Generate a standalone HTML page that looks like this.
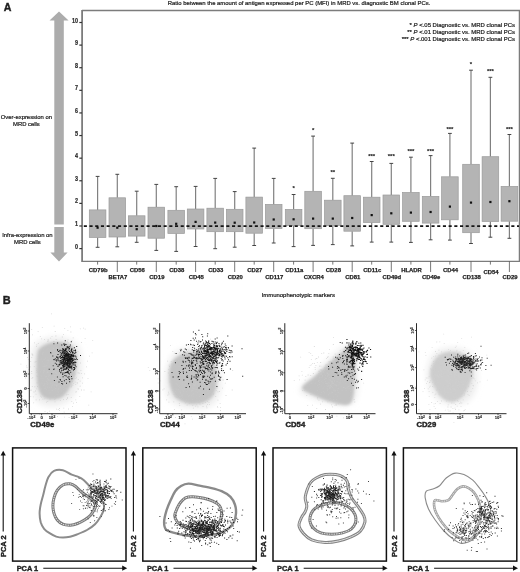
<!DOCTYPE html>
<html><head><meta charset="utf-8"><style>
html,body{margin:0;padding:0;background:#fff;}
body{width:520px;height:572px;overflow:hidden;}
svg{display:block;font-family:"Liberation Sans", sans-serif;filter:grayscale(1);}
text{stroke:#1e1e1e;stroke-width:0.22px;}
text.b{stroke-width:0.1px;}
text.h{stroke-width:0.4px;}
text.x{stroke-width:0.25px;}
</style></head><body>
<svg width="520" height="572" viewBox="0 0 520 572">
<defs>
<filter id="blur2" x="-50%" y="-50%" width="200%" height="200%"><feGaussianBlur stdDeviation="3"/></filter>
<filter id="blurc" x="-50%" y="-50%" width="200%" height="200%"><feGaussianBlur stdDeviation="1.6"/></filter>
<filter id="blur1" x="-50%" y="-50%" width="200%" height="200%"><feGaussianBlur stdDeviation="0.35"/></filter>
</defs>
<rect width="520" height="572" fill="#fff"/>
<text x="3.7" y="10.8" font-size="10.6" font-weight="bold" fill="#1e1e1e" class="h">A</text>
<polygon points="59,11.5 68.6,20.6 63.8,20.6 63.8,224.6 54.3,224.6 54.3,20.6 49.5,20.6" fill="#acacac"/>
<polygon points="54.3,227 63.8,227 63.8,252.6 67.6,252.6 59,261.4 50.4,252.6 54.3,252.6" fill="#acacac"/>
<text x="26.4" y="118.9" font-size="5.9" text-anchor="middle" fill="#1e1e1e">Over-expression on</text>
<text x="26.4" y="126.4" font-size="5.9" text-anchor="middle" fill="#1e1e1e">MRD cells</text>
<text x="27.4" y="236.7" font-size="5.9" text-anchor="middle" fill="#1e1e1e">Infra-expression on</text>
<text x="27.4" y="243.9" font-size="5.9" text-anchor="middle" fill="#1e1e1e">MRD cells</text>
<text x="167.7" y="5.2" font-size="5.93" fill="#1e1e1e">Ratio between the amount of antigen expressed per PC (MFI) in MRD vs. diagnostic BM clonal PCs.</text>
<text x="515" y="27.0" font-size="5.96" text-anchor="end" fill="#1e1e1e">* <tspan font-style="italic">P</tspan> &lt;.05 Diagnostic vs. MRD clonal PCs</text>
<text x="515" y="34.4" font-size="5.96" text-anchor="end" fill="#1e1e1e">** <tspan font-style="italic">P</tspan> &lt;.01 Diagnostic vs. MRD clonal PCs</text>
<text x="515" y="41.4" font-size="5.96" text-anchor="end" fill="#1e1e1e">*** <tspan font-style="italic">P</tspan> &lt;.001 Diagnostic vs. MRD clonal PCs</text>
<path d="M82,10.5 H519.4 V261.3 H82" fill="none" stroke="#7c7c7c" stroke-width="1.3"/>
<line x1="82.1" y1="9.9" x2="82.1" y2="262" stroke="#7c7c7c" stroke-width="1.8"/>
<line x1="79.3" y1="248.60" x2="82" y2="248.60" stroke="#333" stroke-width="1.2"/>
<text x="78" y="248.70" font-size="6.4" text-anchor="end" font-weight="bold" fill="#333" transform="translate(78 0) scale(0.85 1) translate(-78 0)">0</text>
<line x1="79.3" y1="225.99" x2="82" y2="225.99" stroke="#333" stroke-width="1.2"/>
<text x="78" y="226.09" font-size="6.4" text-anchor="end" font-weight="bold" fill="#333" transform="translate(78 0) scale(0.85 1) translate(-78 0)">1</text>
<line x1="79.3" y1="203.38" x2="82" y2="203.38" stroke="#333" stroke-width="1.2"/>
<text x="78" y="203.48" font-size="6.4" text-anchor="end" font-weight="bold" fill="#333" transform="translate(78 0) scale(0.85 1) translate(-78 0)">2</text>
<line x1="79.3" y1="180.77" x2="82" y2="180.77" stroke="#333" stroke-width="1.2"/>
<text x="78" y="180.87" font-size="6.4" text-anchor="end" font-weight="bold" fill="#333" transform="translate(78 0) scale(0.85 1) translate(-78 0)">3</text>
<line x1="79.3" y1="158.16" x2="82" y2="158.16" stroke="#333" stroke-width="1.2"/>
<text x="78" y="158.26" font-size="6.4" text-anchor="end" font-weight="bold" fill="#333" transform="translate(78 0) scale(0.85 1) translate(-78 0)">4</text>
<line x1="79.3" y1="135.55" x2="82" y2="135.55" stroke="#333" stroke-width="1.2"/>
<text x="78" y="135.65" font-size="6.4" text-anchor="end" font-weight="bold" fill="#333" transform="translate(78 0) scale(0.85 1) translate(-78 0)">5</text>
<line x1="79.3" y1="112.94" x2="82" y2="112.94" stroke="#333" stroke-width="1.2"/>
<text x="78" y="113.04" font-size="6.4" text-anchor="end" font-weight="bold" fill="#333" transform="translate(78 0) scale(0.85 1) translate(-78 0)">6</text>
<line x1="79.3" y1="90.33" x2="82" y2="90.33" stroke="#333" stroke-width="1.2"/>
<text x="78" y="90.43" font-size="6.4" text-anchor="end" font-weight="bold" fill="#333" transform="translate(78 0) scale(0.85 1) translate(-78 0)">7</text>
<line x1="79.3" y1="67.72" x2="82" y2="67.72" stroke="#333" stroke-width="1.2"/>
<text x="78" y="67.82" font-size="6.4" text-anchor="end" font-weight="bold" fill="#333" transform="translate(78 0) scale(0.85 1) translate(-78 0)">8</text>
<line x1="79.3" y1="45.11" x2="82" y2="45.11" stroke="#333" stroke-width="1.2"/>
<text x="78" y="45.21" font-size="6.4" text-anchor="end" font-weight="bold" fill="#333" transform="translate(78 0) scale(0.85 1) translate(-78 0)">9</text>
<line x1="79.3" y1="22.50" x2="82" y2="22.50" stroke="#333" stroke-width="1.2"/>
<text x="78" y="22.60" font-size="6.4" text-anchor="end" font-weight="bold" fill="#333" transform="translate(78 0) scale(0.85 1) translate(-78 0)">10</text>
<line x1="97.60" y1="176.4" x2="97.60" y2="209.9" stroke="#808080" stroke-width="1.2"/>
<line x1="97.60" y1="237.5" x2="97.60" y2="247.3" stroke="#808080" stroke-width="1.2"/>
<line x1="95.70" y1="176.4" x2="99.50" y2="176.4" stroke="#444" stroke-width="1"/>
<line x1="95.70" y1="247.3" x2="99.50" y2="247.3" stroke="#444" stroke-width="1"/>
<rect x="89.30" y="209.9" width="16.6" height="27.60" fill="#b4b4b4" stroke="#9a9a9a" stroke-width="0.7"/>
<line x1="117.30" y1="174.3" x2="117.30" y2="197.8" stroke="#808080" stroke-width="1.2"/>
<line x1="117.30" y1="237.0" x2="117.30" y2="246.8" stroke="#808080" stroke-width="1.2"/>
<line x1="115.40" y1="174.3" x2="119.20" y2="174.3" stroke="#444" stroke-width="1"/>
<line x1="115.40" y1="246.8" x2="119.20" y2="246.8" stroke="#444" stroke-width="1"/>
<rect x="109.00" y="197.8" width="16.6" height="39.20" fill="#b4b4b4" stroke="#9a9a9a" stroke-width="0.7"/>
<line x1="136.70" y1="191.2" x2="136.70" y2="215.8" stroke="#808080" stroke-width="1.2"/>
<line x1="136.70" y1="236.1" x2="136.70" y2="242.3" stroke="#808080" stroke-width="1.2"/>
<line x1="134.80" y1="191.2" x2="138.60" y2="191.2" stroke="#444" stroke-width="1"/>
<line x1="134.80" y1="242.3" x2="138.60" y2="242.3" stroke="#444" stroke-width="1"/>
<rect x="128.40" y="215.8" width="16.6" height="20.30" fill="#b4b4b4" stroke="#9a9a9a" stroke-width="0.7"/>
<line x1="156.30" y1="184.4" x2="156.30" y2="207.2" stroke="#808080" stroke-width="1.2"/>
<line x1="156.30" y1="238.2" x2="156.30" y2="250.4" stroke="#808080" stroke-width="1.2"/>
<line x1="154.40" y1="184.4" x2="158.20" y2="184.4" stroke="#444" stroke-width="1"/>
<line x1="154.40" y1="250.4" x2="158.20" y2="250.4" stroke="#444" stroke-width="1"/>
<rect x="148.00" y="207.2" width="16.6" height="31.00" fill="#b4b4b4" stroke="#9a9a9a" stroke-width="0.7"/>
<line x1="176.20" y1="186.7" x2="176.20" y2="210.3" stroke="#808080" stroke-width="1.2"/>
<line x1="176.20" y1="233.4" x2="176.20" y2="251.4" stroke="#808080" stroke-width="1.2"/>
<line x1="174.30" y1="186.7" x2="178.10" y2="186.7" stroke="#444" stroke-width="1"/>
<line x1="174.30" y1="251.4" x2="178.10" y2="251.4" stroke="#444" stroke-width="1"/>
<rect x="167.90" y="210.3" width="16.6" height="23.10" fill="#b4b4b4" stroke="#9a9a9a" stroke-width="0.7"/>
<line x1="195.60" y1="186.4" x2="195.60" y2="209.0" stroke="#808080" stroke-width="1.2"/>
<line x1="195.60" y1="229.0" x2="195.60" y2="246.5" stroke="#808080" stroke-width="1.2"/>
<line x1="193.70" y1="186.4" x2="197.50" y2="186.4" stroke="#444" stroke-width="1"/>
<line x1="193.70" y1="246.5" x2="197.50" y2="246.5" stroke="#444" stroke-width="1"/>
<rect x="187.30" y="209.0" width="16.6" height="20.00" fill="#b4b4b4" stroke="#9a9a9a" stroke-width="0.7"/>
<line x1="215.20" y1="178.4" x2="215.20" y2="208.2" stroke="#808080" stroke-width="1.2"/>
<line x1="215.20" y1="231.7" x2="215.20" y2="248.7" stroke="#808080" stroke-width="1.2"/>
<line x1="213.30" y1="178.4" x2="217.10" y2="178.4" stroke="#444" stroke-width="1"/>
<line x1="213.30" y1="248.7" x2="217.10" y2="248.7" stroke="#444" stroke-width="1"/>
<rect x="206.90" y="208.2" width="16.6" height="23.50" fill="#b4b4b4" stroke="#9a9a9a" stroke-width="0.7"/>
<line x1="234.70" y1="191.6" x2="234.70" y2="209.3" stroke="#808080" stroke-width="1.2"/>
<line x1="234.70" y1="231.7" x2="234.70" y2="247.2" stroke="#808080" stroke-width="1.2"/>
<line x1="232.80" y1="191.6" x2="236.60" y2="191.6" stroke="#444" stroke-width="1"/>
<line x1="232.80" y1="247.2" x2="236.60" y2="247.2" stroke="#444" stroke-width="1"/>
<rect x="226.40" y="209.3" width="16.6" height="22.40" fill="#b4b4b4" stroke="#9a9a9a" stroke-width="0.7"/>
<line x1="254.20" y1="148.1" x2="254.20" y2="197.1" stroke="#808080" stroke-width="1.2"/>
<line x1="254.20" y1="233.2" x2="254.20" y2="245.5" stroke="#808080" stroke-width="1.2"/>
<line x1="252.30" y1="148.1" x2="256.10" y2="148.1" stroke="#444" stroke-width="1"/>
<line x1="252.30" y1="245.5" x2="256.10" y2="245.5" stroke="#444" stroke-width="1"/>
<rect x="245.90" y="197.1" width="16.6" height="36.10" fill="#b4b4b4" stroke="#9a9a9a" stroke-width="0.7"/>
<line x1="273.70" y1="178.4" x2="273.70" y2="204.4" stroke="#808080" stroke-width="1.2"/>
<line x1="273.70" y1="228.5" x2="273.70" y2="243.0" stroke="#808080" stroke-width="1.2"/>
<line x1="271.80" y1="178.4" x2="275.60" y2="178.4" stroke="#444" stroke-width="1"/>
<line x1="271.80" y1="243.0" x2="275.60" y2="243.0" stroke="#444" stroke-width="1"/>
<rect x="265.40" y="204.4" width="16.6" height="24.10" fill="#b4b4b4" stroke="#9a9a9a" stroke-width="0.7"/>
<line x1="293.60" y1="194.5" x2="293.60" y2="209.4" stroke="#808080" stroke-width="1.2"/>
<line x1="293.60" y1="225.5" x2="293.60" y2="246.6" stroke="#808080" stroke-width="1.2"/>
<line x1="291.70" y1="194.5" x2="295.50" y2="194.5" stroke="#444" stroke-width="1"/>
<line x1="291.70" y1="246.6" x2="295.50" y2="246.6" stroke="#444" stroke-width="1"/>
<rect x="285.30" y="209.4" width="16.6" height="16.10" fill="#b4b4b4" stroke="#9a9a9a" stroke-width="0.7"/>
<text x="293.60" y="190.00" font-size="6" font-weight="bold" text-anchor="middle" fill="#222" class="b">*</text>
<line x1="313.10" y1="136.1" x2="313.10" y2="191.3" stroke="#808080" stroke-width="1.2"/>
<line x1="313.10" y1="228.7" x2="313.10" y2="245.4" stroke="#808080" stroke-width="1.2"/>
<line x1="311.20" y1="136.1" x2="315.00" y2="136.1" stroke="#444" stroke-width="1"/>
<line x1="311.20" y1="245.4" x2="315.00" y2="245.4" stroke="#444" stroke-width="1"/>
<rect x="304.80" y="191.3" width="16.6" height="37.40" fill="#b4b4b4" stroke="#9a9a9a" stroke-width="0.7"/>
<text x="313.10" y="131.80" font-size="6" font-weight="bold" text-anchor="middle" fill="#222" class="b">*</text>
<line x1="332.80" y1="178.3" x2="332.80" y2="200.2" stroke="#808080" stroke-width="1.2"/>
<line x1="332.80" y1="225.5" x2="332.80" y2="244.6" stroke="#808080" stroke-width="1.2"/>
<line x1="330.90" y1="178.3" x2="334.70" y2="178.3" stroke="#444" stroke-width="1"/>
<line x1="330.90" y1="244.6" x2="334.70" y2="244.6" stroke="#444" stroke-width="1"/>
<rect x="324.50" y="200.2" width="16.6" height="25.30" fill="#b4b4b4" stroke="#9a9a9a" stroke-width="0.7"/>
<text x="332.80" y="174.40" font-size="6" font-weight="bold" text-anchor="middle" fill="#222" class="b">**</text>
<line x1="352.20" y1="143.1" x2="352.20" y2="195.7" stroke="#808080" stroke-width="1.2"/>
<line x1="352.20" y1="231.2" x2="352.20" y2="245.9" stroke="#808080" stroke-width="1.2"/>
<line x1="350.30" y1="143.1" x2="354.10" y2="143.1" stroke="#444" stroke-width="1"/>
<line x1="350.30" y1="245.9" x2="354.10" y2="245.9" stroke="#444" stroke-width="1"/>
<rect x="343.90" y="195.7" width="16.6" height="35.50" fill="#b4b4b4" stroke="#9a9a9a" stroke-width="0.7"/>
<line x1="371.70" y1="161.5" x2="371.70" y2="197.2" stroke="#808080" stroke-width="1.2"/>
<line x1="371.70" y1="222.5" x2="371.70" y2="242.1" stroke="#808080" stroke-width="1.2"/>
<line x1="369.80" y1="161.5" x2="373.60" y2="161.5" stroke="#444" stroke-width="1"/>
<line x1="369.80" y1="242.1" x2="373.60" y2="242.1" stroke="#444" stroke-width="1"/>
<rect x="363.40" y="197.2" width="16.6" height="25.30" fill="#b4b4b4" stroke="#9a9a9a" stroke-width="0.7"/>
<text x="371.70" y="158.30" font-size="6" font-weight="bold" text-anchor="middle" fill="#222" class="b">***</text>
<line x1="391.30" y1="163.4" x2="391.30" y2="195.0" stroke="#808080" stroke-width="1.2"/>
<line x1="391.30" y1="224.3" x2="391.30" y2="242.1" stroke="#808080" stroke-width="1.2"/>
<line x1="389.40" y1="163.4" x2="393.20" y2="163.4" stroke="#444" stroke-width="1"/>
<line x1="389.40" y1="242.1" x2="393.20" y2="242.1" stroke="#444" stroke-width="1"/>
<rect x="383.00" y="195.0" width="16.6" height="29.30" fill="#b4b4b4" stroke="#9a9a9a" stroke-width="0.7"/>
<text x="391.30" y="157.50" font-size="6" font-weight="bold" text-anchor="middle" fill="#222" class="b">***</text>
<line x1="410.90" y1="157.2" x2="410.90" y2="192.5" stroke="#808080" stroke-width="1.2"/>
<line x1="410.90" y1="221.3" x2="410.90" y2="242.4" stroke="#808080" stroke-width="1.2"/>
<line x1="409.00" y1="157.2" x2="412.80" y2="157.2" stroke="#444" stroke-width="1"/>
<line x1="409.00" y1="242.4" x2="412.80" y2="242.4" stroke="#444" stroke-width="1"/>
<rect x="402.60" y="192.5" width="16.6" height="28.80" fill="#b4b4b4" stroke="#9a9a9a" stroke-width="0.7"/>
<text x="410.90" y="153.30" font-size="6" font-weight="bold" text-anchor="middle" fill="#222" class="b">***</text>
<line x1="430.60" y1="155.6" x2="430.60" y2="196.4" stroke="#808080" stroke-width="1.2"/>
<line x1="430.60" y1="223.1" x2="430.60" y2="239.8" stroke="#808080" stroke-width="1.2"/>
<line x1="428.70" y1="155.6" x2="432.50" y2="155.6" stroke="#444" stroke-width="1"/>
<line x1="428.70" y1="239.8" x2="432.50" y2="239.8" stroke="#444" stroke-width="1"/>
<rect x="422.30" y="196.4" width="16.6" height="26.70" fill="#b4b4b4" stroke="#9a9a9a" stroke-width="0.7"/>
<text x="430.60" y="152.80" font-size="6" font-weight="bold" text-anchor="middle" fill="#222" class="b">***</text>
<line x1="449.90" y1="133.4" x2="449.90" y2="176.8" stroke="#808080" stroke-width="1.2"/>
<line x1="449.90" y1="219.8" x2="449.90" y2="240.1" stroke="#808080" stroke-width="1.2"/>
<line x1="448.00" y1="133.4" x2="451.80" y2="133.4" stroke="#444" stroke-width="1"/>
<line x1="448.00" y1="240.1" x2="451.80" y2="240.1" stroke="#444" stroke-width="1"/>
<rect x="441.60" y="176.8" width="16.6" height="43.00" fill="#b4b4b4" stroke="#9a9a9a" stroke-width="0.7"/>
<text x="449.90" y="130.60" font-size="6" font-weight="bold" text-anchor="middle" fill="#222" class="b">***</text>
<line x1="471.00" y1="70.2" x2="471.00" y2="164.3" stroke="#808080" stroke-width="1.2"/>
<line x1="471.00" y1="232.7" x2="471.00" y2="243.5" stroke="#808080" stroke-width="1.2"/>
<line x1="469.10" y1="70.2" x2="472.90" y2="70.2" stroke="#444" stroke-width="1"/>
<line x1="469.10" y1="243.5" x2="472.90" y2="243.5" stroke="#444" stroke-width="1"/>
<rect x="462.70" y="164.3" width="16.6" height="68.40" fill="#b4b4b4" stroke="#9a9a9a" stroke-width="0.7"/>
<text x="471.00" y="65.60" font-size="6" font-weight="bold" text-anchor="middle" fill="#222" class="b">*</text>
<line x1="490.40" y1="77.3" x2="490.40" y2="156.7" stroke="#808080" stroke-width="1.2"/>
<line x1="490.40" y1="221.5" x2="490.40" y2="237.2" stroke="#808080" stroke-width="1.2"/>
<line x1="488.50" y1="77.3" x2="492.30" y2="77.3" stroke="#444" stroke-width="1"/>
<line x1="488.50" y1="237.2" x2="492.30" y2="237.2" stroke="#444" stroke-width="1"/>
<rect x="482.10" y="156.7" width="16.6" height="64.80" fill="#b4b4b4" stroke="#9a9a9a" stroke-width="0.7"/>
<text x="490.40" y="72.80" font-size="6" font-weight="bold" text-anchor="middle" fill="#222" class="b">***</text>
<line x1="509.40" y1="134.5" x2="509.40" y2="186.4" stroke="#808080" stroke-width="1.2"/>
<line x1="509.40" y1="221.2" x2="509.40" y2="238.3" stroke="#808080" stroke-width="1.2"/>
<line x1="507.50" y1="134.5" x2="511.30" y2="134.5" stroke="#444" stroke-width="1"/>
<line x1="507.50" y1="238.3" x2="511.30" y2="238.3" stroke="#444" stroke-width="1"/>
<rect x="501.10" y="186.4" width="16.6" height="34.80" fill="#b4b4b4" stroke="#9a9a9a" stroke-width="0.7"/>
<text x="509.40" y="131.30" font-size="6" font-weight="bold" text-anchor="middle" fill="#222" class="b">***</text>
<line x1="83.8" y1="226.1" x2="519" y2="226.1" stroke="#151515" stroke-width="1.6" stroke-dasharray="3.1 2.6"/>
<rect x="96.50" y="226.60" width="2.2" height="2.2" fill="#111"/>
<rect x="116.20" y="226.60" width="2.2" height="2.2" fill="#111"/>
<rect x="135.60" y="228.10" width="2.2" height="2.2" fill="#111"/>
<rect x="155.20" y="224.90" width="2.2" height="2.2" fill="#111"/>
<rect x="175.10" y="222.70" width="2.2" height="2.2" fill="#111"/>
<rect x="194.50" y="220.80" width="2.2" height="2.2" fill="#111"/>
<rect x="214.10" y="221.50" width="2.2" height="2.2" fill="#111"/>
<rect x="233.60" y="221.60" width="2.2" height="2.2" fill="#111"/>
<rect x="253.10" y="221.40" width="2.2" height="2.2" fill="#111"/>
<rect x="272.60" y="218.40" width="2.2" height="2.2" fill="#111"/>
<rect x="292.50" y="218.20" width="2.2" height="2.2" fill="#111"/>
<rect x="312.00" y="217.50" width="2.2" height="2.2" fill="#111"/>
<rect x="331.70" y="217.50" width="2.2" height="2.2" fill="#111"/>
<rect x="351.10" y="216.90" width="2.2" height="2.2" fill="#111"/>
<rect x="370.60" y="214.00" width="2.2" height="2.2" fill="#111"/>
<rect x="390.20" y="212.20" width="2.2" height="2.2" fill="#111"/>
<rect x="409.80" y="211.50" width="2.2" height="2.2" fill="#111"/>
<rect x="429.50" y="210.90" width="2.2" height="2.2" fill="#111"/>
<rect x="448.80" y="205.50" width="2.2" height="2.2" fill="#111"/>
<rect x="469.90" y="201.50" width="2.2" height="2.2" fill="#111"/>
<rect x="489.30" y="200.90" width="2.2" height="2.2" fill="#111"/>
<rect x="508.30" y="200.10" width="2.2" height="2.2" fill="#111"/>
<line x1="97.60" y1="261.3" x2="97.60" y2="264.6" stroke="#555" stroke-width="0.8"/>
<text x="98.20" y="271.9" font-size="5.9" font-weight="bold" text-anchor="middle" fill="#1e1e1e" class="x">CD79b</text>
<line x1="117.30" y1="261.3" x2="117.30" y2="272" stroke="#555" stroke-width="0.8"/>
<text x="117.90" y="278.6" font-size="5.9" font-weight="bold" text-anchor="middle" fill="#1e1e1e" class="x">BETA7</text>
<line x1="136.70" y1="261.3" x2="136.70" y2="264.6" stroke="#555" stroke-width="0.8"/>
<text x="137.30" y="271.9" font-size="5.9" font-weight="bold" text-anchor="middle" fill="#1e1e1e" class="x">CD56</text>
<line x1="156.30" y1="261.3" x2="156.30" y2="272" stroke="#555" stroke-width="0.8"/>
<text x="156.90" y="278.6" font-size="5.9" font-weight="bold" text-anchor="middle" fill="#1e1e1e" class="x">CD19</text>
<line x1="176.20" y1="261.3" x2="176.20" y2="264.6" stroke="#555" stroke-width="0.8"/>
<text x="176.80" y="271.9" font-size="5.9" font-weight="bold" text-anchor="middle" fill="#1e1e1e" class="x">CD38</text>
<line x1="195.60" y1="261.3" x2="195.60" y2="272" stroke="#555" stroke-width="0.8"/>
<text x="196.20" y="278.6" font-size="5.9" font-weight="bold" text-anchor="middle" fill="#1e1e1e" class="x">CD45</text>
<line x1="215.20" y1="261.3" x2="215.20" y2="264.6" stroke="#555" stroke-width="0.8"/>
<text x="215.80" y="271.9" font-size="5.9" font-weight="bold" text-anchor="middle" fill="#1e1e1e" class="x">CD33</text>
<line x1="234.70" y1="261.3" x2="234.70" y2="272" stroke="#555" stroke-width="0.8"/>
<text x="235.30" y="278.6" font-size="5.9" font-weight="bold" text-anchor="middle" fill="#1e1e1e" class="x">CD20</text>
<line x1="254.20" y1="261.3" x2="254.20" y2="264.6" stroke="#555" stroke-width="0.8"/>
<text x="254.80" y="271.9" font-size="5.9" font-weight="bold" text-anchor="middle" fill="#1e1e1e" class="x">CD27</text>
<line x1="273.70" y1="261.3" x2="273.70" y2="272" stroke="#555" stroke-width="0.8"/>
<text x="274.30" y="278.6" font-size="5.9" font-weight="bold" text-anchor="middle" fill="#1e1e1e" class="x">CD117</text>
<line x1="293.60" y1="261.3" x2="293.60" y2="264.6" stroke="#555" stroke-width="0.8"/>
<text x="294.20" y="271.9" font-size="5.9" font-weight="bold" text-anchor="middle" fill="#1e1e1e" class="x">CD11a</text>
<line x1="313.10" y1="261.3" x2="313.10" y2="272" stroke="#555" stroke-width="0.8"/>
<text x="313.70" y="278.6" font-size="5.9" font-weight="bold" text-anchor="middle" fill="#1e1e1e" class="x">CXCR4</text>
<line x1="332.80" y1="261.3" x2="332.80" y2="264.6" stroke="#555" stroke-width="0.8"/>
<text x="333.40" y="271.9" font-size="5.9" font-weight="bold" text-anchor="middle" fill="#1e1e1e" class="x">CD28</text>
<line x1="352.20" y1="261.3" x2="352.20" y2="272" stroke="#555" stroke-width="0.8"/>
<text x="352.80" y="278.6" font-size="5.9" font-weight="bold" text-anchor="middle" fill="#1e1e1e" class="x">CD81</text>
<line x1="371.70" y1="261.3" x2="371.70" y2="264.6" stroke="#555" stroke-width="0.8"/>
<text x="372.30" y="271.9" font-size="5.9" font-weight="bold" text-anchor="middle" fill="#1e1e1e" class="x">CD11c</text>
<line x1="391.30" y1="261.3" x2="391.30" y2="272" stroke="#555" stroke-width="0.8"/>
<text x="391.90" y="278.6" font-size="5.9" font-weight="bold" text-anchor="middle" fill="#1e1e1e" class="x">CD49d</text>
<line x1="410.90" y1="261.3" x2="410.90" y2="264.6" stroke="#555" stroke-width="0.8"/>
<text x="411.50" y="271.9" font-size="5.9" font-weight="bold" text-anchor="middle" fill="#1e1e1e" class="x">HLADR</text>
<line x1="430.60" y1="261.3" x2="430.60" y2="272" stroke="#555" stroke-width="0.8"/>
<text x="431.20" y="278.6" font-size="5.9" font-weight="bold" text-anchor="middle" fill="#1e1e1e" class="x">CD49e</text>
<line x1="449.90" y1="261.3" x2="449.90" y2="264.6" stroke="#555" stroke-width="0.8"/>
<text x="450.50" y="271.9" font-size="5.9" font-weight="bold" text-anchor="middle" fill="#1e1e1e" class="x">CD44</text>
<line x1="471.00" y1="261.3" x2="471.00" y2="272" stroke="#555" stroke-width="0.8"/>
<text x="471.60" y="278.6" font-size="5.9" font-weight="bold" text-anchor="middle" fill="#1e1e1e" class="x">CD138</text>
<line x1="490.40" y1="261.3" x2="490.40" y2="264.6" stroke="#555" stroke-width="0.8"/>
<text x="491.00" y="273.6" font-size="5.9" font-weight="bold" text-anchor="middle" fill="#1e1e1e" class="x">CD54</text>
<line x1="509.40" y1="261.3" x2="509.40" y2="272" stroke="#555" stroke-width="0.8"/>
<text x="510.00" y="278.6" font-size="5.9" font-weight="bold" text-anchor="middle" fill="#1e1e1e" class="x">CD29</text>
<text x="298.3" y="297" font-size="5.95" text-anchor="middle" fill="#1e1e1e">Immunophenotypic markers</text>
<text x="2.7" y="304.4" font-size="11" font-weight="bold" fill="#1e1e1e" class="h">B</text>
<path d="M35.0,345.0 C37.8,341.0 43.2,339.2 48.0,338.0 C52.8,336.8 59.0,336.7 64.0,338.0 C69.0,339.3 75.0,341.3 78.0,346.0 C81.0,350.7 82.0,359.3 82.0,366.0 C82.0,372.7 80.0,380.3 78.0,386.0 C76.0,391.7 74.0,396.7 70.0,400.0 C66.0,403.3 59.3,405.7 54.0,406.0 C48.7,406.3 41.7,405.0 38.0,402.0 C34.3,399.0 33.2,394.7 32.0,388.0 C30.8,381.3 30.5,369.2 31.0,362.0 C31.5,354.8 32.2,349.0 35.0,345.0Z" fill="#ececec" filter="url(#blur2)"/>
<path d="M167.0,368.0 C168.8,362.7 171.5,355.3 176.0,352.0 C180.5,348.7 188.0,348.0 194.0,348.0 C200.0,348.0 207.7,348.7 212.0,352.0 C216.3,355.3 218.7,361.3 220.0,368.0 C221.3,374.7 221.7,385.7 220.0,392.0 C218.3,398.3 215.3,403.3 210.0,406.0 C204.7,408.7 194.7,409.0 188.0,408.0 C181.3,407.0 173.8,404.0 170.0,400.0 C166.2,396.0 165.5,389.3 165.0,384.0 C164.5,378.7 165.2,373.3 167.0,368.0Z" fill="#ececec" filter="url(#blur2)"/>
<path d="M300.0,390.0 C301.0,385.8 310.7,377.7 316.0,372.0 C321.3,366.3 327.0,360.3 332.0,356.0 C337.0,351.7 342.0,346.7 346.0,346.0 C350.0,345.3 354.0,347.3 356.0,352.0 C358.0,356.7 358.0,366.3 358.0,374.0 C358.0,381.7 358.0,392.8 356.0,398.0 C354.0,403.2 350.7,404.2 346.0,405.0 C341.3,405.8 334.0,404.3 328.0,403.0 C322.0,401.7 314.7,399.2 310.0,397.0 C305.3,394.8 299.0,394.2 300.0,390.0Z" fill="#ececec" filter="url(#blur2)"/>
<path d="M428.0,366.0 C429.3,361.0 432.0,355.0 436.0,352.0 C440.0,349.0 446.7,348.0 452.0,348.0 C457.3,348.0 464.0,349.0 468.0,352.0 C472.0,355.0 474.7,360.0 476.0,366.0 C477.3,372.0 477.7,382.0 476.0,388.0 C474.3,394.0 470.7,399.3 466.0,402.0 C461.3,404.7 453.3,405.0 448.0,404.0 C442.7,403.0 437.3,399.7 434.0,396.0 C430.7,392.3 429.0,387.0 428.0,382.0 C427.0,377.0 426.7,371.0 428.0,366.0Z" fill="#ececec" filter="url(#blur2)"/>
<path d="M40.0,348.0 C41.9,346.3 45.9,344.0 49.0,343.0 C52.1,342.0 55.2,341.8 58.5,342.0 C61.8,342.2 66.2,342.5 69.0,344.0 C71.8,345.5 74.2,347.3 75.5,351.0 C76.8,354.7 76.8,361.3 76.5,366.0 C76.2,370.7 75.3,375.0 74.0,379.0 C72.7,383.0 70.6,386.9 68.5,390.0 C66.4,393.1 64.4,395.9 61.5,397.5 C58.6,399.1 54.2,399.8 51.0,399.5 C47.8,399.2 44.2,398.4 42.0,396.0 C39.8,393.6 38.4,390.0 37.5,385.0 C36.6,380.0 36.5,371.3 36.5,366.0 C36.5,360.7 36.9,356.0 37.5,353.0 C38.1,350.0 38.1,349.7 40.0,348.0Z" fill="#c3c3c3" filter="url(#blurc)"/>
<path d="M172.0,362.0 C173.8,359.2 176.7,356.7 180.0,355.0 C183.3,353.3 187.7,352.2 192.0,352.0 C196.3,351.8 202.3,352.3 206.0,354.0 C209.7,355.7 212.2,358.0 214.0,362.0 C215.8,366.0 217.0,372.7 217.0,378.0 C217.0,383.3 216.0,390.0 214.0,394.0 C212.0,398.0 209.0,400.3 205.0,402.0 C201.0,403.7 194.8,404.7 190.0,404.0 C185.2,403.3 179.3,401.0 176.0,398.0 C172.7,395.0 171.2,390.3 170.0,386.0 C168.8,381.7 168.7,376.0 169.0,372.0 C169.3,368.0 170.2,364.8 172.0,362.0Z" fill="#c4c4c4" filter="url(#blurc)"/>
<path d="M302.0,388.0 C302.0,384.7 310.3,380.3 315.0,376.0 C319.7,371.7 325.5,366.0 330.0,362.0 C334.5,358.0 338.7,354.8 342.0,352.0 C345.3,349.2 347.8,345.0 350.0,345.0 C352.2,345.0 354.2,347.0 355.0,352.0 C355.8,357.0 355.3,367.3 355.0,375.0 C354.7,382.7 354.3,393.0 353.0,398.0 C351.7,403.0 350.8,404.3 347.0,405.0 C343.2,405.7 335.3,403.5 330.0,402.0 C324.7,400.5 319.7,398.3 315.0,396.0 C310.3,393.7 302.0,391.3 302.0,388.0Z" fill="#c2c2c2" filter="url(#blurc)"/>
<path d="M432.0,365.0 C433.3,361.7 435.3,358.2 438.0,356.0 C440.7,353.8 444.3,352.5 448.0,352.0 C451.7,351.5 456.3,351.7 460.0,353.0 C463.7,354.3 467.8,356.8 470.0,360.0 C472.2,363.2 473.2,367.7 473.0,372.0 C472.8,376.3 470.8,381.8 469.0,386.0 C467.2,390.2 464.8,394.3 462.0,397.0 C459.2,399.7 455.3,401.8 452.0,402.0 C448.7,402.2 444.8,400.3 442.0,398.0 C439.2,395.7 437.0,391.7 435.0,388.0 C433.0,384.3 430.5,379.8 430.0,376.0 C429.5,372.2 430.7,368.3 432.0,365.0Z" fill="#cdcdcd" filter="url(#blurc)"/>
<path d="M52.7,380.7h0.8v0.8h-0.8zM53.1,366.6h0.8v0.8h-0.8zM43.9,368.4h0.8v0.8h-0.8zM70.5,379.2h0.8v0.8h-0.8zM69.5,376.2h0.8v0.8h-0.8zM61.1,375.2h0.8v0.8h-0.8zM34.3,386.5h0.8v0.8h-0.8zM62.6,380.5h0.8v0.8h-0.8zM34.0,342.4h0.8v0.8h-0.8zM44.4,364.0h0.8v0.8h-0.8zM60.0,371.2h0.8v0.8h-0.8zM62.8,361.1h0.8v0.8h-0.8zM60.0,378.7h0.8v0.8h-0.8zM47.4,401.2h0.8v0.8h-0.8zM63.2,392.3h0.8v0.8h-0.8zM47.9,359.4h0.8v0.8h-0.8zM51.5,370.2h0.8v0.8h-0.8zM64.2,376.2h0.8v0.8h-0.8zM50.2,355.7h0.8v0.8h-0.8zM49.2,392.8h0.8v0.8h-0.8zM45.5,376.2h0.8v0.8h-0.8zM61.5,346.7h0.8v0.8h-0.8zM56.6,394.2h0.8v0.8h-0.8zM29.8,366.5h0.8v0.8h-0.8zM54.6,358.1h0.8v0.8h-0.8zM62.5,370.9h0.8v0.8h-0.8zM37.0,386.1h0.8v0.8h-0.8zM64.7,388.1h0.8v0.8h-0.8zM74.7,378.2h0.8v0.8h-0.8zM57.6,349.9h0.8v0.8h-0.8zM64.0,361.6h0.8v0.8h-0.8zM50.1,350.5h0.8v0.8h-0.8zM43.4,363.0h0.8v0.8h-0.8zM72.8,337.5h0.8v0.8h-0.8zM37.0,376.1h0.8v0.8h-0.8zM74.8,381.8h0.8v0.8h-0.8zM31.3,329.2h0.8v0.8h-0.8zM60.6,359.5h0.8v0.8h-0.8zM41.4,388.6h0.8v0.8h-0.8zM70.3,374.7h0.8v0.8h-0.8zM59.2,379.4h0.8v0.8h-0.8zM76.7,382.5h0.8v0.8h-0.8zM62.7,381.3h0.8v0.8h-0.8zM35.6,393.8h0.8v0.8h-0.8zM68.4,381.0h0.8v0.8h-0.8zM30.3,361.2h0.8v0.8h-0.8zM66.9,341.2h0.8v0.8h-0.8zM53.6,389.3h0.8v0.8h-0.8zM39.0,399.4h0.8v0.8h-0.8zM63.2,369.4h0.8v0.8h-0.8zM60.2,383.0h0.8v0.8h-0.8zM57.6,391.5h0.8v0.8h-0.8zM47.4,364.9h0.8v0.8h-0.8zM69.5,372.5h0.8v0.8h-0.8zM44.6,388.1h0.8v0.8h-0.8zM75.1,364.4h0.8v0.8h-0.8zM38.1,369.7h0.8v0.8h-0.8zM54.1,366.9h0.8v0.8h-0.8zM74.3,354.5h0.8v0.8h-0.8zM72.4,350.4h0.8v0.8h-0.8zM45.8,382.7h0.8v0.8h-0.8zM70.7,386.6h0.8v0.8h-0.8zM60.5,374.4h0.8v0.8h-0.8zM58.0,381.8h0.8v0.8h-0.8zM53.7,376.7h0.8v0.8h-0.8zM63.4,372.0h0.8v0.8h-0.8zM65.9,381.6h0.8v0.8h-0.8zM82.1,377.5h0.8v0.8h-0.8zM50.4,365.7h0.8v0.8h-0.8zM55.8,387.7h0.8v0.8h-0.8zM51.6,378.6h0.8v0.8h-0.8zM79.9,328.4h0.8v0.8h-0.8zM41.4,376.1h0.8v0.8h-0.8zM61.2,376.1h0.8v0.8h-0.8zM50.4,383.1h0.8v0.8h-0.8zM59.7,363.1h0.8v0.8h-0.8zM87.6,378.0h0.8v0.8h-0.8zM48.8,370.3h0.8v0.8h-0.8zM53.1,370.9h0.8v0.8h-0.8zM20.5,363.7h0.8v0.8h-0.8zM69.1,352.1h0.8v0.8h-0.8zM55.1,388.2h0.8v0.8h-0.8zM67.1,397.3h0.8v0.8h-0.8zM33.9,366.0h0.8v0.8h-0.8zM51.6,382.6h0.8v0.8h-0.8zM70.2,326.4h0.8v0.8h-0.8zM70.2,347.4h0.8v0.8h-0.8zM64.9,346.6h0.8v0.8h-0.8zM58.3,392.3h0.8v0.8h-0.8zM54.1,375.2h0.8v0.8h-0.8zM66.4,374.4h0.8v0.8h-0.8zM54.8,398.1h0.8v0.8h-0.8zM69.6,367.0h0.8v0.8h-0.8zM91.7,352.5h0.8v0.8h-0.8zM67.9,367.5h0.8v0.8h-0.8zM57.7,384.0h0.8v0.8h-0.8zM58.9,382.9h0.8v0.8h-0.8zM36.1,346.3h0.8v0.8h-0.8zM64.0,355.6h0.8v0.8h-0.8zM42.7,347.0h0.8v0.8h-0.8zM72.5,384.7h0.8v0.8h-0.8zM75.1,356.1h0.8v0.8h-0.8zM56.0,352.6h0.8v0.8h-0.8zM66.0,399.0h0.8v0.8h-0.8zM44.4,398.5h0.8v0.8h-0.8zM68.8,369.0h0.8v0.8h-0.8zM30.4,395.9h0.8v0.8h-0.8zM54.7,361.8h0.8v0.8h-0.8zM61.2,379.0h0.8v0.8h-0.8zM75.5,354.7h0.8v0.8h-0.8zM70.8,397.3h0.8v0.8h-0.8zM74.9,368.9h0.8v0.8h-0.8zM46.3,389.3h0.8v0.8h-0.8zM57.5,374.1h0.8v0.8h-0.8zM74.5,367.5h0.8v0.8h-0.8zM26.1,365.4h0.8v0.8h-0.8zM31.9,385.9h0.8v0.8h-0.8zM60.1,361.6h0.8v0.8h-0.8zM55.9,386.2h0.8v0.8h-0.8zM57.0,394.6h0.8v0.8h-0.8zM55.2,389.7h0.8v0.8h-0.8zM75.4,399.4h0.8v0.8h-0.8zM47.3,387.0h0.8v0.8h-0.8zM31.6,353.6h0.8v0.8h-0.8zM30.5,390.2h0.8v0.8h-0.8zM40.0,371.8h0.8v0.8h-0.8zM53.5,371.5h0.8v0.8h-0.8zM48.3,376.0h0.8v0.8h-0.8zM79.3,372.8h0.8v0.8h-0.8zM62.9,389.0h0.8v0.8h-0.8zM53.4,350.6h0.8v0.8h-0.8zM48.8,390.3h0.8v0.8h-0.8zM34.6,361.8h0.8v0.8h-0.8zM69.1,385.5h0.8v0.8h-0.8zM56.1,385.7h0.8v0.8h-0.8zM58.2,352.0h0.8v0.8h-0.8zM35.7,361.1h0.8v0.8h-0.8zM68.0,362.4h0.8v0.8h-0.8zM44.3,358.9h0.8v0.8h-0.8zM36.1,370.0h0.8v0.8h-0.8zM40.7,378.2h0.8v0.8h-0.8zM25.3,377.6h0.8v0.8h-0.8zM47.7,339.0h0.8v0.8h-0.8zM65.4,367.3h0.8v0.8h-0.8zM27.0,357.1h0.8v0.8h-0.8zM59.8,364.2h0.8v0.8h-0.8zM66.1,384.7h0.8v0.8h-0.8zM64.7,377.6h0.8v0.8h-0.8zM73.3,383.2h0.8v0.8h-0.8zM61.9,336.6h0.8v0.8h-0.8zM67.7,394.3h0.8v0.8h-0.8zM52.1,364.0h0.8v0.8h-0.8zM81.2,342.1h0.8v0.8h-0.8zM62.1,413.2h0.8v0.8h-0.8zM43.9,383.7h0.8v0.8h-0.8zM80.5,370.0h0.8v0.8h-0.8zM63.3,387.3h0.8v0.8h-0.8zM44.2,370.5h0.8v0.8h-0.8zM59.8,386.0h0.8v0.8h-0.8zM55.6,368.7h0.8v0.8h-0.8zM42.8,365.9h0.8v0.8h-0.8zM67.6,373.7h0.8v0.8h-0.8zM44.9,357.7h0.8v0.8h-0.8zM90.7,391.4h0.8v0.8h-0.8zM64.3,327.9h0.8v0.8h-0.8zM64.1,380.2h0.8v0.8h-0.8zM77.9,379.3h0.8v0.8h-0.8zM55.1,380.9h0.8v0.8h-0.8zM30.7,389.6h0.8v0.8h-0.8zM60.2,360.1h0.8v0.8h-0.8zM73.2,402.8h0.8v0.8h-0.8zM37.8,360.7h0.8v0.8h-0.8zM59.8,375.1h0.8v0.8h-0.8zM50.8,355.4h0.8v0.8h-0.8zM83.6,389.6h0.8v0.8h-0.8zM40.5,349.1h0.8v0.8h-0.8zM78.1,388.8h0.8v0.8h-0.8zM79.7,385.8h0.8v0.8h-0.8zM44.7,376.4h0.8v0.8h-0.8zM27.9,359.3h0.8v0.8h-0.8zM55.2,380.9h0.8v0.8h-0.8zM46.5,369.9h0.8v0.8h-0.8zM62.0,378.4h0.8v0.8h-0.8zM64.3,375.6h0.8v0.8h-0.8zM51.8,385.4h0.8v0.8h-0.8zM56.6,358.0h0.8v0.8h-0.8zM47.9,372.0h0.8v0.8h-0.8zM54.6,374.7h0.8v0.8h-0.8zM56.0,375.0h0.8v0.8h-0.8zM54.3,350.6h0.8v0.8h-0.8zM61.5,389.9h0.8v0.8h-0.8zM61.7,368.8h0.8v0.8h-0.8zM61.8,355.6h0.8v0.8h-0.8zM31.4,373.0h0.8v0.8h-0.8zM43.9,384.6h0.8v0.8h-0.8zM41.9,327.3h0.8v0.8h-0.8zM42.5,398.8h0.8v0.8h-0.8zM51.0,348.7h0.8v0.8h-0.8zM46.1,380.9h0.8v0.8h-0.8zM62.5,375.0h0.8v0.8h-0.8zM75.3,384.0h0.8v0.8h-0.8zM55.7,382.1h0.8v0.8h-0.8zM77.5,388.5h0.8v0.8h-0.8zM69.3,353.6h0.8v0.8h-0.8zM54.1,384.4h0.8v0.8h-0.8zM52.1,390.2h0.8v0.8h-0.8zM63.8,387.4h0.8v0.8h-0.8zM53.2,415.3h0.8v0.8h-0.8zM72.1,368.3h0.8v0.8h-0.8zM57.2,416.1h0.8v0.8h-0.8zM51.5,386.9h0.8v0.8h-0.8zM68.7,372.1h0.8v0.8h-0.8zM40.8,375.2h0.8v0.8h-0.8zM60.7,391.2h0.8v0.8h-0.8zM66.2,372.4h0.8v0.8h-0.8zM67.1,381.2h0.8v0.8h-0.8zM58.7,372.9h0.8v0.8h-0.8zM52.8,383.7h0.8v0.8h-0.8zM42.3,361.3h0.8v0.8h-0.8zM56.1,347.1h0.8v0.8h-0.8zM50.3,337.8h0.8v0.8h-0.8zM47.1,381.7h0.8v0.8h-0.8zM63.4,371.1h0.8v0.8h-0.8zM53.0,347.9h0.8v0.8h-0.8zM79.8,380.8h0.8v0.8h-0.8zM70.2,357.0h0.8v0.8h-0.8zM53.6,341.1h0.8v0.8h-0.8zM66.1,387.9h0.8v0.8h-0.8zM31.3,371.1h0.8v0.8h-0.8zM64.2,342.0h0.8v0.8h-0.8zM32.3,353.9h0.8v0.8h-0.8zM47.8,348.2h0.8v0.8h-0.8zM56.4,376.2h0.8v0.8h-0.8zM64.2,383.9h0.8v0.8h-0.8zM75.5,391.8h0.8v0.8h-0.8zM38.9,363.4h0.8v0.8h-0.8zM42.2,353.7h0.8v0.8h-0.8zM54.9,372.1h0.8v0.8h-0.8zM62.4,345.0h0.8v0.8h-0.8zM39.9,371.6h0.8v0.8h-0.8zM53.4,366.7h0.8v0.8h-0.8zM55.2,359.1h0.8v0.8h-0.8zM65.1,378.0h0.8v0.8h-0.8zM54.9,360.6h0.8v0.8h-0.8zM53.7,325.7h0.8v0.8h-0.8zM43.2,372.6h0.8v0.8h-0.8zM36.4,375.4h0.8v0.8h-0.8zM57.9,348.6h0.8v0.8h-0.8zM52.7,366.7h0.8v0.8h-0.8zM62.0,382.4h0.8v0.8h-0.8zM55.5,357.5h0.8v0.8h-0.8zM54.1,370.9h0.8v0.8h-0.8zM65.5,377.0h0.8v0.8h-0.8zM46.6,349.0h0.8v0.8h-0.8zM51.1,359.4h0.8v0.8h-0.8zM41.5,370.0h0.8v0.8h-0.8zM49.6,373.8h0.8v0.8h-0.8zM62.8,365.0h0.8v0.8h-0.8zM86.2,366.5h0.8v0.8h-0.8zM70.3,374.1h0.8v0.8h-0.8zM70.5,331.6h0.8v0.8h-0.8zM46.2,376.2h0.8v0.8h-0.8zM63.8,411.7h0.8v0.8h-0.8zM60.2,393.8h0.8v0.8h-0.8zM66.0,388.1h0.8v0.8h-0.8zM62.6,369.3h0.8v0.8h-0.8zM62.6,353.7h0.8v0.8h-0.8zM71.4,354.7h0.8v0.8h-0.8zM59.2,408.1h0.8v0.8h-0.8zM53.1,372.3h0.8v0.8h-0.8zM71.1,372.4h0.8v0.8h-0.8zM45.5,376.4h0.8v0.8h-0.8zM63.6,384.1h0.8v0.8h-0.8zM46.0,401.8h0.8v0.8h-0.8zM77.7,372.3h0.8v0.8h-0.8zM59.5,364.7h0.8v0.8h-0.8zM74.4,360.0h0.8v0.8h-0.8zM64.8,363.8h0.8v0.8h-0.8zM47.0,384.2h0.8v0.8h-0.8zM73.3,371.8h0.8v0.8h-0.8zM47.2,385.8h0.8v0.8h-0.8zM55.4,377.3h0.8v0.8h-0.8zM75.8,391.2h0.8v0.8h-0.8zM49.2,410.8h0.8v0.8h-0.8zM56.0,385.4h0.8v0.8h-0.8zM47.6,371.2h0.8v0.8h-0.8zM33.3,402.4h0.8v0.8h-0.8zM73.8,351.3h0.8v0.8h-0.8zM36.4,344.4h0.8v0.8h-0.8zM71.3,364.2h0.8v0.8h-0.8zM55.2,366.7h0.8v0.8h-0.8zM54.4,353.5h0.8v0.8h-0.8zM56.3,347.6h0.8v0.8h-0.8zM55.1,377.2h0.8v0.8h-0.8zM62.1,368.1h0.8v0.8h-0.8zM44.3,374.7h0.8v0.8h-0.8zM49.7,398.6h0.8v0.8h-0.8zM66.0,370.0h0.8v0.8h-0.8zM49.9,360.1h0.8v0.8h-0.8zM43.8,366.0h0.8v0.8h-0.8zM59.8,380.8h0.8v0.8h-0.8zM63.4,407.7h0.8v0.8h-0.8zM46.8,372.2h0.8v0.8h-0.8zM92.3,340.3h0.8v0.8h-0.8zM49.2,374.9h0.8v0.8h-0.8zM58.0,378.9h0.8v0.8h-0.8zM52.9,378.2h0.8v0.8h-0.8zM56.7,385.1h0.8v0.8h-0.8zM31.4,357.0h0.8v0.8h-0.8zM56.0,354.5h0.8v0.8h-0.8zM42.4,382.7h0.8v0.8h-0.8zM47.6,382.8h0.8v0.8h-0.8zM65.7,377.2h0.8v0.8h-0.8zM62.6,370.2h0.8v0.8h-0.8zM37.7,371.5h0.8v0.8h-0.8zM61.9,363.0h0.8v0.8h-0.8zM54.7,384.7h0.8v0.8h-0.8zM44.6,382.9h0.8v0.8h-0.8zM80.2,362.6h0.8v0.8h-0.8zM57.9,369.4h0.8v0.8h-0.8zM76.0,377.4h0.8v0.8h-0.8zM67.7,360.3h0.8v0.8h-0.8zM55.8,371.8h0.8v0.8h-0.8zM32.9,396.5h0.8v0.8h-0.8zM67.7,342.3h0.8v0.8h-0.8zM65.7,369.8h0.8v0.8h-0.8zM61.8,378.2h0.8v0.8h-0.8zM36.5,368.4h0.8v0.8h-0.8zM75.4,362.2h0.8v0.8h-0.8zM42.7,348.9h0.8v0.8h-0.8zM40.1,377.7h0.8v0.8h-0.8zM78.0,379.3h0.8v0.8h-0.8zM59.2,410.0h0.8v0.8h-0.8zM49.2,360.5h0.8v0.8h-0.8zM62.9,381.3h0.8v0.8h-0.8zM42.8,352.1h0.8v0.8h-0.8zM59.8,376.2h0.8v0.8h-0.8zM39.0,368.6h0.8v0.8h-0.8zM48.9,379.8h0.8v0.8h-0.8zM54.5,370.5h0.8v0.8h-0.8zM51.4,389.9h0.8v0.8h-0.8zM74.1,365.8h0.8v0.8h-0.8zM67.0,359.1h0.8v0.8h-0.8zM56.9,384.7h0.8v0.8h-0.8zM75.7,365.5h0.8v0.8h-0.8zM55.0,375.3h0.8v0.8h-0.8zM36.5,372.3h0.8v0.8h-0.8zM47.2,378.3h0.8v0.8h-0.8zM41.3,338.4h0.8v0.8h-0.8zM56.5,376.4h0.8v0.8h-0.8zM48.9,387.1h0.8v0.8h-0.8zM52.4,361.7h0.8v0.8h-0.8zM62.2,345.3h0.8v0.8h-0.8zM47.2,371.6h0.8v0.8h-0.8zM67.0,369.2h0.8v0.8h-0.8zM60.0,360.9h0.8v0.8h-0.8zM59.9,400.3h0.8v0.8h-0.8zM47.1,412.2h0.8v0.8h-0.8zM47.6,372.3h0.8v0.8h-0.8zM58.3,389.4h0.8v0.8h-0.8zM39.9,336.3h0.8v0.8h-0.8zM63.9,385.5h0.8v0.8h-0.8zM64.1,416.7h0.8v0.8h-0.8zM58.7,376.3h0.8v0.8h-0.8zM68.1,378.3h0.8v0.8h-0.8zM77.6,350.9h0.8v0.8h-0.8zM51.1,313.4h0.8v0.8h-0.8zM66.6,365.7h0.8v0.8h-0.8zM68.0,408.6h0.8v0.8h-0.8zM55.9,367.7h0.8v0.8h-0.8zM49.5,357.8h0.8v0.8h-0.8zM47.8,382.9h0.8v0.8h-0.8zM56.5,373.1h0.8v0.8h-0.8zM53.7,387.5h0.8v0.8h-0.8zM62.4,369.6h0.8v0.8h-0.8zM64.6,369.4h0.8v0.8h-0.8zM41.0,396.7h0.8v0.8h-0.8zM62.0,355.7h0.8v0.8h-0.8zM70.0,377.9h0.8v0.8h-0.8zM35.7,399.4h0.8v0.8h-0.8zM60.3,387.2h0.8v0.8h-0.8zM58.6,369.5h0.8v0.8h-0.8zM35.9,388.5h0.8v0.8h-0.8zM56.4,367.1h0.8v0.8h-0.8zM60.6,373.3h0.8v0.8h-0.8zM64.8,365.7h0.8v0.8h-0.8zM55.5,335.6h0.8v0.8h-0.8zM50.5,383.5h0.8v0.8h-0.8zM73.4,365.8h0.8v0.8h-0.8zM54.4,398.9h0.8v0.8h-0.8zM51.8,384.5h0.8v0.8h-0.8zM77.8,372.7h0.8v0.8h-0.8zM71.9,359.9h0.8v0.8h-0.8zM58.7,370.7h0.8v0.8h-0.8zM57.5,391.2h0.8v0.8h-0.8zM87.1,360.7h0.8v0.8h-0.8zM48.5,380.5h0.8v0.8h-0.8zM42.3,380.4h0.8v0.8h-0.8zM63.4,367.3h0.8v0.8h-0.8zM62.9,345.7h0.8v0.8h-0.8zM65.9,345.7h0.8v0.8h-0.8zM46.9,362.5h0.8v0.8h-0.8zM50.8,386.6h0.8v0.8h-0.8zM57.1,365.2h0.8v0.8h-0.8zM63.1,398.9h0.8v0.8h-0.8zM56.1,378.2h0.8v0.8h-0.8zM72.1,376.6h0.8v0.8h-0.8zM39.3,414.3h0.8v0.8h-0.8zM84.7,338.3h0.8v0.8h-0.8zM55.5,379.1h0.8v0.8h-0.8zM68.6,383.4h0.8v0.8h-0.8zM52.5,354.1h0.8v0.8h-0.8zM57.3,389.6h0.8v0.8h-0.8zM41.8,354.5h0.8v0.8h-0.8zM55.7,339.1h0.8v0.8h-0.8zM52.6,364.6h0.8v0.8h-0.8zM61.9,360.1h0.8v0.8h-0.8zM44.5,365.3h0.8v0.8h-0.8zM55.4,360.7h0.8v0.8h-0.8zM56.2,384.8h0.8v0.8h-0.8zM71.4,401.0h0.8v0.8h-0.8zM45.8,364.9h0.8v0.8h-0.8zM23.7,404.3h0.8v0.8h-0.8zM46.6,371.4h0.8v0.8h-0.8zM62.8,348.9h0.8v0.8h-0.8zM62.0,371.6h0.8v0.8h-0.8zM32.3,377.0h0.8v0.8h-0.8zM71.5,340.2h0.8v0.8h-0.8zM66.5,375.6h0.8v0.8h-0.8zM62.2,379.5h0.8v0.8h-0.8zM73.0,368.2h0.8v0.8h-0.8zM67.4,365.0h0.8v0.8h-0.8zM65.5,358.2h0.8v0.8h-0.8zM54.6,401.4h0.8v0.8h-0.8zM61.8,369.3h0.8v0.8h-0.8zM41.1,358.6h0.8v0.8h-0.8zM58.5,388.0h0.8v0.8h-0.8zM61.5,380.9h0.8v0.8h-0.8zM55.5,395.0h0.8v0.8h-0.8zM50.9,362.7h0.8v0.8h-0.8zM67.5,373.1h0.8v0.8h-0.8zM52.4,362.2h0.8v0.8h-0.8zM52.7,382.6h0.8v0.8h-0.8zM60.6,351.4h0.8v0.8h-0.8zM61.5,375.0h0.8v0.8h-0.8zM43.0,385.1h0.8v0.8h-0.8zM52.4,366.3h0.8v0.8h-0.8zM66.3,394.5h0.8v0.8h-0.8zM47.0,379.5h0.8v0.8h-0.8zM44.6,411.3h0.8v0.8h-0.8zM49.6,392.3h0.8v0.8h-0.8zM47.6,385.8h0.8v0.8h-0.8zM84.8,328.8h0.8v0.8h-0.8zM50.4,380.5h0.8v0.8h-0.8zM54.8,360.6h0.8v0.8h-0.8zM84.0,373.4h0.8v0.8h-0.8zM34.6,386.5h0.8v0.8h-0.8zM33.6,391.6h0.8v0.8h-0.8zM48.5,374.5h0.8v0.8h-0.8zM72.4,374.0h0.8v0.8h-0.8zM37.9,343.2h0.8v0.8h-0.8zM71.4,384.6h0.8v0.8h-0.8zM45.4,386.6h0.8v0.8h-0.8zM62.5,383.0h0.8v0.8h-0.8zM26.6,366.9h0.8v0.8h-0.8zM67.7,384.5h0.8v0.8h-0.8zM67.5,330.2h0.8v0.8h-0.8zM58.2,380.4h0.8v0.8h-0.8zM89.2,355.8h0.8v0.8h-0.8zM51.7,372.6h0.8v0.8h-0.8zM67.5,364.5h0.8v0.8h-0.8zM70.9,358.6h0.8v0.8h-0.8zM59.5,363.0h0.8v0.8h-0.8zM58.1,360.3h0.8v0.8h-0.8zM35.2,390.6h0.8v0.8h-0.8zM59.9,362.5h0.8v0.8h-0.8zM58.6,388.8h0.8v0.8h-0.8zM43.3,370.1h0.8v0.8h-0.8zM63.0,380.9h0.8v0.8h-0.8zM51.6,336.2h0.8v0.8h-0.8zM72.2,377.6h0.8v0.8h-0.8zM56.2,367.3h0.8v0.8h-0.8zM59.4,364.8h0.8v0.8h-0.8zM42.7,359.4h0.8v0.8h-0.8zM48.2,361.6h0.8v0.8h-0.8zM40.9,382.8h0.8v0.8h-0.8zM39.0,383.2h0.8v0.8h-0.8zM42.8,378.0h0.8v0.8h-0.8zM73.9,375.5h0.8v0.8h-0.8zM46.5,372.8h0.8v0.8h-0.8zM57.9,342.5h0.8v0.8h-0.8zM48.1,374.8h0.8v0.8h-0.8zM49.9,373.4h0.8v0.8h-0.8zM65.5,385.0h0.8v0.8h-0.8zM67.8,382.0h0.8v0.8h-0.8zM52.3,371.7h0.8v0.8h-0.8zM52.5,366.7h0.8v0.8h-0.8zM53.7,342.7h0.8v0.8h-0.8zM51.7,371.6h0.8v0.8h-0.8zM43.3,371.6h0.8v0.8h-0.8zM62.7,369.2h0.8v0.8h-0.8zM83.0,327.7h0.8v0.8h-0.8zM53.3,341.0h0.8v0.8h-0.8zM68.7,417.1h0.8v0.8h-0.8zM23.5,374.2h0.8v0.8h-0.8zM62.7,366.9h0.8v0.8h-0.8zM63.2,333.9h0.8v0.8h-0.8zM67.1,378.3h0.8v0.8h-0.8zM56.3,362.0h0.8v0.8h-0.8zM64.3,363.7h0.8v0.8h-0.8zM58.9,363.3h0.8v0.8h-0.8zM26.8,371.5h0.8v0.8h-0.8zM58.6,384.8h0.8v0.8h-0.8zM44.6,371.4h0.8v0.8h-0.8zM64.0,374.5h0.8v0.8h-0.8zM72.2,405.9h0.8v0.8h-0.8zM44.2,339.3h0.8v0.8h-0.8zM67.1,398.0h0.8v0.8h-0.8zM68.0,385.8h0.8v0.8h-0.8zM48.0,359.9h0.8v0.8h-0.8zM67.5,356.5h0.8v0.8h-0.8zM32.4,355.0h0.8v0.8h-0.8zM88.4,404.7h0.8v0.8h-0.8zM47.1,359.6h0.8v0.8h-0.8zM59.0,359.3h0.8v0.8h-0.8zM73.0,370.7h0.8v0.8h-0.8zM41.9,394.3h0.8v0.8h-0.8zM48.4,375.8h0.8v0.8h-0.8zM55.8,366.7h0.8v0.8h-0.8zM60.2,360.2h0.8v0.8h-0.8zM32.0,334.5h0.8v0.8h-0.8zM39.5,359.1h0.8v0.8h-0.8zM55.7,372.9h0.8v0.8h-0.8zM63.2,374.0h0.8v0.8h-0.8zM45.7,359.9h0.8v0.8h-0.8zM28.5,369.1h0.8v0.8h-0.8zM62.3,381.0h0.8v0.8h-0.8zM54.4,369.0h0.8v0.8h-0.8zM68.2,372.3h0.8v0.8h-0.8zM65.6,381.9h0.8v0.8h-0.8zM58.8,394.2h0.8v0.8h-0.8zM48.6,365.9h0.8v0.8h-0.8zM45.5,358.4h0.8v0.8h-0.8zM76.2,401.9h0.8v0.8h-0.8zM56.3,381.7h0.8v0.8h-0.8zM71.3,385.7h0.8v0.8h-0.8zM71.7,350.5h0.8v0.8h-0.8zM47.7,379.7h0.8v0.8h-0.8zM74.7,373.8h0.8v0.8h-0.8zM44.8,366.0h0.8v0.8h-0.8zM47.4,357.4h0.8v0.8h-0.8zM75.5,361.4h0.8v0.8h-0.8zM56.3,408.8h0.8v0.8h-0.8zM71.4,377.7h0.8v0.8h-0.8zM48.0,379.0h0.8v0.8h-0.8zM77.1,382.6h0.8v0.8h-0.8zM72.4,373.7h0.8v0.8h-0.8zM62.7,368.6h0.8v0.8h-0.8zM61.5,394.1h0.8v0.8h-0.8zM37.4,370.9h0.8v0.8h-0.8zM59.1,362.3h0.8v0.8h-0.8zM52.0,385.4h0.8v0.8h-0.8zM82.0,382.7h0.8v0.8h-0.8zM60.2,345.6h0.8v0.8h-0.8zM81.1,373.3h0.8v0.8h-0.8zM55.6,353.0h0.8v0.8h-0.8zM55.3,353.4h0.8v0.8h-0.8zM56.9,379.9h0.8v0.8h-0.8zM56.4,376.8h0.8v0.8h-0.8zM44.9,396.3h0.8v0.8h-0.8zM47.5,341.1h0.8v0.8h-0.8zM53.6,359.0h0.8v0.8h-0.8zM42.9,366.0h0.8v0.8h-0.8zM59.8,351.9h0.8v0.8h-0.8zM54.2,396.3h0.8v0.8h-0.8zM64.9,369.4h0.8v0.8h-0.8zM57.7,370.0h0.8v0.8h-0.8zM55.4,384.5h0.8v0.8h-0.8zM54.8,331.1h0.8v0.8h-0.8zM55.7,356.9h0.8v0.8h-0.8zM64.5,361.6h0.8v0.8h-0.8zM57.9,409.0h0.8v0.8h-0.8zM42.4,352.9h0.8v0.8h-0.8zM37.7,331.3h0.8v0.8h-0.8zM31.6,378.2h0.8v0.8h-0.8zM47.7,340.2h0.8v0.8h-0.8zM36.7,382.5h0.8v0.8h-0.8zM45.9,365.8h0.8v0.8h-0.8zM60.3,395.1h0.8v0.8h-0.8zM81.2,389.6h0.8v0.8h-0.8zM57.9,375.1h0.8v0.8h-0.8zM79.4,396.3h0.8v0.8h-0.8zM52.0,379.8h0.8v0.8h-0.8zM59.7,372.9h0.8v0.8h-0.8zM49.5,349.4h0.8v0.8h-0.8zM49.1,345.7h0.8v0.8h-0.8zM71.9,381.1h0.8v0.8h-0.8zM40.3,395.7h0.8v0.8h-0.8zM67.6,339.6h0.8v0.8h-0.8zM79.9,385.8h0.8v0.8h-0.8z" fill="#c8c8c8" opacity="0.8"/>
<path d="M219.8,361.5h0.8v0.8h-0.8zM199.9,386.3h0.8v0.8h-0.8zM195.6,382.6h0.8v0.8h-0.8zM206.7,357.6h0.8v0.8h-0.8zM176.9,359.1h0.8v0.8h-0.8zM185.8,370.9h0.8v0.8h-0.8zM197.8,384.0h0.8v0.8h-0.8zM193.4,369.9h0.8v0.8h-0.8zM187.3,394.3h0.8v0.8h-0.8zM202.9,381.5h0.8v0.8h-0.8zM188.8,403.3h0.8v0.8h-0.8zM185.3,389.7h0.8v0.8h-0.8zM208.0,376.0h0.8v0.8h-0.8zM203.7,363.3h0.8v0.8h-0.8zM206.2,383.0h0.8v0.8h-0.8zM172.4,390.0h0.8v0.8h-0.8zM181.4,399.2h0.8v0.8h-0.8zM184.2,377.5h0.8v0.8h-0.8zM196.7,375.0h0.8v0.8h-0.8zM196.4,371.7h0.8v0.8h-0.8zM201.7,380.1h0.8v0.8h-0.8zM195.7,338.7h0.8v0.8h-0.8zM208.1,380.5h0.8v0.8h-0.8zM169.8,381.4h0.8v0.8h-0.8zM199.1,396.1h0.8v0.8h-0.8zM178.9,403.2h0.8v0.8h-0.8zM190.9,415.9h0.8v0.8h-0.8zM191.1,390.2h0.8v0.8h-0.8zM188.2,363.3h0.8v0.8h-0.8zM207.3,393.6h0.8v0.8h-0.8zM213.0,392.9h0.8v0.8h-0.8zM185.5,355.1h0.8v0.8h-0.8zM184.5,369.9h0.8v0.8h-0.8zM182.4,388.7h0.8v0.8h-0.8zM197.3,376.0h0.8v0.8h-0.8zM195.2,377.8h0.8v0.8h-0.8zM195.8,391.3h0.8v0.8h-0.8zM205.5,369.7h0.8v0.8h-0.8zM173.4,401.4h0.8v0.8h-0.8zM194.5,396.6h0.8v0.8h-0.8zM171.6,375.1h0.8v0.8h-0.8zM193.4,358.4h0.8v0.8h-0.8zM186.3,390.9h0.8v0.8h-0.8zM207.0,403.9h0.8v0.8h-0.8zM181.8,359.0h0.8v0.8h-0.8zM199.8,394.1h0.8v0.8h-0.8zM195.5,360.5h0.8v0.8h-0.8zM203.2,391.9h0.8v0.8h-0.8zM200.2,372.7h0.8v0.8h-0.8zM197.0,391.9h0.8v0.8h-0.8zM185.7,352.3h0.8v0.8h-0.8zM197.3,387.2h0.8v0.8h-0.8zM193.2,393.3h0.8v0.8h-0.8zM185.4,378.8h0.8v0.8h-0.8zM189.0,388.6h0.8v0.8h-0.8zM213.7,376.2h0.8v0.8h-0.8zM219.7,402.9h0.8v0.8h-0.8zM203.3,388.8h0.8v0.8h-0.8zM216.0,377.3h0.8v0.8h-0.8zM191.5,364.1h0.8v0.8h-0.8zM199.1,400.2h0.8v0.8h-0.8zM199.9,386.3h0.8v0.8h-0.8zM190.4,382.5h0.8v0.8h-0.8zM174.5,395.7h0.8v0.8h-0.8zM187.7,363.4h0.8v0.8h-0.8zM183.2,367.6h0.8v0.8h-0.8zM204.1,395.9h0.8v0.8h-0.8zM175.3,393.9h0.8v0.8h-0.8zM204.5,371.3h0.8v0.8h-0.8zM173.7,368.8h0.8v0.8h-0.8zM184.8,385.1h0.8v0.8h-0.8zM188.4,349.6h0.8v0.8h-0.8zM196.0,357.0h0.8v0.8h-0.8zM204.8,361.9h0.8v0.8h-0.8zM184.0,367.2h0.8v0.8h-0.8zM185.9,399.5h0.8v0.8h-0.8zM204.1,389.0h0.8v0.8h-0.8zM197.2,356.8h0.8v0.8h-0.8zM186.2,371.7h0.8v0.8h-0.8zM180.3,387.6h0.8v0.8h-0.8zM183.4,369.4h0.8v0.8h-0.8zM179.4,349.1h0.8v0.8h-0.8zM200.7,400.0h0.8v0.8h-0.8zM195.3,365.4h0.8v0.8h-0.8zM157.8,382.6h0.8v0.8h-0.8zM208.8,384.5h0.8v0.8h-0.8zM205.1,402.2h0.8v0.8h-0.8zM207.6,373.4h0.8v0.8h-0.8zM206.7,391.6h0.8v0.8h-0.8zM173.0,373.9h0.8v0.8h-0.8zM174.5,378.4h0.8v0.8h-0.8zM200.5,364.0h0.8v0.8h-0.8zM166.3,399.5h0.8v0.8h-0.8zM197.9,402.1h0.8v0.8h-0.8zM175.8,395.9h0.8v0.8h-0.8zM220.0,410.1h0.8v0.8h-0.8zM190.3,384.0h0.8v0.8h-0.8zM191.0,395.0h0.8v0.8h-0.8zM206.5,381.3h0.8v0.8h-0.8zM175.3,391.1h0.8v0.8h-0.8zM186.9,389.4h0.8v0.8h-0.8zM196.4,404.4h0.8v0.8h-0.8zM207.8,373.2h0.8v0.8h-0.8zM197.5,406.5h0.8v0.8h-0.8zM186.0,386.5h0.8v0.8h-0.8zM208.5,398.9h0.8v0.8h-0.8zM199.7,360.2h0.8v0.8h-0.8zM176.6,383.7h0.8v0.8h-0.8zM198.0,418.2h0.8v0.8h-0.8zM181.8,397.1h0.8v0.8h-0.8zM203.0,354.9h0.8v0.8h-0.8zM182.4,382.5h0.8v0.8h-0.8zM186.6,377.7h0.8v0.8h-0.8zM199.1,367.9h0.8v0.8h-0.8zM199.1,370.5h0.8v0.8h-0.8zM185.9,388.1h0.8v0.8h-0.8zM185.5,384.3h0.8v0.8h-0.8zM213.8,380.4h0.8v0.8h-0.8zM191.1,391.0h0.8v0.8h-0.8zM188.2,396.2h0.8v0.8h-0.8zM176.3,389.3h0.8v0.8h-0.8zM186.3,368.0h0.8v0.8h-0.8zM216.0,367.2h0.8v0.8h-0.8zM215.8,389.9h0.8v0.8h-0.8zM211.9,365.3h0.8v0.8h-0.8zM208.6,401.9h0.8v0.8h-0.8zM191.5,378.1h0.8v0.8h-0.8zM224.9,382.7h0.8v0.8h-0.8zM187.5,370.6h0.8v0.8h-0.8zM198.8,385.0h0.8v0.8h-0.8zM195.3,405.8h0.8v0.8h-0.8zM188.7,387.1h0.8v0.8h-0.8zM212.0,364.9h0.8v0.8h-0.8zM206.5,407.5h0.8v0.8h-0.8zM175.4,363.5h0.8v0.8h-0.8zM179.5,352.3h0.8v0.8h-0.8zM198.9,352.2h0.8v0.8h-0.8zM199.5,401.8h0.8v0.8h-0.8zM172.0,375.3h0.8v0.8h-0.8zM168.1,391.7h0.8v0.8h-0.8zM183.4,376.0h0.8v0.8h-0.8zM193.7,388.2h0.8v0.8h-0.8zM188.5,380.2h0.8v0.8h-0.8zM185.9,381.7h0.8v0.8h-0.8zM177.8,381.0h0.8v0.8h-0.8zM167.9,372.6h0.8v0.8h-0.8zM217.9,381.2h0.8v0.8h-0.8zM176.6,383.9h0.8v0.8h-0.8zM180.4,355.2h0.8v0.8h-0.8zM183.4,391.1h0.8v0.8h-0.8zM198.0,378.5h0.8v0.8h-0.8zM181.0,363.8h0.8v0.8h-0.8zM210.5,383.7h0.8v0.8h-0.8zM180.6,348.3h0.8v0.8h-0.8zM175.2,417.1h0.8v0.8h-0.8zM178.1,378.8h0.8v0.8h-0.8zM195.7,377.6h0.8v0.8h-0.8zM189.4,359.4h0.8v0.8h-0.8zM179.3,405.3h0.8v0.8h-0.8zM183.2,392.7h0.8v0.8h-0.8zM171.0,375.9h0.8v0.8h-0.8zM196.4,395.5h0.8v0.8h-0.8zM178.4,388.9h0.8v0.8h-0.8zM198.0,368.9h0.8v0.8h-0.8zM199.2,366.5h0.8v0.8h-0.8zM182.7,379.7h0.8v0.8h-0.8zM157.7,378.4h0.8v0.8h-0.8zM180.0,358.1h0.8v0.8h-0.8zM187.5,391.4h0.8v0.8h-0.8zM187.7,399.0h0.8v0.8h-0.8zM177.9,360.3h0.8v0.8h-0.8zM213.2,386.0h0.8v0.8h-0.8zM205.3,367.6h0.8v0.8h-0.8zM203.5,383.9h0.8v0.8h-0.8zM201.4,380.4h0.8v0.8h-0.8zM208.7,370.3h0.8v0.8h-0.8zM180.5,357.8h0.8v0.8h-0.8zM208.1,368.9h0.8v0.8h-0.8zM179.4,365.9h0.8v0.8h-0.8zM187.2,360.9h0.8v0.8h-0.8zM189.2,370.6h0.8v0.8h-0.8zM185.8,365.6h0.8v0.8h-0.8zM193.5,373.1h0.8v0.8h-0.8zM194.5,383.7h0.8v0.8h-0.8zM197.4,347.2h0.8v0.8h-0.8zM186.0,368.1h0.8v0.8h-0.8zM203.1,356.3h0.8v0.8h-0.8zM183.7,375.6h0.8v0.8h-0.8zM188.6,394.9h0.8v0.8h-0.8zM187.2,394.5h0.8v0.8h-0.8zM173.9,352.8h0.8v0.8h-0.8zM208.9,386.5h0.8v0.8h-0.8zM199.3,381.8h0.8v0.8h-0.8zM199.3,361.8h0.8v0.8h-0.8zM205.3,372.0h0.8v0.8h-0.8zM205.8,381.3h0.8v0.8h-0.8zM167.3,360.7h0.8v0.8h-0.8zM207.7,377.9h0.8v0.8h-0.8zM187.9,383.6h0.8v0.8h-0.8zM187.5,371.8h0.8v0.8h-0.8zM194.3,382.2h0.8v0.8h-0.8zM212.7,380.7h0.8v0.8h-0.8zM217.4,407.0h0.8v0.8h-0.8zM215.3,395.9h0.8v0.8h-0.8zM194.7,382.1h0.8v0.8h-0.8zM191.1,369.0h0.8v0.8h-0.8zM192.1,370.4h0.8v0.8h-0.8zM214.3,388.0h0.8v0.8h-0.8zM187.2,351.3h0.8v0.8h-0.8zM192.3,373.8h0.8v0.8h-0.8zM178.9,363.0h0.8v0.8h-0.8zM163.7,388.5h0.8v0.8h-0.8zM192.1,418.7h0.8v0.8h-0.8zM192.6,377.8h0.8v0.8h-0.8zM211.8,382.0h0.8v0.8h-0.8zM195.2,374.4h0.8v0.8h-0.8zM185.1,402.5h0.8v0.8h-0.8zM206.0,405.7h0.8v0.8h-0.8zM188.5,380.5h0.8v0.8h-0.8zM181.5,394.5h0.8v0.8h-0.8zM174.9,388.5h0.8v0.8h-0.8zM207.2,401.2h0.8v0.8h-0.8zM180.8,396.3h0.8v0.8h-0.8zM183.7,368.6h0.8v0.8h-0.8zM175.8,397.3h0.8v0.8h-0.8zM214.4,371.1h0.8v0.8h-0.8zM183.1,374.9h0.8v0.8h-0.8zM225.6,395.1h0.8v0.8h-0.8zM185.9,353.1h0.8v0.8h-0.8zM184.3,397.8h0.8v0.8h-0.8zM217.3,376.0h0.8v0.8h-0.8zM184.0,372.4h0.8v0.8h-0.8zM168.5,393.6h0.8v0.8h-0.8zM178.9,395.9h0.8v0.8h-0.8zM170.8,360.9h0.8v0.8h-0.8zM196.7,368.5h0.8v0.8h-0.8zM203.2,380.1h0.8v0.8h-0.8zM177.7,389.3h0.8v0.8h-0.8zM203.9,351.3h0.8v0.8h-0.8zM216.7,387.5h0.8v0.8h-0.8zM202.9,352.1h0.8v0.8h-0.8zM183.6,374.8h0.8v0.8h-0.8zM207.0,358.1h0.8v0.8h-0.8zM181.5,349.6h0.8v0.8h-0.8zM189.9,385.2h0.8v0.8h-0.8zM171.1,371.1h0.8v0.8h-0.8zM199.6,403.8h0.8v0.8h-0.8zM201.6,375.4h0.8v0.8h-0.8zM177.7,366.0h0.8v0.8h-0.8zM184.4,382.2h0.8v0.8h-0.8zM192.4,405.0h0.8v0.8h-0.8zM196.7,363.9h0.8v0.8h-0.8zM213.1,394.2h0.8v0.8h-0.8zM194.3,369.2h0.8v0.8h-0.8zM168.7,364.7h0.8v0.8h-0.8zM204.9,368.0h0.8v0.8h-0.8zM175.8,382.9h0.8v0.8h-0.8zM196.2,389.1h0.8v0.8h-0.8zM201.5,401.1h0.8v0.8h-0.8zM182.1,394.7h0.8v0.8h-0.8zM180.2,390.4h0.8v0.8h-0.8zM195.3,383.6h0.8v0.8h-0.8zM205.6,379.7h0.8v0.8h-0.8zM207.5,393.1h0.8v0.8h-0.8zM194.8,371.5h0.8v0.8h-0.8zM183.2,372.1h0.8v0.8h-0.8zM190.4,379.6h0.8v0.8h-0.8zM231.8,389.6h0.8v0.8h-0.8zM203.0,367.1h0.8v0.8h-0.8zM183.8,375.2h0.8v0.8h-0.8zM195.5,364.5h0.8v0.8h-0.8zM214.0,371.6h0.8v0.8h-0.8zM207.0,345.0h0.8v0.8h-0.8zM192.9,384.2h0.8v0.8h-0.8zM195.5,389.0h0.8v0.8h-0.8zM196.6,382.4h0.8v0.8h-0.8zM168.4,369.3h0.8v0.8h-0.8zM162.5,389.4h0.8v0.8h-0.8zM197.0,377.1h0.8v0.8h-0.8zM182.3,371.3h0.8v0.8h-0.8zM217.0,406.0h0.8v0.8h-0.8zM192.2,399.3h0.8v0.8h-0.8zM172.4,351.0h0.8v0.8h-0.8zM186.7,366.9h0.8v0.8h-0.8zM185.7,382.8h0.8v0.8h-0.8zM232.3,370.1h0.8v0.8h-0.8zM193.6,384.1h0.8v0.8h-0.8zM192.6,394.0h0.8v0.8h-0.8zM216.1,361.3h0.8v0.8h-0.8zM195.1,376.0h0.8v0.8h-0.8zM197.6,357.0h0.8v0.8h-0.8zM170.1,345.3h0.8v0.8h-0.8zM199.8,382.9h0.8v0.8h-0.8zM194.0,344.5h0.8v0.8h-0.8zM188.1,368.7h0.8v0.8h-0.8zM174.6,366.3h0.8v0.8h-0.8zM202.1,388.2h0.8v0.8h-0.8zM192.7,387.7h0.8v0.8h-0.8zM185.2,381.1h0.8v0.8h-0.8zM193.5,388.3h0.8v0.8h-0.8zM192.1,377.9h0.8v0.8h-0.8zM191.2,370.3h0.8v0.8h-0.8zM222.0,387.7h0.8v0.8h-0.8zM198.6,414.4h0.8v0.8h-0.8zM211.2,356.7h0.8v0.8h-0.8zM202.0,392.6h0.8v0.8h-0.8zM217.5,399.7h0.8v0.8h-0.8zM203.0,362.3h0.8v0.8h-0.8zM181.7,384.0h0.8v0.8h-0.8zM199.6,364.7h0.8v0.8h-0.8zM188.0,374.0h0.8v0.8h-0.8zM193.8,385.0h0.8v0.8h-0.8zM189.3,361.4h0.8v0.8h-0.8zM209.2,403.9h0.8v0.8h-0.8zM191.6,395.4h0.8v0.8h-0.8zM198.8,389.9h0.8v0.8h-0.8zM199.3,368.6h0.8v0.8h-0.8zM200.5,395.2h0.8v0.8h-0.8zM181.3,409.5h0.8v0.8h-0.8zM220.2,407.3h0.8v0.8h-0.8zM218.9,391.1h0.8v0.8h-0.8zM188.6,371.0h0.8v0.8h-0.8zM182.4,381.7h0.8v0.8h-0.8zM192.6,390.1h0.8v0.8h-0.8zM166.7,414.7h0.8v0.8h-0.8zM222.6,379.6h0.8v0.8h-0.8zM201.8,387.1h0.8v0.8h-0.8zM196.6,376.9h0.8v0.8h-0.8zM191.4,367.6h0.8v0.8h-0.8zM195.3,379.6h0.8v0.8h-0.8zM197.2,367.2h0.8v0.8h-0.8zM193.5,380.7h0.8v0.8h-0.8zM200.9,364.1h0.8v0.8h-0.8zM198.5,394.7h0.8v0.8h-0.8zM200.8,374.5h0.8v0.8h-0.8zM186.6,376.5h0.8v0.8h-0.8zM202.5,403.3h0.8v0.8h-0.8zM190.9,370.4h0.8v0.8h-0.8zM197.9,383.1h0.8v0.8h-0.8zM181.2,368.9h0.8v0.8h-0.8zM191.7,390.1h0.8v0.8h-0.8zM177.5,364.7h0.8v0.8h-0.8zM199.5,361.6h0.8v0.8h-0.8zM194.4,385.3h0.8v0.8h-0.8zM191.6,364.7h0.8v0.8h-0.8zM192.2,375.0h0.8v0.8h-0.8zM197.4,367.4h0.8v0.8h-0.8zM207.2,354.9h0.8v0.8h-0.8zM190.7,380.1h0.8v0.8h-0.8zM205.5,370.9h0.8v0.8h-0.8zM200.1,371.5h0.8v0.8h-0.8zM202.6,406.1h0.8v0.8h-0.8zM187.8,386.6h0.8v0.8h-0.8zM180.9,394.6h0.8v0.8h-0.8zM208.7,380.5h0.8v0.8h-0.8zM178.2,386.0h0.8v0.8h-0.8zM207.9,396.3h0.8v0.8h-0.8zM203.6,352.5h0.8v0.8h-0.8zM184.2,401.3h0.8v0.8h-0.8zM177.1,397.0h0.8v0.8h-0.8zM217.5,391.4h0.8v0.8h-0.8zM207.6,375.0h0.8v0.8h-0.8zM177.1,378.5h0.8v0.8h-0.8zM190.4,379.3h0.8v0.8h-0.8zM202.1,377.8h0.8v0.8h-0.8zM195.5,386.4h0.8v0.8h-0.8zM192.9,407.7h0.8v0.8h-0.8zM198.8,381.3h0.8v0.8h-0.8zM190.3,370.6h0.8v0.8h-0.8zM210.5,382.3h0.8v0.8h-0.8zM179.0,371.6h0.8v0.8h-0.8zM191.2,373.3h0.8v0.8h-0.8zM207.1,362.6h0.8v0.8h-0.8zM199.4,382.2h0.8v0.8h-0.8zM177.7,380.7h0.8v0.8h-0.8zM191.8,387.5h0.8v0.8h-0.8zM187.1,384.5h0.8v0.8h-0.8zM171.4,363.7h0.8v0.8h-0.8zM203.2,395.6h0.8v0.8h-0.8zM192.8,371.0h0.8v0.8h-0.8zM207.1,348.6h0.8v0.8h-0.8zM182.6,390.1h0.8v0.8h-0.8zM201.5,364.5h0.8v0.8h-0.8zM168.5,401.8h0.8v0.8h-0.8zM195.0,366.6h0.8v0.8h-0.8zM193.7,393.5h0.8v0.8h-0.8zM159.3,396.7h0.8v0.8h-0.8zM202.6,348.8h0.8v0.8h-0.8zM203.0,353.3h0.8v0.8h-0.8zM207.8,386.0h0.8v0.8h-0.8zM222.3,370.8h0.8v0.8h-0.8zM193.1,395.7h0.8v0.8h-0.8zM184.7,369.4h0.8v0.8h-0.8zM188.2,378.9h0.8v0.8h-0.8zM178.9,387.3h0.8v0.8h-0.8zM200.1,381.1h0.8v0.8h-0.8zM215.1,375.1h0.8v0.8h-0.8zM210.0,371.8h0.8v0.8h-0.8zM202.8,351.0h0.8v0.8h-0.8zM195.6,377.4h0.8v0.8h-0.8zM186.6,370.8h0.8v0.8h-0.8zM188.5,369.2h0.8v0.8h-0.8zM164.5,371.1h0.8v0.8h-0.8zM185.9,372.1h0.8v0.8h-0.8zM179.2,378.0h0.8v0.8h-0.8zM203.2,376.2h0.8v0.8h-0.8zM186.6,400.4h0.8v0.8h-0.8zM205.7,393.8h0.8v0.8h-0.8zM208.0,375.1h0.8v0.8h-0.8zM191.3,396.7h0.8v0.8h-0.8zM185.8,378.2h0.8v0.8h-0.8zM197.9,385.6h0.8v0.8h-0.8zM189.4,394.8h0.8v0.8h-0.8zM190.7,390.9h0.8v0.8h-0.8zM206.9,389.9h0.8v0.8h-0.8zM202.5,362.6h0.8v0.8h-0.8zM176.0,370.7h0.8v0.8h-0.8zM199.2,402.5h0.8v0.8h-0.8zM177.1,384.6h0.8v0.8h-0.8zM181.9,369.0h0.8v0.8h-0.8zM189.4,390.4h0.8v0.8h-0.8zM195.8,397.7h0.8v0.8h-0.8zM180.2,393.3h0.8v0.8h-0.8zM205.1,381.0h0.8v0.8h-0.8zM199.2,371.6h0.8v0.8h-0.8zM178.8,373.9h0.8v0.8h-0.8zM184.6,423.4h0.8v0.8h-0.8zM186.7,404.8h0.8v0.8h-0.8zM195.6,384.7h0.8v0.8h-0.8zM202.7,368.3h0.8v0.8h-0.8zM204.9,385.6h0.8v0.8h-0.8zM173.3,389.0h0.8v0.8h-0.8zM200.2,386.8h0.8v0.8h-0.8zM213.6,373.8h0.8v0.8h-0.8zM199.7,391.2h0.8v0.8h-0.8zM181.3,398.0h0.8v0.8h-0.8zM174.1,360.5h0.8v0.8h-0.8zM199.8,363.7h0.8v0.8h-0.8zM191.5,355.3h0.8v0.8h-0.8zM193.9,363.0h0.8v0.8h-0.8zM197.4,357.0h0.8v0.8h-0.8zM198.8,376.0h0.8v0.8h-0.8zM193.8,379.0h0.8v0.8h-0.8zM194.7,360.2h0.8v0.8h-0.8zM159.7,380.5h0.8v0.8h-0.8zM180.8,373.2h0.8v0.8h-0.8zM198.5,350.2h0.8v0.8h-0.8zM183.1,370.8h0.8v0.8h-0.8zM179.3,384.9h0.8v0.8h-0.8zM191.2,367.7h0.8v0.8h-0.8zM180.2,392.1h0.8v0.8h-0.8zM184.4,388.8h0.8v0.8h-0.8zM198.8,351.6h0.8v0.8h-0.8zM178.9,380.0h0.8v0.8h-0.8zM197.4,391.7h0.8v0.8h-0.8zM203.4,395.5h0.8v0.8h-0.8zM188.1,376.8h0.8v0.8h-0.8zM203.1,373.6h0.8v0.8h-0.8zM206.7,356.2h0.8v0.8h-0.8zM201.5,377.4h0.8v0.8h-0.8zM167.4,394.7h0.8v0.8h-0.8zM197.0,380.3h0.8v0.8h-0.8zM179.0,373.0h0.8v0.8h-0.8zM212.7,367.6h0.8v0.8h-0.8zM147.9,367.2h0.8v0.8h-0.8zM177.4,378.0h0.8v0.8h-0.8zM187.9,366.3h0.8v0.8h-0.8zM182.1,395.7h0.8v0.8h-0.8zM174.2,409.3h0.8v0.8h-0.8zM185.9,363.6h0.8v0.8h-0.8zM203.2,388.5h0.8v0.8h-0.8zM179.4,391.2h0.8v0.8h-0.8zM169.1,366.1h0.8v0.8h-0.8zM207.6,376.2h0.8v0.8h-0.8zM176.1,387.7h0.8v0.8h-0.8zM204.9,379.7h0.8v0.8h-0.8zM169.5,374.8h0.8v0.8h-0.8zM198.4,391.5h0.8v0.8h-0.8zM217.1,376.2h0.8v0.8h-0.8zM186.7,379.4h0.8v0.8h-0.8zM208.7,365.9h0.8v0.8h-0.8zM210.0,338.8h0.8v0.8h-0.8zM203.4,369.9h0.8v0.8h-0.8zM199.0,390.3h0.8v0.8h-0.8zM177.6,378.7h0.8v0.8h-0.8zM196.1,388.8h0.8v0.8h-0.8zM180.9,365.1h0.8v0.8h-0.8zM168.0,418.1h0.8v0.8h-0.8zM190.5,376.7h0.8v0.8h-0.8zM173.6,393.9h0.8v0.8h-0.8zM186.0,401.5h0.8v0.8h-0.8zM204.1,380.3h0.8v0.8h-0.8zM202.5,363.3h0.8v0.8h-0.8zM188.8,371.4h0.8v0.8h-0.8zM176.5,380.3h0.8v0.8h-0.8zM191.1,401.5h0.8v0.8h-0.8zM149.4,369.9h0.8v0.8h-0.8zM181.1,373.0h0.8v0.8h-0.8zM198.5,386.1h0.8v0.8h-0.8zM193.4,372.9h0.8v0.8h-0.8z" fill="#c8c8c8" opacity="0.8"/>
<path d="M337.5,378.5h0.8v0.8h-0.8zM309.8,387.7h0.8v0.8h-0.8zM307.7,374.6h0.8v0.8h-0.8zM331.9,377.7h0.8v0.8h-0.8zM324.7,367.8h0.8v0.8h-0.8zM321.3,369.6h0.8v0.8h-0.8zM338.8,382.8h0.8v0.8h-0.8zM356.7,379.7h0.8v0.8h-0.8zM318.7,378.5h0.8v0.8h-0.8zM323.0,387.6h0.8v0.8h-0.8zM354.8,372.2h0.8v0.8h-0.8zM299.0,379.4h0.8v0.8h-0.8zM321.0,392.3h0.8v0.8h-0.8zM332.2,381.2h0.8v0.8h-0.8zM341.6,357.1h0.8v0.8h-0.8zM336.0,404.8h0.8v0.8h-0.8zM327.7,367.3h0.8v0.8h-0.8zM298.7,375.4h0.8v0.8h-0.8zM306.3,395.3h0.8v0.8h-0.8zM337.7,388.4h0.8v0.8h-0.8zM323.5,371.5h0.8v0.8h-0.8zM336.6,403.4h0.8v0.8h-0.8zM313.8,391.8h0.8v0.8h-0.8zM334.8,384.4h0.8v0.8h-0.8zM329.7,386.1h0.8v0.8h-0.8zM337.0,370.9h0.8v0.8h-0.8zM324.1,379.1h0.8v0.8h-0.8zM318.9,382.3h0.8v0.8h-0.8zM328.6,382.3h0.8v0.8h-0.8zM352.8,383.0h0.8v0.8h-0.8zM330.0,387.5h0.8v0.8h-0.8zM338.5,384.2h0.8v0.8h-0.8zM332.2,380.7h0.8v0.8h-0.8zM319.6,372.8h0.8v0.8h-0.8zM348.2,386.0h0.8v0.8h-0.8zM339.8,378.2h0.8v0.8h-0.8zM329.3,371.4h0.8v0.8h-0.8zM317.2,397.2h0.8v0.8h-0.8zM327.9,370.7h0.8v0.8h-0.8zM329.8,398.2h0.8v0.8h-0.8zM325.1,409.1h0.8v0.8h-0.8zM353.7,399.1h0.8v0.8h-0.8zM322.7,382.6h0.8v0.8h-0.8zM326.1,383.1h0.8v0.8h-0.8zM322.4,371.4h0.8v0.8h-0.8zM334.9,362.3h0.8v0.8h-0.8zM329.0,387.4h0.8v0.8h-0.8zM321.5,377.0h0.8v0.8h-0.8zM330.8,371.6h0.8v0.8h-0.8zM316.9,385.3h0.8v0.8h-0.8zM340.3,397.8h0.8v0.8h-0.8zM326.3,395.8h0.8v0.8h-0.8zM319.6,379.5h0.8v0.8h-0.8zM328.7,383.1h0.8v0.8h-0.8zM351.4,390.9h0.8v0.8h-0.8zM333.5,396.6h0.8v0.8h-0.8zM345.8,380.0h0.8v0.8h-0.8zM329.1,392.8h0.8v0.8h-0.8zM331.5,382.5h0.8v0.8h-0.8zM332.2,386.9h0.8v0.8h-0.8zM349.3,382.6h0.8v0.8h-0.8zM335.3,390.1h0.8v0.8h-0.8zM337.5,358.1h0.8v0.8h-0.8zM334.8,353.7h0.8v0.8h-0.8zM339.7,380.7h0.8v0.8h-0.8zM346.7,370.9h0.8v0.8h-0.8zM319.4,372.7h0.8v0.8h-0.8zM323.2,394.7h0.8v0.8h-0.8zM322.4,371.9h0.8v0.8h-0.8zM329.7,366.2h0.8v0.8h-0.8zM322.3,376.0h0.8v0.8h-0.8zM357.1,382.5h0.8v0.8h-0.8zM316.9,362.2h0.8v0.8h-0.8zM333.3,376.9h0.8v0.8h-0.8zM337.6,381.7h0.8v0.8h-0.8zM333.6,390.1h0.8v0.8h-0.8zM339.8,374.6h0.8v0.8h-0.8zM322.4,375.6h0.8v0.8h-0.8zM328.8,361.5h0.8v0.8h-0.8zM322.9,371.0h0.8v0.8h-0.8zM320.6,393.9h0.8v0.8h-0.8zM330.0,378.6h0.8v0.8h-0.8zM327.7,356.0h0.8v0.8h-0.8zM331.5,381.6h0.8v0.8h-0.8zM330.3,360.7h0.8v0.8h-0.8zM338.7,375.5h0.8v0.8h-0.8zM351.8,381.0h0.8v0.8h-0.8zM351.2,397.3h0.8v0.8h-0.8zM326.9,373.5h0.8v0.8h-0.8zM319.7,370.2h0.8v0.8h-0.8zM315.9,358.0h0.8v0.8h-0.8zM332.3,383.1h0.8v0.8h-0.8zM337.3,367.6h0.8v0.8h-0.8zM339.0,361.6h0.8v0.8h-0.8zM314.9,358.8h0.8v0.8h-0.8zM316.7,374.7h0.8v0.8h-0.8zM348.2,373.7h0.8v0.8h-0.8zM323.1,390.9h0.8v0.8h-0.8zM333.0,372.4h0.8v0.8h-0.8zM328.0,374.7h0.8v0.8h-0.8zM312.0,363.0h0.8v0.8h-0.8zM338.3,392.1h0.8v0.8h-0.8zM341.9,365.6h0.8v0.8h-0.8zM321.3,380.7h0.8v0.8h-0.8zM341.2,375.7h0.8v0.8h-0.8zM327.0,385.7h0.8v0.8h-0.8zM331.7,384.8h0.8v0.8h-0.8zM315.5,365.3h0.8v0.8h-0.8zM336.0,385.6h0.8v0.8h-0.8zM318.5,384.2h0.8v0.8h-0.8zM335.8,368.3h0.8v0.8h-0.8zM338.2,403.5h0.8v0.8h-0.8zM345.4,383.3h0.8v0.8h-0.8zM332.5,401.3h0.8v0.8h-0.8zM310.3,383.5h0.8v0.8h-0.8zM346.6,387.0h0.8v0.8h-0.8zM316.3,377.2h0.8v0.8h-0.8zM318.1,356.6h0.8v0.8h-0.8zM340.2,379.6h0.8v0.8h-0.8zM329.5,386.6h0.8v0.8h-0.8zM339.7,376.1h0.8v0.8h-0.8zM345.8,390.3h0.8v0.8h-0.8zM326.6,382.8h0.8v0.8h-0.8zM332.3,392.2h0.8v0.8h-0.8zM329.5,385.6h0.8v0.8h-0.8zM331.8,377.8h0.8v0.8h-0.8zM345.9,365.8h0.8v0.8h-0.8zM349.5,377.3h0.8v0.8h-0.8zM341.5,367.6h0.8v0.8h-0.8zM344.3,379.8h0.8v0.8h-0.8zM326.0,384.8h0.8v0.8h-0.8zM328.5,378.5h0.8v0.8h-0.8zM337.4,362.0h0.8v0.8h-0.8zM301.5,371.0h0.8v0.8h-0.8zM321.1,374.3h0.8v0.8h-0.8zM334.1,383.8h0.8v0.8h-0.8zM349.0,369.7h0.8v0.8h-0.8zM329.2,367.4h0.8v0.8h-0.8zM345.2,388.3h0.8v0.8h-0.8zM329.0,349.0h0.8v0.8h-0.8zM349.7,388.6h0.8v0.8h-0.8zM327.3,357.1h0.8v0.8h-0.8zM331.2,386.1h0.8v0.8h-0.8zM328.2,366.9h0.8v0.8h-0.8zM328.3,393.8h0.8v0.8h-0.8zM327.4,401.5h0.8v0.8h-0.8zM332.3,381.0h0.8v0.8h-0.8zM313.1,380.5h0.8v0.8h-0.8zM326.2,358.3h0.8v0.8h-0.8zM339.8,350.0h0.8v0.8h-0.8zM318.7,386.4h0.8v0.8h-0.8zM339.8,382.4h0.8v0.8h-0.8zM325.0,378.3h0.8v0.8h-0.8zM323.7,373.6h0.8v0.8h-0.8zM312.2,404.7h0.8v0.8h-0.8zM333.5,378.0h0.8v0.8h-0.8zM325.8,384.7h0.8v0.8h-0.8zM329.3,377.3h0.8v0.8h-0.8zM328.4,353.0h0.8v0.8h-0.8zM324.9,365.4h0.8v0.8h-0.8zM337.5,395.5h0.8v0.8h-0.8zM319.0,384.0h0.8v0.8h-0.8zM331.1,391.6h0.8v0.8h-0.8zM308.8,367.0h0.8v0.8h-0.8zM332.4,371.0h0.8v0.8h-0.8zM334.6,391.2h0.8v0.8h-0.8zM318.9,379.9h0.8v0.8h-0.8zM334.3,381.3h0.8v0.8h-0.8zM332.4,392.0h0.8v0.8h-0.8zM348.4,359.2h0.8v0.8h-0.8zM332.9,344.1h0.8v0.8h-0.8zM341.0,365.3h0.8v0.8h-0.8zM328.9,373.6h0.8v0.8h-0.8zM314.9,369.0h0.8v0.8h-0.8zM335.4,393.9h0.8v0.8h-0.8zM338.4,367.0h0.8v0.8h-0.8zM320.0,374.2h0.8v0.8h-0.8zM331.3,404.4h0.8v0.8h-0.8zM337.1,374.9h0.8v0.8h-0.8zM318.1,370.7h0.8v0.8h-0.8zM348.0,377.5h0.8v0.8h-0.8zM327.9,394.4h0.8v0.8h-0.8zM324.0,391.8h0.8v0.8h-0.8zM317.9,380.0h0.8v0.8h-0.8zM337.8,379.2h0.8v0.8h-0.8zM333.7,362.8h0.8v0.8h-0.8zM354.5,381.6h0.8v0.8h-0.8zM333.2,382.9h0.8v0.8h-0.8zM321.5,381.5h0.8v0.8h-0.8zM318.1,387.5h0.8v0.8h-0.8zM341.4,390.5h0.8v0.8h-0.8zM344.8,380.2h0.8v0.8h-0.8zM325.0,378.0h0.8v0.8h-0.8zM328.3,382.5h0.8v0.8h-0.8zM317.1,398.5h0.8v0.8h-0.8zM311.5,382.9h0.8v0.8h-0.8zM326.6,372.6h0.8v0.8h-0.8zM345.1,366.2h0.8v0.8h-0.8zM353.2,379.9h0.8v0.8h-0.8zM328.1,385.4h0.8v0.8h-0.8zM340.0,366.1h0.8v0.8h-0.8zM326.9,371.7h0.8v0.8h-0.8zM328.1,374.0h0.8v0.8h-0.8zM337.8,387.8h0.8v0.8h-0.8zM344.2,370.3h0.8v0.8h-0.8zM338.0,385.5h0.8v0.8h-0.8zM319.8,369.0h0.8v0.8h-0.8zM334.0,361.1h0.8v0.8h-0.8zM332.0,362.0h0.8v0.8h-0.8zM340.0,355.3h0.8v0.8h-0.8zM348.6,387.9h0.8v0.8h-0.8zM331.3,399.6h0.8v0.8h-0.8zM309.7,365.2h0.8v0.8h-0.8zM341.8,380.5h0.8v0.8h-0.8zM310.3,353.3h0.8v0.8h-0.8zM327.3,375.2h0.8v0.8h-0.8zM324.4,377.5h0.8v0.8h-0.8zM309.0,383.8h0.8v0.8h-0.8zM358.0,382.2h0.8v0.8h-0.8zM321.5,373.0h0.8v0.8h-0.8zM341.3,386.4h0.8v0.8h-0.8zM328.6,361.3h0.8v0.8h-0.8zM332.5,378.4h0.8v0.8h-0.8zM352.1,381.0h0.8v0.8h-0.8zM343.6,387.1h0.8v0.8h-0.8zM337.1,396.4h0.8v0.8h-0.8zM328.7,384.8h0.8v0.8h-0.8zM332.3,362.6h0.8v0.8h-0.8zM310.9,364.5h0.8v0.8h-0.8zM331.2,376.4h0.8v0.8h-0.8zM330.4,385.3h0.8v0.8h-0.8zM309.7,391.5h0.8v0.8h-0.8zM329.0,374.7h0.8v0.8h-0.8zM349.9,390.9h0.8v0.8h-0.8zM319.1,371.2h0.8v0.8h-0.8zM324.9,382.9h0.8v0.8h-0.8zM329.5,365.3h0.8v0.8h-0.8zM332.3,360.9h0.8v0.8h-0.8zM340.9,377.0h0.8v0.8h-0.8zM349.6,397.2h0.8v0.8h-0.8zM326.3,378.0h0.8v0.8h-0.8zM340.6,383.8h0.8v0.8h-0.8zM319.2,389.5h0.8v0.8h-0.8zM327.4,389.3h0.8v0.8h-0.8zM343.4,369.6h0.8v0.8h-0.8zM330.3,380.6h0.8v0.8h-0.8zM307.3,405.2h0.8v0.8h-0.8zM336.5,376.0h0.8v0.8h-0.8zM321.1,373.0h0.8v0.8h-0.8zM336.8,391.7h0.8v0.8h-0.8zM338.5,392.5h0.8v0.8h-0.8zM302.3,390.0h0.8v0.8h-0.8zM332.5,376.1h0.8v0.8h-0.8zM309.5,382.0h0.8v0.8h-0.8zM332.8,356.6h0.8v0.8h-0.8zM312.9,373.1h0.8v0.8h-0.8zM329.3,388.2h0.8v0.8h-0.8zM321.3,353.2h0.8v0.8h-0.8zM339.7,362.4h0.8v0.8h-0.8zM336.2,399.0h0.8v0.8h-0.8zM320.5,365.8h0.8v0.8h-0.8zM318.8,374.7h0.8v0.8h-0.8zM318.1,381.1h0.8v0.8h-0.8zM340.8,375.9h0.8v0.8h-0.8zM336.5,415.7h0.8v0.8h-0.8zM321.4,385.6h0.8v0.8h-0.8zM335.7,385.6h0.8v0.8h-0.8zM330.1,384.8h0.8v0.8h-0.8zM350.7,365.3h0.8v0.8h-0.8zM322.0,388.4h0.8v0.8h-0.8zM319.8,379.4h0.8v0.8h-0.8zM334.2,380.2h0.8v0.8h-0.8zM333.3,388.6h0.8v0.8h-0.8zM319.0,365.8h0.8v0.8h-0.8zM335.8,368.5h0.8v0.8h-0.8zM336.9,363.4h0.8v0.8h-0.8zM337.7,377.5h0.8v0.8h-0.8zM293.8,380.2h0.8v0.8h-0.8zM329.3,399.8h0.8v0.8h-0.8zM318.5,399.7h0.8v0.8h-0.8zM343.9,376.0h0.8v0.8h-0.8zM332.9,368.5h0.8v0.8h-0.8zM331.5,380.4h0.8v0.8h-0.8zM339.0,382.5h0.8v0.8h-0.8zM323.1,372.1h0.8v0.8h-0.8zM327.5,385.9h0.8v0.8h-0.8zM305.4,375.9h0.8v0.8h-0.8zM322.2,375.0h0.8v0.8h-0.8zM308.7,352.3h0.8v0.8h-0.8zM325.0,377.6h0.8v0.8h-0.8zM323.4,352.6h0.8v0.8h-0.8zM330.4,384.9h0.8v0.8h-0.8zM343.1,387.1h0.8v0.8h-0.8zM332.6,360.3h0.8v0.8h-0.8zM333.7,370.4h0.8v0.8h-0.8zM333.2,399.0h0.8v0.8h-0.8zM318.0,373.3h0.8v0.8h-0.8zM320.1,371.9h0.8v0.8h-0.8zM342.3,375.4h0.8v0.8h-0.8zM346.2,373.1h0.8v0.8h-0.8zM331.5,392.8h0.8v0.8h-0.8zM320.5,377.5h0.8v0.8h-0.8zM328.7,379.5h0.8v0.8h-0.8zM337.1,364.0h0.8v0.8h-0.8zM333.2,375.4h0.8v0.8h-0.8zM310.3,374.9h0.8v0.8h-0.8zM330.8,383.6h0.8v0.8h-0.8zM336.4,380.9h0.8v0.8h-0.8zM327.3,373.1h0.8v0.8h-0.8zM327.0,364.9h0.8v0.8h-0.8zM314.8,383.3h0.8v0.8h-0.8zM312.7,382.0h0.8v0.8h-0.8zM318.9,377.1h0.8v0.8h-0.8zM323.9,370.0h0.8v0.8h-0.8zM313.9,363.1h0.8v0.8h-0.8zM325.2,367.9h0.8v0.8h-0.8zM313.9,346.1h0.8v0.8h-0.8zM324.1,385.8h0.8v0.8h-0.8zM304.1,390.2h0.8v0.8h-0.8zM331.6,378.4h0.8v0.8h-0.8zM317.3,390.2h0.8v0.8h-0.8zM324.5,367.0h0.8v0.8h-0.8zM336.8,372.6h0.8v0.8h-0.8zM327.0,373.2h0.8v0.8h-0.8zM335.9,375.4h0.8v0.8h-0.8zM344.1,375.2h0.8v0.8h-0.8zM322.5,379.7h0.8v0.8h-0.8zM336.2,368.2h0.8v0.8h-0.8zM337.4,380.9h0.8v0.8h-0.8zM311.8,355.0h0.8v0.8h-0.8zM332.8,379.4h0.8v0.8h-0.8zM325.9,369.2h0.8v0.8h-0.8zM340.6,368.7h0.8v0.8h-0.8zM318.9,374.6h0.8v0.8h-0.8zM325.7,364.3h0.8v0.8h-0.8zM334.6,405.3h0.8v0.8h-0.8zM350.0,380.3h0.8v0.8h-0.8zM347.3,375.2h0.8v0.8h-0.8zM322.3,401.4h0.8v0.8h-0.8zM345.4,375.0h0.8v0.8h-0.8zM320.1,403.7h0.8v0.8h-0.8zM339.6,363.9h0.8v0.8h-0.8zM336.7,385.2h0.8v0.8h-0.8zM337.0,390.0h0.8v0.8h-0.8zM335.7,384.6h0.8v0.8h-0.8zM320.3,362.1h0.8v0.8h-0.8zM343.0,417.4h0.8v0.8h-0.8zM342.0,389.8h0.8v0.8h-0.8zM353.1,388.4h0.8v0.8h-0.8zM331.1,368.2h0.8v0.8h-0.8zM316.5,357.9h0.8v0.8h-0.8zM334.6,388.7h0.8v0.8h-0.8zM310.6,394.3h0.8v0.8h-0.8zM347.4,386.4h0.8v0.8h-0.8zM316.5,377.3h0.8v0.8h-0.8zM304.7,379.7h0.8v0.8h-0.8zM349.9,396.0h0.8v0.8h-0.8zM328.8,399.9h0.8v0.8h-0.8zM330.6,370.0h0.8v0.8h-0.8zM333.1,337.3h0.8v0.8h-0.8zM330.9,380.7h0.8v0.8h-0.8zM363.3,382.7h0.8v0.8h-0.8zM352.7,364.5h0.8v0.8h-0.8zM349.2,385.8h0.8v0.8h-0.8zM337.5,378.4h0.8v0.8h-0.8zM325.3,375.0h0.8v0.8h-0.8zM332.1,406.4h0.8v0.8h-0.8zM310.9,359.3h0.8v0.8h-0.8zM332.3,375.9h0.8v0.8h-0.8zM344.6,395.8h0.8v0.8h-0.8zM327.1,375.9h0.8v0.8h-0.8zM322.7,382.7h0.8v0.8h-0.8zM327.2,383.0h0.8v0.8h-0.8zM362.9,361.5h0.8v0.8h-0.8zM335.5,403.8h0.8v0.8h-0.8zM344.1,380.8h0.8v0.8h-0.8zM342.7,381.8h0.8v0.8h-0.8zM346.6,388.3h0.8v0.8h-0.8zM349.3,385.4h0.8v0.8h-0.8zM325.1,381.3h0.8v0.8h-0.8zM329.8,392.8h0.8v0.8h-0.8zM334.7,367.7h0.8v0.8h-0.8zM354.4,401.6h0.8v0.8h-0.8zM333.9,358.2h0.8v0.8h-0.8zM333.6,385.2h0.8v0.8h-0.8zM332.4,382.3h0.8v0.8h-0.8zM343.7,373.6h0.8v0.8h-0.8zM324.5,392.7h0.8v0.8h-0.8zM329.9,379.8h0.8v0.8h-0.8zM314.7,367.3h0.8v0.8h-0.8zM315.5,382.5h0.8v0.8h-0.8zM300.3,356.7h0.8v0.8h-0.8zM332.8,358.3h0.8v0.8h-0.8zM326.8,388.3h0.8v0.8h-0.8zM316.3,407.9h0.8v0.8h-0.8zM327.3,390.0h0.8v0.8h-0.8zM327.5,384.4h0.8v0.8h-0.8zM331.0,377.3h0.8v0.8h-0.8zM301.9,374.7h0.8v0.8h-0.8zM339.7,393.0h0.8v0.8h-0.8z" fill="#c8c8c8" opacity="0.8"/>
<path d="M444.6,385.8h0.8v0.8h-0.8zM452.9,385.1h0.8v0.8h-0.8zM462.6,356.1h0.8v0.8h-0.8zM454.2,375.4h0.8v0.8h-0.8zM447.3,365.5h0.8v0.8h-0.8zM441.8,363.0h0.8v0.8h-0.8zM438.2,414.7h0.8v0.8h-0.8zM470.9,378.1h0.8v0.8h-0.8zM459.7,363.7h0.8v0.8h-0.8zM418.5,351.4h0.8v0.8h-0.8zM452.7,399.0h0.8v0.8h-0.8zM450.5,363.4h0.8v0.8h-0.8zM448.2,363.4h0.8v0.8h-0.8zM434.7,374.6h0.8v0.8h-0.8zM446.3,366.1h0.8v0.8h-0.8zM440.6,364.4h0.8v0.8h-0.8zM453.8,398.4h0.8v0.8h-0.8zM448.5,410.7h0.8v0.8h-0.8zM432.1,382.0h0.8v0.8h-0.8zM437.5,375.6h0.8v0.8h-0.8zM452.2,386.2h0.8v0.8h-0.8zM464.2,369.9h0.8v0.8h-0.8zM436.5,375.2h0.8v0.8h-0.8zM454.4,367.8h0.8v0.8h-0.8zM461.4,402.6h0.8v0.8h-0.8zM434.4,383.3h0.8v0.8h-0.8zM462.9,349.9h0.8v0.8h-0.8zM453.4,374.7h0.8v0.8h-0.8zM434.4,397.2h0.8v0.8h-0.8zM453.5,371.0h0.8v0.8h-0.8zM456.2,387.4h0.8v0.8h-0.8zM460.0,386.5h0.8v0.8h-0.8zM455.8,360.8h0.8v0.8h-0.8zM446.1,379.9h0.8v0.8h-0.8zM418.6,409.2h0.8v0.8h-0.8zM446.6,362.6h0.8v0.8h-0.8zM429.7,381.6h0.8v0.8h-0.8zM451.4,369.5h0.8v0.8h-0.8zM446.1,365.0h0.8v0.8h-0.8zM442.2,376.6h0.8v0.8h-0.8zM443.5,387.9h0.8v0.8h-0.8zM449.3,379.9h0.8v0.8h-0.8zM455.7,396.6h0.8v0.8h-0.8zM458.0,381.3h0.8v0.8h-0.8zM449.1,366.2h0.8v0.8h-0.8zM447.0,388.0h0.8v0.8h-0.8zM453.6,372.3h0.8v0.8h-0.8zM435.4,355.6h0.8v0.8h-0.8zM454.8,393.0h0.8v0.8h-0.8zM455.4,357.9h0.8v0.8h-0.8zM448.5,381.2h0.8v0.8h-0.8zM440.3,383.1h0.8v0.8h-0.8zM448.7,365.8h0.8v0.8h-0.8zM436.5,389.9h0.8v0.8h-0.8zM455.2,365.0h0.8v0.8h-0.8zM439.1,391.0h0.8v0.8h-0.8zM458.0,373.5h0.8v0.8h-0.8zM469.6,373.8h0.8v0.8h-0.8zM438.7,394.0h0.8v0.8h-0.8zM448.8,383.0h0.8v0.8h-0.8zM451.4,363.4h0.8v0.8h-0.8zM437.1,375.2h0.8v0.8h-0.8zM467.4,363.3h0.8v0.8h-0.8zM466.9,381.2h0.8v0.8h-0.8zM438.0,381.9h0.8v0.8h-0.8zM457.6,364.9h0.8v0.8h-0.8zM426.1,383.2h0.8v0.8h-0.8zM438.0,384.4h0.8v0.8h-0.8zM428.7,375.9h0.8v0.8h-0.8zM441.5,356.4h0.8v0.8h-0.8zM448.2,380.5h0.8v0.8h-0.8zM444.5,360.8h0.8v0.8h-0.8zM453.5,352.5h0.8v0.8h-0.8zM457.2,385.2h0.8v0.8h-0.8zM470.6,390.9h0.8v0.8h-0.8zM455.1,381.8h0.8v0.8h-0.8zM451.3,358.7h0.8v0.8h-0.8zM468.1,385.7h0.8v0.8h-0.8zM447.7,361.3h0.8v0.8h-0.8zM468.3,385.8h0.8v0.8h-0.8zM437.2,387.8h0.8v0.8h-0.8zM473.1,377.7h0.8v0.8h-0.8zM455.7,371.9h0.8v0.8h-0.8zM443.7,393.6h0.8v0.8h-0.8zM486.9,379.7h0.8v0.8h-0.8zM449.6,389.6h0.8v0.8h-0.8zM447.4,388.6h0.8v0.8h-0.8zM460.7,363.2h0.8v0.8h-0.8zM438.5,376.9h0.8v0.8h-0.8zM460.7,382.0h0.8v0.8h-0.8zM465.5,358.0h0.8v0.8h-0.8zM456.7,368.9h0.8v0.8h-0.8zM452.2,382.7h0.8v0.8h-0.8zM439.7,374.7h0.8v0.8h-0.8zM437.4,381.9h0.8v0.8h-0.8zM441.1,370.8h0.8v0.8h-0.8zM453.5,368.5h0.8v0.8h-0.8zM464.4,368.7h0.8v0.8h-0.8zM460.9,382.1h0.8v0.8h-0.8zM439.0,374.8h0.8v0.8h-0.8zM441.3,372.7h0.8v0.8h-0.8zM447.8,404.5h0.8v0.8h-0.8zM446.1,400.8h0.8v0.8h-0.8zM456.2,359.0h0.8v0.8h-0.8zM424.1,387.9h0.8v0.8h-0.8zM427.8,388.4h0.8v0.8h-0.8zM463.0,383.7h0.8v0.8h-0.8zM448.6,374.4h0.8v0.8h-0.8zM454.0,373.6h0.8v0.8h-0.8zM444.8,372.6h0.8v0.8h-0.8zM464.6,369.0h0.8v0.8h-0.8zM455.4,361.3h0.8v0.8h-0.8zM442.7,358.0h0.8v0.8h-0.8zM448.7,387.9h0.8v0.8h-0.8zM454.5,370.8h0.8v0.8h-0.8zM458.1,373.0h0.8v0.8h-0.8zM455.3,382.0h0.8v0.8h-0.8zM457.3,342.0h0.8v0.8h-0.8zM435.9,389.2h0.8v0.8h-0.8zM449.8,410.6h0.8v0.8h-0.8zM448.3,370.0h0.8v0.8h-0.8zM468.3,386.1h0.8v0.8h-0.8zM473.0,385.4h0.8v0.8h-0.8zM448.6,388.5h0.8v0.8h-0.8zM441.9,371.5h0.8v0.8h-0.8zM444.6,374.8h0.8v0.8h-0.8zM460.0,371.0h0.8v0.8h-0.8zM454.7,370.8h0.8v0.8h-0.8zM461.3,338.0h0.8v0.8h-0.8zM448.6,380.4h0.8v0.8h-0.8zM438.5,392.7h0.8v0.8h-0.8zM453.5,396.6h0.8v0.8h-0.8zM462.2,387.3h0.8v0.8h-0.8zM449.3,362.2h0.8v0.8h-0.8zM448.4,371.3h0.8v0.8h-0.8zM453.9,371.3h0.8v0.8h-0.8zM486.4,354.8h0.8v0.8h-0.8zM464.6,371.2h0.8v0.8h-0.8zM448.2,391.4h0.8v0.8h-0.8zM451.0,360.4h0.8v0.8h-0.8zM455.8,375.2h0.8v0.8h-0.8zM427.1,380.9h0.8v0.8h-0.8zM438.8,367.2h0.8v0.8h-0.8zM456.6,382.3h0.8v0.8h-0.8zM447.6,409.4h0.8v0.8h-0.8zM455.9,369.1h0.8v0.8h-0.8zM453.7,376.2h0.8v0.8h-0.8zM425.5,355.2h0.8v0.8h-0.8zM434.9,407.9h0.8v0.8h-0.8zM448.9,374.0h0.8v0.8h-0.8zM444.5,392.2h0.8v0.8h-0.8zM451.3,402.7h0.8v0.8h-0.8zM460.1,401.8h0.8v0.8h-0.8zM449.6,383.4h0.8v0.8h-0.8zM446.0,375.6h0.8v0.8h-0.8zM431.0,369.6h0.8v0.8h-0.8zM440.0,368.6h0.8v0.8h-0.8zM465.1,381.8h0.8v0.8h-0.8zM465.2,390.4h0.8v0.8h-0.8zM461.6,392.5h0.8v0.8h-0.8zM444.0,389.6h0.8v0.8h-0.8zM447.3,370.3h0.8v0.8h-0.8zM464.8,409.3h0.8v0.8h-0.8zM439.7,403.1h0.8v0.8h-0.8zM460.6,365.7h0.8v0.8h-0.8zM454.2,383.4h0.8v0.8h-0.8zM455.3,372.8h0.8v0.8h-0.8zM436.1,378.5h0.8v0.8h-0.8zM461.0,389.3h0.8v0.8h-0.8zM458.6,393.9h0.8v0.8h-0.8zM439.5,377.4h0.8v0.8h-0.8zM454.9,392.4h0.8v0.8h-0.8zM452.8,385.5h0.8v0.8h-0.8zM452.5,408.3h0.8v0.8h-0.8zM425.8,377.6h0.8v0.8h-0.8zM479.6,381.4h0.8v0.8h-0.8zM429.8,379.9h0.8v0.8h-0.8zM434.4,368.2h0.8v0.8h-0.8zM453.6,402.8h0.8v0.8h-0.8zM456.3,387.7h0.8v0.8h-0.8zM462.8,380.9h0.8v0.8h-0.8zM441.1,376.6h0.8v0.8h-0.8zM454.9,374.0h0.8v0.8h-0.8zM443.3,372.8h0.8v0.8h-0.8zM433.6,363.2h0.8v0.8h-0.8zM450.0,372.8h0.8v0.8h-0.8zM451.4,398.3h0.8v0.8h-0.8zM454.5,377.5h0.8v0.8h-0.8zM437.4,362.4h0.8v0.8h-0.8zM455.3,365.4h0.8v0.8h-0.8zM456.0,362.5h0.8v0.8h-0.8zM452.6,376.9h0.8v0.8h-0.8zM462.5,372.3h0.8v0.8h-0.8zM446.7,381.5h0.8v0.8h-0.8zM451.6,402.4h0.8v0.8h-0.8zM448.0,370.3h0.8v0.8h-0.8zM447.3,384.8h0.8v0.8h-0.8zM453.7,388.0h0.8v0.8h-0.8zM435.0,413.8h0.8v0.8h-0.8zM472.2,377.5h0.8v0.8h-0.8zM437.0,380.2h0.8v0.8h-0.8zM455.8,345.8h0.8v0.8h-0.8zM451.2,356.7h0.8v0.8h-0.8zM456.3,397.9h0.8v0.8h-0.8zM462.9,356.3h0.8v0.8h-0.8zM467.0,391.1h0.8v0.8h-0.8zM446.8,385.2h0.8v0.8h-0.8zM468.5,373.2h0.8v0.8h-0.8zM450.8,369.9h0.8v0.8h-0.8zM464.4,346.9h0.8v0.8h-0.8zM467.4,364.0h0.8v0.8h-0.8zM461.7,354.5h0.8v0.8h-0.8zM440.2,369.4h0.8v0.8h-0.8zM460.6,354.6h0.8v0.8h-0.8zM458.0,368.8h0.8v0.8h-0.8zM465.3,373.5h0.8v0.8h-0.8zM456.6,375.5h0.8v0.8h-0.8zM471.7,372.8h0.8v0.8h-0.8zM450.7,406.6h0.8v0.8h-0.8zM451.9,387.9h0.8v0.8h-0.8zM442.5,380.9h0.8v0.8h-0.8zM424.8,379.5h0.8v0.8h-0.8zM443.5,356.3h0.8v0.8h-0.8zM434.6,394.5h0.8v0.8h-0.8zM455.9,356.1h0.8v0.8h-0.8zM471.9,368.0h0.8v0.8h-0.8zM446.7,381.6h0.8v0.8h-0.8zM437.9,354.7h0.8v0.8h-0.8zM442.4,395.1h0.8v0.8h-0.8zM462.0,355.2h0.8v0.8h-0.8zM464.9,378.5h0.8v0.8h-0.8zM456.8,378.7h0.8v0.8h-0.8zM455.8,363.6h0.8v0.8h-0.8zM440.5,367.9h0.8v0.8h-0.8zM446.7,386.9h0.8v0.8h-0.8zM437.0,401.0h0.8v0.8h-0.8zM443.7,369.5h0.8v0.8h-0.8zM459.1,384.3h0.8v0.8h-0.8zM447.1,362.6h0.8v0.8h-0.8zM439.5,354.9h0.8v0.8h-0.8zM464.2,393.6h0.8v0.8h-0.8zM472.6,385.2h0.8v0.8h-0.8zM454.8,388.9h0.8v0.8h-0.8zM462.0,374.3h0.8v0.8h-0.8zM455.1,409.1h0.8v0.8h-0.8zM431.4,357.7h0.8v0.8h-0.8zM439.9,388.9h0.8v0.8h-0.8zM464.7,373.1h0.8v0.8h-0.8zM458.8,377.3h0.8v0.8h-0.8zM454.5,370.2h0.8v0.8h-0.8zM450.7,377.9h0.8v0.8h-0.8zM464.1,410.2h0.8v0.8h-0.8zM430.0,385.7h0.8v0.8h-0.8zM450.9,392.0h0.8v0.8h-0.8zM463.3,389.3h0.8v0.8h-0.8zM460.3,364.3h0.8v0.8h-0.8zM431.3,402.1h0.8v0.8h-0.8zM465.0,364.2h0.8v0.8h-0.8zM465.9,387.6h0.8v0.8h-0.8zM422.6,391.0h0.8v0.8h-0.8zM439.6,394.8h0.8v0.8h-0.8zM443.1,367.3h0.8v0.8h-0.8zM433.1,374.9h0.8v0.8h-0.8zM462.8,368.3h0.8v0.8h-0.8zM429.5,409.0h0.8v0.8h-0.8zM472.3,388.0h0.8v0.8h-0.8zM444.8,360.5h0.8v0.8h-0.8zM432.1,386.1h0.8v0.8h-0.8zM466.0,362.7h0.8v0.8h-0.8zM451.0,374.0h0.8v0.8h-0.8zM448.0,385.3h0.8v0.8h-0.8zM475.2,368.8h0.8v0.8h-0.8zM460.8,393.7h0.8v0.8h-0.8zM447.7,375.8h0.8v0.8h-0.8zM435.5,393.6h0.8v0.8h-0.8zM444.9,368.5h0.8v0.8h-0.8zM451.8,365.6h0.8v0.8h-0.8zM438.9,373.7h0.8v0.8h-0.8zM468.2,375.0h0.8v0.8h-0.8zM457.1,356.8h0.8v0.8h-0.8zM428.5,404.3h0.8v0.8h-0.8zM446.4,355.7h0.8v0.8h-0.8zM449.8,386.8h0.8v0.8h-0.8zM431.0,365.2h0.8v0.8h-0.8zM454.0,364.7h0.8v0.8h-0.8zM460.2,391.9h0.8v0.8h-0.8zM456.1,371.8h0.8v0.8h-0.8zM450.5,368.8h0.8v0.8h-0.8zM449.5,382.6h0.8v0.8h-0.8zM447.5,392.1h0.8v0.8h-0.8zM481.0,370.1h0.8v0.8h-0.8zM455.0,389.9h0.8v0.8h-0.8zM458.5,374.6h0.8v0.8h-0.8zM445.4,392.5h0.8v0.8h-0.8zM458.2,385.3h0.8v0.8h-0.8zM441.7,387.1h0.8v0.8h-0.8zM460.2,375.3h0.8v0.8h-0.8zM458.5,409.5h0.8v0.8h-0.8zM429.2,386.8h0.8v0.8h-0.8zM437.4,358.2h0.8v0.8h-0.8zM448.3,385.9h0.8v0.8h-0.8zM451.6,361.1h0.8v0.8h-0.8zM434.3,369.9h0.8v0.8h-0.8zM451.2,366.0h0.8v0.8h-0.8zM433.6,403.4h0.8v0.8h-0.8zM441.3,375.7h0.8v0.8h-0.8zM444.6,369.5h0.8v0.8h-0.8zM451.5,373.7h0.8v0.8h-0.8zM458.2,360.8h0.8v0.8h-0.8zM433.7,406.3h0.8v0.8h-0.8zM450.1,389.1h0.8v0.8h-0.8zM464.7,386.0h0.8v0.8h-0.8zM451.4,355.4h0.8v0.8h-0.8zM432.4,392.2h0.8v0.8h-0.8zM458.9,386.3h0.8v0.8h-0.8zM431.7,347.0h0.8v0.8h-0.8zM438.7,360.8h0.8v0.8h-0.8zM452.9,363.2h0.8v0.8h-0.8zM469.4,369.0h0.8v0.8h-0.8zM444.5,390.6h0.8v0.8h-0.8zM454.8,364.9h0.8v0.8h-0.8zM460.6,405.9h0.8v0.8h-0.8zM436.7,374.4h0.8v0.8h-0.8zM438.5,349.8h0.8v0.8h-0.8zM458.3,388.2h0.8v0.8h-0.8zM462.3,384.2h0.8v0.8h-0.8zM427.5,377.6h0.8v0.8h-0.8zM443.2,360.9h0.8v0.8h-0.8zM438.1,389.1h0.8v0.8h-0.8zM447.5,406.6h0.8v0.8h-0.8zM456.5,350.2h0.8v0.8h-0.8zM461.4,396.2h0.8v0.8h-0.8zM451.4,360.3h0.8v0.8h-0.8zM471.6,358.9h0.8v0.8h-0.8zM450.0,350.2h0.8v0.8h-0.8zM436.4,353.2h0.8v0.8h-0.8zM463.7,395.2h0.8v0.8h-0.8zM446.3,358.2h0.8v0.8h-0.8zM450.3,383.5h0.8v0.8h-0.8zM433.2,361.1h0.8v0.8h-0.8zM449.8,388.3h0.8v0.8h-0.8zM451.9,384.6h0.8v0.8h-0.8zM436.4,341.6h0.8v0.8h-0.8zM454.6,364.6h0.8v0.8h-0.8zM449.5,372.5h0.8v0.8h-0.8zM456.6,366.7h0.8v0.8h-0.8zM467.9,378.5h0.8v0.8h-0.8zM457.2,387.2h0.8v0.8h-0.8zM463.1,383.9h0.8v0.8h-0.8zM430.5,368.8h0.8v0.8h-0.8zM472.8,384.9h0.8v0.8h-0.8zM457.6,384.8h0.8v0.8h-0.8zM443.5,368.1h0.8v0.8h-0.8zM443.4,395.0h0.8v0.8h-0.8zM455.3,404.1h0.8v0.8h-0.8zM456.8,405.7h0.8v0.8h-0.8zM456.4,360.6h0.8v0.8h-0.8zM471.4,383.0h0.8v0.8h-0.8zM465.0,381.2h0.8v0.8h-0.8zM447.2,380.5h0.8v0.8h-0.8zM437.8,360.4h0.8v0.8h-0.8zM440.6,370.3h0.8v0.8h-0.8zM435.0,376.5h0.8v0.8h-0.8zM454.6,407.8h0.8v0.8h-0.8zM472.7,377.3h0.8v0.8h-0.8zM461.4,374.8h0.8v0.8h-0.8zM455.6,377.5h0.8v0.8h-0.8zM444.6,379.1h0.8v0.8h-0.8zM433.6,384.5h0.8v0.8h-0.8zM447.6,362.0h0.8v0.8h-0.8zM446.8,386.2h0.8v0.8h-0.8zM443.0,385.0h0.8v0.8h-0.8zM457.7,401.0h0.8v0.8h-0.8zM438.2,376.4h0.8v0.8h-0.8zM457.0,400.1h0.8v0.8h-0.8zM454.1,389.1h0.8v0.8h-0.8zM433.7,369.4h0.8v0.8h-0.8zM470.6,373.8h0.8v0.8h-0.8zM476.6,367.2h0.8v0.8h-0.8zM447.7,354.4h0.8v0.8h-0.8zM458.5,381.9h0.8v0.8h-0.8zM474.9,380.4h0.8v0.8h-0.8zM448.0,357.2h0.8v0.8h-0.8zM450.0,392.0h0.8v0.8h-0.8zM459.8,396.2h0.8v0.8h-0.8zM461.2,377.3h0.8v0.8h-0.8zM458.2,380.6h0.8v0.8h-0.8zM435.2,403.3h0.8v0.8h-0.8zM455.4,362.4h0.8v0.8h-0.8zM455.6,382.3h0.8v0.8h-0.8zM462.8,399.4h0.8v0.8h-0.8zM414.9,386.2h0.8v0.8h-0.8zM469.2,363.9h0.8v0.8h-0.8zM429.0,382.1h0.8v0.8h-0.8zM455.0,383.2h0.8v0.8h-0.8zM437.8,371.1h0.8v0.8h-0.8zM453.3,389.1h0.8v0.8h-0.8zM477.0,382.4h0.8v0.8h-0.8zM443.8,343.0h0.8v0.8h-0.8zM463.8,376.0h0.8v0.8h-0.8zM449.7,363.3h0.8v0.8h-0.8zM459.7,351.4h0.8v0.8h-0.8zM452.3,379.8h0.8v0.8h-0.8zM454.6,397.4h0.8v0.8h-0.8zM449.8,379.4h0.8v0.8h-0.8zM461.2,354.9h0.8v0.8h-0.8zM447.5,379.0h0.8v0.8h-0.8zM462.4,366.1h0.8v0.8h-0.8zM460.6,383.7h0.8v0.8h-0.8zM433.3,356.0h0.8v0.8h-0.8zM433.9,380.1h0.8v0.8h-0.8zM453.5,388.8h0.8v0.8h-0.8zM460.8,369.8h0.8v0.8h-0.8zM463.7,390.2h0.8v0.8h-0.8zM456.6,385.1h0.8v0.8h-0.8zM435.7,383.4h0.8v0.8h-0.8zM438.7,360.2h0.8v0.8h-0.8zM446.8,380.1h0.8v0.8h-0.8zM450.4,373.1h0.8v0.8h-0.8zM439.1,380.8h0.8v0.8h-0.8zM442.2,357.0h0.8v0.8h-0.8zM452.1,399.7h0.8v0.8h-0.8zM446.2,362.2h0.8v0.8h-0.8zM467.5,403.5h0.8v0.8h-0.8zM447.5,374.9h0.8v0.8h-0.8zM453.5,422.0h0.8v0.8h-0.8zM452.6,392.8h0.8v0.8h-0.8zM456.3,350.8h0.8v0.8h-0.8zM437.8,359.6h0.8v0.8h-0.8zM456.2,379.6h0.8v0.8h-0.8zM472.4,374.0h0.8v0.8h-0.8zM454.7,379.1h0.8v0.8h-0.8zM452.7,412.6h0.8v0.8h-0.8zM454.4,400.0h0.8v0.8h-0.8zM466.5,368.9h0.8v0.8h-0.8zM459.2,372.3h0.8v0.8h-0.8zM452.3,380.4h0.8v0.8h-0.8zM451.3,371.0h0.8v0.8h-0.8zM469.6,374.0h0.8v0.8h-0.8zM459.4,403.1h0.8v0.8h-0.8zM458.5,393.3h0.8v0.8h-0.8zM467.6,394.3h0.8v0.8h-0.8zM471.6,356.6h0.8v0.8h-0.8zM474.4,378.4h0.8v0.8h-0.8zM430.1,368.4h0.8v0.8h-0.8zM434.3,377.7h0.8v0.8h-0.8zM433.2,362.9h0.8v0.8h-0.8zM454.5,380.3h0.8v0.8h-0.8zM441.5,374.5h0.8v0.8h-0.8zM449.8,379.1h0.8v0.8h-0.8zM450.9,374.7h0.8v0.8h-0.8zM461.5,354.0h0.8v0.8h-0.8zM445.1,380.0h0.8v0.8h-0.8zM446.2,369.7h0.8v0.8h-0.8zM445.8,381.1h0.8v0.8h-0.8zM465.9,375.2h0.8v0.8h-0.8zM447.8,383.3h0.8v0.8h-0.8zM448.1,349.0h0.8v0.8h-0.8zM454.2,372.3h0.8v0.8h-0.8zM444.1,387.4h0.8v0.8h-0.8zM451.5,369.5h0.8v0.8h-0.8zM424.9,352.2h0.8v0.8h-0.8zM451.2,376.2h0.8v0.8h-0.8zM456.3,381.3h0.8v0.8h-0.8zM445.3,359.0h0.8v0.8h-0.8zM437.9,375.9h0.8v0.8h-0.8zM437.2,389.3h0.8v0.8h-0.8zM435.1,351.1h0.8v0.8h-0.8zM448.7,351.4h0.8v0.8h-0.8zM470.5,363.1h0.8v0.8h-0.8zM450.4,374.3h0.8v0.8h-0.8zM441.2,351.5h0.8v0.8h-0.8zM428.7,391.0h0.8v0.8h-0.8zM463.3,410.4h0.8v0.8h-0.8zM433.5,386.4h0.8v0.8h-0.8zM450.8,390.7h0.8v0.8h-0.8zM444.8,388.8h0.8v0.8h-0.8zM461.7,387.1h0.8v0.8h-0.8zM468.4,375.4h0.8v0.8h-0.8zM469.5,367.5h0.8v0.8h-0.8zM471.0,336.8h0.8v0.8h-0.8zM451.2,366.0h0.8v0.8h-0.8zM451.0,393.5h0.8v0.8h-0.8zM459.6,379.4h0.8v0.8h-0.8zM471.4,355.9h0.8v0.8h-0.8zM441.2,400.6h0.8v0.8h-0.8zM454.9,346.9h0.8v0.8h-0.8zM455.1,360.2h0.8v0.8h-0.8zM468.7,395.2h0.8v0.8h-0.8zM444.4,397.4h0.8v0.8h-0.8zM441.0,391.8h0.8v0.8h-0.8zM457.9,376.1h0.8v0.8h-0.8zM433.9,373.8h0.8v0.8h-0.8zM423.5,369.5h0.8v0.8h-0.8zM428.8,396.2h0.8v0.8h-0.8zM439.4,341.5h0.8v0.8h-0.8zM458.0,383.5h0.8v0.8h-0.8zM444.9,409.8h0.8v0.8h-0.8zM460.3,379.0h0.8v0.8h-0.8zM443.3,333.7h0.8v0.8h-0.8z" fill="#d0d0d0" opacity="0.8"/>
<path d="M68.5,363.6h1.0v1.0h-1.0zM64.0,349.8h1.0v1.0h-1.0zM66.3,348.3h1.0v1.0h-1.0zM66.5,362.5h1.0v1.0h-1.0zM72.8,359.5h1.0v1.0h-1.0zM67.3,362.3h1.0v1.0h-1.0zM72.4,356.1h1.0v1.0h-1.0zM61.3,353.4h1.0v1.0h-1.0zM61.2,352.8h1.0v1.0h-1.0zM66.0,360.0h1.0v1.0h-1.0zM67.2,358.4h1.0v1.0h-1.0zM65.0,360.5h1.0v1.0h-1.0zM70.2,362.4h1.0v1.0h-1.0zM72.8,356.3h1.0v1.0h-1.0zM65.4,367.8h1.0v1.0h-1.0zM67.3,360.4h1.0v1.0h-1.0zM65.1,363.6h1.0v1.0h-1.0zM64.8,352.2h1.0v1.0h-1.0zM66.2,355.4h1.0v1.0h-1.0zM70.0,355.8h1.0v1.0h-1.0zM67.0,356.7h1.0v1.0h-1.0zM67.9,354.3h1.0v1.0h-1.0zM71.1,349.7h1.0v1.0h-1.0zM64.9,353.9h1.0v1.0h-1.0zM69.2,358.2h1.0v1.0h-1.0zM68.5,356.1h1.0v1.0h-1.0zM63.5,351.5h1.0v1.0h-1.0zM65.1,354.9h1.0v1.0h-1.0zM67.7,360.1h1.0v1.0h-1.0zM70.6,357.4h1.0v1.0h-1.0zM63.4,351.8h1.0v1.0h-1.0zM66.8,360.1h1.0v1.0h-1.0zM74.7,359.1h1.0v1.0h-1.0zM73.9,368.9h1.0v1.0h-1.0zM62.1,365.0h1.0v1.0h-1.0zM71.3,365.8h1.0v1.0h-1.0zM66.5,363.5h1.0v1.0h-1.0zM64.5,357.6h1.0v1.0h-1.0zM66.6,368.3h1.0v1.0h-1.0zM65.6,363.5h1.0v1.0h-1.0zM66.8,353.9h1.0v1.0h-1.0zM67.5,361.8h1.0v1.0h-1.0zM63.5,361.7h1.0v1.0h-1.0zM63.5,352.9h1.0v1.0h-1.0zM67.4,356.6h1.0v1.0h-1.0zM62.4,348.5h1.0v1.0h-1.0zM66.6,359.4h1.0v1.0h-1.0zM64.6,359.1h1.0v1.0h-1.0zM60.1,360.3h1.0v1.0h-1.0zM68.2,359.6h1.0v1.0h-1.0zM63.9,358.5h1.0v1.0h-1.0zM67.0,364.2h1.0v1.0h-1.0zM67.7,359.5h1.0v1.0h-1.0zM63.5,363.0h1.0v1.0h-1.0zM71.4,355.1h1.0v1.0h-1.0zM69.2,359.8h1.0v1.0h-1.0zM66.3,350.5h1.0v1.0h-1.0zM73.9,347.2h1.0v1.0h-1.0zM67.8,355.8h1.0v1.0h-1.0zM71.3,355.5h1.0v1.0h-1.0zM66.7,361.5h1.0v1.0h-1.0zM68.4,355.0h1.0v1.0h-1.0zM69.4,360.3h1.0v1.0h-1.0zM70.6,355.0h1.0v1.0h-1.0zM66.3,355.7h1.0v1.0h-1.0zM63.0,359.5h1.0v1.0h-1.0zM68.2,366.2h1.0v1.0h-1.0zM65.1,360.2h1.0v1.0h-1.0zM71.3,357.3h1.0v1.0h-1.0zM66.8,358.8h1.0v1.0h-1.0zM63.6,352.3h1.0v1.0h-1.0zM71.2,359.0h1.0v1.0h-1.0zM66.2,350.8h1.0v1.0h-1.0zM67.0,364.8h1.0v1.0h-1.0zM61.7,352.8h1.0v1.0h-1.0zM71.1,366.3h1.0v1.0h-1.0zM73.0,354.8h1.0v1.0h-1.0zM69.0,353.7h1.0v1.0h-1.0zM68.7,355.9h1.0v1.0h-1.0zM67.3,365.7h1.0v1.0h-1.0zM67.9,356.6h1.0v1.0h-1.0zM66.7,359.5h1.0v1.0h-1.0zM64.4,359.2h1.0v1.0h-1.0zM69.0,367.0h1.0v1.0h-1.0zM57.9,351.1h1.0v1.0h-1.0zM61.3,363.1h1.0v1.0h-1.0zM76.7,359.1h1.0v1.0h-1.0zM67.0,364.6h1.0v1.0h-1.0zM56.3,357.0h1.0v1.0h-1.0zM53.5,358.9h1.0v1.0h-1.0zM64.4,355.2h1.0v1.0h-1.0zM67.9,354.6h1.0v1.0h-1.0zM71.1,358.0h1.0v1.0h-1.0zM68.1,372.6h1.0v1.0h-1.0zM64.6,363.3h1.0v1.0h-1.0zM63.1,365.2h1.0v1.0h-1.0zM70.5,358.8h1.0v1.0h-1.0zM70.6,367.3h1.0v1.0h-1.0zM72.2,358.0h1.0v1.0h-1.0zM66.3,364.4h1.0v1.0h-1.0zM60.4,354.5h1.0v1.0h-1.0zM68.5,361.3h1.0v1.0h-1.0zM74.3,368.1h1.0v1.0h-1.0zM67.9,360.5h1.0v1.0h-1.0zM61.0,356.9h1.0v1.0h-1.0zM67.6,356.7h1.0v1.0h-1.0zM66.8,361.5h1.0v1.0h-1.0zM62.5,354.7h1.0v1.0h-1.0zM59.1,364.6h1.0v1.0h-1.0zM62.1,348.2h1.0v1.0h-1.0zM69.7,356.8h1.0v1.0h-1.0zM70.5,355.9h1.0v1.0h-1.0zM75.3,362.1h1.0v1.0h-1.0zM67.1,358.7h1.0v1.0h-1.0zM65.6,362.6h1.0v1.0h-1.0zM74.8,355.6h1.0v1.0h-1.0zM62.0,361.4h1.0v1.0h-1.0zM70.9,349.4h1.0v1.0h-1.0zM63.6,352.3h1.0v1.0h-1.0zM68.8,360.9h1.0v1.0h-1.0zM63.5,351.5h1.0v1.0h-1.0zM69.3,346.2h1.0v1.0h-1.0zM69.2,357.1h1.0v1.0h-1.0zM74.5,363.7h1.0v1.0h-1.0zM64.1,356.4h1.0v1.0h-1.0zM65.4,353.8h1.0v1.0h-1.0zM66.8,363.5h1.0v1.0h-1.0zM60.3,356.7h1.0v1.0h-1.0zM72.7,362.2h1.0v1.0h-1.0zM63.1,353.4h1.0v1.0h-1.0zM63.0,348.8h1.0v1.0h-1.0zM71.3,358.4h1.0v1.0h-1.0zM63.6,349.8h1.0v1.0h-1.0zM64.9,355.1h1.0v1.0h-1.0zM73.6,355.4h1.0v1.0h-1.0zM67.0,364.1h1.0v1.0h-1.0zM69.3,357.0h1.0v1.0h-1.0zM57.5,366.0h1.0v1.0h-1.0zM69.0,355.5h1.0v1.0h-1.0zM66.1,352.5h1.0v1.0h-1.0zM62.8,349.5h1.0v1.0h-1.0zM68.6,361.0h1.0v1.0h-1.0zM67.2,362.5h1.0v1.0h-1.0zM68.7,358.7h1.0v1.0h-1.0zM62.9,361.4h1.0v1.0h-1.0zM71.4,361.6h1.0v1.0h-1.0zM71.7,355.3h1.0v1.0h-1.0zM62.5,365.1h1.0v1.0h-1.0zM64.1,359.4h1.0v1.0h-1.0zM65.7,358.1h1.0v1.0h-1.0zM65.4,354.9h1.0v1.0h-1.0zM59.1,368.9h1.0v1.0h-1.0zM67.3,347.0h1.0v1.0h-1.0zM62.8,351.6h1.0v1.0h-1.0zM63.4,343.5h1.0v1.0h-1.0zM68.9,367.3h1.0v1.0h-1.0zM65.5,362.2h1.0v1.0h-1.0zM69.0,350.9h1.0v1.0h-1.0zM71.5,348.4h1.0v1.0h-1.0zM64.1,356.0h1.0v1.0h-1.0zM71.7,358.7h1.0v1.0h-1.0zM66.0,353.4h1.0v1.0h-1.0zM66.9,358.2h1.0v1.0h-1.0zM69.5,365.9h1.0v1.0h-1.0zM69.5,358.1h1.0v1.0h-1.0zM65.9,367.1h1.0v1.0h-1.0zM67.3,357.9h1.0v1.0h-1.0zM73.9,366.9h1.0v1.0h-1.0zM68.8,357.4h1.0v1.0h-1.0zM63.9,364.1h1.0v1.0h-1.0zM64.6,363.5h1.0v1.0h-1.0zM63.3,358.6h1.0v1.0h-1.0zM68.2,358.8h1.0v1.0h-1.0zM67.5,360.2h1.0v1.0h-1.0zM61.9,351.7h1.0v1.0h-1.0zM65.9,368.2h1.0v1.0h-1.0zM66.0,352.7h1.0v1.0h-1.0zM63.8,358.2h1.0v1.0h-1.0zM71.4,354.8h1.0v1.0h-1.0zM68.8,359.1h1.0v1.0h-1.0zM65.0,352.6h1.0v1.0h-1.0zM65.9,353.9h1.0v1.0h-1.0zM68.7,348.0h1.0v1.0h-1.0zM71.1,362.3h1.0v1.0h-1.0zM68.9,366.5h1.0v1.0h-1.0zM69.0,348.3h1.0v1.0h-1.0zM66.7,360.5h1.0v1.0h-1.0zM63.7,351.6h1.0v1.0h-1.0zM68.3,360.9h1.0v1.0h-1.0zM64.8,356.6h1.0v1.0h-1.0zM64.4,354.8h1.0v1.0h-1.0zM66.3,364.1h1.0v1.0h-1.0zM59.9,356.1h1.0v1.0h-1.0zM73.1,359.8h1.0v1.0h-1.0zM67.1,362.7h1.0v1.0h-1.0zM62.4,351.2h1.0v1.0h-1.0zM59.7,349.8h1.0v1.0h-1.0zM67.5,362.8h1.0v1.0h-1.0zM64.8,354.2h1.0v1.0h-1.0zM68.2,361.5h1.0v1.0h-1.0zM67.6,347.2h1.0v1.0h-1.0zM64.3,343.7h1.0v1.0h-1.0zM67.5,353.2h1.0v1.0h-1.0zM63.8,366.5h1.0v1.0h-1.0zM71.9,360.7h1.0v1.0h-1.0zM67.6,359.0h1.0v1.0h-1.0zM64.1,357.7h1.0v1.0h-1.0zM74.3,353.1h1.0v1.0h-1.0zM63.8,358.9h1.0v1.0h-1.0zM70.1,362.7h1.0v1.0h-1.0zM62.5,357.3h1.0v1.0h-1.0zM65.4,351.0h1.0v1.0h-1.0zM66.8,355.3h1.0v1.0h-1.0zM70.3,360.4h1.0v1.0h-1.0zM63.3,358.5h1.0v1.0h-1.0zM65.0,354.4h1.0v1.0h-1.0zM64.5,364.0h1.0v1.0h-1.0zM64.8,348.3h1.0v1.0h-1.0zM63.3,362.6h1.0v1.0h-1.0zM75.3,352.1h1.0v1.0h-1.0zM65.0,356.1h1.0v1.0h-1.0zM60.8,360.3h1.0v1.0h-1.0zM66.3,359.6h1.0v1.0h-1.0zM75.6,356.5h1.0v1.0h-1.0zM69.7,362.7h1.0v1.0h-1.0zM63.9,354.7h1.0v1.0h-1.0zM72.9,362.0h1.0v1.0h-1.0zM67.1,351.8h1.0v1.0h-1.0zM70.1,361.0h1.0v1.0h-1.0zM75.5,366.3h1.0v1.0h-1.0zM69.8,359.5h1.0v1.0h-1.0zM66.8,354.9h1.0v1.0h-1.0zM67.8,359.4h1.0v1.0h-1.0zM69.2,364.1h1.0v1.0h-1.0zM67.8,354.9h1.0v1.0h-1.0zM69.8,366.8h1.0v1.0h-1.0zM63.1,360.4h1.0v1.0h-1.0zM68.7,361.0h1.0v1.0h-1.0zM68.6,357.5h1.0v1.0h-1.0zM66.1,367.5h1.0v1.0h-1.0zM73.6,350.1h1.0v1.0h-1.0zM56.1,360.5h1.0v1.0h-1.0zM63.7,355.1h1.0v1.0h-1.0zM60.0,360.0h1.0v1.0h-1.0zM66.3,355.0h1.0v1.0h-1.0zM70.2,371.7h1.0v1.0h-1.0zM72.5,364.6h1.0v1.0h-1.0zM64.8,361.7h1.0v1.0h-1.0zM66.3,364.5h1.0v1.0h-1.0zM68.9,357.8h1.0v1.0h-1.0zM68.8,354.0h1.0v1.0h-1.0zM69.7,366.5h1.0v1.0h-1.0zM65.0,361.1h1.0v1.0h-1.0zM59.7,363.3h1.0v1.0h-1.0zM70.1,352.2h1.0v1.0h-1.0zM73.6,358.6h1.0v1.0h-1.0zM59.4,350.3h1.0v1.0h-1.0zM70.1,356.5h1.0v1.0h-1.0zM71.0,349.3h1.0v1.0h-1.0zM66.1,363.5h1.0v1.0h-1.0zM63.7,361.8h1.0v1.0h-1.0zM65.0,359.9h1.0v1.0h-1.0zM67.8,370.6h1.0v1.0h-1.0zM61.4,362.4h1.0v1.0h-1.0zM71.9,351.7h1.0v1.0h-1.0zM66.8,371.0h1.0v1.0h-1.0zM70.8,341.3h1.0v1.0h-1.0zM65.5,348.4h1.0v1.0h-1.0zM67.7,353.9h1.0v1.0h-1.0zM64.2,353.3h1.0v1.0h-1.0zM67.7,355.4h1.0v1.0h-1.0zM62.8,356.7h1.0v1.0h-1.0zM68.2,353.2h1.0v1.0h-1.0zM71.0,348.6h1.0v1.0h-1.0zM68.2,355.8h1.0v1.0h-1.0zM72.9,354.4h1.0v1.0h-1.0zM63.8,350.4h1.0v1.0h-1.0zM74.6,361.5h1.0v1.0h-1.0zM62.1,356.1h1.0v1.0h-1.0zM62.6,366.6h1.0v1.0h-1.0zM68.2,346.5h1.0v1.0h-1.0zM67.4,363.2h1.0v1.0h-1.0zM66.5,360.7h1.0v1.0h-1.0zM66.1,359.2h1.0v1.0h-1.0zM67.4,354.0h1.0v1.0h-1.0zM67.9,358.9h1.0v1.0h-1.0zM66.3,354.1h1.0v1.0h-1.0zM62.4,359.4h1.0v1.0h-1.0zM69.9,344.4h1.0v1.0h-1.0zM64.3,365.6h1.0v1.0h-1.0zM70.2,354.0h1.0v1.0h-1.0zM72.0,352.4h1.0v1.0h-1.0zM63.3,368.9h1.0v1.0h-1.0zM64.7,356.8h1.0v1.0h-1.0zM59.8,352.3h1.0v1.0h-1.0zM61.7,357.2h1.0v1.0h-1.0zM59.0,364.0h1.0v1.0h-1.0zM65.0,354.6h1.0v1.0h-1.0zM63.9,362.2h1.0v1.0h-1.0zM72.8,355.7h1.0v1.0h-1.0zM73.1,367.1h1.0v1.0h-1.0zM72.0,359.7h1.0v1.0h-1.0zM60.4,361.8h1.0v1.0h-1.0zM64.8,359.1h1.0v1.0h-1.0zM58.8,356.4h1.0v1.0h-1.0zM67.5,352.7h1.0v1.0h-1.0zM67.7,367.4h1.0v1.0h-1.0zM67.4,354.1h1.0v1.0h-1.0zM76.2,345.9h1.0v1.0h-1.0zM62.7,360.3h1.0v1.0h-1.0zM64.1,345.1h1.0v1.0h-1.0zM67.6,362.7h1.0v1.0h-1.0zM63.3,366.3h1.0v1.0h-1.0zM68.5,364.7h1.0v1.0h-1.0zM60.3,358.0h1.0v1.0h-1.0zM73.0,369.4h1.0v1.0h-1.0zM71.9,358.0h1.0v1.0h-1.0zM67.2,354.5h1.0v1.0h-1.0zM71.0,354.1h1.0v1.0h-1.0zM67.0,346.3h1.0v1.0h-1.0zM60.3,368.1h1.0v1.0h-1.0zM66.7,359.2h1.0v1.0h-1.0zM57.5,357.8h1.0v1.0h-1.0zM75.0,349.5h1.0v1.0h-1.0zM56.8,357.1h1.0v1.0h-1.0zM64.3,356.8h1.0v1.0h-1.0zM61.4,350.3h1.0v1.0h-1.0zM61.4,361.6h1.0v1.0h-1.0zM66.3,362.7h1.0v1.0h-1.0zM62.1,361.3h1.0v1.0h-1.0zM64.7,358.5h1.0v1.0h-1.0zM70.3,358.2h1.0v1.0h-1.0zM65.1,348.6h1.0v1.0h-1.0zM66.8,362.4h1.0v1.0h-1.0zM63.9,357.6h1.0v1.0h-1.0zM59.2,350.4h1.0v1.0h-1.0zM68.2,365.4h1.0v1.0h-1.0zM65.2,348.5h1.0v1.0h-1.0zM64.9,349.1h1.0v1.0h-1.0zM65.4,369.0h1.0v1.0h-1.0zM67.7,357.1h1.0v1.0h-1.0zM70.8,355.8h1.0v1.0h-1.0zM67.9,359.1h1.0v1.0h-1.0zM68.3,349.6h1.0v1.0h-1.0zM69.4,363.0h1.0v1.0h-1.0zM57.1,342.6h1.0v1.0h-1.0zM62.8,366.5h1.0v1.0h-1.0zM66.6,361.9h1.0v1.0h-1.0zM68.8,363.1h1.0v1.0h-1.0zM63.9,354.7h1.0v1.0h-1.0zM68.1,361.5h1.0v1.0h-1.0zM68.9,359.9h1.0v1.0h-1.0zM64.5,364.3h1.0v1.0h-1.0zM68.4,364.1h1.0v1.0h-1.0zM56.0,363.8h1.0v1.0h-1.0zM56.4,359.2h1.0v1.0h-1.0zM63.8,358.7h1.0v1.0h-1.0zM64.5,356.2h1.0v1.0h-1.0zM67.3,360.0h1.0v1.0h-1.0zM63.2,343.6h1.0v1.0h-1.0zM63.3,361.1h1.0v1.0h-1.0zM63.0,360.4h1.0v1.0h-1.0zM65.0,352.6h1.0v1.0h-1.0zM71.3,367.5h1.0v1.0h-1.0zM66.1,357.7h1.0v1.0h-1.0zM70.5,350.4h1.0v1.0h-1.0zM62.9,364.5h1.0v1.0h-1.0zM70.2,355.2h1.0v1.0h-1.0zM63.3,360.0h1.0v1.0h-1.0zM60.7,355.1h1.0v1.0h-1.0zM65.5,343.9h1.0v1.0h-1.0zM69.0,362.4h1.0v1.0h-1.0zM70.9,349.8h1.0v1.0h-1.0zM61.2,353.3h1.0v1.0h-1.0zM61.1,369.8h1.0v1.0h-1.0zM62.4,356.2h1.0v1.0h-1.0zM67.4,360.6h1.0v1.0h-1.0zM72.5,351.7h1.0v1.0h-1.0zM70.2,358.9h1.0v1.0h-1.0zM61.6,358.9h1.0v1.0h-1.0zM60.7,367.3h1.0v1.0h-1.0zM63.5,363.8h1.0v1.0h-1.0zM71.9,354.4h1.0v1.0h-1.0zM62.8,358.8h1.0v1.0h-1.0zM62.1,363.2h1.0v1.0h-1.0zM67.2,353.6h1.0v1.0h-1.0zM63.6,362.2h1.0v1.0h-1.0zM60.5,367.7h1.0v1.0h-1.0zM63.2,356.9h1.0v1.0h-1.0zM62.6,367.4h1.0v1.0h-1.0zM69.9,365.5h1.0v1.0h-1.0zM69.2,358.5h1.0v1.0h-1.0zM73.6,361.8h1.0v1.0h-1.0zM68.3,361.3h1.0v1.0h-1.0zM69.6,359.6h1.0v1.0h-1.0zM65.8,348.8h1.0v1.0h-1.0zM75.1,350.5h1.0v1.0h-1.0zM57.5,353.9h1.0v1.0h-1.0zM74.6,365.0h1.0v1.0h-1.0zM64.0,359.5h1.0v1.0h-1.0zM66.4,346.5h1.0v1.0h-1.0zM65.1,359.7h1.0v1.0h-1.0zM71.4,351.0h1.0v1.0h-1.0zM57.1,348.9h1.0v1.0h-1.0zM67.9,358.5h1.0v1.0h-1.0zM67.1,358.9h1.0v1.0h-1.0zM65.0,350.1h1.0v1.0h-1.0zM68.4,360.2h1.0v1.0h-1.0zM68.9,365.2h1.0v1.0h-1.0zM61.3,344.5h1.0v1.0h-1.0zM59.0,370.4h1.0v1.0h-1.0zM62.7,360.3h1.0v1.0h-1.0zM66.4,362.2h1.0v1.0h-1.0zM80.0,355.0h1.0v1.0h-1.0zM65.8,354.5h1.0v1.0h-1.0zM67.5,361.0h1.0v1.0h-1.0zM62.4,365.6h1.0v1.0h-1.0zM71.3,360.6h1.0v1.0h-1.0zM66.0,356.6h1.0v1.0h-1.0zM59.6,361.8h1.0v1.0h-1.0z" fill="#151515" opacity="1.0"/>
<path d="M63.1,364.0h1.0v1.0h-1.0zM69.0,360.6h1.0v1.0h-1.0zM64.4,374.9h1.0v1.0h-1.0zM71.6,362.5h1.0v1.0h-1.0zM69.3,362.8h1.0v1.0h-1.0zM67.2,371.9h1.0v1.0h-1.0zM62.6,376.2h1.0v1.0h-1.0zM71.4,368.4h1.0v1.0h-1.0zM66.8,358.6h1.0v1.0h-1.0zM71.4,368.5h1.0v1.0h-1.0zM62.2,374.1h1.0v1.0h-1.0zM61.6,362.5h1.0v1.0h-1.0zM59.6,379.0h1.0v1.0h-1.0zM72.6,362.9h1.0v1.0h-1.0zM64.0,363.4h1.0v1.0h-1.0zM64.3,372.4h1.0v1.0h-1.0zM70.4,359.9h1.0v1.0h-1.0zM67.3,353.6h1.0v1.0h-1.0zM70.6,367.3h1.0v1.0h-1.0zM63.9,380.2h1.0v1.0h-1.0zM65.7,379.0h1.0v1.0h-1.0zM69.2,381.3h1.0v1.0h-1.0zM63.6,368.5h1.0v1.0h-1.0zM67.1,366.4h1.0v1.0h-1.0zM70.6,362.3h1.0v1.0h-1.0zM69.0,378.9h1.0v1.0h-1.0zM60.1,360.2h1.0v1.0h-1.0zM63.3,363.6h1.0v1.0h-1.0zM67.2,366.6h1.0v1.0h-1.0zM66.2,364.3h1.0v1.0h-1.0zM65.8,371.9h1.0v1.0h-1.0zM68.2,361.7h1.0v1.0h-1.0zM65.7,361.9h1.0v1.0h-1.0zM65.5,356.5h1.0v1.0h-1.0zM68.9,373.4h1.0v1.0h-1.0zM65.6,362.5h1.0v1.0h-1.0zM64.6,362.7h1.0v1.0h-1.0zM61.4,381.1h1.0v1.0h-1.0zM75.9,358.2h1.0v1.0h-1.0zM62.5,372.6h1.0v1.0h-1.0zM67.8,355.4h1.0v1.0h-1.0zM60.2,372.3h1.0v1.0h-1.0zM60.0,379.4h1.0v1.0h-1.0zM64.5,368.7h1.0v1.0h-1.0zM66.0,363.5h1.0v1.0h-1.0zM65.6,365.6h1.0v1.0h-1.0zM69.7,367.3h1.0v1.0h-1.0zM65.9,363.8h1.0v1.0h-1.0zM64.1,362.1h1.0v1.0h-1.0zM66.0,382.7h1.0v1.0h-1.0zM69.3,369.9h1.0v1.0h-1.0zM71.0,376.1h1.0v1.0h-1.0zM66.6,366.7h1.0v1.0h-1.0zM62.7,370.0h1.0v1.0h-1.0zM65.1,355.3h1.0v1.0h-1.0zM62.1,383.5h1.0v1.0h-1.0zM66.6,372.0h1.0v1.0h-1.0zM66.6,364.3h1.0v1.0h-1.0zM67.4,376.7h1.0v1.0h-1.0zM65.1,372.1h1.0v1.0h-1.0zM69.1,364.1h1.0v1.0h-1.0zM66.5,362.1h1.0v1.0h-1.0zM67.8,365.0h1.0v1.0h-1.0zM69.4,361.9h1.0v1.0h-1.0zM71.1,365.5h1.0v1.0h-1.0zM63.5,360.8h1.0v1.0h-1.0zM68.0,361.2h1.0v1.0h-1.0zM71.4,378.3h1.0v1.0h-1.0zM67.6,356.6h1.0v1.0h-1.0zM65.9,362.2h1.0v1.0h-1.0zM60.6,371.4h1.0v1.0h-1.0zM72.6,363.7h1.0v1.0h-1.0zM68.4,378.3h1.0v1.0h-1.0zM63.1,365.3h1.0v1.0h-1.0zM66.8,371.8h1.0v1.0h-1.0zM62.6,369.7h1.0v1.0h-1.0zM65.7,375.6h1.0v1.0h-1.0zM61.2,363.5h1.0v1.0h-1.0zM64.5,365.5h1.0v1.0h-1.0zM68.2,363.0h1.0v1.0h-1.0zM74.2,362.3h1.0v1.0h-1.0zM68.5,376.2h1.0v1.0h-1.0zM68.9,366.4h1.0v1.0h-1.0zM63.5,366.0h1.0v1.0h-1.0zM68.0,369.0h1.0v1.0h-1.0zM67.7,372.6h1.0v1.0h-1.0zM63.3,360.5h1.0v1.0h-1.0zM70.3,364.1h1.0v1.0h-1.0zM61.2,382.9h1.0v1.0h-1.0zM63.5,360.5h1.0v1.0h-1.0z" fill="#222" opacity="1.0"/>
<path d="M62.8,350.9h1.0v1.0h-1.0zM53.6,368.4h1.0v1.0h-1.0zM53.9,380.1h1.0v1.0h-1.0zM58.5,381.5h1.0v1.0h-1.0zM58.6,360.4h1.0v1.0h-1.0zM54.8,358.2h1.0v1.0h-1.0zM55.5,359.8h1.0v1.0h-1.0zM61.9,349.8h1.0v1.0h-1.0zM53.4,343.3h1.0v1.0h-1.0zM65.5,359.4h1.0v1.0h-1.0zM57.9,359.5h1.0v1.0h-1.0zM63.0,362.6h1.0v1.0h-1.0zM62.3,358.7h1.0v1.0h-1.0zM57.4,359.6h1.0v1.0h-1.0zM48.7,368.7h1.0v1.0h-1.0zM50.1,352.0h1.0v1.0h-1.0zM61.4,360.4h1.0v1.0h-1.0zM62.1,373.6h1.0v1.0h-1.0zM67.3,371.1h1.0v1.0h-1.0zM56.9,376.4h1.0v1.0h-1.0zM53.6,359.3h1.0v1.0h-1.0zM63.0,358.3h1.0v1.0h-1.0zM57.4,357.2h1.0v1.0h-1.0zM64.8,340.3h1.0v1.0h-1.0zM64.4,368.5h1.0v1.0h-1.0zM57.6,364.5h1.0v1.0h-1.0zM53.2,368.9h1.0v1.0h-1.0zM73.3,352.6h1.0v1.0h-1.0zM65.0,359.5h1.0v1.0h-1.0zM56.3,356.1h1.0v1.0h-1.0zM57.1,350.0h1.0v1.0h-1.0zM51.2,373.3h1.0v1.0h-1.0zM57.9,364.4h1.0v1.0h-1.0zM59.6,363.8h1.0v1.0h-1.0zM50.4,352.4h1.0v1.0h-1.0zM61.2,368.0h1.0v1.0h-1.0zM52.3,355.4h1.0v1.0h-1.0zM52.7,365.2h1.0v1.0h-1.0zM59.7,360.3h1.0v1.0h-1.0zM54.8,362.7h1.0v1.0h-1.0z" fill="#333" opacity="1.0"/>
<path d="M212.3,347.3h1.0v1.0h-1.0zM214.7,347.7h1.0v1.0h-1.0zM219.6,354.1h1.0v1.0h-1.0zM206.5,353.9h1.0v1.0h-1.0zM212.5,347.5h1.0v1.0h-1.0zM204.7,342.7h1.0v1.0h-1.0zM203.0,352.7h1.0v1.0h-1.0zM221.7,347.9h1.0v1.0h-1.0zM213.3,352.7h1.0v1.0h-1.0zM218.2,353.2h1.0v1.0h-1.0zM221.8,354.8h1.0v1.0h-1.0zM205.9,353.0h1.0v1.0h-1.0zM193.3,350.1h1.0v1.0h-1.0zM212.2,353.9h1.0v1.0h-1.0zM209.6,355.2h1.0v1.0h-1.0zM222.6,346.8h1.0v1.0h-1.0zM207.7,352.3h1.0v1.0h-1.0zM215.9,351.7h1.0v1.0h-1.0zM218.6,345.1h1.0v1.0h-1.0zM218.2,356.8h1.0v1.0h-1.0zM220.9,353.1h1.0v1.0h-1.0zM210.1,353.0h1.0v1.0h-1.0zM211.4,343.1h1.0v1.0h-1.0zM207.2,350.8h1.0v1.0h-1.0zM207.9,346.3h1.0v1.0h-1.0zM210.1,349.1h1.0v1.0h-1.0zM212.6,350.8h1.0v1.0h-1.0zM213.4,356.0h1.0v1.0h-1.0zM213.1,353.0h1.0v1.0h-1.0zM202.2,336.3h1.0v1.0h-1.0zM208.8,354.4h1.0v1.0h-1.0zM209.3,347.9h1.0v1.0h-1.0zM202.1,355.5h1.0v1.0h-1.0zM207.8,352.2h1.0v1.0h-1.0zM221.0,353.7h1.0v1.0h-1.0zM229.9,350.3h1.0v1.0h-1.0zM219.6,354.5h1.0v1.0h-1.0zM206.8,351.2h1.0v1.0h-1.0zM207.5,345.9h1.0v1.0h-1.0zM214.4,347.1h1.0v1.0h-1.0zM225.4,347.3h1.0v1.0h-1.0zM207.6,351.5h1.0v1.0h-1.0zM207.9,351.3h1.0v1.0h-1.0zM207.1,343.9h1.0v1.0h-1.0zM192.7,344.6h1.0v1.0h-1.0zM224.2,353.2h1.0v1.0h-1.0zM213.2,348.7h1.0v1.0h-1.0zM210.8,352.5h1.0v1.0h-1.0zM200.9,347.0h1.0v1.0h-1.0zM204.9,357.3h1.0v1.0h-1.0zM203.5,356.9h1.0v1.0h-1.0zM208.3,364.6h1.0v1.0h-1.0zM211.4,351.2h1.0v1.0h-1.0zM222.8,355.4h1.0v1.0h-1.0zM219.5,345.7h1.0v1.0h-1.0zM221.1,359.4h1.0v1.0h-1.0zM211.2,348.6h1.0v1.0h-1.0zM203.3,356.1h1.0v1.0h-1.0zM214.4,351.0h1.0v1.0h-1.0zM202.1,359.1h1.0v1.0h-1.0zM219.0,350.9h1.0v1.0h-1.0zM223.8,346.2h1.0v1.0h-1.0zM219.1,346.0h1.0v1.0h-1.0zM223.3,349.6h1.0v1.0h-1.0zM221.8,348.9h1.0v1.0h-1.0zM215.2,356.7h1.0v1.0h-1.0zM204.8,351.5h1.0v1.0h-1.0zM205.3,355.3h1.0v1.0h-1.0zM207.2,349.1h1.0v1.0h-1.0zM210.4,356.8h1.0v1.0h-1.0zM203.7,350.9h1.0v1.0h-1.0zM209.4,348.3h1.0v1.0h-1.0zM205.7,350.2h1.0v1.0h-1.0zM213.6,343.3h1.0v1.0h-1.0zM213.9,345.1h1.0v1.0h-1.0zM212.1,362.4h1.0v1.0h-1.0zM204.3,350.7h1.0v1.0h-1.0zM210.0,355.9h1.0v1.0h-1.0zM208.2,342.1h1.0v1.0h-1.0zM199.1,351.9h1.0v1.0h-1.0zM214.0,356.3h1.0v1.0h-1.0zM207.7,354.3h1.0v1.0h-1.0zM203.5,357.5h1.0v1.0h-1.0zM211.4,347.6h1.0v1.0h-1.0zM213.4,359.7h1.0v1.0h-1.0zM205.2,344.8h1.0v1.0h-1.0zM203.9,345.2h1.0v1.0h-1.0zM211.6,352.8h1.0v1.0h-1.0zM210.7,352.0h1.0v1.0h-1.0zM221.5,349.6h1.0v1.0h-1.0zM202.0,339.6h1.0v1.0h-1.0zM213.9,347.6h1.0v1.0h-1.0zM210.0,353.0h1.0v1.0h-1.0zM215.7,343.2h1.0v1.0h-1.0zM204.3,351.4h1.0v1.0h-1.0zM210.8,356.7h1.0v1.0h-1.0zM208.0,340.7h1.0v1.0h-1.0zM221.4,342.8h1.0v1.0h-1.0zM204.2,352.9h1.0v1.0h-1.0zM203.5,363.4h1.0v1.0h-1.0zM213.9,353.7h1.0v1.0h-1.0zM208.5,362.1h1.0v1.0h-1.0zM216.3,347.4h1.0v1.0h-1.0zM222.0,342.6h1.0v1.0h-1.0zM207.3,352.4h1.0v1.0h-1.0zM213.1,346.2h1.0v1.0h-1.0zM224.6,358.4h1.0v1.0h-1.0zM204.5,352.9h1.0v1.0h-1.0zM206.9,348.8h1.0v1.0h-1.0zM219.9,351.6h1.0v1.0h-1.0zM211.1,351.5h1.0v1.0h-1.0zM202.6,357.1h1.0v1.0h-1.0zM206.0,357.5h1.0v1.0h-1.0zM208.3,348.7h1.0v1.0h-1.0zM223.9,352.0h1.0v1.0h-1.0zM206.9,348.3h1.0v1.0h-1.0zM216.8,360.4h1.0v1.0h-1.0zM216.9,349.0h1.0v1.0h-1.0zM203.0,347.6h1.0v1.0h-1.0zM211.0,352.2h1.0v1.0h-1.0zM206.8,357.4h1.0v1.0h-1.0zM204.3,347.4h1.0v1.0h-1.0zM216.0,353.4h1.0v1.0h-1.0zM208.9,355.8h1.0v1.0h-1.0zM200.7,359.2h1.0v1.0h-1.0zM229.5,360.8h1.0v1.0h-1.0zM213.0,360.8h1.0v1.0h-1.0zM212.4,357.6h1.0v1.0h-1.0zM210.4,352.0h1.0v1.0h-1.0zM216.2,342.3h1.0v1.0h-1.0zM210.3,359.6h1.0v1.0h-1.0zM188.6,352.9h1.0v1.0h-1.0zM219.4,352.6h1.0v1.0h-1.0zM213.6,357.9h1.0v1.0h-1.0zM214.7,341.5h1.0v1.0h-1.0zM204.4,349.5h1.0v1.0h-1.0zM213.2,348.8h1.0v1.0h-1.0zM211.2,359.3h1.0v1.0h-1.0zM188.5,356.8h1.0v1.0h-1.0zM219.5,354.0h1.0v1.0h-1.0zM212.1,351.3h1.0v1.0h-1.0zM214.9,352.2h1.0v1.0h-1.0zM206.2,354.9h1.0v1.0h-1.0zM205.4,350.8h1.0v1.0h-1.0zM209.1,345.2h1.0v1.0h-1.0zM216.8,350.7h1.0v1.0h-1.0zM202.7,350.6h1.0v1.0h-1.0zM201.0,358.2h1.0v1.0h-1.0zM216.1,360.9h1.0v1.0h-1.0zM207.5,354.5h1.0v1.0h-1.0zM204.3,346.7h1.0v1.0h-1.0zM211.3,353.1h1.0v1.0h-1.0zM219.4,349.7h1.0v1.0h-1.0zM220.8,355.8h1.0v1.0h-1.0zM205.0,350.1h1.0v1.0h-1.0zM204.7,359.5h1.0v1.0h-1.0zM207.6,355.4h1.0v1.0h-1.0zM219.3,349.7h1.0v1.0h-1.0zM208.1,352.7h1.0v1.0h-1.0zM205.8,344.7h1.0v1.0h-1.0zM204.3,352.7h1.0v1.0h-1.0zM213.5,359.8h1.0v1.0h-1.0zM197.4,353.5h1.0v1.0h-1.0zM202.8,356.8h1.0v1.0h-1.0zM217.5,351.6h1.0v1.0h-1.0zM223.7,349.1h1.0v1.0h-1.0zM207.8,345.8h1.0v1.0h-1.0zM206.8,351.6h1.0v1.0h-1.0zM217.4,357.4h1.0v1.0h-1.0zM209.9,347.4h1.0v1.0h-1.0zM209.3,348.9h1.0v1.0h-1.0zM208.3,349.0h1.0v1.0h-1.0zM205.1,350.7h1.0v1.0h-1.0zM207.9,350.2h1.0v1.0h-1.0zM201.0,351.7h1.0v1.0h-1.0zM216.6,354.2h1.0v1.0h-1.0zM207.6,345.3h1.0v1.0h-1.0zM201.7,345.2h1.0v1.0h-1.0zM206.9,349.5h1.0v1.0h-1.0zM197.9,354.3h1.0v1.0h-1.0zM199.8,347.6h1.0v1.0h-1.0zM206.3,355.1h1.0v1.0h-1.0zM226.6,349.2h1.0v1.0h-1.0zM209.8,349.1h1.0v1.0h-1.0zM210.4,350.2h1.0v1.0h-1.0zM231.6,345.6h1.0v1.0h-1.0zM211.1,347.1h1.0v1.0h-1.0zM214.8,348.4h1.0v1.0h-1.0zM216.6,345.6h1.0v1.0h-1.0zM228.7,352.0h1.0v1.0h-1.0zM198.0,354.5h1.0v1.0h-1.0zM208.3,345.3h1.0v1.0h-1.0zM215.5,348.4h1.0v1.0h-1.0zM217.8,348.3h1.0v1.0h-1.0zM219.2,351.7h1.0v1.0h-1.0zM214.8,351.8h1.0v1.0h-1.0zM209.1,349.2h1.0v1.0h-1.0zM215.6,354.5h1.0v1.0h-1.0zM208.8,362.1h1.0v1.0h-1.0zM225.4,345.3h1.0v1.0h-1.0zM220.6,350.7h1.0v1.0h-1.0zM213.8,347.1h1.0v1.0h-1.0zM225.1,346.9h1.0v1.0h-1.0zM211.4,347.4h1.0v1.0h-1.0zM227.3,357.2h1.0v1.0h-1.0zM201.6,348.8h1.0v1.0h-1.0zM214.9,348.9h1.0v1.0h-1.0zM209.2,345.7h1.0v1.0h-1.0zM214.0,345.6h1.0v1.0h-1.0zM218.6,362.8h1.0v1.0h-1.0zM209.4,359.1h1.0v1.0h-1.0zM214.9,347.7h1.0v1.0h-1.0zM209.3,346.3h1.0v1.0h-1.0zM212.9,354.5h1.0v1.0h-1.0zM219.3,349.6h1.0v1.0h-1.0zM202.6,350.6h1.0v1.0h-1.0zM225.2,352.4h1.0v1.0h-1.0zM211.5,340.8h1.0v1.0h-1.0zM208.6,353.7h1.0v1.0h-1.0zM204.5,357.6h1.0v1.0h-1.0zM207.5,346.7h1.0v1.0h-1.0zM207.4,350.6h1.0v1.0h-1.0zM219.9,348.2h1.0v1.0h-1.0zM197.9,350.6h1.0v1.0h-1.0zM216.1,358.6h1.0v1.0h-1.0zM203.2,358.3h1.0v1.0h-1.0zM217.3,353.2h1.0v1.0h-1.0zM206.0,346.7h1.0v1.0h-1.0zM204.5,355.6h1.0v1.0h-1.0zM213.7,356.3h1.0v1.0h-1.0zM226.3,351.1h1.0v1.0h-1.0zM211.6,360.4h1.0v1.0h-1.0zM201.7,348.8h1.0v1.0h-1.0zM209.1,349.2h1.0v1.0h-1.0zM213.1,346.9h1.0v1.0h-1.0zM221.1,344.3h1.0v1.0h-1.0zM205.6,342.7h1.0v1.0h-1.0zM201.0,353.9h1.0v1.0h-1.0zM217.0,350.1h1.0v1.0h-1.0zM218.6,354.0h1.0v1.0h-1.0zM207.5,350.8h1.0v1.0h-1.0zM214.9,360.9h1.0v1.0h-1.0zM208.5,352.8h1.0v1.0h-1.0zM216.3,357.0h1.0v1.0h-1.0zM215.3,356.3h1.0v1.0h-1.0zM203.6,349.7h1.0v1.0h-1.0zM196.8,350.8h1.0v1.0h-1.0zM230.3,352.2h1.0v1.0h-1.0zM212.7,352.3h1.0v1.0h-1.0zM213.1,344.5h1.0v1.0h-1.0zM206.6,350.2h1.0v1.0h-1.0zM213.3,346.8h1.0v1.0h-1.0zM211.2,347.4h1.0v1.0h-1.0zM201.6,347.8h1.0v1.0h-1.0zM205.7,355.1h1.0v1.0h-1.0zM222.5,353.9h1.0v1.0h-1.0zM210.3,348.3h1.0v1.0h-1.0zM199.7,348.5h1.0v1.0h-1.0zM224.3,356.7h1.0v1.0h-1.0zM213.8,349.8h1.0v1.0h-1.0zM212.0,353.1h1.0v1.0h-1.0zM211.9,353.1h1.0v1.0h-1.0zM205.9,351.3h1.0v1.0h-1.0zM209.2,356.3h1.0v1.0h-1.0zM202.2,357.4h1.0v1.0h-1.0zM211.3,348.6h1.0v1.0h-1.0zM212.2,351.6h1.0v1.0h-1.0zM210.2,353.1h1.0v1.0h-1.0zM207.5,342.8h1.0v1.0h-1.0zM217.5,350.9h1.0v1.0h-1.0zM225.1,352.9h1.0v1.0h-1.0zM196.3,357.1h1.0v1.0h-1.0zM206.6,353.7h1.0v1.0h-1.0zM229.5,356.4h1.0v1.0h-1.0zM203.4,350.6h1.0v1.0h-1.0zM199.4,354.3h1.0v1.0h-1.0zM216.4,346.0h1.0v1.0h-1.0zM215.6,355.6h1.0v1.0h-1.0zM218.4,347.8h1.0v1.0h-1.0zM206.6,345.6h1.0v1.0h-1.0zM201.8,352.6h1.0v1.0h-1.0zM212.3,357.4h1.0v1.0h-1.0zM214.2,349.5h1.0v1.0h-1.0zM200.8,358.6h1.0v1.0h-1.0zM213.3,350.9h1.0v1.0h-1.0zM204.1,345.9h1.0v1.0h-1.0zM217.0,346.3h1.0v1.0h-1.0zM216.6,354.1h1.0v1.0h-1.0zM209.0,343.1h1.0v1.0h-1.0zM215.2,357.9h1.0v1.0h-1.0zM205.5,344.9h1.0v1.0h-1.0zM220.6,351.7h1.0v1.0h-1.0zM207.1,357.0h1.0v1.0h-1.0zM209.8,353.2h1.0v1.0h-1.0zM208.8,347.4h1.0v1.0h-1.0zM213.7,346.9h1.0v1.0h-1.0zM198.1,348.4h1.0v1.0h-1.0zM221.7,356.4h1.0v1.0h-1.0zM229.1,355.9h1.0v1.0h-1.0zM224.7,352.3h1.0v1.0h-1.0zM208.6,353.3h1.0v1.0h-1.0zM204.5,354.6h1.0v1.0h-1.0zM208.5,352.3h1.0v1.0h-1.0zM205.3,350.4h1.0v1.0h-1.0zM219.7,350.0h1.0v1.0h-1.0zM206.7,352.4h1.0v1.0h-1.0zM218.9,350.1h1.0v1.0h-1.0zM202.8,343.5h1.0v1.0h-1.0zM201.5,356.2h1.0v1.0h-1.0zM211.3,353.4h1.0v1.0h-1.0zM220.4,352.4h1.0v1.0h-1.0zM215.8,348.6h1.0v1.0h-1.0zM199.4,354.1h1.0v1.0h-1.0zM211.2,353.8h1.0v1.0h-1.0zM203.6,350.4h1.0v1.0h-1.0zM227.8,347.0h1.0v1.0h-1.0zM212.8,357.4h1.0v1.0h-1.0zM210.2,351.7h1.0v1.0h-1.0zM195.3,354.8h1.0v1.0h-1.0zM208.5,357.3h1.0v1.0h-1.0zM211.3,349.3h1.0v1.0h-1.0zM215.4,349.9h1.0v1.0h-1.0zM208.0,358.5h1.0v1.0h-1.0zM219.7,351.6h1.0v1.0h-1.0zM218.3,355.0h1.0v1.0h-1.0zM216.6,351.3h1.0v1.0h-1.0zM212.6,353.0h1.0v1.0h-1.0zM216.4,352.8h1.0v1.0h-1.0zM207.7,350.7h1.0v1.0h-1.0zM215.6,346.3h1.0v1.0h-1.0zM211.9,354.7h1.0v1.0h-1.0zM213.3,349.7h1.0v1.0h-1.0zM211.8,348.7h1.0v1.0h-1.0zM219.7,349.3h1.0v1.0h-1.0zM199.0,345.3h1.0v1.0h-1.0zM214.3,352.1h1.0v1.0h-1.0zM208.3,344.8h1.0v1.0h-1.0zM210.8,347.0h1.0v1.0h-1.0zM206.9,351.1h1.0v1.0h-1.0zM206.0,352.6h1.0v1.0h-1.0zM206.2,348.8h1.0v1.0h-1.0zM210.2,358.1h1.0v1.0h-1.0zM224.4,355.6h1.0v1.0h-1.0zM206.2,351.1h1.0v1.0h-1.0zM219.2,354.9h1.0v1.0h-1.0zM199.2,350.8h1.0v1.0h-1.0zM206.2,354.7h1.0v1.0h-1.0zM217.0,348.5h1.0v1.0h-1.0zM228.8,349.7h1.0v1.0h-1.0zM231.1,350.3h1.0v1.0h-1.0zM211.3,360.2h1.0v1.0h-1.0zM207.9,348.8h1.0v1.0h-1.0zM223.6,350.9h1.0v1.0h-1.0zM215.7,345.1h1.0v1.0h-1.0zM226.0,355.8h1.0v1.0h-1.0zM214.8,354.5h1.0v1.0h-1.0zM208.1,348.8h1.0v1.0h-1.0zM199.7,352.8h1.0v1.0h-1.0zM221.7,355.2h1.0v1.0h-1.0zM219.2,354.5h1.0v1.0h-1.0zM204.8,344.8h1.0v1.0h-1.0zM217.0,351.9h1.0v1.0h-1.0zM219.7,349.8h1.0v1.0h-1.0zM205.1,353.2h1.0v1.0h-1.0zM207.6,343.3h1.0v1.0h-1.0zM207.2,346.9h1.0v1.0h-1.0zM203.3,348.5h1.0v1.0h-1.0zM219.4,362.3h1.0v1.0h-1.0zM225.5,349.1h1.0v1.0h-1.0zM220.9,350.7h1.0v1.0h-1.0zM215.2,347.9h1.0v1.0h-1.0zM211.4,343.1h1.0v1.0h-1.0zM226.0,347.4h1.0v1.0h-1.0zM216.6,348.3h1.0v1.0h-1.0zM214.1,345.5h1.0v1.0h-1.0zM209.1,355.4h1.0v1.0h-1.0zM216.7,341.8h1.0v1.0h-1.0zM218.7,344.8h1.0v1.0h-1.0zM214.2,353.6h1.0v1.0h-1.0zM207.0,349.6h1.0v1.0h-1.0z" fill="#151515" opacity="1.0"/>
<path d="M200.1,365.8h1.0v1.0h-1.0zM213.7,376.8h1.0v1.0h-1.0zM206.8,384.0h1.0v1.0h-1.0zM191.9,381.5h1.0v1.0h-1.0zM199.9,370.0h1.0v1.0h-1.0zM201.5,362.1h1.0v1.0h-1.0zM192.2,365.6h1.0v1.0h-1.0zM226.8,362.9h1.0v1.0h-1.0zM202.8,361.2h1.0v1.0h-1.0zM211.4,358.9h1.0v1.0h-1.0zM203.0,363.7h1.0v1.0h-1.0zM218.3,372.1h1.0v1.0h-1.0zM190.6,354.0h1.0v1.0h-1.0zM203.2,370.9h1.0v1.0h-1.0zM214.4,358.8h1.0v1.0h-1.0zM228.0,359.3h1.0v1.0h-1.0zM219.5,377.4h1.0v1.0h-1.0zM221.7,363.5h1.0v1.0h-1.0zM209.8,343.8h1.0v1.0h-1.0zM182.1,354.2h1.0v1.0h-1.0zM211.5,373.3h1.0v1.0h-1.0zM201.8,373.1h1.0v1.0h-1.0zM209.8,378.6h1.0v1.0h-1.0zM184.3,351.8h1.0v1.0h-1.0zM191.8,349.3h1.0v1.0h-1.0zM222.4,350.7h1.0v1.0h-1.0zM193.3,356.7h1.0v1.0h-1.0zM213.4,355.9h1.0v1.0h-1.0zM211.7,367.5h1.0v1.0h-1.0zM195.5,334.3h1.0v1.0h-1.0zM192.2,347.0h1.0v1.0h-1.0zM222.2,353.0h1.0v1.0h-1.0zM190.4,365.5h1.0v1.0h-1.0zM203.6,350.5h1.0v1.0h-1.0zM215.9,371.6h1.0v1.0h-1.0zM206.3,352.6h1.0v1.0h-1.0zM192.7,337.8h1.0v1.0h-1.0zM207.5,365.7h1.0v1.0h-1.0zM192.2,361.5h1.0v1.0h-1.0zM241.5,348.3h1.0v1.0h-1.0zM182.9,368.1h1.0v1.0h-1.0zM198.0,355.5h1.0v1.0h-1.0zM210.3,359.7h1.0v1.0h-1.0zM214.7,367.1h1.0v1.0h-1.0zM216.7,362.5h1.0v1.0h-1.0zM177.6,376.6h1.0v1.0h-1.0zM183.0,373.1h1.0v1.0h-1.0zM206.0,345.3h1.0v1.0h-1.0zM203.8,371.2h1.0v1.0h-1.0zM191.0,361.6h1.0v1.0h-1.0zM194.3,349.7h1.0v1.0h-1.0zM195.7,375.7h1.0v1.0h-1.0zM211.1,360.8h1.0v1.0h-1.0zM202.0,362.6h1.0v1.0h-1.0zM206.4,363.3h1.0v1.0h-1.0zM182.8,371.6h1.0v1.0h-1.0zM192.9,331.4h1.0v1.0h-1.0zM211.3,347.4h1.0v1.0h-1.0zM201.3,360.1h1.0v1.0h-1.0zM196.0,367.2h1.0v1.0h-1.0zM199.8,358.0h1.0v1.0h-1.0zM191.8,357.9h1.0v1.0h-1.0zM190.8,361.6h1.0v1.0h-1.0zM218.6,372.7h1.0v1.0h-1.0zM208.0,345.6h1.0v1.0h-1.0zM215.1,371.8h1.0v1.0h-1.0zM227.3,335.5h1.0v1.0h-1.0zM203.2,357.3h1.0v1.0h-1.0zM215.8,348.7h1.0v1.0h-1.0zM198.5,387.6h1.0v1.0h-1.0zM214.7,338.4h1.0v1.0h-1.0zM203.2,376.7h1.0v1.0h-1.0zM195.7,367.9h1.0v1.0h-1.0zM204.2,344.4h1.0v1.0h-1.0zM195.6,374.1h1.0v1.0h-1.0zM217.0,354.2h1.0v1.0h-1.0zM216.3,353.0h1.0v1.0h-1.0zM205.9,360.9h1.0v1.0h-1.0zM188.3,364.8h1.0v1.0h-1.0zM198.4,329.7h1.0v1.0h-1.0zM193.2,351.4h1.0v1.0h-1.0zM193.1,349.9h1.0v1.0h-1.0zM194.9,333.1h1.0v1.0h-1.0zM213.5,361.9h1.0v1.0h-1.0zM206.0,358.0h1.0v1.0h-1.0zM203.8,358.1h1.0v1.0h-1.0zM190.1,343.7h1.0v1.0h-1.0zM203.9,372.7h1.0v1.0h-1.0zM205.8,379.5h1.0v1.0h-1.0zM186.9,358.1h1.0v1.0h-1.0zM195.7,375.2h1.0v1.0h-1.0zM223.0,355.1h1.0v1.0h-1.0zM211.6,358.3h1.0v1.0h-1.0zM191.2,359.8h1.0v1.0h-1.0zM190.7,378.8h1.0v1.0h-1.0zM210.0,374.7h1.0v1.0h-1.0zM207.2,333.2h1.0v1.0h-1.0zM212.5,362.1h1.0v1.0h-1.0zM174.9,362.2h1.0v1.0h-1.0zM214.9,380.7h1.0v1.0h-1.0zM190.9,370.1h1.0v1.0h-1.0zM206.9,359.1h1.0v1.0h-1.0zM199.7,367.1h1.0v1.0h-1.0zM209.8,368.6h1.0v1.0h-1.0zM198.2,345.9h1.0v1.0h-1.0zM218.6,375.9h1.0v1.0h-1.0zM196.3,360.7h1.0v1.0h-1.0zM212.5,340.9h1.0v1.0h-1.0zM208.9,388.8h1.0v1.0h-1.0zM206.2,353.0h1.0v1.0h-1.0zM227.1,361.2h1.0v1.0h-1.0zM205.5,356.2h1.0v1.0h-1.0zM205.1,340.4h1.0v1.0h-1.0zM187.9,344.1h1.0v1.0h-1.0zM213.6,360.0h1.0v1.0h-1.0zM216.6,337.6h1.0v1.0h-1.0zM195.9,377.8h1.0v1.0h-1.0zM193.7,339.6h1.0v1.0h-1.0zM194.2,357.1h1.0v1.0h-1.0zM202.8,376.0h1.0v1.0h-1.0zM218.7,378.9h1.0v1.0h-1.0zM209.9,355.3h1.0v1.0h-1.0zM197.2,344.0h1.0v1.0h-1.0zM218.0,375.4h1.0v1.0h-1.0zM204.1,350.8h1.0v1.0h-1.0zM211.0,366.6h1.0v1.0h-1.0zM204.8,347.7h1.0v1.0h-1.0zM205.8,354.5h1.0v1.0h-1.0zM211.7,367.9h1.0v1.0h-1.0zM208.2,356.1h1.0v1.0h-1.0zM221.0,369.9h1.0v1.0h-1.0zM218.0,370.7h1.0v1.0h-1.0zM210.8,365.5h1.0v1.0h-1.0zM190.4,340.1h1.0v1.0h-1.0zM192.0,368.1h1.0v1.0h-1.0zM213.7,363.1h1.0v1.0h-1.0zM204.1,382.1h1.0v1.0h-1.0zM198.3,340.5h1.0v1.0h-1.0zM184.8,357.3h1.0v1.0h-1.0zM211.3,369.5h1.0v1.0h-1.0zM200.4,370.4h1.0v1.0h-1.0zM202.4,352.7h1.0v1.0h-1.0zM198.5,369.7h1.0v1.0h-1.0zM214.2,348.1h1.0v1.0h-1.0zM191.4,362.4h1.0v1.0h-1.0zM228.0,347.6h1.0v1.0h-1.0zM188.2,365.8h1.0v1.0h-1.0zM209.0,354.0h1.0v1.0h-1.0zM202.7,366.6h1.0v1.0h-1.0zM182.5,360.7h1.0v1.0h-1.0zM210.1,371.6h1.0v1.0h-1.0zM216.7,360.2h1.0v1.0h-1.0zM186.0,376.5h1.0v1.0h-1.0zM212.1,353.7h1.0v1.0h-1.0zM215.2,373.0h1.0v1.0h-1.0zM201.4,333.9h1.0v1.0h-1.0zM197.5,352.3h1.0v1.0h-1.0zM193.2,360.1h1.0v1.0h-1.0zM190.3,365.5h1.0v1.0h-1.0zM225.2,347.3h1.0v1.0h-1.0zM215.2,354.9h1.0v1.0h-1.0zM209.4,359.5h1.0v1.0h-1.0zM218.1,352.8h1.0v1.0h-1.0zM211.6,352.1h1.0v1.0h-1.0zM205.7,360.8h1.0v1.0h-1.0zM215.8,342.9h1.0v1.0h-1.0zM187.1,377.0h1.0v1.0h-1.0zM207.5,380.5h1.0v1.0h-1.0zM190.9,363.4h1.0v1.0h-1.0zM210.1,381.3h1.0v1.0h-1.0zM202.4,355.9h1.0v1.0h-1.0zM211.4,359.8h1.0v1.0h-1.0zM194.2,369.8h1.0v1.0h-1.0zM180.6,349.3h1.0v1.0h-1.0zM219.0,355.3h1.0v1.0h-1.0zM199.2,365.3h1.0v1.0h-1.0zM216.2,367.1h1.0v1.0h-1.0zM191.7,354.5h1.0v1.0h-1.0zM215.3,359.6h1.0v1.0h-1.0zM195.6,371.1h1.0v1.0h-1.0zM216.4,386.0h1.0v1.0h-1.0zM190.4,352.9h1.0v1.0h-1.0zM194.9,365.1h1.0v1.0h-1.0zM197.4,373.8h1.0v1.0h-1.0zM171.5,372.1h1.0v1.0h-1.0zM195.5,357.8h1.0v1.0h-1.0zM209.7,363.3h1.0v1.0h-1.0zM191.1,378.3h1.0v1.0h-1.0zM209.8,355.3h1.0v1.0h-1.0zM205.5,348.3h1.0v1.0h-1.0zM188.6,357.5h1.0v1.0h-1.0zM207.3,362.2h1.0v1.0h-1.0zM193.9,345.1h1.0v1.0h-1.0zM183.3,379.4h1.0v1.0h-1.0zM207.3,351.8h1.0v1.0h-1.0zM216.9,367.2h1.0v1.0h-1.0zM198.2,353.9h1.0v1.0h-1.0zM216.3,364.8h1.0v1.0h-1.0zM222.2,365.2h1.0v1.0h-1.0zM196.2,354.1h1.0v1.0h-1.0zM194.8,363.9h1.0v1.0h-1.0zM206.0,368.0h1.0v1.0h-1.0zM208.3,348.9h1.0v1.0h-1.0zM200.6,350.2h1.0v1.0h-1.0zM208.6,345.9h1.0v1.0h-1.0zM196.2,351.1h1.0v1.0h-1.0zM195.8,358.0h1.0v1.0h-1.0zM220.7,358.1h1.0v1.0h-1.0zM186.2,357.5h1.0v1.0h-1.0zM211.8,367.4h1.0v1.0h-1.0zM205.8,383.9h1.0v1.0h-1.0zM216.0,362.1h1.0v1.0h-1.0zM217.2,345.6h1.0v1.0h-1.0zM201.0,351.0h1.0v1.0h-1.0zM205.1,379.6h1.0v1.0h-1.0zM197.2,379.3h1.0v1.0h-1.0zM191.1,377.4h1.0v1.0h-1.0zM183.2,351.2h1.0v1.0h-1.0zM214.7,359.9h1.0v1.0h-1.0zM204.7,360.9h1.0v1.0h-1.0zM205.1,358.9h1.0v1.0h-1.0zM191.6,357.7h1.0v1.0h-1.0zM204.3,350.6h1.0v1.0h-1.0zM208.5,381.3h1.0v1.0h-1.0zM183.9,354.7h1.0v1.0h-1.0zM199.7,361.2h1.0v1.0h-1.0zM204.1,352.7h1.0v1.0h-1.0zM202.6,361.1h1.0v1.0h-1.0zM202.0,378.7h1.0v1.0h-1.0zM204.5,344.0h1.0v1.0h-1.0zM184.7,367.8h1.0v1.0h-1.0zM199.0,353.9h1.0v1.0h-1.0zM187.2,357.5h1.0v1.0h-1.0zM201.9,353.1h1.0v1.0h-1.0zM198.9,371.2h1.0v1.0h-1.0zM212.2,367.3h1.0v1.0h-1.0zM201.0,345.4h1.0v1.0h-1.0zM212.1,378.2h1.0v1.0h-1.0zM217.9,374.4h1.0v1.0h-1.0zM206.2,365.3h1.0v1.0h-1.0zM202.8,375.4h1.0v1.0h-1.0zM199.9,385.7h1.0v1.0h-1.0zM212.1,357.3h1.0v1.0h-1.0zM203.0,342.5h1.0v1.0h-1.0zM194.5,357.5h1.0v1.0h-1.0zM231.6,351.6h1.0v1.0h-1.0zM213.7,361.9h1.0v1.0h-1.0zM199.6,368.2h1.0v1.0h-1.0zM179.8,371.9h1.0v1.0h-1.0zM225.6,364.4h1.0v1.0h-1.0zM202.3,362.8h1.0v1.0h-1.0zM210.7,355.4h1.0v1.0h-1.0zM204.4,366.8h1.0v1.0h-1.0zM198.9,365.5h1.0v1.0h-1.0zM206.9,369.2h1.0v1.0h-1.0zM191.5,354.8h1.0v1.0h-1.0zM198.0,374.8h1.0v1.0h-1.0zM205.9,342.0h1.0v1.0h-1.0zM188.1,383.3h1.0v1.0h-1.0zM207.0,346.1h1.0v1.0h-1.0zM192.4,362.6h1.0v1.0h-1.0zM219.6,379.6h1.0v1.0h-1.0zM198.8,357.6h1.0v1.0h-1.0zM225.4,349.7h1.0v1.0h-1.0zM221.2,364.9h1.0v1.0h-1.0zM204.1,375.8h1.0v1.0h-1.0zM208.6,351.4h1.0v1.0h-1.0zM185.2,361.2h1.0v1.0h-1.0zM209.0,376.7h1.0v1.0h-1.0zM172.6,376.5h1.0v1.0h-1.0zM210.2,378.5h1.0v1.0h-1.0zM212.3,363.5h1.0v1.0h-1.0zM208.0,365.6h1.0v1.0h-1.0zM195.7,359.7h1.0v1.0h-1.0zM204.5,355.8h1.0v1.0h-1.0zM185.9,344.4h1.0v1.0h-1.0zM208.9,367.0h1.0v1.0h-1.0zM204.3,347.5h1.0v1.0h-1.0zM212.9,356.5h1.0v1.0h-1.0zM178.8,379.0h1.0v1.0h-1.0zM185.6,387.0h1.0v1.0h-1.0zM209.2,355.9h1.0v1.0h-1.0zM175.6,352.9h1.0v1.0h-1.0zM220.3,376.7h1.0v1.0h-1.0zM206.0,341.3h1.0v1.0h-1.0zM198.6,357.7h1.0v1.0h-1.0zM208.4,359.6h1.0v1.0h-1.0zM207.0,342.2h1.0v1.0h-1.0zM195.5,377.6h1.0v1.0h-1.0zM186.1,371.7h1.0v1.0h-1.0zM229.9,368.5h1.0v1.0h-1.0zM186.8,375.4h1.0v1.0h-1.0zM181.4,364.9h1.0v1.0h-1.0zM198.2,375.3h1.0v1.0h-1.0zM216.7,363.2h1.0v1.0h-1.0zM223.9,372.3h1.0v1.0h-1.0zM197.4,349.7h1.0v1.0h-1.0zM231.7,356.3h1.0v1.0h-1.0zM207.8,359.7h1.0v1.0h-1.0zM197.5,342.4h1.0v1.0h-1.0zM201.3,359.7h1.0v1.0h-1.0zM214.4,355.1h1.0v1.0h-1.0zM184.8,348.6h1.0v1.0h-1.0zM202.5,363.9h1.0v1.0h-1.0zM211.4,356.6h1.0v1.0h-1.0zM209.3,362.7h1.0v1.0h-1.0zM222.7,360.4h1.0v1.0h-1.0zM204.7,367.5h1.0v1.0h-1.0zM217.2,350.4h1.0v1.0h-1.0zM197.5,357.8h1.0v1.0h-1.0zM178.2,376.0h1.0v1.0h-1.0zM215.5,361.3h1.0v1.0h-1.0zM242.2,375.7h1.0v1.0h-1.0zM226.6,379.1h1.0v1.0h-1.0zM213.6,344.6h1.0v1.0h-1.0zM220.9,365.9h1.0v1.0h-1.0zM189.1,361.6h1.0v1.0h-1.0zM211.8,372.4h1.0v1.0h-1.0zM205.0,355.0h1.0v1.0h-1.0zM211.9,352.2h1.0v1.0h-1.0zM202.1,369.8h1.0v1.0h-1.0zM186.2,365.3h1.0v1.0h-1.0zM180.2,350.3h1.0v1.0h-1.0zM188.7,360.0h1.0v1.0h-1.0zM211.3,360.4h1.0v1.0h-1.0zM213.7,362.1h1.0v1.0h-1.0zM200.6,366.7h1.0v1.0h-1.0zM200.2,362.6h1.0v1.0h-1.0zM215.1,354.4h1.0v1.0h-1.0zM216.4,348.2h1.0v1.0h-1.0zM200.4,340.9h1.0v1.0h-1.0zM196.8,379.4h1.0v1.0h-1.0zM207.2,375.7h1.0v1.0h-1.0zM185.9,349.3h1.0v1.0h-1.0zM208.4,370.6h1.0v1.0h-1.0zM212.8,341.6h1.0v1.0h-1.0zM209.0,360.2h1.0v1.0h-1.0zM204.4,366.5h1.0v1.0h-1.0zM199.7,341.4h1.0v1.0h-1.0zM190.5,344.3h1.0v1.0h-1.0zM187.7,359.5h1.0v1.0h-1.0zM218.3,352.7h1.0v1.0h-1.0zM194.1,347.7h1.0v1.0h-1.0zM182.8,361.8h1.0v1.0h-1.0zM197.3,358.2h1.0v1.0h-1.0zM191.8,366.6h1.0v1.0h-1.0zM189.0,367.4h1.0v1.0h-1.0zM195.3,370.1h1.0v1.0h-1.0zM192.6,366.1h1.0v1.0h-1.0zM208.1,360.1h1.0v1.0h-1.0zM222.1,363.0h1.0v1.0h-1.0zM192.6,369.0h1.0v1.0h-1.0zM193.4,354.7h1.0v1.0h-1.0zM203.1,363.1h1.0v1.0h-1.0zM222.9,340.8h1.0v1.0h-1.0zM200.0,374.1h1.0v1.0h-1.0zM201.1,364.7h1.0v1.0h-1.0zM220.8,346.7h1.0v1.0h-1.0zM203.5,370.2h1.0v1.0h-1.0zM196.1,340.7h1.0v1.0h-1.0zM191.3,363.3h1.0v1.0h-1.0zM205.2,382.4h1.0v1.0h-1.0zM218.5,343.1h1.0v1.0h-1.0zM215.1,371.6h1.0v1.0h-1.0zM221.9,359.2h1.0v1.0h-1.0zM196.5,362.7h1.0v1.0h-1.0zM221.1,368.2h1.0v1.0h-1.0zM222.8,370.1h1.0v1.0h-1.0zM196.1,349.3h1.0v1.0h-1.0zM224.7,343.4h1.0v1.0h-1.0zM198.9,357.3h1.0v1.0h-1.0zM192.3,354.4h1.0v1.0h-1.0zM203.1,388.6h1.0v1.0h-1.0zM202.2,354.9h1.0v1.0h-1.0zM204.5,371.9h1.0v1.0h-1.0zM193.5,356.3h1.0v1.0h-1.0zM182.6,369.1h1.0v1.0h-1.0zM211.0,378.4h1.0v1.0h-1.0zM189.0,386.2h1.0v1.0h-1.0zM213.2,357.8h1.0v1.0h-1.0zM198.4,357.4h1.0v1.0h-1.0zM188.8,369.9h1.0v1.0h-1.0zM195.9,352.6h1.0v1.0h-1.0zM209.0,362.3h1.0v1.0h-1.0zM196.2,358.3h1.0v1.0h-1.0zM197.2,376.6h1.0v1.0h-1.0zM214.7,352.6h1.0v1.0h-1.0zM202.5,376.9h1.0v1.0h-1.0zM199.6,381.7h1.0v1.0h-1.0zM208.2,368.8h1.0v1.0h-1.0zM178.7,370.9h1.0v1.0h-1.0zM207.0,367.8h1.0v1.0h-1.0zM208.6,367.1h1.0v1.0h-1.0zM197.1,371.5h1.0v1.0h-1.0zM203.7,348.8h1.0v1.0h-1.0zM191.1,362.9h1.0v1.0h-1.0zM206.9,335.4h1.0v1.0h-1.0zM178.9,373.2h1.0v1.0h-1.0zM202.9,394.1h1.0v1.0h-1.0zM185.1,358.1h1.0v1.0h-1.0zM196.0,367.5h1.0v1.0h-1.0zM219.5,379.7h1.0v1.0h-1.0zM191.2,375.4h1.0v1.0h-1.0zM188.8,364.6h1.0v1.0h-1.0zM205.0,368.2h1.0v1.0h-1.0zM193.6,376.6h1.0v1.0h-1.0zM202.2,360.8h1.0v1.0h-1.0zM199.9,348.6h1.0v1.0h-1.0zM211.4,364.9h1.0v1.0h-1.0zM208.3,382.7h1.0v1.0h-1.0zM192.8,357.7h1.0v1.0h-1.0zM203.1,371.0h1.0v1.0h-1.0zM200.9,371.9h1.0v1.0h-1.0zM208.3,340.5h1.0v1.0h-1.0zM195.0,337.4h1.0v1.0h-1.0zM199.7,356.2h1.0v1.0h-1.0zM209.9,363.0h1.0v1.0h-1.0zM202.3,375.7h1.0v1.0h-1.0zM210.0,346.7h1.0v1.0h-1.0zM194.9,364.8h1.0v1.0h-1.0z" fill="#1a1a1a" opacity="1.0"/>
<path d="M359.7,345.4h1.1v1.1h-1.1zM356.7,353.5h1.1v1.1h-1.1zM357.7,349.0h1.1v1.1h-1.1zM354.9,349.5h1.1v1.1h-1.1zM350.9,351.0h1.1v1.1h-1.1zM355.3,347.7h1.1v1.1h-1.1zM359.4,351.6h1.1v1.1h-1.1zM346.4,338.9h1.1v1.1h-1.1zM347.8,350.9h1.1v1.1h-1.1zM359.2,355.5h1.1v1.1h-1.1zM370.0,348.9h1.1v1.1h-1.1zM361.5,348.7h1.1v1.1h-1.1zM357.4,355.3h1.1v1.1h-1.1zM354.3,362.9h1.1v1.1h-1.1zM358.8,354.2h1.1v1.1h-1.1zM348.2,351.6h1.1v1.1h-1.1zM354.0,354.1h1.1v1.1h-1.1zM355.3,349.5h1.1v1.1h-1.1zM360.1,353.3h1.1v1.1h-1.1zM352.4,355.6h1.1v1.1h-1.1zM349.2,355.4h1.1v1.1h-1.1zM355.2,346.3h1.1v1.1h-1.1zM363.4,347.4h1.1v1.1h-1.1zM358.9,349.3h1.1v1.1h-1.1zM363.4,353.0h1.1v1.1h-1.1zM353.9,349.7h1.1v1.1h-1.1zM363.3,360.9h1.1v1.1h-1.1zM353.4,351.0h1.1v1.1h-1.1zM346.4,348.3h1.1v1.1h-1.1zM356.1,354.9h1.1v1.1h-1.1zM351.2,350.9h1.1v1.1h-1.1zM359.2,352.3h1.1v1.1h-1.1zM356.2,354.6h1.1v1.1h-1.1zM357.3,358.5h1.1v1.1h-1.1zM351.8,354.2h1.1v1.1h-1.1zM354.5,350.0h1.1v1.1h-1.1zM362.5,363.6h1.1v1.1h-1.1zM352.2,340.5h1.1v1.1h-1.1zM350.5,347.0h1.1v1.1h-1.1zM350.9,346.2h1.1v1.1h-1.1zM360.0,351.9h1.1v1.1h-1.1zM366.2,350.5h1.1v1.1h-1.1zM359.1,357.0h1.1v1.1h-1.1zM354.2,353.2h1.1v1.1h-1.1zM346.6,347.3h1.1v1.1h-1.1zM348.4,342.5h1.1v1.1h-1.1zM357.8,354.7h1.1v1.1h-1.1zM349.1,345.9h1.1v1.1h-1.1zM357.3,356.7h1.1v1.1h-1.1zM366.3,354.0h1.1v1.1h-1.1zM353.1,359.9h1.1v1.1h-1.1zM358.2,356.4h1.1v1.1h-1.1zM350.7,357.3h1.1v1.1h-1.1zM355.0,347.2h1.1v1.1h-1.1zM350.5,349.7h1.1v1.1h-1.1zM353.0,343.3h1.1v1.1h-1.1zM352.0,353.9h1.1v1.1h-1.1zM364.8,360.8h1.1v1.1h-1.1zM352.9,348.0h1.1v1.1h-1.1zM359.2,351.2h1.1v1.1h-1.1zM356.5,350.8h1.1v1.1h-1.1zM351.9,346.2h1.1v1.1h-1.1zM350.8,354.6h1.1v1.1h-1.1zM356.2,358.3h1.1v1.1h-1.1zM367.0,349.8h1.1v1.1h-1.1zM358.8,351.7h1.1v1.1h-1.1zM348.2,349.6h1.1v1.1h-1.1zM350.7,344.7h1.1v1.1h-1.1zM356.2,350.4h1.1v1.1h-1.1zM358.3,349.6h1.1v1.1h-1.1zM353.6,349.5h1.1v1.1h-1.1zM349.7,356.7h1.1v1.1h-1.1zM362.7,353.4h1.1v1.1h-1.1zM355.2,343.6h1.1v1.1h-1.1zM356.6,357.8h1.1v1.1h-1.1zM366.5,362.9h1.1v1.1h-1.1zM349.9,345.4h1.1v1.1h-1.1zM361.7,359.6h1.1v1.1h-1.1zM351.7,358.8h1.1v1.1h-1.1zM359.5,362.6h1.1v1.1h-1.1zM350.1,349.8h1.1v1.1h-1.1zM348.1,355.3h1.1v1.1h-1.1zM346.8,359.1h1.1v1.1h-1.1zM362.4,344.8h1.1v1.1h-1.1zM350.0,348.7h1.1v1.1h-1.1zM354.8,349.1h1.1v1.1h-1.1zM360.0,359.9h1.1v1.1h-1.1zM353.1,347.3h1.1v1.1h-1.1zM359.8,346.7h1.1v1.1h-1.1zM358.1,350.8h1.1v1.1h-1.1zM362.0,350.2h1.1v1.1h-1.1zM358.3,355.8h1.1v1.1h-1.1zM355.5,353.8h1.1v1.1h-1.1zM355.6,342.5h1.1v1.1h-1.1zM351.3,354.1h1.1v1.1h-1.1zM360.6,358.4h1.1v1.1h-1.1zM362.2,365.8h1.1v1.1h-1.1zM358.3,344.9h1.1v1.1h-1.1zM354.9,350.0h1.1v1.1h-1.1zM360.9,352.1h1.1v1.1h-1.1zM361.6,352.2h1.1v1.1h-1.1zM360.5,344.7h1.1v1.1h-1.1zM357.1,348.9h1.1v1.1h-1.1zM357.1,352.7h1.1v1.1h-1.1zM357.4,353.4h1.1v1.1h-1.1zM353.0,354.4h1.1v1.1h-1.1zM349.0,349.8h1.1v1.1h-1.1zM351.8,352.6h1.1v1.1h-1.1zM348.4,346.8h1.1v1.1h-1.1zM350.1,348.8h1.1v1.1h-1.1zM354.6,355.5h1.1v1.1h-1.1zM360.3,349.2h1.1v1.1h-1.1zM352.7,352.1h1.1v1.1h-1.1zM352.2,341.5h1.1v1.1h-1.1zM352.2,342.6h1.1v1.1h-1.1zM354.5,354.4h1.1v1.1h-1.1zM363.0,358.8h1.1v1.1h-1.1zM357.1,350.1h1.1v1.1h-1.1zM358.8,348.8h1.1v1.1h-1.1zM358.9,358.9h1.1v1.1h-1.1zM366.0,351.5h1.1v1.1h-1.1zM361.5,363.0h1.1v1.1h-1.1zM358.4,356.2h1.1v1.1h-1.1zM370.2,356.5h1.1v1.1h-1.1zM346.9,353.9h1.1v1.1h-1.1zM361.5,349.7h1.1v1.1h-1.1zM341.7,342.4h1.1v1.1h-1.1zM356.4,349.8h1.1v1.1h-1.1zM361.1,370.8h1.1v1.1h-1.1zM346.6,358.6h1.1v1.1h-1.1zM357.1,352.9h1.1v1.1h-1.1zM356.8,348.4h1.1v1.1h-1.1zM351.9,353.8h1.1v1.1h-1.1zM345.1,355.2h1.1v1.1h-1.1zM358.3,342.7h1.1v1.1h-1.1zM364.5,359.2h1.1v1.1h-1.1zM359.4,348.8h1.1v1.1h-1.1zM356.8,348.5h1.1v1.1h-1.1zM358.1,358.8h1.1v1.1h-1.1zM363.7,357.4h1.1v1.1h-1.1zM353.6,351.5h1.1v1.1h-1.1zM356.1,350.1h1.1v1.1h-1.1zM351.0,349.8h1.1v1.1h-1.1zM358.2,352.3h1.1v1.1h-1.1zM360.9,345.6h1.1v1.1h-1.1zM353.3,359.8h1.1v1.1h-1.1zM360.2,342.5h1.1v1.1h-1.1zM353.0,354.2h1.1v1.1h-1.1zM346.6,360.7h1.1v1.1h-1.1zM348.5,347.1h1.1v1.1h-1.1zM353.6,346.8h1.1v1.1h-1.1zM347.6,355.8h1.1v1.1h-1.1zM366.6,356.8h1.1v1.1h-1.1zM360.3,348.4h1.1v1.1h-1.1zM353.4,352.8h1.1v1.1h-1.1zM356.3,346.8h1.1v1.1h-1.1zM361.6,354.1h1.1v1.1h-1.1zM350.8,353.0h1.1v1.1h-1.1zM357.3,350.5h1.1v1.1h-1.1zM353.2,350.5h1.1v1.1h-1.1zM364.4,359.0h1.1v1.1h-1.1zM352.3,341.4h1.1v1.1h-1.1zM356.6,352.2h1.1v1.1h-1.1zM349.8,346.8h1.1v1.1h-1.1zM356.3,353.0h1.1v1.1h-1.1zM355.6,355.5h1.1v1.1h-1.1zM342.4,354.9h1.1v1.1h-1.1zM358.1,353.1h1.1v1.1h-1.1zM353.4,350.9h1.1v1.1h-1.1zM361.5,355.3h1.1v1.1h-1.1zM358.1,348.6h1.1v1.1h-1.1zM359.6,357.5h1.1v1.1h-1.1zM361.5,353.4h1.1v1.1h-1.1zM351.3,349.8h1.1v1.1h-1.1zM353.6,349.1h1.1v1.1h-1.1zM363.1,351.1h1.1v1.1h-1.1zM353.1,362.0h1.1v1.1h-1.1zM364.4,351.2h1.1v1.1h-1.1zM350.7,350.5h1.1v1.1h-1.1zM363.3,352.3h1.1v1.1h-1.1zM350.9,347.6h1.1v1.1h-1.1zM353.0,358.3h1.1v1.1h-1.1zM350.6,352.4h1.1v1.1h-1.1zM362.0,354.3h1.1v1.1h-1.1zM347.2,356.7h1.1v1.1h-1.1zM359.4,347.4h1.1v1.1h-1.1zM358.0,355.5h1.1v1.1h-1.1zM347.2,351.5h1.1v1.1h-1.1zM363.3,357.6h1.1v1.1h-1.1zM358.8,348.5h1.1v1.1h-1.1zM356.9,347.0h1.1v1.1h-1.1zM345.1,350.0h1.1v1.1h-1.1zM360.9,354.4h1.1v1.1h-1.1zM356.9,350.6h1.1v1.1h-1.1zM359.9,357.4h1.1v1.1h-1.1zM349.2,346.9h1.1v1.1h-1.1zM356.8,344.9h1.1v1.1h-1.1zM357.1,350.7h1.1v1.1h-1.1zM360.0,349.3h1.1v1.1h-1.1zM360.3,348.5h1.1v1.1h-1.1zM352.4,351.7h1.1v1.1h-1.1zM354.0,346.7h1.1v1.1h-1.1zM357.4,347.9h1.1v1.1h-1.1zM349.4,352.0h1.1v1.1h-1.1zM363.8,359.0h1.1v1.1h-1.1zM358.2,349.4h1.1v1.1h-1.1zM362.3,362.1h1.1v1.1h-1.1zM355.2,353.0h1.1v1.1h-1.1zM361.0,358.3h1.1v1.1h-1.1zM354.4,349.7h1.1v1.1h-1.1zM351.9,347.7h1.1v1.1h-1.1zM352.4,355.1h1.1v1.1h-1.1zM353.5,366.3h1.1v1.1h-1.1zM356.3,341.1h1.1v1.1h-1.1zM348.3,346.7h1.1v1.1h-1.1zM357.5,352.2h1.1v1.1h-1.1zM351.9,344.6h1.1v1.1h-1.1zM351.4,351.7h1.1v1.1h-1.1zM365.8,361.2h1.1v1.1h-1.1zM355.3,352.5h1.1v1.1h-1.1zM358.3,356.7h1.1v1.1h-1.1zM368.4,347.4h1.1v1.1h-1.1zM355.3,342.8h1.1v1.1h-1.1zM359.0,348.4h1.1v1.1h-1.1zM364.3,351.5h1.1v1.1h-1.1zM350.1,343.6h1.1v1.1h-1.1zM354.1,349.7h1.1v1.1h-1.1zM357.4,350.6h1.1v1.1h-1.1zM351.5,342.5h1.1v1.1h-1.1zM353.6,354.3h1.1v1.1h-1.1zM355.0,349.4h1.1v1.1h-1.1zM356.2,352.3h1.1v1.1h-1.1zM358.4,348.0h1.1v1.1h-1.1zM348.3,344.5h1.1v1.1h-1.1zM342.1,355.7h1.1v1.1h-1.1zM346.4,342.3h1.1v1.1h-1.1zM356.7,350.2h1.1v1.1h-1.1zM352.6,349.3h1.1v1.1h-1.1zM358.7,356.5h1.1v1.1h-1.1zM356.9,350.7h1.1v1.1h-1.1zM355.6,354.5h1.1v1.1h-1.1zM359.2,347.8h1.1v1.1h-1.1zM349.6,349.0h1.1v1.1h-1.1zM352.0,348.3h1.1v1.1h-1.1zM356.1,360.2h1.1v1.1h-1.1zM344.9,346.7h1.1v1.1h-1.1zM362.5,361.2h1.1v1.1h-1.1zM349.6,347.5h1.1v1.1h-1.1zM356.3,358.5h1.1v1.1h-1.1zM358.1,351.4h1.1v1.1h-1.1zM357.7,354.5h1.1v1.1h-1.1zM362.5,348.4h1.1v1.1h-1.1zM349.1,347.4h1.1v1.1h-1.1zM364.5,356.2h1.1v1.1h-1.1zM352.0,345.1h1.1v1.1h-1.1zM362.5,356.1h1.1v1.1h-1.1zM356.5,356.0h1.1v1.1h-1.1zM366.9,353.8h1.1v1.1h-1.1zM343.6,351.1h1.1v1.1h-1.1zM360.3,353.3h1.1v1.1h-1.1z" fill="#111" opacity="1.0"/>
<path d="M351.7,359.9h1.1v1.1h-1.1zM351.6,364.7h1.1v1.1h-1.1zM349.8,361.0h1.1v1.1h-1.1zM350.7,357.3h1.1v1.1h-1.1zM350.5,356.4h1.1v1.1h-1.1zM352.0,360.1h1.1v1.1h-1.1zM353.8,359.1h1.1v1.1h-1.1zM352.3,361.4h1.1v1.1h-1.1zM352.3,365.8h1.1v1.1h-1.1zM352.1,360.6h1.1v1.1h-1.1zM351.9,360.0h1.1v1.1h-1.1zM351.9,363.9h1.1v1.1h-1.1zM352.0,360.3h1.1v1.1h-1.1zM352.0,363.0h1.1v1.1h-1.1zM351.5,363.7h1.1v1.1h-1.1zM351.4,362.7h1.1v1.1h-1.1zM353.9,360.9h1.1v1.1h-1.1zM351.9,355.4h1.1v1.1h-1.1zM352.7,360.1h1.1v1.1h-1.1zM352.9,357.4h1.1v1.1h-1.1zM352.5,367.1h1.1v1.1h-1.1zM352.4,358.7h1.1v1.1h-1.1zM350.7,360.0h1.1v1.1h-1.1zM352.6,362.4h1.1v1.1h-1.1zM350.9,356.0h1.1v1.1h-1.1zM351.0,356.0h1.1v1.1h-1.1zM351.7,361.0h1.1v1.1h-1.1zM353.9,360.8h1.1v1.1h-1.1zM353.4,353.5h1.1v1.1h-1.1zM353.5,363.1h1.1v1.1h-1.1zM352.4,363.3h1.1v1.1h-1.1zM352.6,367.5h1.1v1.1h-1.1zM352.8,353.1h1.1v1.1h-1.1zM350.3,366.4h1.1v1.1h-1.1zM351.9,365.2h1.1v1.1h-1.1zM351.7,357.4h1.1v1.1h-1.1zM351.7,361.2h1.1v1.1h-1.1zM352.2,357.6h1.1v1.1h-1.1zM352.5,362.4h1.1v1.1h-1.1zM351.1,355.6h1.1v1.1h-1.1z" fill="#111" opacity="1.0"/>
<path d="M334.7,372.1h1.0v1.0h-1.0zM342.2,362.3h1.0v1.0h-1.0zM342.3,368.9h1.0v1.0h-1.0zM349.3,372.5h1.0v1.0h-1.0zM352.5,368.8h1.0v1.0h-1.0zM346.1,356.4h1.0v1.0h-1.0zM351.0,369.0h1.0v1.0h-1.0zM337.1,366.0h1.0v1.0h-1.0zM348.6,367.1h1.0v1.0h-1.0zM336.8,367.7h1.0v1.0h-1.0zM358.2,369.8h1.0v1.0h-1.0zM353.9,378.7h1.0v1.0h-1.0zM340.6,369.6h1.0v1.0h-1.0zM348.8,362.1h1.0v1.0h-1.0zM343.8,376.5h1.0v1.0h-1.0zM339.7,342.0h1.0v1.0h-1.0zM339.8,357.3h1.0v1.0h-1.0zM336.7,357.5h1.0v1.0h-1.0zM354.9,353.7h1.0v1.0h-1.0zM342.3,362.1h1.0v1.0h-1.0zM338.6,367.6h1.0v1.0h-1.0zM356.8,381.6h1.0v1.0h-1.0zM356.1,379.8h1.0v1.0h-1.0zM341.2,372.2h1.0v1.0h-1.0zM335.1,356.7h1.0v1.0h-1.0zM362.9,353.5h1.0v1.0h-1.0zM343.0,361.0h1.0v1.0h-1.0zM337.4,361.5h1.0v1.0h-1.0zM348.8,361.3h1.0v1.0h-1.0zM346.3,370.0h1.0v1.0h-1.0zM341.3,374.0h1.0v1.0h-1.0zM347.7,372.2h1.0v1.0h-1.0zM344.3,369.6h1.0v1.0h-1.0zM353.9,374.1h1.0v1.0h-1.0zM348.1,378.2h1.0v1.0h-1.0zM340.1,369.8h1.0v1.0h-1.0zM347.4,368.7h1.0v1.0h-1.0zM328.3,368.4h1.0v1.0h-1.0zM350.3,376.2h1.0v1.0h-1.0zM351.0,382.7h1.0v1.0h-1.0zM337.6,374.7h1.0v1.0h-1.0zM348.7,366.3h1.0v1.0h-1.0zM352.5,374.7h1.0v1.0h-1.0zM345.3,375.5h1.0v1.0h-1.0zM349.9,362.5h1.0v1.0h-1.0zM328.0,366.0h1.0v1.0h-1.0zM335.9,362.2h1.0v1.0h-1.0zM343.6,360.0h1.0v1.0h-1.0zM361.3,364.3h1.0v1.0h-1.0zM338.0,370.0h1.0v1.0h-1.0zM357.3,368.4h1.0v1.0h-1.0zM346.8,379.9h1.0v1.0h-1.0zM356.0,387.6h1.0v1.0h-1.0zM346.6,374.7h1.0v1.0h-1.0zM346.3,362.5h1.0v1.0h-1.0zM351.7,378.0h1.0v1.0h-1.0zM348.1,365.8h1.0v1.0h-1.0zM357.9,380.8h1.0v1.0h-1.0zM353.2,368.8h1.0v1.0h-1.0zM338.9,354.1h1.0v1.0h-1.0zM343.9,363.6h1.0v1.0h-1.0zM346.2,360.6h1.0v1.0h-1.0zM342.3,357.9h1.0v1.0h-1.0zM346.3,359.1h1.0v1.0h-1.0zM349.1,372.8h1.0v1.0h-1.0zM344.5,369.1h1.0v1.0h-1.0zM361.1,378.9h1.0v1.0h-1.0zM332.1,366.7h1.0v1.0h-1.0zM354.6,373.4h1.0v1.0h-1.0zM344.2,370.4h1.0v1.0h-1.0zM357.8,387.2h1.0v1.0h-1.0zM338.4,359.0h1.0v1.0h-1.0zM331.3,362.8h1.0v1.0h-1.0zM350.2,360.5h1.0v1.0h-1.0zM359.1,366.7h1.0v1.0h-1.0zM351.5,372.0h1.0v1.0h-1.0zM355.0,372.9h1.0v1.0h-1.0zM338.1,366.7h1.0v1.0h-1.0zM343.9,370.7h1.0v1.0h-1.0zM337.9,358.8h1.0v1.0h-1.0zM352.6,384.9h1.0v1.0h-1.0zM351.6,353.9h1.0v1.0h-1.0zM347.7,366.4h1.0v1.0h-1.0zM345.8,376.6h1.0v1.0h-1.0zM355.0,381.8h1.0v1.0h-1.0zM346.5,363.9h1.0v1.0h-1.0zM332.5,376.0h1.0v1.0h-1.0zM346.2,359.3h1.0v1.0h-1.0zM354.1,370.6h1.0v1.0h-1.0zM336.3,372.3h1.0v1.0h-1.0z" fill="#222" opacity="1.0"/>
<path d="M465.2,364.8h1.0v1.0h-1.0zM464.1,361.9h1.0v1.0h-1.0zM460.6,360.9h1.0v1.0h-1.0zM463.0,358.0h1.0v1.0h-1.0zM467.4,360.8h1.0v1.0h-1.0zM466.6,360.1h1.0v1.0h-1.0zM465.8,362.5h1.0v1.0h-1.0zM469.2,363.7h1.0v1.0h-1.0zM469.5,361.4h1.0v1.0h-1.0zM462.6,361.0h1.0v1.0h-1.0zM454.3,361.5h1.0v1.0h-1.0zM470.5,364.9h1.0v1.0h-1.0zM457.1,363.1h1.0v1.0h-1.0zM468.2,356.9h1.0v1.0h-1.0zM465.4,363.2h1.0v1.0h-1.0zM468.2,363.0h1.0v1.0h-1.0zM451.0,354.4h1.0v1.0h-1.0zM476.7,360.5h1.0v1.0h-1.0zM471.8,366.7h1.0v1.0h-1.0zM463.6,357.7h1.0v1.0h-1.0zM472.5,361.9h1.0v1.0h-1.0zM466.6,363.8h1.0v1.0h-1.0zM469.6,365.8h1.0v1.0h-1.0zM453.2,356.7h1.0v1.0h-1.0zM464.0,362.0h1.0v1.0h-1.0zM468.4,361.5h1.0v1.0h-1.0zM461.7,369.6h1.0v1.0h-1.0zM472.5,366.3h1.0v1.0h-1.0zM470.2,359.0h1.0v1.0h-1.0zM462.4,361.7h1.0v1.0h-1.0zM455.4,358.7h1.0v1.0h-1.0zM464.1,357.5h1.0v1.0h-1.0zM466.7,363.8h1.0v1.0h-1.0zM461.4,360.7h1.0v1.0h-1.0zM467.2,363.8h1.0v1.0h-1.0zM465.5,357.4h1.0v1.0h-1.0zM451.8,369.7h1.0v1.0h-1.0zM458.5,360.6h1.0v1.0h-1.0zM450.4,359.0h1.0v1.0h-1.0zM457.9,365.0h1.0v1.0h-1.0zM444.7,356.8h1.0v1.0h-1.0zM460.1,360.2h1.0v1.0h-1.0zM457.6,360.4h1.0v1.0h-1.0zM452.1,363.0h1.0v1.0h-1.0zM471.3,362.6h1.0v1.0h-1.0zM459.3,366.7h1.0v1.0h-1.0zM466.4,358.1h1.0v1.0h-1.0zM459.0,359.7h1.0v1.0h-1.0zM462.7,366.5h1.0v1.0h-1.0zM458.1,361.5h1.0v1.0h-1.0zM463.8,357.5h1.0v1.0h-1.0zM459.7,364.3h1.0v1.0h-1.0zM470.8,355.0h1.0v1.0h-1.0zM467.9,360.9h1.0v1.0h-1.0zM471.9,364.3h1.0v1.0h-1.0zM476.6,363.2h1.0v1.0h-1.0zM460.3,358.9h1.0v1.0h-1.0zM453.1,364.1h1.0v1.0h-1.0zM466.6,365.1h1.0v1.0h-1.0zM465.4,356.4h1.0v1.0h-1.0zM460.2,361.1h1.0v1.0h-1.0zM464.1,364.9h1.0v1.0h-1.0zM472.8,363.1h1.0v1.0h-1.0zM448.7,358.2h1.0v1.0h-1.0zM448.2,359.1h1.0v1.0h-1.0zM454.7,362.9h1.0v1.0h-1.0zM461.5,366.2h1.0v1.0h-1.0zM470.5,360.3h1.0v1.0h-1.0zM469.5,362.0h1.0v1.0h-1.0zM466.2,367.0h1.0v1.0h-1.0zM455.1,361.7h1.0v1.0h-1.0zM473.6,359.2h1.0v1.0h-1.0zM464.5,362.5h1.0v1.0h-1.0zM460.1,357.1h1.0v1.0h-1.0zM458.3,358.3h1.0v1.0h-1.0zM470.5,362.9h1.0v1.0h-1.0zM467.9,357.6h1.0v1.0h-1.0zM466.5,362.5h1.0v1.0h-1.0zM470.3,359.3h1.0v1.0h-1.0zM468.6,367.1h1.0v1.0h-1.0zM475.5,358.5h1.0v1.0h-1.0zM455.2,356.5h1.0v1.0h-1.0zM469.7,364.2h1.0v1.0h-1.0zM465.4,358.8h1.0v1.0h-1.0zM471.7,368.0h1.0v1.0h-1.0zM462.8,361.6h1.0v1.0h-1.0zM471.2,363.9h1.0v1.0h-1.0zM472.3,360.5h1.0v1.0h-1.0zM465.4,360.7h1.0v1.0h-1.0zM459.1,360.9h1.0v1.0h-1.0zM461.0,363.9h1.0v1.0h-1.0zM460.9,362.3h1.0v1.0h-1.0zM457.4,357.4h1.0v1.0h-1.0zM472.9,358.3h1.0v1.0h-1.0zM475.6,365.5h1.0v1.0h-1.0zM447.2,359.6h1.0v1.0h-1.0zM460.1,362.1h1.0v1.0h-1.0zM461.8,359.8h1.0v1.0h-1.0zM471.7,361.5h1.0v1.0h-1.0zM469.7,359.4h1.0v1.0h-1.0zM458.2,367.0h1.0v1.0h-1.0zM461.1,357.9h1.0v1.0h-1.0zM461.8,365.9h1.0v1.0h-1.0zM461.9,359.3h1.0v1.0h-1.0zM467.4,365.7h1.0v1.0h-1.0zM461.6,360.8h1.0v1.0h-1.0zM460.5,372.0h1.0v1.0h-1.0zM461.7,368.5h1.0v1.0h-1.0zM462.0,363.5h1.0v1.0h-1.0zM448.9,362.7h1.0v1.0h-1.0zM463.4,360.8h1.0v1.0h-1.0zM460.2,356.9h1.0v1.0h-1.0zM452.7,362.6h1.0v1.0h-1.0zM458.6,361.7h1.0v1.0h-1.0zM461.8,360.1h1.0v1.0h-1.0zM458.0,368.9h1.0v1.0h-1.0zM455.4,360.1h1.0v1.0h-1.0zM461.0,357.7h1.0v1.0h-1.0zM456.4,365.2h1.0v1.0h-1.0zM469.5,362.5h1.0v1.0h-1.0zM485.4,365.1h1.0v1.0h-1.0zM471.5,359.0h1.0v1.0h-1.0zM470.5,368.3h1.0v1.0h-1.0zM460.4,368.7h1.0v1.0h-1.0zM457.4,357.8h1.0v1.0h-1.0zM462.7,359.0h1.0v1.0h-1.0zM467.4,357.9h1.0v1.0h-1.0zM463.6,354.7h1.0v1.0h-1.0zM462.8,365.9h1.0v1.0h-1.0zM461.2,363.2h1.0v1.0h-1.0zM470.6,357.9h1.0v1.0h-1.0zM454.2,362.3h1.0v1.0h-1.0zM464.9,361.0h1.0v1.0h-1.0zM456.3,366.5h1.0v1.0h-1.0zM455.0,361.0h1.0v1.0h-1.0zM462.7,364.7h1.0v1.0h-1.0zM459.9,359.0h1.0v1.0h-1.0zM476.9,358.9h1.0v1.0h-1.0zM468.5,361.4h1.0v1.0h-1.0zM459.7,361.8h1.0v1.0h-1.0zM461.3,363.2h1.0v1.0h-1.0zM445.4,361.9h1.0v1.0h-1.0zM463.5,358.4h1.0v1.0h-1.0zM460.3,370.7h1.0v1.0h-1.0zM475.8,364.4h1.0v1.0h-1.0zM464.6,360.9h1.0v1.0h-1.0zM472.6,360.3h1.0v1.0h-1.0zM457.4,364.6h1.0v1.0h-1.0zM456.3,359.1h1.0v1.0h-1.0zM473.0,356.0h1.0v1.0h-1.0zM462.6,362.4h1.0v1.0h-1.0zM464.8,356.6h1.0v1.0h-1.0zM461.5,360.8h1.0v1.0h-1.0zM476.3,365.7h1.0v1.0h-1.0zM457.8,365.2h1.0v1.0h-1.0zM467.5,361.6h1.0v1.0h-1.0zM461.4,361.0h1.0v1.0h-1.0zM452.4,359.7h1.0v1.0h-1.0zM469.5,367.4h1.0v1.0h-1.0zM475.8,360.6h1.0v1.0h-1.0zM467.3,353.1h1.0v1.0h-1.0zM461.2,357.3h1.0v1.0h-1.0zM468.7,355.9h1.0v1.0h-1.0zM455.8,357.9h1.0v1.0h-1.0zM465.8,365.1h1.0v1.0h-1.0zM456.7,368.7h1.0v1.0h-1.0zM464.1,358.9h1.0v1.0h-1.0zM465.4,361.9h1.0v1.0h-1.0zM468.8,363.3h1.0v1.0h-1.0zM478.2,366.3h1.0v1.0h-1.0zM458.6,364.9h1.0v1.0h-1.0zM468.3,358.3h1.0v1.0h-1.0zM457.9,359.0h1.0v1.0h-1.0zM446.0,364.4h1.0v1.0h-1.0zM461.5,366.6h1.0v1.0h-1.0zM459.2,362.3h1.0v1.0h-1.0zM468.0,365.6h1.0v1.0h-1.0zM465.2,358.1h1.0v1.0h-1.0zM478.3,365.2h1.0v1.0h-1.0zM472.4,368.0h1.0v1.0h-1.0zM472.7,363.5h1.0v1.0h-1.0zM466.3,364.3h1.0v1.0h-1.0zM452.7,365.0h1.0v1.0h-1.0zM456.3,363.6h1.0v1.0h-1.0zM456.1,364.7h1.0v1.0h-1.0zM459.7,371.2h1.0v1.0h-1.0zM464.4,363.9h1.0v1.0h-1.0zM456.8,360.9h1.0v1.0h-1.0zM462.6,360.9h1.0v1.0h-1.0zM460.0,358.8h1.0v1.0h-1.0zM468.3,360.6h1.0v1.0h-1.0zM457.4,363.4h1.0v1.0h-1.0zM457.4,361.4h1.0v1.0h-1.0zM459.5,358.6h1.0v1.0h-1.0zM461.5,359.0h1.0v1.0h-1.0zM454.4,363.3h1.0v1.0h-1.0zM461.0,356.6h1.0v1.0h-1.0zM460.3,362.7h1.0v1.0h-1.0zM466.0,363.4h1.0v1.0h-1.0zM464.8,364.2h1.0v1.0h-1.0zM459.6,359.0h1.0v1.0h-1.0zM467.3,360.5h1.0v1.0h-1.0zM463.1,364.4h1.0v1.0h-1.0zM469.5,366.5h1.0v1.0h-1.0zM458.3,360.6h1.0v1.0h-1.0zM466.9,356.7h1.0v1.0h-1.0zM454.4,364.3h1.0v1.0h-1.0zM458.8,358.6h1.0v1.0h-1.0zM468.6,364.0h1.0v1.0h-1.0zM469.4,360.8h1.0v1.0h-1.0zM461.1,360.7h1.0v1.0h-1.0zM465.1,354.5h1.0v1.0h-1.0zM458.3,364.6h1.0v1.0h-1.0zM457.7,361.8h1.0v1.0h-1.0zM463.9,363.9h1.0v1.0h-1.0zM459.8,357.8h1.0v1.0h-1.0zM480.3,359.4h1.0v1.0h-1.0zM474.8,355.5h1.0v1.0h-1.0zM463.8,361.3h1.0v1.0h-1.0zM476.1,369.5h1.0v1.0h-1.0zM469.8,358.3h1.0v1.0h-1.0zM457.5,359.2h1.0v1.0h-1.0zM459.5,363.0h1.0v1.0h-1.0zM457.6,361.1h1.0v1.0h-1.0zM473.2,367.3h1.0v1.0h-1.0zM450.2,358.5h1.0v1.0h-1.0zM460.5,366.8h1.0v1.0h-1.0zM460.8,369.1h1.0v1.0h-1.0zM465.6,367.3h1.0v1.0h-1.0zM457.2,360.9h1.0v1.0h-1.0zM470.1,364.1h1.0v1.0h-1.0zM450.2,361.0h1.0v1.0h-1.0zM464.3,364.3h1.0v1.0h-1.0zM458.7,368.4h1.0v1.0h-1.0zM464.1,367.4h1.0v1.0h-1.0zM465.8,362.3h1.0v1.0h-1.0zM460.9,357.7h1.0v1.0h-1.0zM469.0,364.8h1.0v1.0h-1.0zM469.5,360.6h1.0v1.0h-1.0zM456.2,360.6h1.0v1.0h-1.0zM460.9,362.0h1.0v1.0h-1.0zM469.8,358.6h1.0v1.0h-1.0zM459.7,364.5h1.0v1.0h-1.0zM469.3,370.2h1.0v1.0h-1.0zM466.7,358.9h1.0v1.0h-1.0zM455.9,359.1h1.0v1.0h-1.0zM463.6,362.9h1.0v1.0h-1.0zM462.6,359.7h1.0v1.0h-1.0zM461.8,361.7h1.0v1.0h-1.0zM467.2,362.3h1.0v1.0h-1.0zM457.5,357.7h1.0v1.0h-1.0zM473.3,361.7h1.0v1.0h-1.0zM461.9,361.9h1.0v1.0h-1.0zM470.8,360.9h1.0v1.0h-1.0zM464.3,361.1h1.0v1.0h-1.0zM467.1,358.3h1.0v1.0h-1.0zM464.5,365.8h1.0v1.0h-1.0zM471.2,364.3h1.0v1.0h-1.0zM465.1,367.8h1.0v1.0h-1.0zM467.9,367.2h1.0v1.0h-1.0zM454.8,358.0h1.0v1.0h-1.0zM468.6,361.0h1.0v1.0h-1.0zM460.1,358.5h1.0v1.0h-1.0zM473.3,357.6h1.0v1.0h-1.0zM463.8,356.9h1.0v1.0h-1.0zM461.9,370.3h1.0v1.0h-1.0zM479.8,360.2h1.0v1.0h-1.0zM456.2,368.0h1.0v1.0h-1.0zM457.2,355.4h1.0v1.0h-1.0zM465.5,358.0h1.0v1.0h-1.0zM453.1,366.1h1.0v1.0h-1.0zM458.1,358.1h1.0v1.0h-1.0zM464.2,361.3h1.0v1.0h-1.0zM470.8,362.4h1.0v1.0h-1.0zM474.0,366.2h1.0v1.0h-1.0zM475.3,366.1h1.0v1.0h-1.0zM463.6,364.0h1.0v1.0h-1.0zM463.2,356.3h1.0v1.0h-1.0zM455.0,364.7h1.0v1.0h-1.0zM446.9,359.0h1.0v1.0h-1.0zM454.3,361.8h1.0v1.0h-1.0zM456.0,362.9h1.0v1.0h-1.0zM461.7,360.3h1.0v1.0h-1.0zM457.3,353.8h1.0v1.0h-1.0zM463.6,357.3h1.0v1.0h-1.0zM461.1,363.4h1.0v1.0h-1.0zM470.3,364.6h1.0v1.0h-1.0zM473.2,356.8h1.0v1.0h-1.0zM467.7,367.8h1.0v1.0h-1.0zM465.8,357.9h1.0v1.0h-1.0zM465.8,360.1h1.0v1.0h-1.0zM458.7,365.9h1.0v1.0h-1.0zM461.9,357.9h1.0v1.0h-1.0zM458.5,369.2h1.0v1.0h-1.0zM457.3,364.5h1.0v1.0h-1.0zM464.3,366.3h1.0v1.0h-1.0zM461.2,358.5h1.0v1.0h-1.0zM458.7,358.2h1.0v1.0h-1.0zM480.9,362.7h1.0v1.0h-1.0zM460.9,366.6h1.0v1.0h-1.0zM467.6,361.3h1.0v1.0h-1.0zM467.4,363.0h1.0v1.0h-1.0zM470.8,368.1h1.0v1.0h-1.0zM461.0,361.9h1.0v1.0h-1.0zM461.9,366.5h1.0v1.0h-1.0zM465.7,364.9h1.0v1.0h-1.0zM469.3,359.7h1.0v1.0h-1.0zM464.0,367.1h1.0v1.0h-1.0zM469.4,365.0h1.0v1.0h-1.0zM461.2,360.7h1.0v1.0h-1.0zM457.3,361.0h1.0v1.0h-1.0zM462.7,356.7h1.0v1.0h-1.0zM471.1,359.2h1.0v1.0h-1.0zM464.8,364.2h1.0v1.0h-1.0zM459.3,355.4h1.0v1.0h-1.0zM469.7,363.5h1.0v1.0h-1.0zM461.4,366.2h1.0v1.0h-1.0zM469.2,358.5h1.0v1.0h-1.0zM462.6,355.5h1.0v1.0h-1.0zM461.3,367.2h1.0v1.0h-1.0zM457.4,365.0h1.0v1.0h-1.0zM452.8,360.9h1.0v1.0h-1.0zM469.6,368.3h1.0v1.0h-1.0zM466.2,364.8h1.0v1.0h-1.0zM474.9,353.0h1.0v1.0h-1.0zM451.4,369.0h1.0v1.0h-1.0zM480.0,364.2h1.0v1.0h-1.0zM463.6,363.0h1.0v1.0h-1.0zM463.3,359.8h1.0v1.0h-1.0zM463.0,361.5h1.0v1.0h-1.0z" fill="#222" opacity="1.0"/>
<path d="M477.4,368.0h1.0v1.0h-1.0zM479.8,367.4h1.0v1.0h-1.0zM464.6,372.1h1.0v1.0h-1.0zM451.3,364.7h1.0v1.0h-1.0zM474.7,360.9h1.0v1.0h-1.0zM486.7,357.7h1.0v1.0h-1.0zM463.0,361.1h1.0v1.0h-1.0zM475.4,368.6h1.0v1.0h-1.0zM473.0,367.9h1.0v1.0h-1.0zM466.7,360.5h1.0v1.0h-1.0zM473.2,356.2h1.0v1.0h-1.0zM473.6,361.7h1.0v1.0h-1.0zM477.5,358.1h1.0v1.0h-1.0zM468.0,360.7h1.0v1.0h-1.0zM469.3,358.2h1.0v1.0h-1.0zM470.1,356.2h1.0v1.0h-1.0zM476.3,367.9h1.0v1.0h-1.0zM472.0,362.9h1.0v1.0h-1.0zM465.2,358.4h1.0v1.0h-1.0zM470.4,358.8h1.0v1.0h-1.0zM463.0,365.0h1.0v1.0h-1.0zM472.0,361.7h1.0v1.0h-1.0zM465.8,363.7h1.0v1.0h-1.0zM466.7,361.5h1.0v1.0h-1.0zM473.6,368.2h1.0v1.0h-1.0zM478.0,360.5h1.0v1.0h-1.0zM481.5,357.3h1.0v1.0h-1.0zM470.8,371.6h1.0v1.0h-1.0zM490.6,364.8h1.0v1.0h-1.0zM469.3,361.9h1.0v1.0h-1.0zM462.7,363.2h1.0v1.0h-1.0zM468.8,359.6h1.0v1.0h-1.0zM481.4,359.5h1.0v1.0h-1.0zM485.3,368.9h1.0v1.0h-1.0zM477.1,360.6h1.0v1.0h-1.0zM468.2,352.4h1.0v1.0h-1.0zM474.3,362.5h1.0v1.0h-1.0zM475.1,360.1h1.0v1.0h-1.0zM475.9,355.3h1.0v1.0h-1.0zM455.2,366.8h1.0v1.0h-1.0zM480.5,345.8h1.0v1.0h-1.0zM482.1,362.0h1.0v1.0h-1.0zM470.9,355.1h1.0v1.0h-1.0zM464.4,368.1h1.0v1.0h-1.0zM466.4,363.8h1.0v1.0h-1.0zM470.9,375.5h1.0v1.0h-1.0zM479.0,356.4h1.0v1.0h-1.0zM468.4,357.4h1.0v1.0h-1.0zM461.4,360.1h1.0v1.0h-1.0zM480.7,364.3h1.0v1.0h-1.0z" fill="#333" opacity="1.0"/>
<path d="M29.3,323.2 V413.7 H117.5" fill="none" stroke="#2a2a2a" stroke-width="1.0"/>
<line x1="27.7" y1="331.0" x2="29.3" y2="331.0" stroke="#111" stroke-width="0.7"/>
<text class="b" transform="translate(27.1,331.0) rotate(-90)" font-size="4.2" font-weight="bold" text-anchor="middle" fill="#222">10<tspan font-size="3.4" dy="-1.3">5</tspan></text>
<line x1="27.7" y1="351.0" x2="29.3" y2="351.0" stroke="#111" stroke-width="0.7"/>
<text class="b" transform="translate(27.1,351.0) rotate(-90)" font-size="4.2" font-weight="bold" text-anchor="middle" fill="#222">10<tspan font-size="3.4" dy="-1.3">4</tspan></text>
<line x1="27.7" y1="374.0" x2="29.3" y2="374.0" stroke="#111" stroke-width="0.7"/>
<text class="b" transform="translate(27.1,374.0) rotate(-90)" font-size="4.2" font-weight="bold" text-anchor="middle" fill="#222">10<tspan font-size="3.4" dy="-1.3">3</tspan></text>
<line x1="27.7" y1="388.5" x2="29.3" y2="388.5" stroke="#111" stroke-width="0.7"/>
<text class="b" transform="translate(27.1,388.5) rotate(-90)" font-size="4.2" font-weight="bold" text-anchor="middle" fill="#222">0</text>
<line x1="27.7" y1="403.5" x2="29.3" y2="403.5" stroke="#111" stroke-width="0.7"/>
<text class="b" transform="translate(27.1,403.5) rotate(-90)" font-size="4.2" font-weight="bold" text-anchor="middle" fill="#222">-10<tspan font-size="3.4" dy="-1.3">2</tspan></text>
<line x1="31.3" y1="413.7" x2="31.3" y2="415.3" stroke="#111" stroke-width="0.7"/>
<text class="b" x="31.3" y="419.3" font-size="4.2" font-weight="bold" text-anchor="middle" fill="#222">-10<tspan font-size="3.4" dy="-1.3">2</tspan></text>
<line x1="41.6" y1="413.7" x2="41.6" y2="415.3" stroke="#111" stroke-width="0.7"/>
<text class="b" x="41.6" y="419.3" font-size="4.2" font-weight="bold" text-anchor="middle" fill="#222">0</text>
<line x1="52.0" y1="413.7" x2="52.0" y2="415.3" stroke="#111" stroke-width="0.7"/>
<text class="b" x="52.0" y="419.3" font-size="4.2" font-weight="bold" text-anchor="middle" fill="#222">10<tspan font-size="3.4" dy="-1.3">2</tspan></text>
<line x1="74.0" y1="413.7" x2="74.0" y2="415.3" stroke="#111" stroke-width="0.7"/>
<text class="b" x="74.0" y="419.3" font-size="4.2" font-weight="bold" text-anchor="middle" fill="#222">10<tspan font-size="3.4" dy="-1.3">3</tspan></text>
<line x1="92.5" y1="413.7" x2="92.5" y2="415.3" stroke="#111" stroke-width="0.7"/>
<text class="b" x="92.5" y="419.3" font-size="4.2" font-weight="bold" text-anchor="middle" fill="#222">10<tspan font-size="3.4" dy="-1.3">4</tspan></text>
<line x1="113.0" y1="413.7" x2="113.0" y2="415.3" stroke="#111" stroke-width="0.7"/>
<text class="b" x="113.0" y="419.3" font-size="4.2" font-weight="bold" text-anchor="middle" fill="#222">10<tspan font-size="3.4" dy="-1.3">5</tspan></text>
<text x="30.3" y="426.6" font-size="7.7" font-weight="bold" fill="#1e1e1e" class="h">CD49e</text>
<text transform="translate(22.1,413.5) rotate(-90)" font-size="7.6" font-weight="bold" fill="#1e1e1e" class="h">CD138</text>
<path d="M159.7,323.2 V413.7 H246.0" fill="none" stroke="#2a2a2a" stroke-width="1.0"/>
<line x1="158.1" y1="331.0" x2="159.7" y2="331.0" stroke="#111" stroke-width="0.7"/>
<text class="b" transform="translate(157.5,331.0) rotate(-90)" font-size="4.2" font-weight="bold" text-anchor="middle" fill="#222">10<tspan font-size="3.4" dy="-1.3">5</tspan></text>
<line x1="158.1" y1="347.0" x2="159.7" y2="347.0" stroke="#111" stroke-width="0.7"/>
<text class="b" transform="translate(157.5,347.0) rotate(-90)" font-size="4.2" font-weight="bold" text-anchor="middle" fill="#222">10<tspan font-size="3.4" dy="-1.3">4</tspan></text>
<line x1="158.1" y1="371.5" x2="159.7" y2="371.5" stroke="#111" stroke-width="0.7"/>
<text class="b" transform="translate(157.5,371.5) rotate(-90)" font-size="4.2" font-weight="bold" text-anchor="middle" fill="#222">10<tspan font-size="3.4" dy="-1.3">3</tspan></text>
<line x1="158.1" y1="391.0" x2="159.7" y2="391.0" stroke="#111" stroke-width="0.7"/>
<text class="b" transform="translate(157.5,391.0) rotate(-90)" font-size="4.2" font-weight="bold" text-anchor="middle" fill="#222">0</text>
<line x1="158.1" y1="409.0" x2="159.7" y2="409.0" stroke="#111" stroke-width="0.7"/>
<text class="b" transform="translate(157.5,409.0) rotate(-90)" font-size="4.2" font-weight="bold" text-anchor="middle" fill="#222">-10<tspan font-size="3.4" dy="-1.3">2</tspan></text>
<line x1="167.9" y1="413.7" x2="167.9" y2="415.3" stroke="#111" stroke-width="0.7"/>
<text class="b" x="167.9" y="419.3" font-size="4.2" font-weight="bold" text-anchor="middle" fill="#222">-10<tspan font-size="3.4" dy="-1.3">2</tspan></text>
<line x1="172.8" y1="413.7" x2="172.8" y2="415.3" stroke="#111" stroke-width="0.7"/>
<text class="b" x="172.8" y="419.3" font-size="4.2" font-weight="bold" text-anchor="middle" fill="#222"></text>
<line x1="181.9" y1="413.7" x2="181.9" y2="415.3" stroke="#111" stroke-width="0.7"/>
<text class="b" x="181.9" y="419.3" font-size="4.2" font-weight="bold" text-anchor="middle" fill="#222">10<tspan font-size="3.4" dy="-1.3">2</tspan></text>
<line x1="202.0" y1="413.7" x2="202.0" y2="415.3" stroke="#111" stroke-width="0.7"/>
<text class="b" x="202.0" y="419.3" font-size="4.2" font-weight="bold" text-anchor="middle" fill="#222">10<tspan font-size="3.4" dy="-1.3">3</tspan></text>
<line x1="220.4" y1="413.7" x2="220.4" y2="415.3" stroke="#111" stroke-width="0.7"/>
<text class="b" x="220.4" y="419.3" font-size="4.2" font-weight="bold" text-anchor="middle" fill="#222">10<tspan font-size="3.4" dy="-1.3">4</tspan></text>
<line x1="237.9" y1="413.7" x2="237.9" y2="415.3" stroke="#111" stroke-width="0.7"/>
<text class="b" x="237.9" y="419.3" font-size="4.2" font-weight="bold" text-anchor="middle" fill="#222">10<tspan font-size="3.4" dy="-1.3">5</tspan></text>
<text x="160.0" y="426.6" font-size="7.7" font-weight="bold" fill="#1e1e1e" class="h">CD44</text>
<text transform="translate(152.5,413.5) rotate(-90)" font-size="7.6" font-weight="bold" fill="#1e1e1e" class="h">CD138</text>
<path d="M284.8,323.2 V413.7 H375.5" fill="none" stroke="#2a2a2a" stroke-width="1.0"/>
<line x1="283.2" y1="331.0" x2="284.8" y2="331.0" stroke="#111" stroke-width="0.7"/>
<text class="b" transform="translate(282.6,331.0) rotate(-90)" font-size="4.2" font-weight="bold" text-anchor="middle" fill="#222">10<tspan font-size="3.4" dy="-1.3">5</tspan></text>
<line x1="283.2" y1="351.5" x2="284.8" y2="351.5" stroke="#111" stroke-width="0.7"/>
<text class="b" transform="translate(282.6,351.5) rotate(-90)" font-size="4.2" font-weight="bold" text-anchor="middle" fill="#222">10<tspan font-size="3.4" dy="-1.3">4</tspan></text>
<line x1="283.2" y1="372.8" x2="284.8" y2="372.8" stroke="#111" stroke-width="0.7"/>
<text class="b" transform="translate(282.6,372.8) rotate(-90)" font-size="4.2" font-weight="bold" text-anchor="middle" fill="#222">10<tspan font-size="3.4" dy="-1.3">3</tspan></text>
<line x1="283.2" y1="391.0" x2="284.8" y2="391.0" stroke="#111" stroke-width="0.7"/>
<text class="b" transform="translate(282.6,391.0) rotate(-90)" font-size="4.2" font-weight="bold" text-anchor="middle" fill="#222">0</text>
<line x1="283.2" y1="410.0" x2="284.8" y2="410.0" stroke="#111" stroke-width="0.7"/>
<text class="b" transform="translate(282.6,410.0) rotate(-90)" font-size="4.2" font-weight="bold" text-anchor="middle" fill="#222">-10<tspan font-size="3.4" dy="-1.3">2</tspan></text>
<line x1="289.8" y1="413.7" x2="289.8" y2="415.3" stroke="#111" stroke-width="0.7"/>
<text class="b" x="289.8" y="419.3" font-size="4.2" font-weight="bold" text-anchor="middle" fill="#222">0</text>
<line x1="311.0" y1="413.7" x2="311.0" y2="415.3" stroke="#111" stroke-width="0.7"/>
<text class="b" x="311.0" y="419.3" font-size="4.2" font-weight="bold" text-anchor="middle" fill="#222">10<tspan font-size="3.4" dy="-1.3">2</tspan></text>
<line x1="329.5" y1="413.7" x2="329.5" y2="415.3" stroke="#111" stroke-width="0.7"/>
<text class="b" x="329.5" y="419.3" font-size="4.2" font-weight="bold" text-anchor="middle" fill="#222">10<tspan font-size="3.4" dy="-1.3">3</tspan></text>
<line x1="349.0" y1="413.7" x2="349.0" y2="415.3" stroke="#111" stroke-width="0.7"/>
<text class="b" x="349.0" y="419.3" font-size="4.2" font-weight="bold" text-anchor="middle" fill="#222">10<tspan font-size="3.4" dy="-1.3">4</tspan></text>
<line x1="366.5" y1="413.7" x2="366.5" y2="415.3" stroke="#111" stroke-width="0.7"/>
<text class="b" x="366.5" y="419.3" font-size="4.2" font-weight="bold" text-anchor="middle" fill="#222">10<tspan font-size="3.4" dy="-1.3">5</tspan></text>
<text x="285.5" y="426.6" font-size="7.7" font-weight="bold" fill="#1e1e1e" class="h">CD54</text>
<text transform="translate(277.6,413.5) rotate(-90)" font-size="7.6" font-weight="bold" fill="#1e1e1e" class="h">CD138</text>
<path d="M416.5,323.2 V413.7 H506.5" fill="none" stroke="#2a2a2a" stroke-width="1.0"/>
<line x1="414.9" y1="330.5" x2="416.5" y2="330.5" stroke="#111" stroke-width="0.7"/>
<text class="b" transform="translate(414.3,330.5) rotate(-90)" font-size="4.2" font-weight="bold" text-anchor="middle" fill="#222">10<tspan font-size="3.4" dy="-1.3">5</tspan></text>
<line x1="414.9" y1="348.8" x2="416.5" y2="348.8" stroke="#111" stroke-width="0.7"/>
<text class="b" transform="translate(414.3,348.8) rotate(-90)" font-size="4.2" font-weight="bold" text-anchor="middle" fill="#222">10<tspan font-size="3.4" dy="-1.3">4</tspan></text>
<line x1="414.9" y1="367.6" x2="416.5" y2="367.6" stroke="#111" stroke-width="0.7"/>
<text class="b" transform="translate(414.3,367.6) rotate(-90)" font-size="4.2" font-weight="bold" text-anchor="middle" fill="#222">10<tspan font-size="3.4" dy="-1.3">3</tspan></text>
<line x1="414.9" y1="388.2" x2="416.5" y2="388.2" stroke="#111" stroke-width="0.7"/>
<text class="b" transform="translate(414.3,388.2) rotate(-90)" font-size="4.2" font-weight="bold" text-anchor="middle" fill="#222">10<tspan font-size="3.4" dy="-1.3">2</tspan></text>
<line x1="414.9" y1="404.5" x2="416.5" y2="404.5" stroke="#111" stroke-width="0.7"/>
<text class="b" transform="translate(414.3,404.5) rotate(-90)" font-size="4.2" font-weight="bold" text-anchor="middle" fill="#222">0</text>
<line x1="421.0" y1="413.7" x2="421.0" y2="415.3" stroke="#111" stroke-width="0.7"/>
<text class="b" x="421.0" y="419.3" font-size="4.2" font-weight="bold" text-anchor="middle" fill="#222">-10<tspan font-size="3.4" dy="-1.3">2</tspan></text>
<line x1="430.0" y1="413.7" x2="430.0" y2="415.3" stroke="#111" stroke-width="0.7"/>
<text class="b" x="430.0" y="419.3" font-size="4.2" font-weight="bold" text-anchor="middle" fill="#222">0</text>
<line x1="438.0" y1="413.7" x2="438.0" y2="415.3" stroke="#111" stroke-width="0.7"/>
<text class="b" x="438.0" y="419.3" font-size="4.2" font-weight="bold" text-anchor="middle" fill="#222">10<tspan font-size="3.4" dy="-1.3">2</tspan></text>
<line x1="460.0" y1="413.7" x2="460.0" y2="415.3" stroke="#111" stroke-width="0.7"/>
<text class="b" x="460.0" y="419.3" font-size="4.2" font-weight="bold" text-anchor="middle" fill="#222">10<tspan font-size="3.4" dy="-1.3">3</tspan></text>
<line x1="478.5" y1="413.7" x2="478.5" y2="415.3" stroke="#111" stroke-width="0.7"/>
<text class="b" x="478.5" y="419.3" font-size="4.2" font-weight="bold" text-anchor="middle" fill="#222">10<tspan font-size="3.4" dy="-1.3">4</tspan></text>
<line x1="498.0" y1="413.7" x2="498.0" y2="415.3" stroke="#111" stroke-width="0.7"/>
<text class="b" x="498.0" y="419.3" font-size="4.2" font-weight="bold" text-anchor="middle" fill="#222">10<tspan font-size="3.4" dy="-1.3">5</tspan></text>
<text x="416.5" y="426.6" font-size="7.7" font-weight="bold" fill="#1e1e1e" class="h">CD29</text>
<text transform="translate(409.3,413.5) rotate(-90)" font-size="7.6" font-weight="bold" fill="#1e1e1e" class="h">CD138</text>
<rect x="12.6" y="447.9" width="113.4" height="113.2" fill="none" stroke="#111" stroke-width="1.5"/>
<line x1="3.2" y1="531.5" x2="3.2" y2="454" stroke="#111" stroke-width="1.1"/>
<polygon points="3.2,450.8 5.8,455.6 0.6,455.6" fill="#111"/>
<text transform="translate(5.8,557) rotate(-90)" font-size="7.4" font-weight="bold" fill="#1e1e1e" class="h">PCA 2</text>
<text x="16.7" y="570.9" font-size="7.4" font-weight="bold" fill="#1e1e1e" class="h">PCA 1</text>
<line x1="43.3" y1="568.2" x2="123.6" y2="568.2" stroke="#111" stroke-width="1.1"/>
<polygon points="127.2,568.2 122.2,565.6 122.2,570.8" fill="#111"/>
<rect x="142.8" y="447.9" width="113.4" height="113.2" fill="none" stroke="#111" stroke-width="1.5"/>
<line x1="133.4" y1="531.5" x2="133.4" y2="454" stroke="#111" stroke-width="1.1"/>
<polygon points="133.4,450.8 136.0,455.6 130.8,455.6" fill="#111"/>
<text transform="translate(136.0,557) rotate(-90)" font-size="7.4" font-weight="bold" fill="#1e1e1e" class="h">PCA 2</text>
<text x="146.9" y="570.9" font-size="7.4" font-weight="bold" fill="#1e1e1e" class="h">PCA 1</text>
<line x1="173.5" y1="568.2" x2="253.8" y2="568.2" stroke="#111" stroke-width="1.1"/>
<polygon points="257.4,568.2 252.4,565.6 252.4,570.8" fill="#111"/>
<rect x="273.0" y="447.9" width="113.4" height="113.2" fill="none" stroke="#111" stroke-width="1.5"/>
<line x1="263.6" y1="531.5" x2="263.6" y2="454" stroke="#111" stroke-width="1.1"/>
<polygon points="263.6,450.8 266.2,455.6 261.0,455.6" fill="#111"/>
<text transform="translate(266.2,557) rotate(-90)" font-size="7.4" font-weight="bold" fill="#1e1e1e" class="h">PCA 2</text>
<text x="277.1" y="570.9" font-size="7.4" font-weight="bold" fill="#1e1e1e" class="h">PCA 1</text>
<line x1="303.7" y1="568.2" x2="384.0" y2="568.2" stroke="#111" stroke-width="1.1"/>
<polygon points="387.6,568.2 382.6,565.6 382.6,570.8" fill="#111"/>
<rect x="403.4" y="447.9" width="113.4" height="113.2" fill="none" stroke="#111" stroke-width="1.5"/>
<line x1="394.0" y1="531.5" x2="394.0" y2="454" stroke="#111" stroke-width="1.1"/>
<polygon points="394.0,450.8 396.6,455.6 391.4,455.6" fill="#111"/>
<text transform="translate(396.6,557) rotate(-90)" font-size="7.4" font-weight="bold" fill="#1e1e1e" class="h">PCA 2</text>
<text x="407.5" y="570.9" font-size="7.4" font-weight="bold" fill="#1e1e1e" class="h">PCA 1</text>
<line x1="434.1" y1="568.2" x2="514.4" y2="568.2" stroke="#111" stroke-width="1.1"/>
<polygon points="518.0,568.2 513.0,565.6 513.0,570.8" fill="#111"/>
<path d="M54.0,470.9 C56.4,469.8 59.9,469.6 62.9,470.2 C65.8,470.8 69.1,473.5 71.7,474.6 C74.3,475.7 76.3,476.0 78.3,476.9 C80.3,477.8 81.8,478.5 83.6,480.0 C85.4,481.5 87.4,483.8 89.3,485.7 C91.2,487.6 93.2,489.5 95.0,491.5 C96.8,493.5 98.6,495.4 100.0,497.5 C101.4,499.6 103.0,502.0 103.6,504.0 C104.2,506.0 104.3,507.4 103.8,509.5 C103.3,511.6 102.2,513.9 100.7,516.4 C99.2,518.9 97.3,522.0 95.0,524.3 C92.7,526.6 90.0,528.3 87.0,530.0 C84.0,531.7 79.6,533.4 76.8,534.5 C74.0,535.6 72.3,536.3 70.0,536.8 C67.7,537.3 65.3,537.6 63.0,537.6 C60.7,537.6 58.4,537.3 56.2,536.6 C54.0,535.9 51.6,534.5 49.6,533.2 C47.6,531.9 45.6,530.6 44.1,528.8 C42.6,527.0 41.5,524.8 40.7,522.2 C40.0,519.6 39.6,516.2 39.6,513.3 C39.6,510.3 40.1,507.4 40.7,504.5 C41.3,501.6 42.2,498.6 43.0,495.7 C43.8,492.8 44.3,489.9 45.2,486.8 C46.1,483.7 47.0,479.5 48.5,476.9 C50.0,474.2 51.6,472.0 54.0,470.9Z" fill="none" stroke="#8c8c8c" stroke-width="2.0" stroke-linejoin="round"/>
<path d="M62.9,485.0 C65.0,483.9 67.9,483.6 70.0,483.8 C72.1,484.1 73.8,485.1 75.7,486.5 C77.6,487.9 79.3,490.3 81.4,492.0 C83.5,493.7 86.2,495.3 88.2,496.8 C90.2,498.3 92.3,499.5 93.5,501.0 C94.7,502.5 95.4,504.5 95.5,506.0 C95.6,507.5 94.8,508.5 94.0,510.0 C93.2,511.5 92.0,513.6 90.5,515.2 C89.0,516.8 87.0,518.4 84.8,519.8 C82.6,521.2 79.9,522.6 77.5,523.5 C75.1,524.4 72.7,525.1 70.3,525.2 C67.9,525.3 65.1,525.1 62.9,524.2 C60.7,523.3 58.8,521.8 57.3,520.0 C55.8,518.2 54.7,515.7 54.0,513.3 C53.3,510.9 52.9,508.2 52.9,505.6 C52.9,503.0 53.3,500.5 54.0,497.9 C54.7,495.3 55.8,492.2 57.3,490.1 C58.8,488.0 60.8,486.1 62.9,485.0Z" fill="none" stroke="#7a7a7a" stroke-width="3.0" stroke-linejoin="round"/>
<path d="M62.9,485.0 C65.0,483.9 67.9,483.6 70.0,483.8 C72.1,484.1 73.8,485.1 75.7,486.5 C77.6,487.9 79.3,490.3 81.4,492.0 C83.5,493.7 86.2,495.3 88.2,496.8 C90.2,498.3 92.3,499.5 93.5,501.0 C94.7,502.5 95.4,504.5 95.5,506.0 C95.6,507.5 94.8,508.5 94.0,510.0 C93.2,511.5 92.0,513.6 90.5,515.2 C89.0,516.8 87.0,518.4 84.8,519.8 C82.6,521.2 79.9,522.6 77.5,523.5 C75.1,524.4 72.7,525.1 70.3,525.2 C67.9,525.3 65.1,525.1 62.9,524.2 C60.7,523.3 58.8,521.8 57.3,520.0 C55.8,518.2 54.7,515.7 54.0,513.3 C53.3,510.9 52.9,508.2 52.9,505.6 C52.9,503.0 53.3,500.5 54.0,497.9 C54.7,495.3 55.8,492.2 57.3,490.1 C58.8,488.0 60.8,486.1 62.9,485.0Z" fill="none" stroke="#e6e6e6" stroke-width="1.0" stroke-dasharray="1.6 0.8"/>
<path d="M181.0,486.0 C183.2,484.7 185.3,483.7 188.4,483.6 C191.5,483.5 195.8,484.9 199.5,485.6 C203.2,486.3 206.9,487.0 210.6,487.9 C214.3,488.8 218.3,489.7 221.6,491.2 C224.9,492.7 228.3,494.6 230.5,496.8 C232.7,499.0 234.0,501.8 234.9,504.5 C235.8,507.2 236.2,510.3 236.0,513.3 C235.8,516.2 235.1,519.6 233.8,522.2 C232.5,524.8 230.6,527.0 228.2,528.8 C225.8,530.6 222.7,532.1 219.4,533.2 C216.1,534.3 212.0,534.9 208.3,535.5 C204.6,536.1 201.0,536.6 197.3,536.6 C193.6,536.6 189.9,536.1 186.2,535.5 C182.5,534.9 178.5,534.1 175.2,533.2 C171.9,532.3 168.2,531.7 166.3,529.9 C164.5,528.1 164.1,525.3 164.1,522.2 C164.1,519.1 165.2,514.8 166.3,511.1 C167.4,507.4 169.2,503.4 170.7,500.1 C172.2,496.8 173.5,493.6 175.2,491.2 C176.9,488.8 178.8,487.3 181.0,486.0Z" fill="none" stroke="#8a8a8a" stroke-width="2.4" stroke-linejoin="round"/>
<path d="M185.5,497.8 C187.6,496.9 189.8,496.7 192.9,496.8 C196.0,496.9 200.6,497.6 203.9,498.3 C207.2,499.0 210.2,500.0 212.8,501.2 C215.4,502.4 217.9,503.6 219.4,505.6 C220.9,507.6 221.6,510.5 221.6,513.3 C221.6,516.1 220.9,519.8 219.4,522.2 C217.9,524.6 215.4,526.4 212.8,527.7 C210.2,529.0 207.2,529.6 203.9,529.9 C200.6,530.2 196.2,529.8 192.9,529.3 C189.6,528.8 186.6,527.8 184.0,526.6 C181.4,525.4 179.0,524.0 177.4,522.2 C175.8,520.4 174.7,517.9 174.7,515.6 C174.7,513.3 176.2,510.4 177.2,508.2 C178.2,506.0 179.1,504.2 180.5,502.5 C181.9,500.8 183.4,498.8 185.5,497.8Z" fill="none" stroke="#7a7a7a" stroke-width="3.0" stroke-linejoin="round"/>
<path d="M185.5,497.8 C187.6,496.9 189.8,496.7 192.9,496.8 C196.0,496.9 200.6,497.6 203.9,498.3 C207.2,499.0 210.2,500.0 212.8,501.2 C215.4,502.4 217.9,503.6 219.4,505.6 C220.9,507.6 221.6,510.5 221.6,513.3 C221.6,516.1 220.9,519.8 219.4,522.2 C217.9,524.6 215.4,526.4 212.8,527.7 C210.2,529.0 207.2,529.6 203.9,529.9 C200.6,530.2 196.2,529.8 192.9,529.3 C189.6,528.8 186.6,527.8 184.0,526.6 C181.4,525.4 179.0,524.0 177.4,522.2 C175.8,520.4 174.7,517.9 174.7,515.6 C174.7,513.3 176.2,510.4 177.2,508.2 C178.2,506.0 179.1,504.2 180.5,502.5 C181.9,500.8 183.4,498.8 185.5,497.8Z" fill="none" stroke="#e6e6e6" stroke-width="1.0" stroke-dasharray="1.6 0.8"/>
<path d="M316.2,478.0 C318.6,476.7 321.8,475.2 325.1,474.6 C328.4,474.0 333.2,474.2 336.1,474.6 C339.1,475.0 341.0,475.8 342.8,476.9 C344.6,478.0 346.3,479.3 347.2,481.3 C348.1,483.3 347.6,486.2 348.3,489.0 C349.0,491.8 350.0,494.9 351.6,497.9 C353.2,500.8 356.2,503.8 358.2,506.7 C360.2,509.6 362.7,513.0 363.8,515.6 C364.9,518.2 365.4,519.6 364.9,522.2 C364.3,524.8 362.7,528.6 360.5,531.0 C358.3,533.4 355.3,534.9 351.6,536.6 C347.9,538.3 342.7,540.0 338.3,541.0 C333.9,542.0 329.5,542.7 325.1,542.5 C320.7,542.3 315.4,541.4 311.8,539.9 C308.2,538.4 305.6,535.9 303.5,533.5 C301.4,531.1 299.3,528.2 299.0,525.5 C298.7,522.8 300.5,519.8 301.5,517.5 C302.5,515.2 304.1,513.9 305.0,512.0 C305.9,510.1 306.8,508.4 306.8,506.0 C306.8,503.6 305.1,500.7 305.2,497.9 C305.3,495.1 306.5,491.6 307.4,489.0 C308.3,486.4 309.2,484.2 310.7,482.4 C312.2,480.6 313.8,479.3 316.2,478.0Z" fill="none" stroke="#848484" stroke-width="3.0" stroke-linejoin="round"/>
<path d="M316.2,478.0 C318.6,476.7 321.8,475.2 325.1,474.6 C328.4,474.0 333.2,474.2 336.1,474.6 C339.1,475.0 341.0,475.8 342.8,476.9 C344.6,478.0 346.3,479.3 347.2,481.3 C348.1,483.3 347.6,486.2 348.3,489.0 C349.0,491.8 350.0,494.9 351.6,497.9 C353.2,500.8 356.2,503.8 358.2,506.7 C360.2,509.6 362.7,513.0 363.8,515.6 C364.9,518.2 365.4,519.6 364.9,522.2 C364.3,524.8 362.7,528.6 360.5,531.0 C358.3,533.4 355.3,534.9 351.6,536.6 C347.9,538.3 342.7,540.0 338.3,541.0 C333.9,542.0 329.5,542.7 325.1,542.5 C320.7,542.3 315.4,541.4 311.8,539.9 C308.2,538.4 305.6,535.9 303.5,533.5 C301.4,531.1 299.3,528.2 299.0,525.5 C298.7,522.8 300.5,519.8 301.5,517.5 C302.5,515.2 304.1,513.9 305.0,512.0 C305.9,510.1 306.8,508.4 306.8,506.0 C306.8,503.6 305.1,500.7 305.2,497.9 C305.3,495.1 306.5,491.6 307.4,489.0 C308.3,486.4 309.2,484.2 310.7,482.4 C312.2,480.6 313.8,479.3 316.2,478.0Z" fill="none" stroke="#e0e0e0" stroke-width="1.0"/>
<path d="M323.1,504.8 C326.2,503.9 330.6,502.7 333.9,502.6 C337.1,502.5 339.9,503.2 342.6,504.1 C345.3,505.0 348.0,506.3 350.1,508.1 C352.2,509.9 354.2,512.4 355.1,514.8 C356.0,517.2 356.1,520.1 355.5,522.5 C354.9,524.9 353.3,527.4 351.2,529.1 C349.1,530.8 345.9,532.0 342.6,532.9 C339.4,533.8 335.3,534.2 331.7,534.2 C328.1,534.2 324.0,533.9 320.9,532.9 C317.8,531.9 315.1,529.9 313.3,528.0 C311.5,526.1 310.4,523.8 310.0,521.4 C309.6,519.0 310.2,515.8 311.1,513.6 C312.0,511.4 313.4,509.6 315.4,508.1 C317.4,506.6 320.0,505.7 323.1,504.8Z" fill="none" stroke="#7a7a7a" stroke-width="3.0" stroke-linejoin="round"/>
<path d="M323.1,504.8 C326.2,503.9 330.6,502.7 333.9,502.6 C337.1,502.5 339.9,503.2 342.6,504.1 C345.3,505.0 348.0,506.3 350.1,508.1 C352.2,509.9 354.2,512.4 355.1,514.8 C356.0,517.2 356.1,520.1 355.5,522.5 C354.9,524.9 353.3,527.4 351.2,529.1 C349.1,530.8 345.9,532.0 342.6,532.9 C339.4,533.8 335.3,534.2 331.7,534.2 C328.1,534.2 324.0,533.9 320.9,532.9 C317.8,531.9 315.1,529.9 313.3,528.0 C311.5,526.1 310.4,523.8 310.0,521.4 C309.6,519.0 310.2,515.8 311.1,513.6 C312.0,511.4 313.4,509.6 315.4,508.1 C317.4,506.6 320.0,505.7 323.1,504.8Z" fill="none" stroke="#e6e6e6" stroke-width="1.0" stroke-dasharray="1.6 0.8"/>
<path d="M426.3,491.2 C427.6,489.7 430.8,489.9 433.0,489.0 C435.2,488.1 437.4,487.5 439.6,485.7 C441.8,483.9 443.6,480.1 446.2,478.0 C448.8,475.9 452.2,473.7 455.1,473.1 C458.1,472.5 460.9,473.4 463.9,474.6 C466.8,475.8 470.2,478.0 472.8,480.2 C475.4,482.4 477.4,485.3 479.4,487.9 C481.4,490.5 483.2,492.9 484.9,495.7 C486.6,498.5 488.5,501.6 489.4,504.5 C490.3,507.4 490.9,510.3 490.5,513.3 C490.1,516.2 488.6,519.4 487.1,522.2 C485.6,525.0 483.6,527.3 481.6,529.9 C479.6,532.5 477.2,535.7 475.0,537.7 C472.8,539.7 470.7,541.2 468.3,542.1 C465.9,543.0 463.2,543.8 460.6,543.2 C458.0,542.7 455.7,540.8 452.9,538.8 C450.1,536.8 446.9,534.1 444.0,531.0 C441.1,527.9 437.8,523.7 435.2,520.0 C432.6,516.3 430.2,512.6 428.5,508.9 C426.8,505.2 425.6,500.8 425.2,497.9 C424.8,494.9 425.0,492.7 426.3,491.2Z" fill="none" stroke="#8a8a8a" stroke-width="1.1" stroke-linejoin="round"/>
<path d="M435.2,500.1 C436.5,499.4 439.6,501.2 441.8,501.2 C444.0,501.2 446.5,501.2 448.4,500.1 C450.2,499.0 451.4,496.4 452.9,494.5 C454.4,492.6 455.6,490.4 457.3,489.0 C459.0,487.6 461.0,486.6 462.8,486.4 C464.6,486.2 466.5,486.9 468.3,487.9 C470.1,488.9 472.2,490.3 473.9,492.3 C475.6,494.3 477.2,497.3 478.3,500.1 C479.4,502.9 480.1,505.9 480.5,508.9 C480.9,511.8 480.9,515.2 480.5,517.8 C480.1,520.4 479.2,522.6 478.3,524.4 C477.4,526.2 475.6,527.1 475.0,528.8 C474.4,530.5 475.7,532.7 475.0,534.4 C474.3,536.1 472.5,537.9 470.6,538.8 C468.8,539.7 466.1,540.3 463.9,539.9 C461.7,539.5 459.7,538.1 457.3,536.6 C454.9,535.1 452.1,533.4 449.5,531.0 C446.9,528.6 444.0,525.2 441.8,522.2 C439.6,519.2 437.6,516.1 436.3,513.3 C435.0,510.5 434.3,507.8 434.1,505.6 C433.9,503.4 433.9,500.8 435.2,500.1Z" fill="none" stroke="#a0a0a0" stroke-width="2.6" stroke-linejoin="round"/>
<path d="M435.2,500.1 C436.5,499.4 439.6,501.2 441.8,501.2 C444.0,501.2 446.5,501.2 448.4,500.1 C450.2,499.0 451.4,496.4 452.9,494.5 C454.4,492.6 455.6,490.4 457.3,489.0 C459.0,487.6 461.0,486.6 462.8,486.4 C464.6,486.2 466.5,486.9 468.3,487.9 C470.1,488.9 472.2,490.3 473.9,492.3 C475.6,494.3 477.2,497.3 478.3,500.1 C479.4,502.9 480.1,505.9 480.5,508.9 C480.9,511.8 480.9,515.2 480.5,517.8 C480.1,520.4 479.2,522.6 478.3,524.4 C477.4,526.2 475.6,527.1 475.0,528.8 C474.4,530.5 475.7,532.7 475.0,534.4 C474.3,536.1 472.5,537.9 470.6,538.8 C468.8,539.7 466.1,540.3 463.9,539.9 C461.7,539.5 459.7,538.1 457.3,536.6 C454.9,535.1 452.1,533.4 449.5,531.0 C446.9,528.6 444.0,525.2 441.8,522.2 C439.6,519.2 437.6,516.1 436.3,513.3 C435.0,510.5 434.3,507.8 434.1,505.6 C433.9,503.4 433.9,500.8 435.2,500.1Z" fill="none" stroke="#f0f0f0" stroke-width="1.0" stroke-dasharray="1.0 0.8"/>
<path d="M93.2,494.0h1.0v1.0h-1.0zM106.5,489.3h1.0v1.0h-1.0zM92.5,491.7h1.0v1.0h-1.0zM103.4,497.7h1.0v1.0h-1.0zM93.2,485.3h1.0v1.0h-1.0zM104.7,494.5h1.0v1.0h-1.0zM109.7,497.1h1.0v1.0h-1.0zM99.9,490.6h1.0v1.0h-1.0zM115.9,490.5h1.0v1.0h-1.0zM95.8,486.1h1.0v1.0h-1.0zM101.1,492.8h1.0v1.0h-1.0zM98.4,491.7h1.0v1.0h-1.0zM102.1,495.6h1.0v1.0h-1.0zM107.1,493.1h1.0v1.0h-1.0zM89.8,495.6h1.0v1.0h-1.0zM92.0,491.1h1.0v1.0h-1.0zM91.7,492.0h1.0v1.0h-1.0zM95.8,493.1h1.0v1.0h-1.0zM120.3,491.7h1.0v1.0h-1.0zM105.6,485.1h1.0v1.0h-1.0zM98.8,495.4h1.0v1.0h-1.0zM99.9,493.9h1.0v1.0h-1.0zM101.1,486.8h1.0v1.0h-1.0zM103.9,487.8h1.0v1.0h-1.0zM111.7,489.4h1.0v1.0h-1.0zM104.6,492.0h1.0v1.0h-1.0zM106.2,488.9h1.0v1.0h-1.0zM106.5,491.4h1.0v1.0h-1.0zM108.1,495.2h1.0v1.0h-1.0zM101.3,487.9h1.0v1.0h-1.0zM105.1,494.4h1.0v1.0h-1.0zM110.4,490.0h1.0v1.0h-1.0zM103.8,494.6h1.0v1.0h-1.0zM102.2,493.1h1.0v1.0h-1.0zM101.6,488.9h1.0v1.0h-1.0zM94.4,489.9h1.0v1.0h-1.0zM104.0,499.9h1.0v1.0h-1.0zM106.4,497.5h1.0v1.0h-1.0zM105.2,495.6h1.0v1.0h-1.0zM101.6,496.0h1.0v1.0h-1.0zM111.1,490.3h1.0v1.0h-1.0zM96.3,502.2h1.0v1.0h-1.0zM102.0,497.0h1.0v1.0h-1.0zM105.7,486.1h1.0v1.0h-1.0zM115.1,501.2h1.0v1.0h-1.0zM101.6,495.9h1.0v1.0h-1.0zM101.3,487.4h1.0v1.0h-1.0zM99.8,493.9h1.0v1.0h-1.0zM107.2,495.7h1.0v1.0h-1.0zM100.9,499.0h1.0v1.0h-1.0zM95.9,496.1h1.0v1.0h-1.0zM107.2,490.5h1.0v1.0h-1.0zM89.8,487.3h1.0v1.0h-1.0zM101.9,494.7h1.0v1.0h-1.0zM109.8,486.8h1.0v1.0h-1.0zM100.5,495.4h1.0v1.0h-1.0zM99.6,479.7h1.0v1.0h-1.0zM105.3,504.0h1.0v1.0h-1.0zM106.5,487.2h1.0v1.0h-1.0zM98.0,493.2h1.0v1.0h-1.0zM115.4,495.2h1.0v1.0h-1.0zM101.2,500.1h1.0v1.0h-1.0zM100.0,501.7h1.0v1.0h-1.0zM96.4,489.5h1.0v1.0h-1.0zM104.8,499.4h1.0v1.0h-1.0zM104.4,493.6h1.0v1.0h-1.0zM89.6,488.3h1.0v1.0h-1.0zM96.8,489.2h1.0v1.0h-1.0zM104.0,490.3h1.0v1.0h-1.0zM105.2,492.4h1.0v1.0h-1.0zM98.5,492.6h1.0v1.0h-1.0zM103.1,496.5h1.0v1.0h-1.0zM97.6,490.8h1.0v1.0h-1.0zM92.3,500.3h1.0v1.0h-1.0zM109.2,491.1h1.0v1.0h-1.0zM97.6,485.6h1.0v1.0h-1.0zM101.5,493.1h1.0v1.0h-1.0zM113.6,493.3h1.0v1.0h-1.0zM95.8,479.3h1.0v1.0h-1.0zM109.0,493.0h1.0v1.0h-1.0zM90.8,492.9h1.0v1.0h-1.0zM90.8,510.1h1.0v1.0h-1.0zM107.2,495.0h1.0v1.0h-1.0zM99.4,480.9h1.0v1.0h-1.0zM99.7,483.9h1.0v1.0h-1.0zM104.1,480.9h1.0v1.0h-1.0zM95.1,498.3h1.0v1.0h-1.0zM110.4,485.9h1.0v1.0h-1.0zM91.3,496.6h1.0v1.0h-1.0zM105.6,486.9h1.0v1.0h-1.0zM96.3,488.4h1.0v1.0h-1.0zM93.4,488.5h1.0v1.0h-1.0zM108.0,495.6h1.0v1.0h-1.0zM112.8,491.6h1.0v1.0h-1.0zM99.7,486.9h1.0v1.0h-1.0zM99.8,485.2h1.0v1.0h-1.0zM89.8,495.6h1.0v1.0h-1.0zM109.1,496.4h1.0v1.0h-1.0zM108.5,493.3h1.0v1.0h-1.0zM96.2,492.4h1.0v1.0h-1.0zM98.3,486.2h1.0v1.0h-1.0zM90.3,484.3h1.0v1.0h-1.0zM100.5,492.8h1.0v1.0h-1.0zM97.7,499.4h1.0v1.0h-1.0zM101.6,495.0h1.0v1.0h-1.0zM107.8,487.7h1.0v1.0h-1.0zM88.7,495.9h1.0v1.0h-1.0zM96.4,498.8h1.0v1.0h-1.0zM102.5,497.2h1.0v1.0h-1.0zM105.1,481.2h1.0v1.0h-1.0zM104.8,488.5h1.0v1.0h-1.0zM96.0,489.7h1.0v1.0h-1.0zM105.1,496.6h1.0v1.0h-1.0zM106.6,483.4h1.0v1.0h-1.0zM97.0,479.6h1.0v1.0h-1.0zM99.9,495.1h1.0v1.0h-1.0zM95.9,493.3h1.0v1.0h-1.0zM101.9,497.2h1.0v1.0h-1.0zM95.6,487.7h1.0v1.0h-1.0zM95.9,501.1h1.0v1.0h-1.0zM107.0,491.4h1.0v1.0h-1.0zM101.9,492.6h1.0v1.0h-1.0zM101.7,490.9h1.0v1.0h-1.0zM98.5,485.5h1.0v1.0h-1.0zM96.6,500.6h1.0v1.0h-1.0zM103.7,492.3h1.0v1.0h-1.0zM99.2,492.3h1.0v1.0h-1.0zM102.6,488.6h1.0v1.0h-1.0zM101.7,493.2h1.0v1.0h-1.0zM96.0,487.9h1.0v1.0h-1.0zM94.5,486.5h1.0v1.0h-1.0zM105.8,479.7h1.0v1.0h-1.0zM98.9,488.8h1.0v1.0h-1.0zM96.8,492.5h1.0v1.0h-1.0zM107.3,492.4h1.0v1.0h-1.0zM99.7,488.8h1.0v1.0h-1.0zM99.7,496.7h1.0v1.0h-1.0zM98.1,486.0h1.0v1.0h-1.0zM92.9,486.2h1.0v1.0h-1.0zM92.2,497.7h1.0v1.0h-1.0zM102.6,490.8h1.0v1.0h-1.0zM109.3,488.6h1.0v1.0h-1.0zM105.0,496.2h1.0v1.0h-1.0zM91.2,483.9h1.0v1.0h-1.0zM94.9,496.7h1.0v1.0h-1.0zM108.3,485.6h1.0v1.0h-1.0zM106.8,490.0h1.0v1.0h-1.0zM98.1,489.1h1.0v1.0h-1.0zM98.6,482.5h1.0v1.0h-1.0zM94.5,485.6h1.0v1.0h-1.0zM103.4,502.9h1.0v1.0h-1.0zM116.9,490.3h1.0v1.0h-1.0zM90.2,489.9h1.0v1.0h-1.0zM94.9,502.3h1.0v1.0h-1.0zM103.9,488.2h1.0v1.0h-1.0zM106.1,494.8h1.0v1.0h-1.0zM90.7,489.2h1.0v1.0h-1.0zM99.1,492.1h1.0v1.0h-1.0zM101.3,490.2h1.0v1.0h-1.0zM101.6,489.0h1.0v1.0h-1.0zM95.1,499.9h1.0v1.0h-1.0zM102.7,494.3h1.0v1.0h-1.0zM90.9,491.1h1.0v1.0h-1.0zM105.4,485.3h1.0v1.0h-1.0zM107.1,490.0h1.0v1.0h-1.0zM102.9,491.3h1.0v1.0h-1.0zM101.8,498.3h1.0v1.0h-1.0zM98.1,500.1h1.0v1.0h-1.0zM95.8,487.2h1.0v1.0h-1.0zM104.8,486.5h1.0v1.0h-1.0zM98.3,496.7h1.0v1.0h-1.0zM107.8,482.8h1.0v1.0h-1.0zM103.5,501.8h1.0v1.0h-1.0zM107.7,490.8h1.0v1.0h-1.0zM96.9,490.5h1.0v1.0h-1.0zM93.6,490.6h1.0v1.0h-1.0zM99.4,491.2h1.0v1.0h-1.0zM107.6,490.8h1.0v1.0h-1.0zM91.8,497.5h1.0v1.0h-1.0zM94.1,489.7h1.0v1.0h-1.0zM99.7,490.2h1.0v1.0h-1.0zM94.5,490.7h1.0v1.0h-1.0zM113.6,488.8h1.0v1.0h-1.0zM99.7,497.8h1.0v1.0h-1.0zM105.0,496.0h1.0v1.0h-1.0zM105.7,481.8h1.0v1.0h-1.0zM95.3,492.7h1.0v1.0h-1.0zM103.5,498.7h1.0v1.0h-1.0zM103.3,490.8h1.0v1.0h-1.0zM100.7,490.9h1.0v1.0h-1.0zM102.0,495.5h1.0v1.0h-1.0zM98.5,487.8h1.0v1.0h-1.0zM95.4,497.7h1.0v1.0h-1.0zM108.2,497.2h1.0v1.0h-1.0zM105.6,496.3h1.0v1.0h-1.0zM100.5,495.5h1.0v1.0h-1.0zM94.2,490.9h1.0v1.0h-1.0zM96.1,495.8h1.0v1.0h-1.0zM97.0,491.4h1.0v1.0h-1.0zM102.9,499.0h1.0v1.0h-1.0zM95.7,487.1h1.0v1.0h-1.0zM105.4,486.2h1.0v1.0h-1.0zM103.2,489.0h1.0v1.0h-1.0zM99.9,482.5h1.0v1.0h-1.0zM104.8,489.4h1.0v1.0h-1.0zM95.1,502.8h1.0v1.0h-1.0zM104.8,510.2h1.0v1.0h-1.0zM102.9,490.2h1.0v1.0h-1.0zM101.1,500.4h1.0v1.0h-1.0zM100.3,494.3h1.0v1.0h-1.0zM103.6,487.3h1.0v1.0h-1.0zM101.3,489.4h1.0v1.0h-1.0zM93.0,496.5h1.0v1.0h-1.0zM104.5,492.4h1.0v1.0h-1.0zM95.1,481.6h1.0v1.0h-1.0zM103.4,491.5h1.0v1.0h-1.0zM90.4,491.7h1.0v1.0h-1.0zM91.4,491.9h1.0v1.0h-1.0zM101.4,493.8h1.0v1.0h-1.0zM101.8,492.9h1.0v1.0h-1.0zM93.7,490.0h1.0v1.0h-1.0zM97.4,490.8h1.0v1.0h-1.0zM102.1,495.2h1.0v1.0h-1.0zM110.3,478.6h1.0v1.0h-1.0zM102.9,491.0h1.0v1.0h-1.0zM114.2,496.9h1.0v1.0h-1.0zM90.6,494.1h1.0v1.0h-1.0zM97.4,497.2h1.0v1.0h-1.0zM94.2,491.5h1.0v1.0h-1.0zM99.7,491.5h1.0v1.0h-1.0zM97.0,482.4h1.0v1.0h-1.0zM103.3,497.2h1.0v1.0h-1.0zM100.1,486.7h1.0v1.0h-1.0zM101.7,494.9h1.0v1.0h-1.0zM99.4,491.9h1.0v1.0h-1.0zM109.0,486.2h1.0v1.0h-1.0zM97.2,482.1h1.0v1.0h-1.0zM96.3,488.2h1.0v1.0h-1.0zM94.7,488.4h1.0v1.0h-1.0zM111.3,491.0h1.0v1.0h-1.0z" fill="#222" opacity="1.0"/>
<path d="M93.0,515.6h0.9v0.9h-0.9zM93.5,484.1h0.9v0.9h-0.9zM97.6,490.5h0.9v0.9h-0.9zM108.7,488.0h0.9v0.9h-0.9zM88.8,485.2h0.9v0.9h-0.9zM94.9,489.9h0.9v0.9h-0.9zM93.4,495.0h0.9v0.9h-0.9zM88.5,505.5h0.9v0.9h-0.9zM102.4,498.5h0.9v0.9h-0.9zM85.9,489.4h0.9v0.9h-0.9zM96.4,517.1h0.9v0.9h-0.9zM89.9,491.7h0.9v0.9h-0.9zM87.7,489.2h0.9v0.9h-0.9zM85.2,496.4h0.9v0.9h-0.9zM106.9,498.0h0.9v0.9h-0.9zM89.4,485.1h0.9v0.9h-0.9zM95.9,497.8h0.9v0.9h-0.9zM83.0,489.3h0.9v0.9h-0.9zM93.6,506.1h0.9v0.9h-0.9zM99.6,499.6h0.9v0.9h-0.9zM91.1,500.6h0.9v0.9h-0.9zM93.9,515.4h0.9v0.9h-0.9zM83.8,495.1h0.9v0.9h-0.9zM105.4,495.9h0.9v0.9h-0.9zM106.8,497.6h0.9v0.9h-0.9zM95.3,495.0h0.9v0.9h-0.9zM81.6,490.2h0.9v0.9h-0.9zM113.9,503.2h0.9v0.9h-0.9zM99.5,505.6h0.9v0.9h-0.9zM99.1,506.2h0.9v0.9h-0.9zM91.6,496.2h0.9v0.9h-0.9zM102.9,495.2h0.9v0.9h-0.9zM82.0,496.2h0.9v0.9h-0.9zM89.1,502.9h0.9v0.9h-0.9zM87.5,489.5h0.9v0.9h-0.9zM91.0,510.4h0.9v0.9h-0.9zM93.6,499.3h0.9v0.9h-0.9zM94.1,500.4h0.9v0.9h-0.9zM102.4,509.2h0.9v0.9h-0.9zM79.2,508.9h0.9v0.9h-0.9zM94.0,495.4h0.9v0.9h-0.9zM115.6,496.6h0.9v0.9h-0.9zM111.5,505.7h0.9v0.9h-0.9zM84.7,501.9h0.9v0.9h-0.9zM100.6,497.0h0.9v0.9h-0.9zM73.0,495.2h0.9v0.9h-0.9zM92.3,489.1h0.9v0.9h-0.9zM110.4,496.0h0.9v0.9h-0.9zM90.5,495.6h0.9v0.9h-0.9zM86.9,491.8h0.9v0.9h-0.9zM94.8,500.5h0.9v0.9h-0.9zM89.4,497.3h0.9v0.9h-0.9zM81.5,502.2h0.9v0.9h-0.9zM87.3,499.7h0.9v0.9h-0.9zM85.8,493.9h0.9v0.9h-0.9zM95.9,488.3h0.9v0.9h-0.9zM116.2,497.7h0.9v0.9h-0.9zM93.3,492.1h0.9v0.9h-0.9zM108.4,509.1h0.9v0.9h-0.9zM96.7,487.1h0.9v0.9h-0.9zM89.5,502.9h0.9v0.9h-0.9zM89.4,488.5h0.9v0.9h-0.9zM83.3,491.8h0.9v0.9h-0.9zM94.1,492.8h0.9v0.9h-0.9zM94.2,520.3h0.9v0.9h-0.9zM110.0,489.7h0.9v0.9h-0.9zM97.1,498.7h0.9v0.9h-0.9zM92.8,506.3h0.9v0.9h-0.9zM91.0,495.4h0.9v0.9h-0.9zM90.6,497.2h0.9v0.9h-0.9zM105.6,504.2h0.9v0.9h-0.9zM81.9,494.5h0.9v0.9h-0.9zM86.8,504.5h0.9v0.9h-0.9zM96.0,505.1h0.9v0.9h-0.9zM93.4,482.7h0.9v0.9h-0.9zM98.1,499.8h0.9v0.9h-0.9zM98.6,487.6h0.9v0.9h-0.9zM94.7,492.5h0.9v0.9h-0.9zM87.8,500.8h0.9v0.9h-0.9zM97.2,490.9h0.9v0.9h-0.9zM78.6,478.2h0.9v0.9h-0.9zM88.8,507.0h0.9v0.9h-0.9zM93.5,480.0h0.9v0.9h-0.9zM86.2,501.4h0.9v0.9h-0.9zM109.1,507.3h0.9v0.9h-0.9zM97.3,499.6h0.9v0.9h-0.9zM84.5,494.4h0.9v0.9h-0.9zM91.0,491.8h0.9v0.9h-0.9zM94.6,494.9h0.9v0.9h-0.9zM97.0,509.5h0.9v0.9h-0.9zM100.7,501.3h0.9v0.9h-0.9zM91.8,485.8h0.9v0.9h-0.9zM93.0,502.3h0.9v0.9h-0.9zM84.9,508.0h0.9v0.9h-0.9zM91.0,501.0h0.9v0.9h-0.9zM91.0,488.0h0.9v0.9h-0.9zM112.6,488.7h0.9v0.9h-0.9zM102.3,493.6h0.9v0.9h-0.9zM96.5,491.6h0.9v0.9h-0.9zM90.3,505.4h0.9v0.9h-0.9zM111.5,491.2h0.9v0.9h-0.9zM94.1,505.6h0.9v0.9h-0.9zM88.3,503.7h0.9v0.9h-0.9zM86.9,502.8h0.9v0.9h-0.9zM97.9,507.7h0.9v0.9h-0.9zM97.3,488.5h0.9v0.9h-0.9zM100.0,489.2h0.9v0.9h-0.9zM100.8,510.1h0.9v0.9h-0.9zM99.4,493.6h0.9v0.9h-0.9zM104.7,499.3h0.9v0.9h-0.9zM82.8,495.2h0.9v0.9h-0.9zM106.8,495.6h0.9v0.9h-0.9zM95.1,495.3h0.9v0.9h-0.9zM78.8,493.9h0.9v0.9h-0.9zM97.2,499.7h0.9v0.9h-0.9zM92.4,480.9h0.9v0.9h-0.9zM105.0,503.8h0.9v0.9h-0.9zM103.2,508.4h0.9v0.9h-0.9zM90.0,493.2h0.9v0.9h-0.9zM96.8,511.4h0.9v0.9h-0.9zM78.8,496.2h0.9v0.9h-0.9zM87.6,502.5h0.9v0.9h-0.9zM107.2,495.6h0.9v0.9h-0.9zM82.8,498.4h0.9v0.9h-0.9zM91.4,485.7h0.9v0.9h-0.9zM102.0,493.8h0.9v0.9h-0.9zM100.1,487.5h0.9v0.9h-0.9zM103.9,486.5h0.9v0.9h-0.9zM103.5,483.5h0.9v0.9h-0.9zM106.4,495.0h0.9v0.9h-0.9zM80.0,496.1h0.9v0.9h-0.9zM97.0,490.1h0.9v0.9h-0.9zM89.6,500.2h0.9v0.9h-0.9zM92.5,473.5h0.9v0.9h-0.9zM90.1,501.4h0.9v0.9h-0.9zM96.7,506.1h0.9v0.9h-0.9zM87.8,518.4h0.9v0.9h-0.9zM101.2,500.5h0.9v0.9h-0.9zM103.8,505.6h0.9v0.9h-0.9zM94.9,493.0h0.9v0.9h-0.9zM103.2,501.4h0.9v0.9h-0.9zM77.0,489.2h0.9v0.9h-0.9zM98.2,498.9h0.9v0.9h-0.9zM96.5,503.1h0.9v0.9h-0.9zM95.3,510.7h0.9v0.9h-0.9zM88.7,494.8h0.9v0.9h-0.9zM96.9,504.0h0.9v0.9h-0.9zM101.1,509.9h0.9v0.9h-0.9zM89.7,507.3h0.9v0.9h-0.9zM98.2,489.7h0.9v0.9h-0.9zM92.8,514.7h0.9v0.9h-0.9zM101.1,494.2h0.9v0.9h-0.9zM72.4,492.1h0.9v0.9h-0.9zM87.7,498.6h0.9v0.9h-0.9zM114.8,504.0h0.9v0.9h-0.9zM96.8,490.5h0.9v0.9h-0.9zM83.3,496.3h0.9v0.9h-0.9zM89.8,522.1h0.9v0.9h-0.9zM90.4,493.1h0.9v0.9h-0.9zM104.2,498.6h0.9v0.9h-0.9zM82.9,508.3h0.9v0.9h-0.9zM91.2,487.4h0.9v0.9h-0.9zM96.9,501.9h0.9v0.9h-0.9zM91.0,503.6h0.9v0.9h-0.9zM101.4,490.9h0.9v0.9h-0.9zM75.5,478.9h0.9v0.9h-0.9zM92.8,507.8h0.9v0.9h-0.9zM103.0,509.1h0.9v0.9h-0.9zM110.7,498.1h0.9v0.9h-0.9zM103.5,485.8h0.9v0.9h-0.9zM100.2,501.1h0.9v0.9h-0.9zM93.2,494.5h0.9v0.9h-0.9zM84.0,499.1h0.9v0.9h-0.9zM105.5,495.1h0.9v0.9h-0.9zM98.8,492.7h0.9v0.9h-0.9zM96.3,489.9h0.9v0.9h-0.9zM97.4,496.3h0.9v0.9h-0.9zM96.8,493.1h0.9v0.9h-0.9zM83.4,495.4h0.9v0.9h-0.9zM103.3,510.6h0.9v0.9h-0.9zM91.1,504.4h0.9v0.9h-0.9zM100.8,501.1h0.9v0.9h-0.9zM80.0,500.6h0.9v0.9h-0.9zM85.3,507.4h0.9v0.9h-0.9zM101.1,502.9h0.9v0.9h-0.9zM71.2,503.0h0.9v0.9h-0.9zM100.3,487.8h0.9v0.9h-0.9zM102.7,498.6h0.9v0.9h-0.9zM92.4,492.3h0.9v0.9h-0.9zM84.8,494.5h0.9v0.9h-0.9zM121.8,499.6h0.9v0.9h-0.9zM95.9,492.8h0.9v0.9h-0.9zM88.4,493.6h0.9v0.9h-0.9zM86.0,505.0h0.9v0.9h-0.9zM91.6,504.9h0.9v0.9h-0.9zM83.6,505.4h0.9v0.9h-0.9zM93.8,503.3h0.9v0.9h-0.9zM93.1,490.9h0.9v0.9h-0.9zM104.9,494.5h0.9v0.9h-0.9zM92.7,490.9h0.9v0.9h-0.9zM95.8,494.9h0.9v0.9h-0.9zM96.5,500.8h0.9v0.9h-0.9zM87.8,486.7h0.9v0.9h-0.9zM97.9,505.3h0.9v0.9h-0.9zM100.3,488.8h0.9v0.9h-0.9zM99.4,501.1h0.9v0.9h-0.9zM96.6,501.4h0.9v0.9h-0.9zM91.1,499.7h0.9v0.9h-0.9zM102.3,494.0h0.9v0.9h-0.9zM81.0,497.2h0.9v0.9h-0.9zM95.8,483.2h0.9v0.9h-0.9zM87.9,502.7h0.9v0.9h-0.9zM92.6,498.7h0.9v0.9h-0.9zM82.7,505.3h0.9v0.9h-0.9zM109.8,496.4h0.9v0.9h-0.9zM87.4,488.7h0.9v0.9h-0.9zM102.0,498.8h0.9v0.9h-0.9zM86.9,507.7h0.9v0.9h-0.9zM100.9,502.8h0.9v0.9h-0.9zM78.2,497.2h0.9v0.9h-0.9zM99.6,488.2h0.9v0.9h-0.9zM102.4,509.4h0.9v0.9h-0.9zM103.3,492.2h0.9v0.9h-0.9zM87.6,505.5h0.9v0.9h-0.9zM102.9,507.8h0.9v0.9h-0.9zM104.8,497.2h0.9v0.9h-0.9zM90.3,483.2h0.9v0.9h-0.9zM101.1,516.2h0.9v0.9h-0.9zM89.8,494.2h0.9v0.9h-0.9zM99.8,501.0h0.9v0.9h-0.9z" fill="#444" opacity="1.0"/>
<path d="M187.9,524.4h1.0v1.0h-1.0zM190.9,538.1h1.0v1.0h-1.0zM195.1,532.3h1.0v1.0h-1.0zM224.1,537.5h1.0v1.0h-1.0zM218.7,536.1h1.0v1.0h-1.0zM189.4,526.3h1.0v1.0h-1.0zM195.0,526.5h1.0v1.0h-1.0zM231.8,519.6h1.0v1.0h-1.0zM209.1,521.8h1.0v1.0h-1.0zM217.7,534.5h1.0v1.0h-1.0zM197.4,538.3h1.0v1.0h-1.0zM203.8,534.5h1.0v1.0h-1.0zM206.4,525.2h1.0v1.0h-1.0zM198.8,527.4h1.0v1.0h-1.0zM209.8,528.6h1.0v1.0h-1.0zM229.0,527.0h1.0v1.0h-1.0zM197.9,524.4h1.0v1.0h-1.0zM194.5,520.8h1.0v1.0h-1.0zM192.2,532.5h1.0v1.0h-1.0zM203.7,527.1h1.0v1.0h-1.0zM206.9,533.3h1.0v1.0h-1.0zM209.8,531.9h1.0v1.0h-1.0zM196.8,526.7h1.0v1.0h-1.0zM194.5,527.5h1.0v1.0h-1.0zM194.0,526.1h1.0v1.0h-1.0zM201.1,526.9h1.0v1.0h-1.0zM200.1,525.5h1.0v1.0h-1.0zM217.4,526.3h1.0v1.0h-1.0zM191.9,529.0h1.0v1.0h-1.0zM191.0,522.6h1.0v1.0h-1.0zM203.9,519.7h1.0v1.0h-1.0zM167.6,529.4h1.0v1.0h-1.0zM214.4,519.6h1.0v1.0h-1.0zM193.1,530.9h1.0v1.0h-1.0zM181.1,523.6h1.0v1.0h-1.0zM189.8,527.0h1.0v1.0h-1.0zM181.3,532.5h1.0v1.0h-1.0zM201.4,529.5h1.0v1.0h-1.0zM199.4,517.4h1.0v1.0h-1.0zM201.3,521.3h1.0v1.0h-1.0zM203.1,523.7h1.0v1.0h-1.0zM199.5,526.9h1.0v1.0h-1.0zM211.5,531.8h1.0v1.0h-1.0zM191.9,527.9h1.0v1.0h-1.0zM219.1,530.5h1.0v1.0h-1.0zM195.0,527.4h1.0v1.0h-1.0zM199.2,532.7h1.0v1.0h-1.0zM203.4,529.9h1.0v1.0h-1.0zM227.3,521.1h1.0v1.0h-1.0zM191.8,519.3h1.0v1.0h-1.0zM185.5,532.3h1.0v1.0h-1.0zM206.2,536.2h1.0v1.0h-1.0zM181.3,523.6h1.0v1.0h-1.0zM218.9,533.1h1.0v1.0h-1.0zM212.7,532.4h1.0v1.0h-1.0zM203.4,527.9h1.0v1.0h-1.0zM203.4,532.2h1.0v1.0h-1.0zM201.2,529.6h1.0v1.0h-1.0zM219.0,522.4h1.0v1.0h-1.0zM194.7,530.8h1.0v1.0h-1.0zM200.1,527.2h1.0v1.0h-1.0zM226.1,530.1h1.0v1.0h-1.0zM198.4,533.5h1.0v1.0h-1.0zM230.7,522.5h1.0v1.0h-1.0zM195.6,528.6h1.0v1.0h-1.0zM196.0,538.9h1.0v1.0h-1.0zM208.8,526.0h1.0v1.0h-1.0zM208.4,524.0h1.0v1.0h-1.0zM196.3,528.5h1.0v1.0h-1.0zM229.3,516.7h1.0v1.0h-1.0zM207.6,534.8h1.0v1.0h-1.0zM211.1,537.6h1.0v1.0h-1.0zM208.0,528.7h1.0v1.0h-1.0zM201.6,523.7h1.0v1.0h-1.0zM221.0,522.1h1.0v1.0h-1.0zM201.6,525.4h1.0v1.0h-1.0zM194.4,516.9h1.0v1.0h-1.0zM198.8,528.7h1.0v1.0h-1.0zM204.6,532.2h1.0v1.0h-1.0zM201.2,524.8h1.0v1.0h-1.0zM206.4,531.3h1.0v1.0h-1.0zM193.1,520.4h1.0v1.0h-1.0zM191.7,533.3h1.0v1.0h-1.0zM214.0,523.6h1.0v1.0h-1.0zM204.2,532.2h1.0v1.0h-1.0zM217.6,524.7h1.0v1.0h-1.0zM200.4,535.0h1.0v1.0h-1.0zM229.5,535.6h1.0v1.0h-1.0zM190.5,530.2h1.0v1.0h-1.0zM199.7,527.7h1.0v1.0h-1.0zM195.7,525.6h1.0v1.0h-1.0zM202.9,537.0h1.0v1.0h-1.0zM210.7,530.1h1.0v1.0h-1.0zM203.3,524.2h1.0v1.0h-1.0zM200.5,534.2h1.0v1.0h-1.0zM212.1,537.8h1.0v1.0h-1.0zM205.9,527.9h1.0v1.0h-1.0zM185.2,530.0h1.0v1.0h-1.0zM184.0,535.6h1.0v1.0h-1.0zM196.1,528.0h1.0v1.0h-1.0zM188.1,525.5h1.0v1.0h-1.0zM192.8,533.7h1.0v1.0h-1.0zM205.7,522.1h1.0v1.0h-1.0zM181.8,527.7h1.0v1.0h-1.0zM197.6,522.4h1.0v1.0h-1.0zM209.5,527.1h1.0v1.0h-1.0zM204.2,525.0h1.0v1.0h-1.0zM196.7,525.7h1.0v1.0h-1.0zM185.4,531.1h1.0v1.0h-1.0zM207.4,519.4h1.0v1.0h-1.0zM204.1,533.8h1.0v1.0h-1.0zM205.6,534.5h1.0v1.0h-1.0zM200.0,528.0h1.0v1.0h-1.0zM188.7,523.5h1.0v1.0h-1.0zM182.9,523.5h1.0v1.0h-1.0zM205.7,530.6h1.0v1.0h-1.0zM215.8,528.7h1.0v1.0h-1.0zM192.1,530.2h1.0v1.0h-1.0zM201.4,536.9h1.0v1.0h-1.0zM224.5,532.8h1.0v1.0h-1.0zM190.5,525.4h1.0v1.0h-1.0zM205.1,524.4h1.0v1.0h-1.0zM208.8,531.4h1.0v1.0h-1.0zM212.2,529.1h1.0v1.0h-1.0zM193.3,523.8h1.0v1.0h-1.0zM201.6,534.6h1.0v1.0h-1.0zM220.3,532.9h1.0v1.0h-1.0zM207.0,531.4h1.0v1.0h-1.0zM212.0,534.5h1.0v1.0h-1.0zM212.4,520.3h1.0v1.0h-1.0zM213.5,529.9h1.0v1.0h-1.0zM197.9,530.6h1.0v1.0h-1.0zM206.2,527.7h1.0v1.0h-1.0zM184.4,528.6h1.0v1.0h-1.0zM209.1,527.8h1.0v1.0h-1.0zM185.5,530.3h1.0v1.0h-1.0zM210.9,528.9h1.0v1.0h-1.0zM207.7,526.2h1.0v1.0h-1.0zM195.8,530.6h1.0v1.0h-1.0zM199.1,528.9h1.0v1.0h-1.0zM238.8,531.6h1.0v1.0h-1.0zM204.5,519.9h1.0v1.0h-1.0zM204.1,531.8h1.0v1.0h-1.0zM195.2,526.8h1.0v1.0h-1.0zM178.2,530.8h1.0v1.0h-1.0zM196.5,531.4h1.0v1.0h-1.0zM218.0,527.2h1.0v1.0h-1.0zM213.8,529.3h1.0v1.0h-1.0zM200.8,526.6h1.0v1.0h-1.0zM193.6,534.4h1.0v1.0h-1.0zM212.7,523.0h1.0v1.0h-1.0zM212.3,524.4h1.0v1.0h-1.0zM186.4,534.0h1.0v1.0h-1.0zM188.9,533.9h1.0v1.0h-1.0zM205.2,532.5h1.0v1.0h-1.0zM208.6,533.8h1.0v1.0h-1.0zM206.8,530.9h1.0v1.0h-1.0zM205.7,533.5h1.0v1.0h-1.0zM198.7,533.1h1.0v1.0h-1.0zM219.6,527.7h1.0v1.0h-1.0zM207.8,525.4h1.0v1.0h-1.0zM199.8,529.3h1.0v1.0h-1.0zM199.2,523.6h1.0v1.0h-1.0zM202.7,529.0h1.0v1.0h-1.0zM206.6,531.6h1.0v1.0h-1.0zM183.5,535.1h1.0v1.0h-1.0zM201.1,524.1h1.0v1.0h-1.0zM198.9,530.2h1.0v1.0h-1.0zM212.6,526.2h1.0v1.0h-1.0zM204.7,520.0h1.0v1.0h-1.0zM204.9,527.4h1.0v1.0h-1.0zM198.3,532.4h1.0v1.0h-1.0zM222.7,533.2h1.0v1.0h-1.0zM194.4,535.6h1.0v1.0h-1.0zM199.3,527.8h1.0v1.0h-1.0zM196.6,530.3h1.0v1.0h-1.0zM209.1,528.7h1.0v1.0h-1.0zM200.7,527.3h1.0v1.0h-1.0zM198.6,532.9h1.0v1.0h-1.0zM197.3,527.3h1.0v1.0h-1.0zM200.7,524.3h1.0v1.0h-1.0zM200.5,520.7h1.0v1.0h-1.0zM207.5,530.7h1.0v1.0h-1.0zM199.7,535.8h1.0v1.0h-1.0zM194.0,530.8h1.0v1.0h-1.0zM208.2,525.3h1.0v1.0h-1.0zM200.4,532.4h1.0v1.0h-1.0zM203.7,529.4h1.0v1.0h-1.0zM218.3,529.1h1.0v1.0h-1.0zM184.7,524.3h1.0v1.0h-1.0zM212.1,527.4h1.0v1.0h-1.0zM191.2,518.2h1.0v1.0h-1.0zM206.5,535.5h1.0v1.0h-1.0zM189.3,517.2h1.0v1.0h-1.0zM208.4,525.3h1.0v1.0h-1.0zM199.8,526.4h1.0v1.0h-1.0zM193.1,530.2h1.0v1.0h-1.0zM213.1,529.8h1.0v1.0h-1.0zM196.9,533.2h1.0v1.0h-1.0zM201.8,530.9h1.0v1.0h-1.0zM192.8,531.3h1.0v1.0h-1.0zM211.1,534.4h1.0v1.0h-1.0zM203.3,530.2h1.0v1.0h-1.0zM196.7,532.4h1.0v1.0h-1.0zM211.5,533.4h1.0v1.0h-1.0zM198.8,521.9h1.0v1.0h-1.0zM202.3,527.0h1.0v1.0h-1.0zM194.9,531.0h1.0v1.0h-1.0zM213.3,530.0h1.0v1.0h-1.0zM215.1,530.0h1.0v1.0h-1.0zM192.4,525.1h1.0v1.0h-1.0zM199.2,531.4h1.0v1.0h-1.0zM213.0,528.7h1.0v1.0h-1.0zM214.0,523.9h1.0v1.0h-1.0zM201.8,535.4h1.0v1.0h-1.0zM207.8,533.2h1.0v1.0h-1.0zM182.5,519.8h1.0v1.0h-1.0zM193.6,533.0h1.0v1.0h-1.0zM220.7,525.0h1.0v1.0h-1.0zM192.3,523.0h1.0v1.0h-1.0zM193.3,530.8h1.0v1.0h-1.0zM199.6,537.3h1.0v1.0h-1.0zM210.9,524.6h1.0v1.0h-1.0zM205.6,527.3h1.0v1.0h-1.0zM211.6,532.5h1.0v1.0h-1.0zM199.3,532.4h1.0v1.0h-1.0zM209.2,527.6h1.0v1.0h-1.0zM205.8,531.4h1.0v1.0h-1.0zM199.6,524.7h1.0v1.0h-1.0zM216.8,528.0h1.0v1.0h-1.0zM196.6,530.3h1.0v1.0h-1.0zM187.1,528.3h1.0v1.0h-1.0zM188.3,525.9h1.0v1.0h-1.0zM183.7,524.5h1.0v1.0h-1.0zM212.7,527.1h1.0v1.0h-1.0zM189.9,536.6h1.0v1.0h-1.0zM196.2,535.3h1.0v1.0h-1.0zM197.4,520.8h1.0v1.0h-1.0zM223.0,525.9h1.0v1.0h-1.0zM211.3,533.9h1.0v1.0h-1.0zM188.9,528.4h1.0v1.0h-1.0zM196.8,531.0h1.0v1.0h-1.0zM202.9,521.8h1.0v1.0h-1.0zM203.7,531.8h1.0v1.0h-1.0zM199.9,530.8h1.0v1.0h-1.0zM197.3,527.8h1.0v1.0h-1.0zM206.8,528.7h1.0v1.0h-1.0zM216.8,532.7h1.0v1.0h-1.0zM212.2,531.6h1.0v1.0h-1.0zM204.7,522.3h1.0v1.0h-1.0zM214.5,536.6h1.0v1.0h-1.0zM205.5,526.8h1.0v1.0h-1.0zM202.7,533.9h1.0v1.0h-1.0zM206.2,523.2h1.0v1.0h-1.0zM201.2,524.3h1.0v1.0h-1.0zM200.9,523.7h1.0v1.0h-1.0zM193.7,535.3h1.0v1.0h-1.0zM214.4,520.2h1.0v1.0h-1.0zM192.5,525.9h1.0v1.0h-1.0zM198.9,521.3h1.0v1.0h-1.0zM212.6,520.2h1.0v1.0h-1.0zM210.6,531.4h1.0v1.0h-1.0zM199.1,524.8h1.0v1.0h-1.0zM203.7,528.8h1.0v1.0h-1.0zM180.5,521.9h1.0v1.0h-1.0zM208.8,527.5h1.0v1.0h-1.0zM198.6,523.2h1.0v1.0h-1.0zM195.5,524.3h1.0v1.0h-1.0zM233.1,521.9h1.0v1.0h-1.0zM219.6,530.4h1.0v1.0h-1.0zM205.4,529.0h1.0v1.0h-1.0zM199.0,535.9h1.0v1.0h-1.0zM208.6,527.9h1.0v1.0h-1.0zM201.8,529.0h1.0v1.0h-1.0zM190.8,526.5h1.0v1.0h-1.0zM196.4,531.1h1.0v1.0h-1.0zM209.6,518.9h1.0v1.0h-1.0zM200.7,532.9h1.0v1.0h-1.0zM189.2,522.3h1.0v1.0h-1.0zM213.8,527.4h1.0v1.0h-1.0zM198.2,522.1h1.0v1.0h-1.0zM204.9,525.3h1.0v1.0h-1.0zM205.4,530.1h1.0v1.0h-1.0zM210.7,526.5h1.0v1.0h-1.0zM197.4,528.2h1.0v1.0h-1.0zM202.0,528.9h1.0v1.0h-1.0zM197.4,526.9h1.0v1.0h-1.0zM196.8,525.2h1.0v1.0h-1.0zM204.8,533.7h1.0v1.0h-1.0zM197.3,530.9h1.0v1.0h-1.0zM206.8,528.6h1.0v1.0h-1.0zM210.4,525.3h1.0v1.0h-1.0zM209.2,529.5h1.0v1.0h-1.0zM165.5,529.8h1.0v1.0h-1.0zM209.5,537.6h1.0v1.0h-1.0zM191.7,528.5h1.0v1.0h-1.0zM206.9,523.3h1.0v1.0h-1.0zM216.0,530.2h1.0v1.0h-1.0zM194.5,522.2h1.0v1.0h-1.0zM198.6,539.7h1.0v1.0h-1.0zM226.3,515.9h1.0v1.0h-1.0zM183.5,531.3h1.0v1.0h-1.0zM201.9,524.9h1.0v1.0h-1.0zM209.6,528.5h1.0v1.0h-1.0zM206.2,529.3h1.0v1.0h-1.0zM191.4,534.5h1.0v1.0h-1.0zM198.1,533.6h1.0v1.0h-1.0zM210.5,528.2h1.0v1.0h-1.0zM204.6,527.8h1.0v1.0h-1.0zM183.2,526.4h1.0v1.0h-1.0zM207.7,520.1h1.0v1.0h-1.0zM187.0,533.3h1.0v1.0h-1.0zM211.8,520.5h1.0v1.0h-1.0zM208.1,527.8h1.0v1.0h-1.0zM213.6,526.4h1.0v1.0h-1.0zM200.7,524.4h1.0v1.0h-1.0zM205.0,527.4h1.0v1.0h-1.0zM196.0,526.3h1.0v1.0h-1.0zM194.9,531.1h1.0v1.0h-1.0zM191.9,520.4h1.0v1.0h-1.0zM192.7,533.4h1.0v1.0h-1.0zM197.6,531.2h1.0v1.0h-1.0zM211.0,525.5h1.0v1.0h-1.0zM211.2,530.5h1.0v1.0h-1.0zM202.6,524.6h1.0v1.0h-1.0zM202.4,521.7h1.0v1.0h-1.0zM200.1,525.2h1.0v1.0h-1.0zM207.8,529.7h1.0v1.0h-1.0zM196.1,532.3h1.0v1.0h-1.0zM216.0,528.4h1.0v1.0h-1.0zM195.0,530.5h1.0v1.0h-1.0zM176.6,525.1h1.0v1.0h-1.0zM209.4,537.9h1.0v1.0h-1.0zM195.1,535.6h1.0v1.0h-1.0zM228.3,537.3h1.0v1.0h-1.0zM177.5,533.5h1.0v1.0h-1.0zM205.1,533.0h1.0v1.0h-1.0zM201.1,525.0h1.0v1.0h-1.0zM200.6,535.4h1.0v1.0h-1.0zM212.2,526.6h1.0v1.0h-1.0zM207.2,532.3h1.0v1.0h-1.0zM209.2,527.8h1.0v1.0h-1.0zM195.9,524.3h1.0v1.0h-1.0zM198.3,525.3h1.0v1.0h-1.0zM185.9,521.0h1.0v1.0h-1.0zM212.6,522.5h1.0v1.0h-1.0zM188.8,527.8h1.0v1.0h-1.0zM218.8,534.3h1.0v1.0h-1.0zM198.5,522.9h1.0v1.0h-1.0zM197.2,523.5h1.0v1.0h-1.0zM197.0,530.4h1.0v1.0h-1.0zM191.4,524.1h1.0v1.0h-1.0zM200.2,527.9h1.0v1.0h-1.0zM194.7,524.1h1.0v1.0h-1.0zM190.7,524.3h1.0v1.0h-1.0zM208.7,526.8h1.0v1.0h-1.0zM169.1,531.1h1.0v1.0h-1.0zM202.3,523.7h1.0v1.0h-1.0zM200.2,513.0h1.0v1.0h-1.0zM184.9,533.8h1.0v1.0h-1.0zM226.4,538.9h1.0v1.0h-1.0zM195.0,528.2h1.0v1.0h-1.0zM211.5,521.9h1.0v1.0h-1.0zM222.1,524.4h1.0v1.0h-1.0zM206.9,522.3h1.0v1.0h-1.0zM207.0,527.9h1.0v1.0h-1.0zM214.9,522.3h1.0v1.0h-1.0zM202.9,537.1h1.0v1.0h-1.0zM189.9,529.8h1.0v1.0h-1.0zM207.8,525.5h1.0v1.0h-1.0zM200.1,535.1h1.0v1.0h-1.0zM215.5,530.8h1.0v1.0h-1.0zM206.0,522.3h1.0v1.0h-1.0zM204.0,537.0h1.0v1.0h-1.0zM214.6,521.2h1.0v1.0h-1.0zM180.2,524.7h1.0v1.0h-1.0zM204.8,525.3h1.0v1.0h-1.0zM199.6,529.7h1.0v1.0h-1.0zM212.9,529.1h1.0v1.0h-1.0zM216.8,520.9h1.0v1.0h-1.0zM208.2,530.1h1.0v1.0h-1.0zM186.6,534.3h1.0v1.0h-1.0zM185.4,520.8h1.0v1.0h-1.0zM232.4,534.5h1.0v1.0h-1.0zM207.2,534.8h1.0v1.0h-1.0zM215.7,522.4h1.0v1.0h-1.0zM208.3,535.0h1.0v1.0h-1.0zM201.2,528.4h1.0v1.0h-1.0zM197.9,531.7h1.0v1.0h-1.0zM196.9,525.1h1.0v1.0h-1.0zM189.5,523.4h1.0v1.0h-1.0zM205.4,530.4h1.0v1.0h-1.0zM198.7,522.7h1.0v1.0h-1.0zM206.8,529.8h1.0v1.0h-1.0zM217.1,525.5h1.0v1.0h-1.0zM198.5,530.6h1.0v1.0h-1.0zM219.9,527.8h1.0v1.0h-1.0zM202.1,523.3h1.0v1.0h-1.0zM198.8,532.8h1.0v1.0h-1.0zM212.4,533.6h1.0v1.0h-1.0zM184.9,532.2h1.0v1.0h-1.0zM192.8,531.0h1.0v1.0h-1.0zM176.8,527.5h1.0v1.0h-1.0zM193.2,534.4h1.0v1.0h-1.0zM204.4,534.6h1.0v1.0h-1.0zM198.1,537.9h1.0v1.0h-1.0zM198.1,537.6h1.0v1.0h-1.0zM197.6,523.1h1.0v1.0h-1.0zM213.0,526.0h1.0v1.0h-1.0zM202.4,521.2h1.0v1.0h-1.0zM199.2,528.6h1.0v1.0h-1.0zM195.2,530.0h1.0v1.0h-1.0zM177.5,532.5h1.0v1.0h-1.0zM198.5,535.4h1.0v1.0h-1.0zM199.1,524.7h1.0v1.0h-1.0zM198.0,529.4h1.0v1.0h-1.0zM209.6,525.7h1.0v1.0h-1.0zM194.2,530.2h1.0v1.0h-1.0zM212.2,519.2h1.0v1.0h-1.0zM191.4,524.6h1.0v1.0h-1.0zM222.0,534.2h1.0v1.0h-1.0zM211.9,530.5h1.0v1.0h-1.0zM190.6,533.7h1.0v1.0h-1.0zM198.1,524.0h1.0v1.0h-1.0zM224.5,520.7h1.0v1.0h-1.0zM218.4,529.0h1.0v1.0h-1.0zM192.8,528.9h1.0v1.0h-1.0zM193.6,529.0h1.0v1.0h-1.0zM195.8,522.0h1.0v1.0h-1.0zM232.6,525.5h1.0v1.0h-1.0zM214.0,527.8h1.0v1.0h-1.0zM210.6,521.6h1.0v1.0h-1.0zM191.4,511.4h1.0v1.0h-1.0zM214.2,530.3h1.0v1.0h-1.0zM189.9,532.2h1.0v1.0h-1.0zM209.6,542.8h1.0v1.0h-1.0zM205.7,532.7h1.0v1.0h-1.0zM209.9,531.9h1.0v1.0h-1.0zM202.8,525.9h1.0v1.0h-1.0zM210.9,534.3h1.0v1.0h-1.0zM190.0,522.3h1.0v1.0h-1.0zM202.6,537.1h1.0v1.0h-1.0zM200.7,519.4h1.0v1.0h-1.0zM212.0,531.8h1.0v1.0h-1.0zM224.7,529.0h1.0v1.0h-1.0zM225.0,524.4h1.0v1.0h-1.0zM213.1,528.7h1.0v1.0h-1.0zM189.8,526.6h1.0v1.0h-1.0zM217.9,533.7h1.0v1.0h-1.0zM198.8,533.6h1.0v1.0h-1.0zM213.1,532.6h1.0v1.0h-1.0zM206.2,529.6h1.0v1.0h-1.0zM193.8,527.7h1.0v1.0h-1.0zM204.4,524.3h1.0v1.0h-1.0zM199.8,528.9h1.0v1.0h-1.0zM205.4,533.4h1.0v1.0h-1.0zM191.6,526.0h1.0v1.0h-1.0zM206.1,526.1h1.0v1.0h-1.0zM206.8,525.7h1.0v1.0h-1.0zM216.2,526.9h1.0v1.0h-1.0zM190.4,531.8h1.0v1.0h-1.0zM221.6,518.3h1.0v1.0h-1.0zM201.6,528.4h1.0v1.0h-1.0zM214.6,535.6h1.0v1.0h-1.0zM201.3,520.1h1.0v1.0h-1.0zM210.5,533.1h1.0v1.0h-1.0zM208.2,528.4h1.0v1.0h-1.0zM194.0,540.4h1.0v1.0h-1.0zM189.7,520.4h1.0v1.0h-1.0zM213.9,529.5h1.0v1.0h-1.0zM210.5,529.8h1.0v1.0h-1.0zM221.8,535.2h1.0v1.0h-1.0zM196.9,533.1h1.0v1.0h-1.0zM190.0,519.4h1.0v1.0h-1.0zM216.5,525.9h1.0v1.0h-1.0zM179.2,527.9h1.0v1.0h-1.0zM195.7,530.6h1.0v1.0h-1.0zM202.4,524.1h1.0v1.0h-1.0zM195.1,531.9h1.0v1.0h-1.0zM192.7,528.7h1.0v1.0h-1.0zM192.1,530.3h1.0v1.0h-1.0zM222.9,530.9h1.0v1.0h-1.0zM215.5,530.3h1.0v1.0h-1.0zM192.4,526.5h1.0v1.0h-1.0zM203.9,530.3h1.0v1.0h-1.0zM196.4,531.1h1.0v1.0h-1.0zM195.1,528.4h1.0v1.0h-1.0zM203.0,522.2h1.0v1.0h-1.0zM214.2,528.3h1.0v1.0h-1.0zM204.3,527.9h1.0v1.0h-1.0zM179.7,521.0h1.0v1.0h-1.0zM193.1,533.0h1.0v1.0h-1.0zM196.7,531.1h1.0v1.0h-1.0zM191.6,523.8h1.0v1.0h-1.0zM197.9,533.4h1.0v1.0h-1.0zM184.7,527.1h1.0v1.0h-1.0zM207.6,528.7h1.0v1.0h-1.0zM202.9,532.0h1.0v1.0h-1.0zM206.3,523.0h1.0v1.0h-1.0zM210.1,524.1h1.0v1.0h-1.0zM199.3,535.4h1.0v1.0h-1.0zM230.2,535.4h1.0v1.0h-1.0zM207.8,524.1h1.0v1.0h-1.0zM194.6,536.4h1.0v1.0h-1.0zM206.8,521.0h1.0v1.0h-1.0zM220.5,531.0h1.0v1.0h-1.0zM217.7,530.1h1.0v1.0h-1.0zM179.1,524.3h1.0v1.0h-1.0zM201.5,527.2h1.0v1.0h-1.0zM219.8,524.6h1.0v1.0h-1.0zM202.0,527.7h1.0v1.0h-1.0zM202.1,522.8h1.0v1.0h-1.0zM189.5,515.0h1.0v1.0h-1.0zM206.8,527.0h1.0v1.0h-1.0zM205.3,522.7h1.0v1.0h-1.0zM203.1,523.1h1.0v1.0h-1.0zM191.8,529.7h1.0v1.0h-1.0zM210.1,531.0h1.0v1.0h-1.0zM202.6,526.1h1.0v1.0h-1.0zM218.6,534.3h1.0v1.0h-1.0zM196.0,522.6h1.0v1.0h-1.0zM207.2,529.6h1.0v1.0h-1.0zM192.9,539.5h1.0v1.0h-1.0zM179.9,523.8h1.0v1.0h-1.0zM205.8,533.0h1.0v1.0h-1.0zM182.5,525.8h1.0v1.0h-1.0zM219.0,535.1h1.0v1.0h-1.0zM200.3,528.2h1.0v1.0h-1.0zM193.3,530.0h1.0v1.0h-1.0zM191.4,517.8h1.0v1.0h-1.0zM186.2,528.3h1.0v1.0h-1.0zM188.4,533.6h1.0v1.0h-1.0zM217.3,533.1h1.0v1.0h-1.0zM210.3,533.7h1.0v1.0h-1.0zM206.0,532.4h1.0v1.0h-1.0zM208.3,532.0h1.0v1.0h-1.0zM191.8,524.7h1.0v1.0h-1.0zM192.0,532.2h1.0v1.0h-1.0zM208.7,524.1h1.0v1.0h-1.0zM192.1,525.1h1.0v1.0h-1.0zM212.7,527.5h1.0v1.0h-1.0zM200.4,524.6h1.0v1.0h-1.0zM201.7,536.1h1.0v1.0h-1.0zM195.4,526.3h1.0v1.0h-1.0zM221.9,531.7h1.0v1.0h-1.0zM190.5,533.5h1.0v1.0h-1.0zM189.1,530.8h1.0v1.0h-1.0zM175.1,523.0h1.0v1.0h-1.0zM213.2,525.0h1.0v1.0h-1.0zM195.0,528.3h1.0v1.0h-1.0zM203.1,525.7h1.0v1.0h-1.0zM195.6,537.1h1.0v1.0h-1.0zM219.6,529.7h1.0v1.0h-1.0zM190.3,525.4h1.0v1.0h-1.0zM199.9,530.5h1.0v1.0h-1.0zM220.8,525.4h1.0v1.0h-1.0zM204.7,525.9h1.0v1.0h-1.0zM204.6,524.6h1.0v1.0h-1.0zM207.3,533.9h1.0v1.0h-1.0zM198.7,526.4h1.0v1.0h-1.0z" fill="#1a1a1a" opacity="1.0"/>
<path d="M207.7,512.2h1.0v1.0h-1.0zM231.6,511.9h1.0v1.0h-1.0zM201.0,516.1h1.0v1.0h-1.0zM227.2,519.7h1.0v1.0h-1.0zM199.0,541.2h1.0v1.0h-1.0zM204.4,517.0h1.0v1.0h-1.0zM206.0,525.8h1.0v1.0h-1.0zM195.6,522.4h1.0v1.0h-1.0zM203.1,530.6h1.0v1.0h-1.0zM216.9,531.6h1.0v1.0h-1.0zM204.4,531.3h1.0v1.0h-1.0zM203.1,534.6h1.0v1.0h-1.0zM211.8,520.2h1.0v1.0h-1.0zM223.5,510.4h1.0v1.0h-1.0zM192.4,516.8h1.0v1.0h-1.0zM204.3,512.9h1.0v1.0h-1.0zM189.2,507.0h1.0v1.0h-1.0zM207.7,517.1h1.0v1.0h-1.0zM237.0,531.1h1.0v1.0h-1.0zM190.0,536.0h1.0v1.0h-1.0zM207.6,533.8h1.0v1.0h-1.0zM190.5,534.6h1.0v1.0h-1.0zM221.6,520.3h1.0v1.0h-1.0zM194.1,520.6h1.0v1.0h-1.0zM209.8,545.9h1.0v1.0h-1.0zM231.6,537.7h1.0v1.0h-1.0zM203.0,521.1h1.0v1.0h-1.0zM211.3,521.6h1.0v1.0h-1.0zM199.5,522.2h1.0v1.0h-1.0zM218.0,523.5h1.0v1.0h-1.0zM209.5,521.7h1.0v1.0h-1.0zM203.4,521.1h1.0v1.0h-1.0zM223.9,526.2h1.0v1.0h-1.0zM227.2,522.5h1.0v1.0h-1.0zM221.1,511.6h1.0v1.0h-1.0zM200.4,523.5h1.0v1.0h-1.0zM197.2,523.0h1.0v1.0h-1.0zM193.1,522.6h1.0v1.0h-1.0zM196.7,524.0h1.0v1.0h-1.0zM201.9,515.0h1.0v1.0h-1.0zM200.4,524.3h1.0v1.0h-1.0zM188.2,524.9h1.0v1.0h-1.0zM223.7,522.0h1.0v1.0h-1.0zM213.8,529.7h1.0v1.0h-1.0zM194.8,536.0h1.0v1.0h-1.0zM241.5,514.8h1.0v1.0h-1.0zM236.3,517.7h1.0v1.0h-1.0zM226.6,507.7h1.0v1.0h-1.0zM222.1,525.3h1.0v1.0h-1.0zM188.1,516.6h1.0v1.0h-1.0zM191.3,515.9h1.0v1.0h-1.0zM211.4,522.4h1.0v1.0h-1.0zM170.8,521.3h1.0v1.0h-1.0zM212.7,524.9h1.0v1.0h-1.0zM229.9,507.4h1.0v1.0h-1.0zM209.5,524.3h1.0v1.0h-1.0zM216.3,511.9h1.0v1.0h-1.0zM187.7,522.5h1.0v1.0h-1.0zM207.2,507.7h1.0v1.0h-1.0zM211.3,524.0h1.0v1.0h-1.0zM216.4,500.4h1.0v1.0h-1.0zM213.2,516.0h1.0v1.0h-1.0zM199.4,531.1h1.0v1.0h-1.0zM229.9,525.4h1.0v1.0h-1.0zM204.6,535.9h1.0v1.0h-1.0zM193.5,522.7h1.0v1.0h-1.0zM199.0,515.2h1.0v1.0h-1.0zM208.8,542.5h1.0v1.0h-1.0zM209.6,528.6h1.0v1.0h-1.0zM205.7,534.3h1.0v1.0h-1.0zM208.6,516.1h1.0v1.0h-1.0zM207.5,537.1h1.0v1.0h-1.0zM204.9,534.9h1.0v1.0h-1.0zM205.1,542.4h1.0v1.0h-1.0zM210.1,530.0h1.0v1.0h-1.0zM202.0,531.6h1.0v1.0h-1.0zM202.9,510.7h1.0v1.0h-1.0zM210.4,513.1h1.0v1.0h-1.0zM226.9,531.2h1.0v1.0h-1.0zM206.3,530.3h1.0v1.0h-1.0zM169.6,538.0h1.0v1.0h-1.0zM197.0,530.1h1.0v1.0h-1.0zM242.2,509.4h1.0v1.0h-1.0zM200.3,527.2h1.0v1.0h-1.0zM212.0,508.8h1.0v1.0h-1.0zM193.0,537.5h1.0v1.0h-1.0zM197.6,529.1h1.0v1.0h-1.0zM186.8,515.8h1.0v1.0h-1.0zM180.4,526.5h1.0v1.0h-1.0zM222.4,524.9h1.0v1.0h-1.0zM202.2,526.3h1.0v1.0h-1.0zM212.7,521.4h1.0v1.0h-1.0zM213.9,541.8h1.0v1.0h-1.0zM237.4,518.9h1.0v1.0h-1.0zM188.3,541.4h1.0v1.0h-1.0zM219.9,535.1h1.0v1.0h-1.0zM214.6,522.0h1.0v1.0h-1.0zM219.9,534.2h1.0v1.0h-1.0zM222.7,514.2h1.0v1.0h-1.0zM220.6,520.9h1.0v1.0h-1.0zM201.1,527.3h1.0v1.0h-1.0zM201.2,545.1h1.0v1.0h-1.0zM214.1,526.5h1.0v1.0h-1.0zM203.4,526.3h1.0v1.0h-1.0zM202.9,529.4h1.0v1.0h-1.0zM218.3,531.7h1.0v1.0h-1.0zM188.4,521.1h1.0v1.0h-1.0zM207.3,513.0h1.0v1.0h-1.0zM211.5,522.8h1.0v1.0h-1.0zM206.9,527.5h1.0v1.0h-1.0zM197.4,538.2h1.0v1.0h-1.0zM220.7,519.1h1.0v1.0h-1.0zM212.7,530.8h1.0v1.0h-1.0zM195.4,520.9h1.0v1.0h-1.0zM216.0,500.7h1.0v1.0h-1.0zM187.6,527.1h1.0v1.0h-1.0zM214.9,515.7h1.0v1.0h-1.0zM218.2,544.1h1.0v1.0h-1.0zM209.1,523.7h1.0v1.0h-1.0zM207.1,514.9h1.0v1.0h-1.0zM213.9,525.7h1.0v1.0h-1.0zM216.6,537.0h1.0v1.0h-1.0zM206.7,525.7h1.0v1.0h-1.0zM210.7,539.8h1.0v1.0h-1.0zM185.6,524.1h1.0v1.0h-1.0zM197.3,525.2h1.0v1.0h-1.0zM217.9,524.7h1.0v1.0h-1.0zM216.5,525.8h1.0v1.0h-1.0zM196.1,518.1h1.0v1.0h-1.0zM186.7,526.1h1.0v1.0h-1.0zM200.6,531.7h1.0v1.0h-1.0zM219.8,516.1h1.0v1.0h-1.0zM190.9,529.6h1.0v1.0h-1.0zM193.8,526.0h1.0v1.0h-1.0zM214.7,520.6h1.0v1.0h-1.0zM231.2,517.1h1.0v1.0h-1.0zM212.2,520.4h1.0v1.0h-1.0zM165.6,522.6h1.0v1.0h-1.0zM203.9,529.3h1.0v1.0h-1.0zM204.3,517.5h1.0v1.0h-1.0zM198.9,521.4h1.0v1.0h-1.0zM216.8,521.6h1.0v1.0h-1.0zM223.5,531.9h1.0v1.0h-1.0zM195.7,533.4h1.0v1.0h-1.0zM174.3,524.4h1.0v1.0h-1.0zM192.4,523.2h1.0v1.0h-1.0zM222.4,524.1h1.0v1.0h-1.0zM203.8,535.7h1.0v1.0h-1.0zM195.5,516.6h1.0v1.0h-1.0zM219.9,529.7h1.0v1.0h-1.0zM186.1,525.5h1.0v1.0h-1.0zM217.2,522.6h1.0v1.0h-1.0zM200.5,525.3h1.0v1.0h-1.0zM209.2,517.7h1.0v1.0h-1.0zM217.9,509.8h1.0v1.0h-1.0zM205.1,543.4h1.0v1.0h-1.0zM191.2,523.8h1.0v1.0h-1.0zM174.2,516.6h1.0v1.0h-1.0zM190.0,524.7h1.0v1.0h-1.0zM199.2,540.7h1.0v1.0h-1.0zM193.2,523.8h1.0v1.0h-1.0zM209.2,529.9h1.0v1.0h-1.0zM218.7,510.0h1.0v1.0h-1.0zM237.0,521.3h1.0v1.0h-1.0zM196.1,509.2h1.0v1.0h-1.0zM199.9,508.1h1.0v1.0h-1.0zM208.8,518.7h1.0v1.0h-1.0zM210.7,517.0h1.0v1.0h-1.0zM207.2,544.2h1.0v1.0h-1.0zM222.6,525.5h1.0v1.0h-1.0zM192.3,537.3h1.0v1.0h-1.0zM182.3,511.3h1.0v1.0h-1.0zM224.3,518.7h1.0v1.0h-1.0zM225.1,529.3h1.0v1.0h-1.0zM236.7,540.2h1.0v1.0h-1.0zM214.3,518.4h1.0v1.0h-1.0zM214.4,536.7h1.0v1.0h-1.0zM208.1,497.9h1.0v1.0h-1.0zM200.8,520.8h1.0v1.0h-1.0zM205.3,520.9h1.0v1.0h-1.0zM222.1,512.6h1.0v1.0h-1.0zM212.3,506.1h1.0v1.0h-1.0zM175.6,514.9h1.0v1.0h-1.0zM195.5,516.0h1.0v1.0h-1.0zM196.2,529.6h1.0v1.0h-1.0zM214.2,524.8h1.0v1.0h-1.0zM208.9,517.8h1.0v1.0h-1.0zM192.2,511.2h1.0v1.0h-1.0zM200.2,513.8h1.0v1.0h-1.0zM201.5,530.6h1.0v1.0h-1.0zM213.8,536.0h1.0v1.0h-1.0zM193.0,504.2h1.0v1.0h-1.0zM190.5,542.0h1.0v1.0h-1.0zM215.9,520.1h1.0v1.0h-1.0zM224.6,520.3h1.0v1.0h-1.0zM229.5,520.4h1.0v1.0h-1.0zM200.3,530.3h1.0v1.0h-1.0zM190.0,522.5h1.0v1.0h-1.0zM233.2,528.0h1.0v1.0h-1.0zM190.5,521.7h1.0v1.0h-1.0zM205.6,517.2h1.0v1.0h-1.0zM211.8,535.3h1.0v1.0h-1.0zM206.7,532.0h1.0v1.0h-1.0zM210.1,525.3h1.0v1.0h-1.0zM195.5,532.7h1.0v1.0h-1.0zM225.0,519.9h1.0v1.0h-1.0zM193.7,528.7h1.0v1.0h-1.0zM207.5,534.2h1.0v1.0h-1.0zM212.9,522.8h1.0v1.0h-1.0zM186.6,529.6h1.0v1.0h-1.0zM207.4,512.6h1.0v1.0h-1.0zM185.1,507.5h1.0v1.0h-1.0zM214.7,520.1h1.0v1.0h-1.0zM159.4,516.1h1.0v1.0h-1.0zM197.1,523.0h1.0v1.0h-1.0zM206.5,520.9h1.0v1.0h-1.0zM216.4,533.2h1.0v1.0h-1.0zM202.8,538.2h1.0v1.0h-1.0zM204.2,516.2h1.0v1.0h-1.0zM208.1,511.1h1.0v1.0h-1.0zM201.8,514.4h1.0v1.0h-1.0zM199.9,525.8h1.0v1.0h-1.0zM171.6,527.5h1.0v1.0h-1.0zM209.6,522.0h1.0v1.0h-1.0zM216.0,527.1h1.0v1.0h-1.0zM200.9,514.9h1.0v1.0h-1.0zM216.2,530.8h1.0v1.0h-1.0zM185.3,517.4h1.0v1.0h-1.0zM189.4,531.5h1.0v1.0h-1.0zM197.9,512.7h1.0v1.0h-1.0zM227.1,528.1h1.0v1.0h-1.0zM209.2,526.2h1.0v1.0h-1.0zM203.5,524.3h1.0v1.0h-1.0zM218.5,528.0h1.0v1.0h-1.0zM199.5,524.8h1.0v1.0h-1.0zM232.2,519.0h1.0v1.0h-1.0zM187.4,525.0h1.0v1.0h-1.0zM189.9,547.7h1.0v1.0h-1.0zM214.7,529.2h1.0v1.0h-1.0zM211.1,541.7h1.0v1.0h-1.0zM191.6,523.5h1.0v1.0h-1.0zM182.5,535.2h1.0v1.0h-1.0zM204.8,539.9h1.0v1.0h-1.0zM202.0,514.5h1.0v1.0h-1.0zM196.0,531.2h1.0v1.0h-1.0zM194.3,526.3h1.0v1.0h-1.0zM195.7,517.5h1.0v1.0h-1.0zM198.0,538.6h1.0v1.0h-1.0zM190.8,526.8h1.0v1.0h-1.0zM217.2,517.2h1.0v1.0h-1.0zM184.7,537.5h1.0v1.0h-1.0zM230.3,521.7h1.0v1.0h-1.0zM189.0,531.8h1.0v1.0h-1.0zM205.3,516.5h1.0v1.0h-1.0zM200.4,502.3h1.0v1.0h-1.0zM194.4,512.9h1.0v1.0h-1.0zM187.3,529.2h1.0v1.0h-1.0zM209.6,539.3h1.0v1.0h-1.0zM168.0,517.9h1.0v1.0h-1.0zM194.0,535.9h1.0v1.0h-1.0zM220.4,525.0h1.0v1.0h-1.0zM207.1,517.1h1.0v1.0h-1.0zM198.5,519.8h1.0v1.0h-1.0zM170.2,541.1h1.0v1.0h-1.0zM216.2,542.8h1.0v1.0h-1.0zM223.2,528.4h1.0v1.0h-1.0zM217.6,508.5h1.0v1.0h-1.0zM191.5,531.6h1.0v1.0h-1.0zM200.4,509.2h1.0v1.0h-1.0zM205.6,512.2h1.0v1.0h-1.0zM205.8,538.1h1.0v1.0h-1.0zM189.7,519.8h1.0v1.0h-1.0zM213.6,523.6h1.0v1.0h-1.0zM208.4,516.2h1.0v1.0h-1.0zM201.0,502.2h1.0v1.0h-1.0zM203.2,535.5h1.0v1.0h-1.0zM189.9,522.1h1.0v1.0h-1.0zM215.8,534.9h1.0v1.0h-1.0zM222.2,515.8h1.0v1.0h-1.0zM199.8,539.8h1.0v1.0h-1.0z" fill="#333" opacity="1.0"/>
<path d="M327.8,494.6h1.0v1.0h-1.0zM325.7,490.6h1.0v1.0h-1.0zM313.9,491.1h1.0v1.0h-1.0zM318.2,489.1h1.0v1.0h-1.0zM324.9,499.2h1.0v1.0h-1.0zM334.6,495.1h1.0v1.0h-1.0zM327.5,487.5h1.0v1.0h-1.0zM333.0,489.9h1.0v1.0h-1.0zM329.7,497.4h1.0v1.0h-1.0zM329.3,493.3h1.0v1.0h-1.0zM324.8,497.9h1.0v1.0h-1.0zM333.3,496.4h1.0v1.0h-1.0zM339.4,486.5h1.0v1.0h-1.0zM330.5,496.1h1.0v1.0h-1.0zM332.2,494.7h1.0v1.0h-1.0zM333.0,486.9h1.0v1.0h-1.0zM329.9,498.3h1.0v1.0h-1.0zM330.1,492.6h1.0v1.0h-1.0zM335.1,485.9h1.0v1.0h-1.0zM332.6,499.9h1.0v1.0h-1.0zM328.9,489.9h1.0v1.0h-1.0zM333.3,491.5h1.0v1.0h-1.0zM325.8,494.1h1.0v1.0h-1.0zM321.1,496.2h1.0v1.0h-1.0zM323.7,491.0h1.0v1.0h-1.0zM334.4,493.3h1.0v1.0h-1.0zM331.8,499.3h1.0v1.0h-1.0zM338.8,502.3h1.0v1.0h-1.0zM327.3,497.3h1.0v1.0h-1.0zM321.1,496.8h1.0v1.0h-1.0zM337.6,490.3h1.0v1.0h-1.0zM332.9,497.0h1.0v1.0h-1.0zM329.5,490.7h1.0v1.0h-1.0zM338.8,487.8h1.0v1.0h-1.0zM331.3,497.5h1.0v1.0h-1.0zM331.7,500.1h1.0v1.0h-1.0zM338.6,495.4h1.0v1.0h-1.0zM340.2,496.6h1.0v1.0h-1.0zM323.5,492.0h1.0v1.0h-1.0zM331.9,494.2h1.0v1.0h-1.0zM320.9,503.2h1.0v1.0h-1.0zM321.6,488.6h1.0v1.0h-1.0zM332.9,494.2h1.0v1.0h-1.0zM338.9,494.4h1.0v1.0h-1.0zM332.5,496.5h1.0v1.0h-1.0zM326.3,487.9h1.0v1.0h-1.0zM327.8,497.7h1.0v1.0h-1.0zM328.8,498.7h1.0v1.0h-1.0zM327.3,496.6h1.0v1.0h-1.0zM330.5,497.0h1.0v1.0h-1.0zM330.4,494.3h1.0v1.0h-1.0zM327.8,498.7h1.0v1.0h-1.0zM330.2,495.5h1.0v1.0h-1.0zM334.0,489.6h1.0v1.0h-1.0zM325.8,493.2h1.0v1.0h-1.0zM337.5,488.9h1.0v1.0h-1.0zM324.7,489.2h1.0v1.0h-1.0zM328.2,488.9h1.0v1.0h-1.0zM325.8,495.7h1.0v1.0h-1.0zM324.3,493.4h1.0v1.0h-1.0zM323.8,492.6h1.0v1.0h-1.0zM333.3,484.9h1.0v1.0h-1.0zM330.7,494.4h1.0v1.0h-1.0zM330.1,494.5h1.0v1.0h-1.0zM332.7,487.9h1.0v1.0h-1.0zM329.7,496.2h1.0v1.0h-1.0zM337.6,487.6h1.0v1.0h-1.0zM327.1,487.6h1.0v1.0h-1.0zM330.3,488.9h1.0v1.0h-1.0zM324.9,496.7h1.0v1.0h-1.0zM342.9,484.7h1.0v1.0h-1.0zM339.6,489.5h1.0v1.0h-1.0zM334.2,494.9h1.0v1.0h-1.0zM337.3,492.5h1.0v1.0h-1.0zM325.8,493.2h1.0v1.0h-1.0zM334.8,489.6h1.0v1.0h-1.0zM332.7,493.4h1.0v1.0h-1.0zM331.4,493.5h1.0v1.0h-1.0zM333.8,496.8h1.0v1.0h-1.0zM328.8,491.9h1.0v1.0h-1.0zM318.5,489.7h1.0v1.0h-1.0zM321.9,496.3h1.0v1.0h-1.0zM324.4,490.5h1.0v1.0h-1.0zM333.3,497.7h1.0v1.0h-1.0zM337.2,489.8h1.0v1.0h-1.0zM331.7,498.0h1.0v1.0h-1.0zM325.7,492.5h1.0v1.0h-1.0zM323.6,490.7h1.0v1.0h-1.0zM334.4,493.8h1.0v1.0h-1.0zM328.4,491.1h1.0v1.0h-1.0zM338.9,496.6h1.0v1.0h-1.0zM323.5,502.6h1.0v1.0h-1.0zM328.1,492.8h1.0v1.0h-1.0zM327.7,491.0h1.0v1.0h-1.0zM334.0,487.3h1.0v1.0h-1.0zM330.6,492.1h1.0v1.0h-1.0zM340.1,495.1h1.0v1.0h-1.0zM332.8,495.7h1.0v1.0h-1.0zM333.7,494.0h1.0v1.0h-1.0zM316.8,495.2h1.0v1.0h-1.0zM328.7,496.4h1.0v1.0h-1.0zM332.2,491.1h1.0v1.0h-1.0zM325.5,489.1h1.0v1.0h-1.0zM332.0,493.0h1.0v1.0h-1.0zM325.5,491.9h1.0v1.0h-1.0zM332.4,490.6h1.0v1.0h-1.0zM329.7,490.9h1.0v1.0h-1.0zM316.1,493.8h1.0v1.0h-1.0zM330.8,496.9h1.0v1.0h-1.0zM337.7,490.4h1.0v1.0h-1.0zM333.7,494.6h1.0v1.0h-1.0zM330.9,497.0h1.0v1.0h-1.0zM335.3,488.1h1.0v1.0h-1.0zM338.6,492.7h1.0v1.0h-1.0zM326.7,490.5h1.0v1.0h-1.0zM329.2,488.7h1.0v1.0h-1.0zM336.5,495.3h1.0v1.0h-1.0zM325.4,496.9h1.0v1.0h-1.0zM331.7,493.8h1.0v1.0h-1.0zM335.8,493.1h1.0v1.0h-1.0zM329.0,495.6h1.0v1.0h-1.0zM320.3,488.4h1.0v1.0h-1.0zM333.2,498.0h1.0v1.0h-1.0zM321.1,493.5h1.0v1.0h-1.0zM326.8,492.3h1.0v1.0h-1.0zM333.8,499.8h1.0v1.0h-1.0zM340.2,497.5h1.0v1.0h-1.0zM334.0,494.1h1.0v1.0h-1.0zM320.1,495.1h1.0v1.0h-1.0zM323.8,488.8h1.0v1.0h-1.0zM331.1,486.8h1.0v1.0h-1.0zM340.2,496.0h1.0v1.0h-1.0zM332.5,495.5h1.0v1.0h-1.0zM331.8,493.7h1.0v1.0h-1.0zM334.4,490.6h1.0v1.0h-1.0zM332.0,494.2h1.0v1.0h-1.0zM334.7,488.8h1.0v1.0h-1.0zM331.8,492.9h1.0v1.0h-1.0zM333.9,495.7h1.0v1.0h-1.0zM331.5,495.4h1.0v1.0h-1.0zM332.9,499.2h1.0v1.0h-1.0zM332.1,495.7h1.0v1.0h-1.0zM325.3,492.6h1.0v1.0h-1.0zM334.7,497.9h1.0v1.0h-1.0zM325.1,493.3h1.0v1.0h-1.0zM329.0,493.7h1.0v1.0h-1.0zM327.8,491.7h1.0v1.0h-1.0zM330.1,494.0h1.0v1.0h-1.0zM336.1,489.9h1.0v1.0h-1.0zM325.1,496.8h1.0v1.0h-1.0zM333.2,492.7h1.0v1.0h-1.0zM324.1,497.9h1.0v1.0h-1.0zM324.5,498.2h1.0v1.0h-1.0zM331.8,492.8h1.0v1.0h-1.0zM329.5,496.9h1.0v1.0h-1.0zM330.5,486.1h1.0v1.0h-1.0zM326.6,484.4h1.0v1.0h-1.0zM332.7,497.4h1.0v1.0h-1.0zM336.1,487.8h1.0v1.0h-1.0zM342.2,501.1h1.0v1.0h-1.0zM329.8,485.1h1.0v1.0h-1.0zM325.6,497.9h1.0v1.0h-1.0zM341.9,491.2h1.0v1.0h-1.0zM320.3,489.4h1.0v1.0h-1.0zM341.0,493.4h1.0v1.0h-1.0zM322.7,484.6h1.0v1.0h-1.0zM334.0,496.9h1.0v1.0h-1.0zM327.8,492.6h1.0v1.0h-1.0zM330.9,492.0h1.0v1.0h-1.0zM327.4,491.0h1.0v1.0h-1.0zM327.2,498.6h1.0v1.0h-1.0zM332.7,497.8h1.0v1.0h-1.0zM340.6,483.8h1.0v1.0h-1.0zM330.1,497.5h1.0v1.0h-1.0zM329.3,490.9h1.0v1.0h-1.0zM332.6,491.2h1.0v1.0h-1.0zM325.8,492.2h1.0v1.0h-1.0zM330.7,493.5h1.0v1.0h-1.0zM335.4,493.5h1.0v1.0h-1.0zM327.8,506.3h1.0v1.0h-1.0zM329.2,492.3h1.0v1.0h-1.0zM329.7,490.5h1.0v1.0h-1.0zM321.8,494.3h1.0v1.0h-1.0zM338.5,485.8h1.0v1.0h-1.0zM326.3,495.3h1.0v1.0h-1.0zM326.7,495.7h1.0v1.0h-1.0zM330.2,488.8h1.0v1.0h-1.0zM329.3,491.3h1.0v1.0h-1.0zM333.4,482.8h1.0v1.0h-1.0zM332.7,499.1h1.0v1.0h-1.0zM331.3,494.5h1.0v1.0h-1.0zM327.5,494.9h1.0v1.0h-1.0zM329.6,488.1h1.0v1.0h-1.0zM323.9,483.7h1.0v1.0h-1.0zM332.8,494.2h1.0v1.0h-1.0zM336.4,494.5h1.0v1.0h-1.0zM334.3,487.8h1.0v1.0h-1.0zM320.2,491.1h1.0v1.0h-1.0zM328.6,495.0h1.0v1.0h-1.0zM329.7,492.8h1.0v1.0h-1.0zM330.7,494.5h1.0v1.0h-1.0zM331.6,494.8h1.0v1.0h-1.0zM327.7,493.1h1.0v1.0h-1.0zM322.3,488.8h1.0v1.0h-1.0zM328.9,495.3h1.0v1.0h-1.0zM326.3,487.5h1.0v1.0h-1.0zM335.7,489.9h1.0v1.0h-1.0zM321.0,489.4h1.0v1.0h-1.0zM323.9,483.3h1.0v1.0h-1.0zM328.3,500.6h1.0v1.0h-1.0zM326.3,490.0h1.0v1.0h-1.0zM336.7,493.8h1.0v1.0h-1.0zM329.9,499.2h1.0v1.0h-1.0zM323.9,493.2h1.0v1.0h-1.0zM333.2,494.3h1.0v1.0h-1.0zM324.0,489.5h1.0v1.0h-1.0zM340.2,493.1h1.0v1.0h-1.0zM329.0,498.0h1.0v1.0h-1.0zM320.6,493.2h1.0v1.0h-1.0zM320.7,499.3h1.0v1.0h-1.0zM325.0,493.9h1.0v1.0h-1.0zM325.4,494.0h1.0v1.0h-1.0zM332.2,493.5h1.0v1.0h-1.0zM328.7,494.5h1.0v1.0h-1.0zM329.1,491.3h1.0v1.0h-1.0zM333.9,497.1h1.0v1.0h-1.0zM323.0,489.2h1.0v1.0h-1.0zM326.2,494.7h1.0v1.0h-1.0zM322.7,500.0h1.0v1.0h-1.0zM330.7,494.1h1.0v1.0h-1.0zM335.3,490.3h1.0v1.0h-1.0zM332.5,495.2h1.0v1.0h-1.0zM337.6,489.1h1.0v1.0h-1.0zM338.1,496.0h1.0v1.0h-1.0zM331.8,497.9h1.0v1.0h-1.0zM329.1,492.7h1.0v1.0h-1.0zM335.1,492.0h1.0v1.0h-1.0zM336.4,499.2h1.0v1.0h-1.0zM331.7,494.2h1.0v1.0h-1.0zM326.9,489.6h1.0v1.0h-1.0zM338.4,489.2h1.0v1.0h-1.0zM331.0,494.7h1.0v1.0h-1.0zM325.6,490.6h1.0v1.0h-1.0zM326.6,502.4h1.0v1.0h-1.0zM332.5,499.3h1.0v1.0h-1.0zM341.7,497.7h1.0v1.0h-1.0zM337.7,491.7h1.0v1.0h-1.0zM326.7,499.6h1.0v1.0h-1.0zM338.5,489.2h1.0v1.0h-1.0zM336.8,494.8h1.0v1.0h-1.0zM334.9,497.6h1.0v1.0h-1.0zM341.0,490.9h1.0v1.0h-1.0zM330.6,498.8h1.0v1.0h-1.0zM329.1,495.8h1.0v1.0h-1.0zM330.1,486.4h1.0v1.0h-1.0zM327.5,497.3h1.0v1.0h-1.0zM327.6,487.1h1.0v1.0h-1.0zM327.8,494.0h1.0v1.0h-1.0zM333.3,494.9h1.0v1.0h-1.0zM333.5,489.1h1.0v1.0h-1.0zM327.3,490.3h1.0v1.0h-1.0zM328.2,495.4h1.0v1.0h-1.0zM337.9,492.6h1.0v1.0h-1.0zM336.4,498.2h1.0v1.0h-1.0zM324.3,490.2h1.0v1.0h-1.0zM331.4,487.8h1.0v1.0h-1.0zM340.9,485.7h1.0v1.0h-1.0zM323.9,496.9h1.0v1.0h-1.0zM326.5,496.6h1.0v1.0h-1.0zM325.2,498.0h1.0v1.0h-1.0zM327.4,496.6h1.0v1.0h-1.0zM336.1,487.3h1.0v1.0h-1.0zM325.8,486.3h1.0v1.0h-1.0zM324.5,497.5h1.0v1.0h-1.0zM330.5,497.2h1.0v1.0h-1.0zM338.4,497.9h1.0v1.0h-1.0zM334.6,491.8h1.0v1.0h-1.0zM328.5,495.0h1.0v1.0h-1.0zM335.4,498.2h1.0v1.0h-1.0zM332.3,492.4h1.0v1.0h-1.0zM330.2,500.6h1.0v1.0h-1.0zM332.2,502.0h1.0v1.0h-1.0zM326.8,497.3h1.0v1.0h-1.0zM331.9,496.8h1.0v1.0h-1.0zM326.5,495.0h1.0v1.0h-1.0zM330.3,492.5h1.0v1.0h-1.0zM324.1,487.7h1.0v1.0h-1.0zM328.8,495.9h1.0v1.0h-1.0zM332.1,494.7h1.0v1.0h-1.0zM332.5,488.0h1.0v1.0h-1.0zM336.5,493.9h1.0v1.0h-1.0zM326.6,491.4h1.0v1.0h-1.0zM336.1,494.5h1.0v1.0h-1.0zM321.6,502.4h1.0v1.0h-1.0zM322.6,500.8h1.0v1.0h-1.0zM335.4,489.5h1.0v1.0h-1.0zM337.5,498.9h1.0v1.0h-1.0zM336.4,496.4h1.0v1.0h-1.0zM332.5,494.6h1.0v1.0h-1.0zM327.8,494.8h1.0v1.0h-1.0zM337.7,493.2h1.0v1.0h-1.0zM341.5,487.2h1.0v1.0h-1.0zM330.9,487.5h1.0v1.0h-1.0zM321.1,494.7h1.0v1.0h-1.0zM328.9,491.3h1.0v1.0h-1.0zM324.9,492.7h1.0v1.0h-1.0zM321.8,492.9h1.0v1.0h-1.0zM327.8,488.4h1.0v1.0h-1.0zM333.0,485.9h1.0v1.0h-1.0zM333.1,494.8h1.0v1.0h-1.0zM333.6,494.2h1.0v1.0h-1.0zM335.1,492.6h1.0v1.0h-1.0zM324.8,495.3h1.0v1.0h-1.0zM326.4,492.2h1.0v1.0h-1.0zM331.4,489.8h1.0v1.0h-1.0zM336.1,487.2h1.0v1.0h-1.0zM337.4,493.5h1.0v1.0h-1.0zM340.0,498.3h1.0v1.0h-1.0zM334.4,494.9h1.0v1.0h-1.0zM331.4,487.9h1.0v1.0h-1.0z" fill="#1e1e1e" opacity="1.0"/>
<path d="M328.3,490.2h1.0v1.0h-1.0zM326.3,499.0h1.0v1.0h-1.0zM325.3,502.0h1.0v1.0h-1.0zM332.2,495.3h1.0v1.0h-1.0zM340.6,505.6h1.0v1.0h-1.0zM318.2,497.0h1.0v1.0h-1.0zM373.4,500.6h1.0v1.0h-1.0zM341.5,490.8h1.0v1.0h-1.0zM348.2,517.3h1.0v1.0h-1.0zM343.1,499.0h1.0v1.0h-1.0zM335.9,479.7h1.0v1.0h-1.0zM343.2,497.1h1.0v1.0h-1.0zM340.7,504.5h1.0v1.0h-1.0zM338.3,523.4h1.0v1.0h-1.0zM347.4,493.3h1.0v1.0h-1.0zM343.4,507.4h1.0v1.0h-1.0zM336.0,515.9h1.0v1.0h-1.0zM330.8,481.3h1.0v1.0h-1.0zM321.7,504.7h1.0v1.0h-1.0zM322.8,502.1h1.0v1.0h-1.0zM316.0,504.7h1.0v1.0h-1.0zM332.2,490.5h1.0v1.0h-1.0zM328.4,497.5h1.0v1.0h-1.0zM347.3,503.1h1.0v1.0h-1.0zM332.9,502.2h1.0v1.0h-1.0zM347.0,505.5h1.0v1.0h-1.0zM358.2,492.6h1.0v1.0h-1.0zM346.1,501.8h1.0v1.0h-1.0zM327.4,507.0h1.0v1.0h-1.0zM346.3,511.2h1.0v1.0h-1.0zM341.8,490.9h1.0v1.0h-1.0zM337.7,504.6h1.0v1.0h-1.0zM357.0,501.8h1.0v1.0h-1.0zM337.5,517.5h1.0v1.0h-1.0zM336.4,495.6h1.0v1.0h-1.0zM339.2,508.9h1.0v1.0h-1.0zM337.5,482.2h1.0v1.0h-1.0zM330.4,511.4h1.0v1.0h-1.0zM326.0,509.8h1.0v1.0h-1.0zM337.7,491.8h1.0v1.0h-1.0zM345.8,477.0h1.0v1.0h-1.0zM308.5,483.5h1.0v1.0h-1.0zM342.4,497.4h1.0v1.0h-1.0zM343.7,499.6h1.0v1.0h-1.0zM337.2,494.7h1.0v1.0h-1.0zM330.4,511.2h1.0v1.0h-1.0zM345.4,485.9h1.0v1.0h-1.0zM342.9,522.5h1.0v1.0h-1.0zM345.3,490.2h1.0v1.0h-1.0zM345.1,502.8h1.0v1.0h-1.0zM331.4,511.1h1.0v1.0h-1.0zM351.4,494.8h1.0v1.0h-1.0zM337.1,496.2h1.0v1.0h-1.0zM335.6,517.8h1.0v1.0h-1.0zM330.0,506.7h1.0v1.0h-1.0zM338.9,501.4h1.0v1.0h-1.0zM321.1,507.2h1.0v1.0h-1.0zM321.4,508.4h1.0v1.0h-1.0zM334.4,502.0h1.0v1.0h-1.0zM329.6,491.2h1.0v1.0h-1.0zM322.4,500.6h1.0v1.0h-1.0zM334.5,503.6h1.0v1.0h-1.0zM331.8,508.9h1.0v1.0h-1.0zM337.4,501.8h1.0v1.0h-1.0zM332.4,500.3h1.0v1.0h-1.0zM343.9,492.8h1.0v1.0h-1.0zM320.1,504.7h1.0v1.0h-1.0zM340.9,500.8h1.0v1.0h-1.0zM338.7,486.3h1.0v1.0h-1.0zM323.1,500.4h1.0v1.0h-1.0zM335.1,487.0h1.0v1.0h-1.0zM341.5,479.8h1.0v1.0h-1.0zM351.4,489.1h1.0v1.0h-1.0zM328.3,489.1h1.0v1.0h-1.0zM318.3,497.0h1.0v1.0h-1.0zM311.3,496.8h1.0v1.0h-1.0zM337.7,497.2h1.0v1.0h-1.0zM335.2,484.8h1.0v1.0h-1.0zM311.8,486.1h1.0v1.0h-1.0zM349.0,503.8h1.0v1.0h-1.0zM312.6,518.9h1.0v1.0h-1.0zM343.5,512.2h1.0v1.0h-1.0zM348.4,514.5h1.0v1.0h-1.0zM313.9,501.2h1.0v1.0h-1.0zM325.5,521.4h1.0v1.0h-1.0zM344.3,500.3h1.0v1.0h-1.0zM332.2,477.5h1.0v1.0h-1.0zM336.8,491.3h1.0v1.0h-1.0zM352.8,508.4h1.0v1.0h-1.0zM334.5,496.1h1.0v1.0h-1.0zM349.6,494.6h1.0v1.0h-1.0zM349.5,502.6h1.0v1.0h-1.0zM331.8,504.4h1.0v1.0h-1.0zM357.8,483.1h1.0v1.0h-1.0zM345.0,508.4h1.0v1.0h-1.0zM332.2,516.3h1.0v1.0h-1.0zM344.0,506.3h1.0v1.0h-1.0zM322.6,506.6h1.0v1.0h-1.0zM318.9,505.9h1.0v1.0h-1.0zM363.0,490.7h1.0v1.0h-1.0zM355.4,488.6h1.0v1.0h-1.0zM336.3,508.2h1.0v1.0h-1.0zM316.9,504.0h1.0v1.0h-1.0zM325.5,493.7h1.0v1.0h-1.0zM346.2,499.5h1.0v1.0h-1.0zM340.6,500.6h1.0v1.0h-1.0zM340.3,517.2h1.0v1.0h-1.0zM337.0,497.3h1.0v1.0h-1.0zM335.8,508.2h1.0v1.0h-1.0zM341.3,477.1h1.0v1.0h-1.0zM334.5,505.1h1.0v1.0h-1.0zM368.9,493.9h1.0v1.0h-1.0zM331.9,487.8h1.0v1.0h-1.0zM334.6,481.2h1.0v1.0h-1.0zM324.7,499.5h1.0v1.0h-1.0zM316.1,497.5h1.0v1.0h-1.0zM326.6,514.0h1.0v1.0h-1.0zM355.9,523.3h1.0v1.0h-1.0zM337.2,507.6h1.0v1.0h-1.0zM365.8,493.4h1.0v1.0h-1.0zM357.2,490.5h1.0v1.0h-1.0zM349.0,483.4h1.0v1.0h-1.0zM330.3,498.2h1.0v1.0h-1.0zM332.2,479.2h1.0v1.0h-1.0zM337.0,497.2h1.0v1.0h-1.0zM354.5,506.7h1.0v1.0h-1.0zM307.6,501.8h1.0v1.0h-1.0zM349.1,499.3h1.0v1.0h-1.0zM326.3,485.5h1.0v1.0h-1.0zM330.7,490.1h1.0v1.0h-1.0zM331.9,496.8h1.0v1.0h-1.0zM351.9,489.6h1.0v1.0h-1.0zM339.7,488.4h1.0v1.0h-1.0zM339.0,511.6h1.0v1.0h-1.0zM328.1,487.4h1.0v1.0h-1.0zM335.9,500.6h1.0v1.0h-1.0zM327.2,504.9h1.0v1.0h-1.0zM336.3,507.7h1.0v1.0h-1.0zM317.7,508.6h1.0v1.0h-1.0zM351.7,491.4h1.0v1.0h-1.0zM360.9,502.9h1.0v1.0h-1.0zM318.7,488.7h1.0v1.0h-1.0zM325.8,493.3h1.0v1.0h-1.0zM332.3,503.6h1.0v1.0h-1.0zM332.8,496.9h1.0v1.0h-1.0zM323.0,478.0h1.0v1.0h-1.0zM326.2,486.9h1.0v1.0h-1.0zM346.8,474.0h1.0v1.0h-1.0zM350.1,469.2h1.0v1.0h-1.0zM332.8,500.5h1.0v1.0h-1.0zM321.0,489.7h1.0v1.0h-1.0zM346.7,488.5h1.0v1.0h-1.0zM334.2,500.8h1.0v1.0h-1.0zM343.8,486.5h1.0v1.0h-1.0zM352.4,498.6h1.0v1.0h-1.0zM348.5,484.9h1.0v1.0h-1.0zM349.5,499.3h1.0v1.0h-1.0zM345.4,493.3h1.0v1.0h-1.0zM346.5,500.7h1.0v1.0h-1.0zM310.9,527.6h1.0v1.0h-1.0zM326.8,505.4h1.0v1.0h-1.0zM332.9,495.4h1.0v1.0h-1.0zM330.5,510.4h1.0v1.0h-1.0zM347.5,510.5h1.0v1.0h-1.0zM314.3,509.2h1.0v1.0h-1.0zM315.9,525.6h1.0v1.0h-1.0zM340.4,512.8h1.0v1.0h-1.0zM335.3,501.8h1.0v1.0h-1.0zM326.2,522.2h1.0v1.0h-1.0zM331.1,512.3h1.0v1.0h-1.0zM324.9,498.7h1.0v1.0h-1.0zM330.3,499.1h1.0v1.0h-1.0zM328.8,507.3h1.0v1.0h-1.0zM343.9,482.7h1.0v1.0h-1.0zM329.7,485.9h1.0v1.0h-1.0zM349.3,486.5h1.0v1.0h-1.0zM341.5,502.0h1.0v1.0h-1.0zM334.7,478.9h1.0v1.0h-1.0zM357.4,498.7h1.0v1.0h-1.0zM344.2,511.9h1.0v1.0h-1.0zM322.4,489.4h1.0v1.0h-1.0zM357.7,521.6h1.0v1.0h-1.0zM324.7,499.4h1.0v1.0h-1.0zM347.7,498.7h1.0v1.0h-1.0zM352.5,507.0h1.0v1.0h-1.0zM334.4,507.7h1.0v1.0h-1.0zM329.2,514.2h1.0v1.0h-1.0zM326.8,514.7h1.0v1.0h-1.0zM368.0,481.1h1.0v1.0h-1.0zM357.5,484.1h1.0v1.0h-1.0z" fill="#444" opacity="1.0"/>
<path d="M485.8,529.9h1.0v1.0h-1.0zM492.7,520.6h1.0v1.0h-1.0zM488.4,516.7h1.0v1.0h-1.0zM489.0,513.7h1.0v1.0h-1.0zM484.5,505.4h1.0v1.0h-1.0zM496.7,515.1h1.0v1.0h-1.0zM497.6,521.2h1.0v1.0h-1.0zM488.9,506.5h1.0v1.0h-1.0zM484.7,515.6h1.0v1.0h-1.0zM485.5,512.9h1.0v1.0h-1.0zM472.5,512.0h1.0v1.0h-1.0zM484.7,511.4h1.0v1.0h-1.0zM484.3,502.8h1.0v1.0h-1.0zM481.1,527.1h1.0v1.0h-1.0zM480.5,511.1h1.0v1.0h-1.0zM481.2,514.0h1.0v1.0h-1.0zM483.1,531.3h1.0v1.0h-1.0zM480.0,526.1h1.0v1.0h-1.0zM483.4,518.9h1.0v1.0h-1.0zM501.4,515.2h1.0v1.0h-1.0zM486.2,492.3h1.0v1.0h-1.0zM484.2,513.5h1.0v1.0h-1.0zM487.0,517.2h1.0v1.0h-1.0zM479.6,507.8h1.0v1.0h-1.0zM490.8,513.2h1.0v1.0h-1.0zM486.4,520.6h1.0v1.0h-1.0zM486.9,516.5h1.0v1.0h-1.0zM479.7,515.3h1.0v1.0h-1.0zM476.0,529.5h1.0v1.0h-1.0zM481.6,528.8h1.0v1.0h-1.0zM483.3,514.2h1.0v1.0h-1.0zM494.1,517.0h1.0v1.0h-1.0zM487.4,513.2h1.0v1.0h-1.0zM484.7,509.4h1.0v1.0h-1.0zM481.6,501.0h1.0v1.0h-1.0zM485.4,509.1h1.0v1.0h-1.0zM494.7,532.4h1.0v1.0h-1.0zM497.7,505.8h1.0v1.0h-1.0zM484.1,514.3h1.0v1.0h-1.0zM477.1,527.9h1.0v1.0h-1.0zM490.6,517.7h1.0v1.0h-1.0zM497.9,519.3h1.0v1.0h-1.0zM484.5,517.6h1.0v1.0h-1.0zM483.5,519.2h1.0v1.0h-1.0zM478.4,519.5h1.0v1.0h-1.0zM484.5,512.0h1.0v1.0h-1.0zM484.0,514.4h1.0v1.0h-1.0zM475.8,520.2h1.0v1.0h-1.0zM485.1,529.8h1.0v1.0h-1.0zM486.2,523.0h1.0v1.0h-1.0zM486.1,514.3h1.0v1.0h-1.0zM479.0,511.7h1.0v1.0h-1.0zM482.8,496.0h1.0v1.0h-1.0zM484.5,509.7h1.0v1.0h-1.0zM488.2,523.7h1.0v1.0h-1.0zM484.5,525.0h1.0v1.0h-1.0zM493.8,521.6h1.0v1.0h-1.0zM484.3,516.3h1.0v1.0h-1.0zM496.2,527.9h1.0v1.0h-1.0zM493.2,501.6h1.0v1.0h-1.0zM472.7,529.7h1.0v1.0h-1.0zM490.6,526.3h1.0v1.0h-1.0zM489.8,513.0h1.0v1.0h-1.0zM489.1,515.1h1.0v1.0h-1.0zM495.4,522.2h1.0v1.0h-1.0zM480.6,509.4h1.0v1.0h-1.0zM492.5,522.6h1.0v1.0h-1.0zM488.1,518.2h1.0v1.0h-1.0zM478.8,508.6h1.0v1.0h-1.0zM489.5,500.8h1.0v1.0h-1.0zM489.3,520.2h1.0v1.0h-1.0zM490.3,522.3h1.0v1.0h-1.0zM497.9,517.9h1.0v1.0h-1.0zM481.5,501.8h1.0v1.0h-1.0zM472.8,516.3h1.0v1.0h-1.0zM491.7,502.1h1.0v1.0h-1.0zM487.4,509.8h1.0v1.0h-1.0zM484.8,517.2h1.0v1.0h-1.0zM486.6,506.0h1.0v1.0h-1.0zM490.9,514.4h1.0v1.0h-1.0zM475.1,521.7h1.0v1.0h-1.0zM495.9,512.4h1.0v1.0h-1.0zM496.1,502.8h1.0v1.0h-1.0zM484.9,526.0h1.0v1.0h-1.0zM494.3,519.7h1.0v1.0h-1.0zM492.8,512.2h1.0v1.0h-1.0zM490.7,523.2h1.0v1.0h-1.0zM492.1,518.6h1.0v1.0h-1.0zM491.5,519.0h1.0v1.0h-1.0zM490.1,503.1h1.0v1.0h-1.0zM490.0,508.0h1.0v1.0h-1.0zM484.1,516.0h1.0v1.0h-1.0zM487.9,504.9h1.0v1.0h-1.0zM483.2,517.4h1.0v1.0h-1.0zM483.9,515.7h1.0v1.0h-1.0zM487.8,517.2h1.0v1.0h-1.0zM483.1,517.0h1.0v1.0h-1.0zM489.8,505.3h1.0v1.0h-1.0zM491.1,507.5h1.0v1.0h-1.0zM488.6,520.4h1.0v1.0h-1.0zM490.2,506.0h1.0v1.0h-1.0zM480.8,506.0h1.0v1.0h-1.0zM489.8,516.6h1.0v1.0h-1.0zM475.5,521.4h1.0v1.0h-1.0zM493.5,511.3h1.0v1.0h-1.0zM485.9,517.5h1.0v1.0h-1.0zM480.3,512.0h1.0v1.0h-1.0zM489.7,512.7h1.0v1.0h-1.0zM486.3,516.4h1.0v1.0h-1.0zM496.7,517.6h1.0v1.0h-1.0zM488.4,511.7h1.0v1.0h-1.0zM493.8,516.0h1.0v1.0h-1.0zM486.2,526.0h1.0v1.0h-1.0zM494.5,508.0h1.0v1.0h-1.0zM484.5,525.7h1.0v1.0h-1.0zM483.5,528.1h1.0v1.0h-1.0zM485.4,531.1h1.0v1.0h-1.0zM480.5,499.8h1.0v1.0h-1.0zM477.6,531.4h1.0v1.0h-1.0zM482.0,512.0h1.0v1.0h-1.0zM482.9,509.5h1.0v1.0h-1.0zM487.3,516.5h1.0v1.0h-1.0zM482.6,511.2h1.0v1.0h-1.0zM494.4,523.1h1.0v1.0h-1.0zM492.3,525.4h1.0v1.0h-1.0zM485.2,522.5h1.0v1.0h-1.0zM496.3,508.8h1.0v1.0h-1.0zM494.5,495.7h1.0v1.0h-1.0zM474.8,503.7h1.0v1.0h-1.0zM480.3,507.6h1.0v1.0h-1.0zM483.4,522.0h1.0v1.0h-1.0zM481.9,512.4h1.0v1.0h-1.0zM478.5,502.6h1.0v1.0h-1.0zM485.2,509.4h1.0v1.0h-1.0zM491.7,516.3h1.0v1.0h-1.0zM475.4,521.2h1.0v1.0h-1.0zM479.1,512.2h1.0v1.0h-1.0zM480.0,508.7h1.0v1.0h-1.0zM482.7,505.8h1.0v1.0h-1.0zM481.8,513.1h1.0v1.0h-1.0zM490.6,521.0h1.0v1.0h-1.0zM497.0,502.3h1.0v1.0h-1.0zM483.9,525.1h1.0v1.0h-1.0zM479.4,514.0h1.0v1.0h-1.0zM490.6,527.7h1.0v1.0h-1.0zM489.7,517.9h1.0v1.0h-1.0zM485.3,520.3h1.0v1.0h-1.0zM486.9,518.1h1.0v1.0h-1.0zM482.4,514.3h1.0v1.0h-1.0zM480.9,506.5h1.0v1.0h-1.0zM481.1,508.5h1.0v1.0h-1.0zM482.2,510.7h1.0v1.0h-1.0zM477.1,517.7h1.0v1.0h-1.0zM488.1,527.7h1.0v1.0h-1.0zM472.0,503.9h1.0v1.0h-1.0zM480.4,508.3h1.0v1.0h-1.0zM486.6,508.4h1.0v1.0h-1.0zM481.6,521.1h1.0v1.0h-1.0zM485.1,502.3h1.0v1.0h-1.0zM491.9,533.2h1.0v1.0h-1.0zM493.0,513.9h1.0v1.0h-1.0zM494.4,514.7h1.0v1.0h-1.0zM484.1,517.3h1.0v1.0h-1.0zM494.0,516.2h1.0v1.0h-1.0zM484.4,504.1h1.0v1.0h-1.0zM487.3,506.6h1.0v1.0h-1.0zM485.6,504.1h1.0v1.0h-1.0zM481.0,507.5h1.0v1.0h-1.0zM482.2,506.1h1.0v1.0h-1.0zM493.6,521.5h1.0v1.0h-1.0zM484.2,506.9h1.0v1.0h-1.0zM492.7,513.3h1.0v1.0h-1.0zM489.6,523.3h1.0v1.0h-1.0zM483.7,518.7h1.0v1.0h-1.0zM488.9,511.8h1.0v1.0h-1.0zM485.1,510.3h1.0v1.0h-1.0zM465.8,512.1h1.0v1.0h-1.0zM496.1,523.4h1.0v1.0h-1.0zM502.5,515.8h1.0v1.0h-1.0zM491.5,510.3h1.0v1.0h-1.0zM481.7,508.2h1.0v1.0h-1.0zM488.9,521.4h1.0v1.0h-1.0zM474.7,520.8h1.0v1.0h-1.0zM491.6,521.5h1.0v1.0h-1.0zM478.5,516.8h1.0v1.0h-1.0zM488.1,504.6h1.0v1.0h-1.0zM479.4,532.8h1.0v1.0h-1.0zM482.1,511.3h1.0v1.0h-1.0zM474.5,510.3h1.0v1.0h-1.0zM494.3,518.3h1.0v1.0h-1.0zM481.1,515.5h1.0v1.0h-1.0zM488.3,519.9h1.0v1.0h-1.0zM480.2,518.2h1.0v1.0h-1.0zM482.2,511.2h1.0v1.0h-1.0zM481.0,508.8h1.0v1.0h-1.0zM489.1,501.1h1.0v1.0h-1.0zM487.3,536.9h1.0v1.0h-1.0zM480.8,512.9h1.0v1.0h-1.0zM485.7,527.6h1.0v1.0h-1.0zM477.6,519.7h1.0v1.0h-1.0zM485.6,530.9h1.0v1.0h-1.0zM484.9,531.1h1.0v1.0h-1.0zM480.4,518.1h1.0v1.0h-1.0zM479.6,510.4h1.0v1.0h-1.0zM478.7,512.0h1.0v1.0h-1.0zM495.4,510.9h1.0v1.0h-1.0zM500.9,528.0h1.0v1.0h-1.0zM488.0,515.3h1.0v1.0h-1.0zM488.0,509.2h1.0v1.0h-1.0zM489.7,515.9h1.0v1.0h-1.0zM474.4,515.5h1.0v1.0h-1.0zM489.6,515.6h1.0v1.0h-1.0zM488.0,515.2h1.0v1.0h-1.0zM483.2,523.5h1.0v1.0h-1.0zM494.5,512.7h1.0v1.0h-1.0zM490.9,506.5h1.0v1.0h-1.0zM493.6,508.6h1.0v1.0h-1.0zM486.4,522.7h1.0v1.0h-1.0zM483.1,515.5h1.0v1.0h-1.0zM492.1,510.8h1.0v1.0h-1.0zM488.1,523.9h1.0v1.0h-1.0zM487.6,509.0h1.0v1.0h-1.0zM483.8,513.2h1.0v1.0h-1.0zM486.2,520.1h1.0v1.0h-1.0zM476.9,514.6h1.0v1.0h-1.0zM487.3,527.1h1.0v1.0h-1.0zM477.4,508.1h1.0v1.0h-1.0zM491.4,514.8h1.0v1.0h-1.0zM492.6,514.8h1.0v1.0h-1.0zM482.3,514.7h1.0v1.0h-1.0z" fill="#2a2a2a" opacity="1.0"/>
<path d="M488.4,532.1h1.0v1.0h-1.0zM478.1,525.8h1.0v1.0h-1.0zM486.8,530.9h1.0v1.0h-1.0zM478.6,532.1h1.0v1.0h-1.0zM477.2,512.1h1.0v1.0h-1.0zM485.1,537.3h1.0v1.0h-1.0zM489.9,523.5h1.0v1.0h-1.0zM464.3,528.6h1.0v1.0h-1.0zM470.4,503.9h1.0v1.0h-1.0zM477.7,515.9h1.0v1.0h-1.0zM476.9,518.9h1.0v1.0h-1.0zM484.2,533.4h1.0v1.0h-1.0zM481.1,536.9h1.0v1.0h-1.0zM470.9,549.8h1.0v1.0h-1.0zM459.2,532.2h1.0v1.0h-1.0zM486.3,519.9h1.0v1.0h-1.0zM477.4,511.3h1.0v1.0h-1.0zM471.8,527.3h1.0v1.0h-1.0zM463.7,503.2h1.0v1.0h-1.0zM472.7,515.1h1.0v1.0h-1.0zM466.7,522.4h1.0v1.0h-1.0zM462.6,536.0h1.0v1.0h-1.0zM487.5,524.5h1.0v1.0h-1.0zM470.4,523.5h1.0v1.0h-1.0zM475.1,515.6h1.0v1.0h-1.0zM469.8,528.7h1.0v1.0h-1.0zM467.3,517.3h1.0v1.0h-1.0zM471.7,513.4h1.0v1.0h-1.0zM478.7,510.4h1.0v1.0h-1.0zM485.2,531.8h1.0v1.0h-1.0zM475.8,533.3h1.0v1.0h-1.0zM486.8,520.0h1.0v1.0h-1.0zM475.6,517.6h1.0v1.0h-1.0zM472.6,520.0h1.0v1.0h-1.0zM476.9,529.7h1.0v1.0h-1.0zM497.6,527.7h1.0v1.0h-1.0zM485.3,521.7h1.0v1.0h-1.0zM492.2,525.4h1.0v1.0h-1.0zM474.4,521.1h1.0v1.0h-1.0zM476.4,519.9h1.0v1.0h-1.0zM477.8,543.0h1.0v1.0h-1.0zM476.8,516.0h1.0v1.0h-1.0zM458.1,523.0h1.0v1.0h-1.0zM466.3,515.9h1.0v1.0h-1.0zM477.5,527.8h1.0v1.0h-1.0zM480.6,536.4h1.0v1.0h-1.0zM466.9,517.1h1.0v1.0h-1.0zM467.5,513.3h1.0v1.0h-1.0zM469.7,515.0h1.0v1.0h-1.0zM482.7,512.7h1.0v1.0h-1.0zM497.3,502.1h1.0v1.0h-1.0zM484.1,507.3h1.0v1.0h-1.0zM471.3,511.0h1.0v1.0h-1.0zM476.1,529.1h1.0v1.0h-1.0zM472.0,517.0h1.0v1.0h-1.0zM466.4,515.0h1.0v1.0h-1.0zM467.7,516.7h1.0v1.0h-1.0zM476.6,533.3h1.0v1.0h-1.0zM469.2,502.4h1.0v1.0h-1.0zM472.4,532.7h1.0v1.0h-1.0zM466.0,527.8h1.0v1.0h-1.0zM464.7,510.3h1.0v1.0h-1.0zM478.0,504.1h1.0v1.0h-1.0zM471.9,495.0h1.0v1.0h-1.0zM465.7,527.8h1.0v1.0h-1.0zM471.0,516.2h1.0v1.0h-1.0zM481.0,514.0h1.0v1.0h-1.0zM464.7,519.3h1.0v1.0h-1.0zM475.0,525.2h1.0v1.0h-1.0zM474.0,536.3h1.0v1.0h-1.0zM481.2,522.2h1.0v1.0h-1.0zM498.0,507.1h1.0v1.0h-1.0zM478.1,515.4h1.0v1.0h-1.0zM496.5,526.7h1.0v1.0h-1.0zM483.7,527.9h1.0v1.0h-1.0zM489.9,517.8h1.0v1.0h-1.0zM484.5,505.4h1.0v1.0h-1.0zM481.2,535.7h1.0v1.0h-1.0zM484.1,530.0h1.0v1.0h-1.0zM457.6,524.5h1.0v1.0h-1.0zM472.4,539.8h1.0v1.0h-1.0zM480.9,530.6h1.0v1.0h-1.0zM488.3,529.2h1.0v1.0h-1.0zM462.5,515.0h1.0v1.0h-1.0zM455.4,536.5h1.0v1.0h-1.0zM473.8,510.0h1.0v1.0h-1.0zM480.4,519.1h1.0v1.0h-1.0zM472.7,537.4h1.0v1.0h-1.0zM455.8,508.0h1.0v1.0h-1.0zM474.7,520.9h1.0v1.0h-1.0zM486.5,519.8h1.0v1.0h-1.0zM480.7,541.9h1.0v1.0h-1.0zM462.4,508.4h1.0v1.0h-1.0zM468.7,521.3h1.0v1.0h-1.0zM465.0,526.3h1.0v1.0h-1.0zM468.1,535.6h1.0v1.0h-1.0zM480.5,530.8h1.0v1.0h-1.0zM477.7,525.7h1.0v1.0h-1.0zM459.8,521.2h1.0v1.0h-1.0zM458.4,537.6h1.0v1.0h-1.0zM464.6,513.8h1.0v1.0h-1.0zM471.2,546.9h1.0v1.0h-1.0zM464.9,541.4h1.0v1.0h-1.0zM476.9,551.1h1.0v1.0h-1.0zM473.4,517.7h1.0v1.0h-1.0zM475.3,517.6h1.0v1.0h-1.0zM468.7,531.1h1.0v1.0h-1.0zM471.2,533.0h1.0v1.0h-1.0zM481.4,533.4h1.0v1.0h-1.0zM490.8,534.9h1.0v1.0h-1.0zM466.4,537.8h1.0v1.0h-1.0zM451.6,537.0h1.0v1.0h-1.0zM487.4,512.2h1.0v1.0h-1.0zM488.0,503.5h1.0v1.0h-1.0zM485.4,519.2h1.0v1.0h-1.0zM472.8,521.7h1.0v1.0h-1.0zM470.1,531.4h1.0v1.0h-1.0zM475.1,523.1h1.0v1.0h-1.0zM476.1,519.7h1.0v1.0h-1.0zM465.8,529.9h1.0v1.0h-1.0zM483.7,511.0h1.0v1.0h-1.0zM484.9,537.0h1.0v1.0h-1.0zM477.3,539.2h1.0v1.0h-1.0zM454.6,538.2h1.0v1.0h-1.0zM468.4,526.8h1.0v1.0h-1.0zM466.7,549.7h1.0v1.0h-1.0zM471.7,530.7h1.0v1.0h-1.0zM461.5,520.4h1.0v1.0h-1.0zM479.8,522.4h1.0v1.0h-1.0zM468.3,539.5h1.0v1.0h-1.0zM460.7,524.5h1.0v1.0h-1.0zM474.0,519.7h1.0v1.0h-1.0zM481.9,526.1h1.0v1.0h-1.0zM473.9,530.6h1.0v1.0h-1.0zM474.9,529.3h1.0v1.0h-1.0zM488.0,526.2h1.0v1.0h-1.0zM476.3,517.5h1.0v1.0h-1.0zM489.4,533.9h1.0v1.0h-1.0zM480.8,526.9h1.0v1.0h-1.0zM467.6,524.5h1.0v1.0h-1.0zM478.6,511.2h1.0v1.0h-1.0zM466.4,522.4h1.0v1.0h-1.0zM494.3,527.5h1.0v1.0h-1.0zM461.6,537.2h1.0v1.0h-1.0zM484.4,531.2h1.0v1.0h-1.0zM470.4,522.4h1.0v1.0h-1.0zM496.9,535.6h1.0v1.0h-1.0zM520.2,504.2h1.0v1.0h-1.0zM460.4,519.1h1.0v1.0h-1.0zM466.8,516.5h1.0v1.0h-1.0zM482.8,537.9h1.0v1.0h-1.0zM461.9,529.8h1.0v1.0h-1.0zM484.1,526.4h1.0v1.0h-1.0zM488.9,536.1h1.0v1.0h-1.0zM467.9,525.2h1.0v1.0h-1.0zM478.4,510.9h1.0v1.0h-1.0zM473.5,534.6h1.0v1.0h-1.0zM479.5,524.0h1.0v1.0h-1.0zM500.9,530.4h1.0v1.0h-1.0zM485.1,514.5h1.0v1.0h-1.0zM487.6,519.0h1.0v1.0h-1.0zM474.0,519.3h1.0v1.0h-1.0zM463.3,529.9h1.0v1.0h-1.0zM463.8,532.7h1.0v1.0h-1.0zM467.9,537.4h1.0v1.0h-1.0zM479.0,536.3h1.0v1.0h-1.0zM465.0,529.9h1.0v1.0h-1.0zM483.0,526.8h1.0v1.0h-1.0zM474.7,517.5h1.0v1.0h-1.0zM444.1,529.2h1.0v1.0h-1.0zM463.4,512.6h1.0v1.0h-1.0zM479.4,495.3h1.0v1.0h-1.0zM468.4,531.2h1.0v1.0h-1.0zM476.1,521.5h1.0v1.0h-1.0zM468.2,525.7h1.0v1.0h-1.0zM460.8,517.8h1.0v1.0h-1.0zM483.6,514.0h1.0v1.0h-1.0zM474.5,519.8h1.0v1.0h-1.0zM463.6,502.6h1.0v1.0h-1.0zM467.3,515.5h1.0v1.0h-1.0zM465.7,523.2h1.0v1.0h-1.0zM478.9,530.6h1.0v1.0h-1.0zM479.3,511.3h1.0v1.0h-1.0zM489.4,527.6h1.0v1.0h-1.0zM483.0,510.0h1.0v1.0h-1.0zM486.5,548.5h1.0v1.0h-1.0zM480.9,535.9h1.0v1.0h-1.0zM470.2,525.6h1.0v1.0h-1.0zM475.3,531.0h1.0v1.0h-1.0zM477.4,526.8h1.0v1.0h-1.0zM467.0,511.1h1.0v1.0h-1.0zM475.8,551.1h1.0v1.0h-1.0zM466.2,529.6h1.0v1.0h-1.0zM489.0,517.0h1.0v1.0h-1.0zM459.8,527.9h1.0v1.0h-1.0zM475.5,514.6h1.0v1.0h-1.0zM490.7,531.6h1.0v1.0h-1.0zM475.8,509.1h1.0v1.0h-1.0zM488.2,536.2h1.0v1.0h-1.0zM484.1,541.5h1.0v1.0h-1.0z" fill="#444" opacity="1.0"/>
<path d="M455.8,526.1h1.0v1.0h-1.0zM468.9,533.2h1.0v1.0h-1.0zM462.6,528.6h1.0v1.0h-1.0zM470.0,532.2h1.0v1.0h-1.0zM468.9,525.4h1.0v1.0h-1.0zM463.4,533.0h1.0v1.0h-1.0zM470.0,522.8h1.0v1.0h-1.0zM461.6,527.8h1.0v1.0h-1.0zM463.0,530.3h1.0v1.0h-1.0zM465.9,534.9h1.0v1.0h-1.0zM464.8,530.6h1.0v1.0h-1.0zM469.1,537.9h1.0v1.0h-1.0zM463.4,527.1h1.0v1.0h-1.0zM475.2,535.5h1.0v1.0h-1.0zM478.0,529.0h1.0v1.0h-1.0zM460.3,530.2h1.0v1.0h-1.0zM462.4,523.8h1.0v1.0h-1.0zM468.8,523.6h1.0v1.0h-1.0zM443.8,530.8h1.0v1.0h-1.0zM455.6,532.3h1.0v1.0h-1.0zM455.0,524.3h1.0v1.0h-1.0zM448.8,524.8h1.0v1.0h-1.0zM461.0,541.5h1.0v1.0h-1.0zM467.7,527.8h1.0v1.0h-1.0zM472.3,532.2h1.0v1.0h-1.0zM450.0,522.3h1.0v1.0h-1.0zM452.5,528.1h1.0v1.0h-1.0zM463.3,528.0h1.0v1.0h-1.0zM459.2,526.3h1.0v1.0h-1.0zM464.2,534.9h1.0v1.0h-1.0zM455.6,537.2h1.0v1.0h-1.0zM457.2,529.6h1.0v1.0h-1.0zM474.6,534.0h1.0v1.0h-1.0zM463.3,521.5h1.0v1.0h-1.0zM463.6,529.2h1.0v1.0h-1.0zM461.5,536.5h1.0v1.0h-1.0zM459.2,539.9h1.0v1.0h-1.0zM463.3,531.8h1.0v1.0h-1.0zM460.9,531.5h1.0v1.0h-1.0zM472.4,532.2h1.0v1.0h-1.0zM456.1,527.2h1.0v1.0h-1.0zM471.1,533.7h1.0v1.0h-1.0zM457.1,530.4h1.0v1.0h-1.0zM463.7,533.9h1.0v1.0h-1.0zM456.3,531.5h1.0v1.0h-1.0zM454.0,527.2h1.0v1.0h-1.0zM461.4,537.7h1.0v1.0h-1.0zM462.4,539.3h1.0v1.0h-1.0zM465.7,537.4h1.0v1.0h-1.0zM461.9,522.1h1.0v1.0h-1.0zM447.9,528.9h1.0v1.0h-1.0zM475.4,530.2h1.0v1.0h-1.0zM459.5,534.1h1.0v1.0h-1.0zM460.4,529.1h1.0v1.0h-1.0zM464.4,533.0h1.0v1.0h-1.0zM459.0,527.0h1.0v1.0h-1.0zM474.2,526.7h1.0v1.0h-1.0zM456.7,530.1h1.0v1.0h-1.0zM462.0,532.5h1.0v1.0h-1.0zM473.9,537.5h1.0v1.0h-1.0zM462.7,531.6h1.0v1.0h-1.0zM469.8,530.4h1.0v1.0h-1.0zM464.2,525.6h1.0v1.0h-1.0zM465.8,530.6h1.0v1.0h-1.0zM453.0,532.2h1.0v1.0h-1.0zM478.4,532.7h1.0v1.0h-1.0zM457.4,537.4h1.0v1.0h-1.0zM465.5,532.0h1.0v1.0h-1.0zM473.6,535.6h1.0v1.0h-1.0zM477.6,527.0h1.0v1.0h-1.0zM460.0,530.6h1.0v1.0h-1.0zM464.4,525.1h1.0v1.0h-1.0zM465.0,524.1h1.0v1.0h-1.0zM459.1,529.8h1.0v1.0h-1.0zM464.8,532.6h1.0v1.0h-1.0zM457.7,532.7h1.0v1.0h-1.0zM465.1,530.6h1.0v1.0h-1.0zM463.2,528.5h1.0v1.0h-1.0zM475.6,537.8h1.0v1.0h-1.0zM464.8,537.6h1.0v1.0h-1.0zM456.9,528.4h1.0v1.0h-1.0zM460.7,533.2h1.0v1.0h-1.0zM460.7,526.5h1.0v1.0h-1.0zM452.6,525.5h1.0v1.0h-1.0zM469.5,533.4h1.0v1.0h-1.0zM453.2,540.3h1.0v1.0h-1.0zM459.6,528.7h1.0v1.0h-1.0zM461.8,531.2h1.0v1.0h-1.0zM460.3,530.8h1.0v1.0h-1.0zM468.4,535.5h1.0v1.0h-1.0z" fill="#333" opacity="1.0"/>
</svg>
</body></html>
